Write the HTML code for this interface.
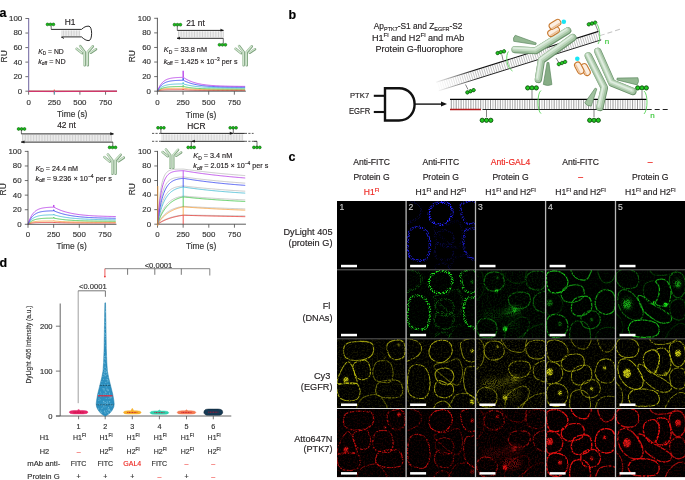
<!DOCTYPE html>
<html><head><meta charset="utf-8"><style>
html,body{margin:0;padding:0;background:#fff;overflow:hidden}
svg text{font-family:"Liberation Sans",sans-serif}
</style></head><body>
<svg width="685" height="480" viewBox="0 0 685 480" style="display:block;will-change:transform;font-family:'Liberation Sans',sans-serif">
<rect width="685" height="480" fill="#fff"/>
<text x="-0.50" y="17.00" font-size="12.5" text-anchor="start" fill="#000" font-weight="bold"  stroke="#000" stroke-width="0.16">a</text>
<text x="288.50" y="19.00" font-size="12.5" text-anchor="start" fill="#000" font-weight="bold"  stroke="#000" stroke-width="0.16">b</text>
<text x="288.50" y="161.00" font-size="12.5" text-anchor="start" fill="#000" font-weight="bold"  stroke="#000" stroke-width="0.16">c</text>
<text x="-0.50" y="266.50" font-size="12.5" text-anchor="start" fill="#000" font-weight="bold"  stroke="#000" stroke-width="0.16">d</text>
<line x1="28.60" y1="18.00" x2="28.60" y2="91.20" stroke="#4a4a4a" stroke-width="0.9" />
<line x1="28.60" y1="91.20" x2="117.04" y2="91.20" stroke="#4a4a4a" stroke-width="0.9" />
<line x1="25.40" y1="91.20" x2="28.60" y2="91.20" stroke="#4a4a4a" stroke-width="0.8" />
<text x="22.20" y="93.60" font-size="7.9" text-anchor="end" fill="#333" font-weight="normal"  stroke="#333" stroke-width="0.16">0</text>
<line x1="25.40" y1="76.66" x2="28.60" y2="76.66" stroke="#4a4a4a" stroke-width="0.8" />
<text x="22.20" y="79.06" font-size="7.9" text-anchor="end" fill="#333" font-weight="normal"  stroke="#333" stroke-width="0.16">20</text>
<line x1="25.40" y1="62.12" x2="28.60" y2="62.12" stroke="#4a4a4a" stroke-width="0.8" />
<text x="22.20" y="64.52" font-size="7.9" text-anchor="end" fill="#333" font-weight="normal"  stroke="#333" stroke-width="0.16">40</text>
<line x1="25.40" y1="47.58" x2="28.60" y2="47.58" stroke="#4a4a4a" stroke-width="0.8" />
<text x="22.20" y="49.98" font-size="7.9" text-anchor="end" fill="#333" font-weight="normal"  stroke="#333" stroke-width="0.16">60</text>
<line x1="25.40" y1="33.04" x2="28.60" y2="33.04" stroke="#4a4a4a" stroke-width="0.8" />
<text x="22.20" y="35.44" font-size="7.9" text-anchor="end" fill="#333" font-weight="normal"  stroke="#333" stroke-width="0.16">80</text>
<line x1="25.40" y1="18.50" x2="28.60" y2="18.50" stroke="#4a4a4a" stroke-width="0.8" />
<text x="22.20" y="20.90" font-size="7.9" text-anchor="end" fill="#333" font-weight="normal"  stroke="#333" stroke-width="0.16">100</text>
<line x1="28.60" y1="91.20" x2="28.60" y2="94.70" stroke="#4a4a4a" stroke-width="0.8" />
<text x="28.60" y="104.60" font-size="7.9" text-anchor="middle" fill="#333" font-weight="normal"  stroke="#333" stroke-width="0.16">0</text>
<line x1="54.25" y1="91.20" x2="54.25" y2="94.70" stroke="#4a4a4a" stroke-width="0.8" />
<text x="54.25" y="104.60" font-size="7.9" text-anchor="middle" fill="#333" font-weight="normal"  stroke="#333" stroke-width="0.16">250</text>
<line x1="79.90" y1="91.20" x2="79.90" y2="94.70" stroke="#4a4a4a" stroke-width="0.8" />
<text x="79.90" y="104.60" font-size="7.9" text-anchor="middle" fill="#333" font-weight="normal"  stroke="#333" stroke-width="0.16">500</text>
<line x1="105.55" y1="91.20" x2="105.55" y2="94.70" stroke="#4a4a4a" stroke-width="0.8" />
<text x="105.55" y="104.60" font-size="7.9" text-anchor="middle" fill="#333" font-weight="normal"  stroke="#333" stroke-width="0.16">750</text>
<text x="72.20" y="116.70" font-size="8.4" text-anchor="middle" fill="#333" font-weight="normal"  stroke="#333" stroke-width="0.16">Time (s)</text>
<text x="0" y="0" font-size="8.4" text-anchor="middle" fill="#333" transform="translate(6.5,56.35) rotate(-90)" stroke="#333" stroke-width="0.16">RU</text>
<path d="M28.6,91.4 L54,91.6 L117,91.2" stroke="#b232e6" stroke-width="0.9" fill="none"/>
<path d="M28.6,91.2 L117,91.2" stroke="#e8302a" stroke-width="0.9" fill="none"/>
<line x1="54.30" y1="89.50" x2="54.30" y2="93.50" stroke="#e8302a" stroke-width="0.8" />
<line x1="54.50" y1="91.00" x2="54.50" y2="94.30" stroke="#3ab8d0" stroke-width="0.7" />
<line x1="28.70" y1="18.50" x2="28.70" y2="91.00" stroke="#9b8cd8" stroke-width="0.8" />
<path d="M157.40,91.20 L157.91,91.00 L158.43,90.82 L158.94,90.67 L159.45,90.54 L159.97,90.43 L160.48,90.33 L160.99,90.25 L161.50,90.18 L162.02,90.12 L162.53,90.07 L163.04,90.02 L163.56,89.98 L164.07,89.95 L164.58,89.92 L165.09,89.89 L165.61,89.87 L166.12,89.86 L166.63,89.84 L167.15,89.83 L167.66,89.81 L168.17,89.80 L168.69,89.79 L169.20,89.79 L169.71,89.78 L170.22,89.78 L170.74,89.77 L171.25,89.77 L171.76,89.76 L172.28,89.76 L172.79,89.76 L173.30,89.76 L173.82,89.75 L174.33,89.75 L174.84,89.75 L175.36,89.75 L175.87,89.75 L176.38,89.75 L176.89,89.75 L177.41,89.75 L177.92,89.74 L178.43,89.74 L178.95,89.74 L179.46,89.74 L179.97,89.74 L180.49,89.74 L181.00,89.74 L181.51,89.74 L182.02,89.74 L182.54,89.74 L183.05,89.74 L183.15,89.01 L183.36,89.74 L183.56,89.76 L184.38,89.81 L185.20,89.86 L186.03,89.91 L186.85,89.95 L187.67,89.99 L188.49,90.03 L189.31,90.06 L190.13,90.09 L190.95,90.12 L191.77,90.15 L192.59,90.17 L193.41,90.20 L194.23,90.22 L195.05,90.24 L195.88,90.26 L196.70,90.27 L197.52,90.29 L198.34,90.30 L199.16,90.31 L199.98,90.33 L200.80,90.34 L201.62,90.35 L202.44,90.36 L203.26,90.37 L204.08,90.37 L204.90,90.38 L205.72,90.39 L206.55,90.39 L207.37,90.40 L208.19,90.41 L209.01,90.41 L209.83,90.42 L210.65,90.42 L211.47,90.42 L212.29,90.43 L213.11,90.43 L213.93,90.43 L214.75,90.44 L215.57,90.44 L216.40,90.44 L217.22,90.44 L218.04,90.45 L218.86,90.45 L219.68,90.45 L220.50,90.45 L221.32,90.45 L222.14,90.45 L222.96,90.46 L223.78,90.46 L224.60,90.46 L225.42,90.46 L226.24,90.46 L227.07,90.46 L227.89,90.46 L228.71,90.46 L229.53,90.46 L230.35,90.46 L231.17,90.46 L231.99,90.46 L232.81,90.47 L233.63,90.47 L234.45,90.47 L235.27,90.47 L236.09,90.47 L236.92,90.47 L237.74,90.47 L238.56,90.47 L239.38,90.47 L240.20,90.47 L241.02,90.47 L241.84,90.47 L242.66,90.47 L243.48,90.47 L244.30,90.47 L245.12,90.47" fill="none" stroke="#e8302a" stroke-width="0.8"/>
<path d="M157.40,91.20 L157.91,90.86 L158.43,90.55 L158.94,90.29 L159.45,90.05 L159.97,89.84 L160.48,89.66 L160.99,89.50 L161.50,89.35 L162.02,89.23 L162.53,89.12 L163.04,89.02 L163.56,88.93 L164.07,88.85 L164.58,88.79 L165.09,88.73 L165.61,88.67 L166.12,88.63 L166.63,88.59 L167.15,88.55 L167.66,88.52 L168.17,88.49 L168.69,88.47 L169.20,88.44 L169.71,88.42 L170.22,88.41 L170.74,88.39 L171.25,88.38 L171.76,88.37 L172.28,88.36 L172.79,88.35 L173.30,88.34 L173.82,88.33 L174.33,88.33 L174.84,88.32 L175.36,88.32 L175.87,88.31 L176.38,88.31 L176.89,88.30 L177.41,88.30 L177.92,88.30 L178.43,88.30 L178.95,88.29 L179.46,88.29 L179.97,88.29 L180.49,88.29 L181.00,88.29 L181.51,88.29 L182.02,88.29 L182.54,88.28 L183.05,88.28 L183.15,87.56 L183.36,88.28 L183.56,88.31 L184.38,88.42 L185.20,88.52 L186.03,88.62 L186.85,88.70 L187.67,88.78 L188.49,88.86 L189.31,88.93 L190.13,88.99 L190.95,89.05 L191.77,89.10 L192.59,89.15 L193.41,89.19 L194.23,89.24 L195.05,89.28 L195.88,89.31 L196.70,89.34 L197.52,89.38 L198.34,89.40 L199.16,89.43 L199.98,89.45 L200.80,89.48 L201.62,89.50 L202.44,89.52 L203.26,89.53 L204.08,89.55 L204.90,89.56 L205.72,89.58 L206.55,89.59 L207.37,89.60 L208.19,89.61 L209.01,89.62 L209.83,89.63 L210.65,89.64 L211.47,89.65 L212.29,89.66 L213.11,89.66 L213.93,89.67 L214.75,89.67 L215.57,89.68 L216.40,89.68 L217.22,89.69 L218.04,89.69 L218.86,89.70 L219.68,89.70 L220.50,89.70 L221.32,89.71 L222.14,89.71 L222.96,89.71 L223.78,89.71 L224.60,89.72 L225.42,89.72 L226.24,89.72 L227.07,89.72 L227.89,89.72 L228.71,89.72 L229.53,89.73 L230.35,89.73 L231.17,89.73 L231.99,89.73 L232.81,89.73 L233.63,89.73 L234.45,89.73 L235.27,89.73 L236.09,89.73 L236.92,89.73 L237.74,89.73 L238.56,89.74 L239.38,89.74 L240.20,89.74 L241.02,89.74 L241.84,89.74 L242.66,89.74 L243.48,89.74 L244.30,89.74 L245.12,89.74" fill="none" stroke="#f59a32" stroke-width="0.8"/>
<path d="M157.40,91.20 L157.91,90.75 L158.43,90.34 L158.94,89.96 L159.45,89.63 L159.97,89.32 L160.48,89.05 L160.99,88.80 L161.50,88.57 L162.02,88.37 L162.53,88.18 L163.04,88.02 L163.56,87.87 L164.07,87.73 L164.58,87.61 L165.09,87.49 L165.61,87.39 L166.12,87.30 L166.63,87.22 L167.15,87.14 L167.66,87.07 L168.17,87.01 L168.69,86.96 L169.20,86.91 L169.71,86.86 L170.22,86.82 L170.74,86.78 L171.25,86.75 L171.76,86.72 L172.28,86.69 L172.79,86.67 L173.30,86.64 L173.82,86.62 L174.33,86.61 L174.84,86.59 L175.36,86.57 L175.87,86.56 L176.38,86.55 L176.89,86.54 L177.41,86.53 L177.92,86.52 L178.43,86.51 L178.95,86.50 L179.46,86.49 L179.97,86.49 L180.49,86.48 L181.00,86.48 L181.51,86.47 L182.02,86.47 L182.54,86.46 L183.05,86.46 L183.15,85.37 L183.36,86.46 L183.56,86.51 L184.38,86.70 L185.20,86.88 L186.03,87.05 L186.85,87.20 L187.67,87.34 L188.49,87.47 L189.31,87.58 L190.13,87.69 L190.95,87.80 L191.77,87.89 L192.59,87.98 L193.41,88.06 L194.23,88.13 L195.05,88.20 L195.88,88.26 L196.70,88.32 L197.52,88.37 L198.34,88.42 L199.16,88.47 L199.98,88.51 L200.80,88.55 L201.62,88.58 L202.44,88.62 L203.26,88.65 L204.08,88.67 L204.90,88.70 L205.72,88.72 L206.55,88.75 L207.37,88.77 L208.19,88.79 L209.01,88.80 L209.83,88.82 L210.65,88.83 L211.47,88.85 L212.29,88.86 L213.11,88.87 L213.93,88.88 L214.75,88.89 L215.57,88.90 L216.40,88.91 L217.22,88.92 L218.04,88.93 L218.86,88.93 L219.68,88.94 L220.50,88.94 L221.32,88.95 L222.14,88.95 L222.96,88.96 L223.78,88.96 L224.60,88.97 L225.42,88.97 L226.24,88.97 L227.07,88.98 L227.89,88.98 L228.71,88.98 L229.53,88.98 L230.35,88.99 L231.17,88.99 L231.99,88.99 L232.81,88.99 L233.63,88.99 L234.45,89.00 L235.27,89.00 L236.09,89.00 L236.92,89.00 L237.74,89.00 L238.56,89.00 L239.38,89.00 L240.20,89.00 L241.02,89.00 L241.84,89.00 L242.66,89.01 L243.48,89.01 L244.30,89.01 L245.12,89.01" fill="none" stroke="#36c23e" stroke-width="0.8"/>
<path d="M157.40,91.20 L157.91,90.50 L158.43,89.87 L158.94,89.30 L159.45,88.78 L159.97,88.31 L160.48,87.89 L160.99,87.51 L161.50,87.16 L162.02,86.84 L162.53,86.56 L163.04,86.30 L163.56,86.07 L164.07,85.86 L164.58,85.67 L165.09,85.50 L165.61,85.34 L166.12,85.20 L166.63,85.07 L167.15,84.96 L167.66,84.85 L168.17,84.76 L168.69,84.67 L169.20,84.60 L169.71,84.53 L170.22,84.46 L170.74,84.41 L171.25,84.35 L171.76,84.31 L172.28,84.26 L172.79,84.23 L173.30,84.19 L173.82,84.16 L174.33,84.13 L174.84,84.11 L175.36,84.08 L175.87,84.06 L176.38,84.04 L176.89,84.02 L177.41,84.01 L177.92,83.99 L178.43,83.98 L178.95,83.97 L179.46,83.96 L179.97,83.95 L180.49,83.94 L181.00,83.93 L181.51,83.93 L182.02,83.92 L182.54,83.92 L183.05,83.91 L183.15,82.45 L183.36,83.91 L183.56,83.97 L184.38,84.22 L185.20,84.45 L186.03,84.66 L186.85,84.86 L187.67,85.05 L188.49,85.23 L189.31,85.40 L190.13,85.55 L190.95,85.70 L191.77,85.84 L192.59,85.97 L193.41,86.09 L194.23,86.20 L195.05,86.31 L195.88,86.41 L196.70,86.50 L197.52,86.59 L198.34,86.67 L199.16,86.75 L199.98,86.82 L200.80,86.89 L201.62,86.95 L202.44,87.01 L203.26,87.07 L204.08,87.12 L204.90,87.17 L205.72,87.22 L206.55,87.26 L207.37,87.30 L208.19,87.34 L209.01,87.38 L209.83,87.41 L210.65,87.44 L211.47,87.47 L212.29,87.50 L213.11,87.53 L213.93,87.55 L214.75,87.57 L215.57,87.59 L216.40,87.61 L217.22,87.63 L218.04,87.65 L218.86,87.67 L219.68,87.68 L220.50,87.70 L221.32,87.71 L222.14,87.72 L222.96,87.74 L223.78,87.75 L224.60,87.76 L225.42,87.77 L226.24,87.78 L227.07,87.79 L227.89,87.79 L228.71,87.80 L229.53,87.81 L230.35,87.82 L231.17,87.82 L231.99,87.83 L232.81,87.83 L233.63,87.84 L234.45,87.84 L235.27,87.85 L236.09,87.85 L236.92,87.86 L237.74,87.86 L238.56,87.87 L239.38,87.87 L240.20,87.87 L241.02,87.87 L241.84,87.88 L242.66,87.88 L243.48,87.88 L244.30,87.88 L245.12,87.89" fill="none" stroke="#3ab8d0" stroke-width="0.8"/>
<path d="M157.40,91.20 L157.91,90.15 L158.43,89.20 L158.94,88.35 L159.45,87.57 L159.97,86.87 L160.48,86.23 L160.99,85.66 L161.50,85.14 L162.02,84.67 L162.53,84.24 L163.04,83.86 L163.56,83.51 L164.07,83.19 L164.58,82.91 L165.09,82.65 L165.61,82.41 L166.12,82.20 L166.63,82.01 L167.15,81.84 L167.66,81.68 L168.17,81.54 L168.69,81.41 L169.20,81.29 L169.71,81.19 L170.22,81.09 L170.74,81.01 L171.25,80.93 L171.76,80.86 L172.28,80.80 L172.79,80.74 L173.30,80.69 L173.82,80.64 L174.33,80.60 L174.84,80.56 L175.36,80.52 L175.87,80.49 L176.38,80.46 L176.89,80.44 L177.41,80.41 L177.92,80.39 L178.43,80.37 L178.95,80.36 L179.46,80.34 L179.97,80.33 L180.49,80.31 L181.00,80.30 L181.51,80.29 L182.02,80.28 L182.54,80.27 L183.05,80.27 L183.15,78.08 L183.36,80.27 L183.56,80.37 L184.38,80.80 L185.20,81.19 L186.03,81.57 L186.85,81.91 L187.67,82.24 L188.49,82.55 L189.31,82.84 L190.13,83.11 L190.95,83.36 L191.77,83.60 L192.59,83.82 L193.41,84.03 L194.23,84.22 L195.05,84.41 L195.88,84.58 L196.70,84.74 L197.52,84.89 L198.34,85.04 L199.16,85.17 L199.98,85.30 L200.80,85.41 L201.62,85.52 L202.44,85.63 L203.26,85.72 L204.08,85.81 L204.90,85.90 L205.72,85.98 L206.55,86.05 L207.37,86.13 L208.19,86.19 L209.01,86.25 L209.83,86.31 L210.65,86.37 L211.47,86.42 L212.29,86.46 L213.11,86.51 L213.93,86.55 L214.75,86.59 L215.57,86.63 L216.40,86.66 L217.22,86.70 L218.04,86.73 L218.86,86.76 L219.68,86.78 L220.50,86.81 L221.32,86.83 L222.14,86.85 L222.96,86.87 L223.78,86.89 L224.60,86.91 L225.42,86.93 L226.24,86.95 L227.07,86.96 L227.89,86.98 L228.71,86.99 L229.53,87.00 L230.35,87.01 L231.17,87.02 L231.99,87.03 L232.81,87.04 L233.63,87.05 L234.45,87.06 L235.27,87.07 L236.09,87.08 L236.92,87.08 L237.74,87.09 L238.56,87.10 L239.38,87.10 L240.20,87.11 L241.02,87.11 L241.84,87.12 L242.66,87.12 L243.48,87.13 L244.30,87.13 L245.12,87.13" fill="none" stroke="#2c3cf0" stroke-width="0.8"/>
<path d="M157.40,91.20 L157.91,89.87 L158.43,88.67 L158.94,87.59 L159.45,86.60 L159.97,85.71 L160.48,84.91 L160.99,84.18 L161.50,83.52 L162.02,82.92 L162.53,82.39 L163.04,81.90 L163.56,81.46 L164.07,81.06 L164.58,80.69 L165.09,80.37 L165.61,80.07 L166.12,79.80 L166.63,79.56 L167.15,79.34 L167.66,79.14 L168.17,78.96 L168.69,78.80 L169.20,78.65 L169.71,78.52 L170.22,78.40 L170.74,78.29 L171.25,78.19 L171.76,78.10 L172.28,78.02 L172.79,77.95 L173.30,77.88 L173.82,77.82 L174.33,77.77 L174.84,77.72 L175.36,77.68 L175.87,77.64 L176.38,77.60 L176.89,77.57 L177.41,77.54 L177.92,77.51 L178.43,77.49 L178.95,77.46 L179.46,77.44 L179.97,77.43 L180.49,77.41 L181.00,77.40 L181.51,77.38 L182.02,77.37 L182.54,77.36 L183.05,77.35 L183.15,70.79 L183.36,77.35 L183.56,77.49 L184.38,78.05 L185.20,78.57 L186.03,79.06 L186.85,79.52 L187.67,79.95 L188.49,80.35 L189.31,80.73 L190.13,81.09 L190.95,81.42 L191.77,81.73 L192.59,82.03 L193.41,82.30 L194.23,82.56 L195.05,82.80 L195.88,83.03 L196.70,83.24 L197.52,83.44 L198.34,83.63 L199.16,83.80 L199.98,83.97 L200.80,84.12 L201.62,84.27 L202.44,84.40 L203.26,84.53 L204.08,84.65 L204.90,84.76 L205.72,84.87 L206.55,84.97 L207.37,85.06 L208.19,85.15 L209.01,85.23 L209.83,85.30 L210.65,85.38 L211.47,85.44 L212.29,85.51 L213.11,85.57 L213.93,85.62 L214.75,85.67 L215.57,85.72 L216.40,85.77 L217.22,85.81 L218.04,85.85 L218.86,85.89 L219.68,85.92 L220.50,85.96 L221.32,85.99 L222.14,86.02 L222.96,86.05 L223.78,86.07 L224.60,86.10 L225.42,86.12 L226.24,86.14 L227.07,86.16 L227.89,86.18 L228.71,86.20 L229.53,86.21 L230.35,86.23 L231.17,86.24 L231.99,86.26 L232.81,86.27 L233.63,86.28 L234.45,86.29 L235.27,86.30 L236.09,86.31 L236.92,86.32 L237.74,86.33 L238.56,86.34 L239.38,86.35 L240.20,86.35 L241.02,86.36 L241.84,86.37 L242.66,86.37 L243.48,86.38 L244.30,86.38 L245.12,86.39" fill="none" stroke="#b232e6" stroke-width="0.8"/>
<line x1="157.40" y1="17.80" x2="157.40" y2="91.20" stroke="#4a4a4a" stroke-width="0.9" />
<line x1="157.40" y1="91.20" x2="245.84" y2="91.20" stroke="#4a4a4a" stroke-width="0.9" />
<line x1="154.20" y1="91.20" x2="157.40" y2="91.20" stroke="#4a4a4a" stroke-width="0.8" />
<text x="151.00" y="93.60" font-size="7.9" text-anchor="end" fill="#333" font-weight="normal"  stroke="#333" stroke-width="0.16">0</text>
<line x1="154.20" y1="76.62" x2="157.40" y2="76.62" stroke="#4a4a4a" stroke-width="0.8" />
<text x="151.00" y="79.02" font-size="7.9" text-anchor="end" fill="#333" font-weight="normal"  stroke="#333" stroke-width="0.16">20</text>
<line x1="154.20" y1="62.04" x2="157.40" y2="62.04" stroke="#4a4a4a" stroke-width="0.8" />
<text x="151.00" y="64.44" font-size="7.9" text-anchor="end" fill="#333" font-weight="normal"  stroke="#333" stroke-width="0.16">40</text>
<line x1="154.20" y1="47.46" x2="157.40" y2="47.46" stroke="#4a4a4a" stroke-width="0.8" />
<text x="151.00" y="49.86" font-size="7.9" text-anchor="end" fill="#333" font-weight="normal"  stroke="#333" stroke-width="0.16">60</text>
<line x1="154.20" y1="32.88" x2="157.40" y2="32.88" stroke="#4a4a4a" stroke-width="0.8" />
<text x="151.00" y="35.28" font-size="7.9" text-anchor="end" fill="#333" font-weight="normal"  stroke="#333" stroke-width="0.16">80</text>
<line x1="154.20" y1="18.30" x2="157.40" y2="18.30" stroke="#4a4a4a" stroke-width="0.8" />
<text x="151.00" y="20.70" font-size="7.9" text-anchor="end" fill="#333" font-weight="normal"  stroke="#333" stroke-width="0.16">100</text>
<line x1="157.40" y1="91.20" x2="157.40" y2="94.70" stroke="#4a4a4a" stroke-width="0.8" />
<text x="157.40" y="104.60" font-size="7.9" text-anchor="middle" fill="#333" font-weight="normal"  stroke="#333" stroke-width="0.16">0</text>
<line x1="183.05" y1="91.20" x2="183.05" y2="94.70" stroke="#4a4a4a" stroke-width="0.8" />
<text x="183.05" y="104.60" font-size="7.9" text-anchor="middle" fill="#333" font-weight="normal"  stroke="#333" stroke-width="0.16">250</text>
<line x1="208.70" y1="91.20" x2="208.70" y2="94.70" stroke="#4a4a4a" stroke-width="0.8" />
<text x="208.70" y="104.60" font-size="7.9" text-anchor="middle" fill="#333" font-weight="normal"  stroke="#333" stroke-width="0.16">500</text>
<line x1="234.35" y1="91.20" x2="234.35" y2="94.70" stroke="#4a4a4a" stroke-width="0.8" />
<text x="234.35" y="104.60" font-size="7.9" text-anchor="middle" fill="#333" font-weight="normal"  stroke="#333" stroke-width="0.16">750</text>
<text x="201.00" y="117.60" font-size="8.4" text-anchor="middle" fill="#333" font-weight="normal"  stroke="#333" stroke-width="0.16">Time (s)</text>
<text x="0" y="0" font-size="8.4" text-anchor="middle" fill="#333" transform="translate(135.3,56.25) rotate(-90)" stroke="#333" stroke-width="0.16">RU</text>
<path d="M28.00,224.30 L28.51,224.05 L29.03,223.83 L29.54,223.64 L30.05,223.48 L30.57,223.34 L31.08,223.22 L31.59,223.11 L32.10,223.03 L32.62,222.95 L33.13,222.88 L33.64,222.83 L34.16,222.78 L34.67,222.74 L35.18,222.70 L35.70,222.67 L36.21,222.64 L36.72,222.62 L37.23,222.60 L37.75,222.58 L38.26,222.57 L38.77,222.55 L39.29,222.54 L39.80,222.53 L40.31,222.53 L40.83,222.52 L41.34,222.51 L41.85,222.51 L42.36,222.50 L42.88,222.50 L43.39,222.50 L43.90,222.49 L44.42,222.49 L44.93,222.49 L45.44,222.49 L45.95,222.49 L46.47,222.48 L46.98,222.48 L47.49,222.48 L48.01,222.48 L48.52,222.48 L49.03,222.48 L49.55,222.48 L50.06,222.48 L50.57,222.48 L51.09,222.48 L51.60,222.48 L52.11,222.48 L52.62,222.48 L53.14,222.48 L53.65,222.48 L53.75,222.11 L53.96,222.48 L54.16,222.49 L54.98,222.52 L55.80,222.55 L56.63,222.57 L57.45,222.60 L58.27,222.62 L59.09,222.65 L59.91,222.67 L60.73,222.69 L61.55,222.71 L62.37,222.72 L63.19,222.74 L64.01,222.75 L64.83,222.77 L65.65,222.78 L66.47,222.80 L67.30,222.81 L68.12,222.82 L68.94,222.83 L69.76,222.84 L70.58,222.85 L71.40,222.86 L72.22,222.86 L73.04,222.87 L73.86,222.88 L74.68,222.89 L75.50,222.89 L76.32,222.90 L77.15,222.90 L77.97,222.91 L78.79,222.91 L79.61,222.92 L80.43,222.92 L81.25,222.93 L82.07,222.93 L82.89,222.93 L83.71,222.94 L84.53,222.94 L85.35,222.94 L86.17,222.95 L87.00,222.95 L87.82,222.95 L88.64,222.95 L89.46,222.96 L90.28,222.96 L91.10,222.96 L91.92,222.96 L92.74,222.96 L93.56,222.96 L94.38,222.97 L95.20,222.97 L96.02,222.97 L96.84,222.97 L97.67,222.97 L98.49,222.97 L99.31,222.97 L100.13,222.97 L100.95,222.97 L101.77,222.98 L102.59,222.98 L103.41,222.98 L104.23,222.98 L105.05,222.98 L105.87,222.98 L106.69,222.98 L107.52,222.98 L108.34,222.98 L109.16,222.98 L109.98,222.98 L110.80,222.98 L111.62,222.98 L112.44,222.98 L113.26,222.98 L114.08,222.98 L114.90,222.98 L115.72,222.98" fill="none" stroke="#e8302a" stroke-width="0.8"/>
<path d="M28.00,224.30 L28.51,223.91 L29.03,223.57 L29.54,223.27 L30.05,223.01 L30.57,222.77 L31.08,222.57 L31.59,222.38 L32.10,222.22 L32.62,222.08 L33.13,221.95 L33.64,221.84 L34.16,221.75 L34.67,221.66 L35.18,221.58 L35.70,221.52 L36.21,221.46 L36.72,221.41 L37.23,221.36 L37.75,221.32 L38.26,221.28 L38.77,221.25 L39.29,221.22 L39.80,221.20 L40.31,221.18 L40.83,221.16 L41.34,221.14 L41.85,221.13 L42.36,221.11 L42.88,221.10 L43.39,221.09 L43.90,221.08 L44.42,221.07 L44.93,221.07 L45.44,221.06 L45.95,221.05 L46.47,221.05 L46.98,221.05 L47.49,221.04 L48.01,221.04 L48.52,221.04 L49.03,221.03 L49.55,221.03 L50.06,221.03 L50.57,221.03 L51.09,221.03 L51.60,221.02 L52.11,221.02 L52.62,221.02 L53.14,221.02 L53.65,221.02 L53.75,220.66 L53.96,221.02 L54.16,221.04 L54.98,221.11 L55.80,221.19 L56.63,221.25 L57.45,221.31 L58.27,221.37 L59.09,221.43 L59.91,221.48 L60.73,221.53 L61.55,221.57 L62.37,221.62 L63.19,221.66 L64.01,221.69 L64.83,221.73 L65.65,221.76 L66.47,221.79 L67.30,221.82 L68.12,221.85 L68.94,221.87 L69.76,221.90 L70.58,221.92 L71.40,221.94 L72.22,221.96 L73.04,221.98 L73.86,222.00 L74.68,222.01 L75.50,222.03 L76.32,222.04 L77.15,222.06 L77.97,222.07 L78.79,222.08 L79.61,222.09 L80.43,222.10 L81.25,222.11 L82.07,222.12 L82.89,222.13 L83.71,222.14 L84.53,222.14 L85.35,222.15 L86.17,222.16 L87.00,222.16 L87.82,222.17 L88.64,222.18 L89.46,222.18 L90.28,222.19 L91.10,222.19 L91.92,222.19 L92.74,222.20 L93.56,222.20 L94.38,222.21 L95.20,222.21 L96.02,222.21 L96.84,222.22 L97.67,222.22 L98.49,222.22 L99.31,222.22 L100.13,222.22 L100.95,222.23 L101.77,222.23 L102.59,222.23 L103.41,222.23 L104.23,222.23 L105.05,222.24 L105.87,222.24 L106.69,222.24 L107.52,222.24 L108.34,222.24 L109.16,222.24 L109.98,222.24 L110.80,222.24 L111.62,222.24 L112.44,222.25 L113.26,222.25 L114.08,222.25 L114.90,222.25 L115.72,222.25" fill="none" stroke="#f59a32" stroke-width="0.8"/>
<path d="M28.00,224.30 L28.51,223.71 L29.03,223.17 L29.54,222.68 L30.05,222.24 L30.57,221.85 L31.08,221.49 L31.59,221.16 L32.10,220.86 L32.62,220.60 L33.13,220.36 L33.64,220.14 L34.16,219.94 L34.67,219.76 L35.18,219.60 L35.70,219.45 L36.21,219.32 L36.72,219.20 L37.23,219.09 L37.75,218.99 L38.26,218.91 L38.77,218.83 L39.29,218.75 L39.80,218.69 L40.31,218.63 L40.83,218.57 L41.34,218.52 L41.85,218.48 L42.36,218.44 L42.88,218.40 L43.39,218.37 L43.90,218.34 L44.42,218.32 L44.93,218.29 L45.44,218.27 L45.95,218.25 L46.47,218.23 L46.98,218.22 L47.49,218.20 L48.01,218.19 L48.52,218.18 L49.03,218.16 L49.55,218.16 L50.06,218.15 L50.57,218.14 L51.09,218.13 L51.60,218.12 L52.11,218.12 L52.62,218.11 L53.14,218.11 L53.65,218.10 L53.75,217.37 L53.96,218.10 L54.16,218.15 L54.98,218.32 L55.80,218.47 L56.63,218.63 L57.45,218.77 L58.27,218.90 L59.09,219.03 L59.91,219.15 L60.73,219.26 L61.55,219.37 L62.37,219.47 L63.19,219.57 L64.01,219.66 L64.83,219.75 L65.65,219.83 L66.47,219.90 L67.30,219.98 L68.12,220.05 L68.94,220.11 L69.76,220.17 L70.58,220.23 L71.40,220.28 L72.22,220.34 L73.04,220.39 L73.86,220.43 L74.68,220.48 L75.50,220.52 L76.32,220.56 L77.15,220.59 L77.97,220.63 L78.79,220.66 L79.61,220.69 L80.43,220.72 L81.25,220.75 L82.07,220.78 L82.89,220.80 L83.71,220.83 L84.53,220.85 L85.35,220.87 L86.17,220.89 L87.00,220.91 L87.82,220.93 L88.64,220.94 L89.46,220.96 L90.28,220.98 L91.10,220.99 L91.92,221.00 L92.74,221.02 L93.56,221.03 L94.38,221.04 L95.20,221.05 L96.02,221.06 L96.84,221.07 L97.67,221.08 L98.49,221.09 L99.31,221.10 L100.13,221.10 L100.95,221.11 L101.77,221.12 L102.59,221.12 L103.41,221.13 L104.23,221.14 L105.05,221.14 L105.87,221.15 L106.69,221.15 L107.52,221.16 L108.34,221.16 L109.16,221.17 L109.98,221.17 L110.80,221.17 L111.62,221.18 L112.44,221.18 L113.26,221.18 L114.08,221.19 L114.90,221.19 L115.72,221.19" fill="none" stroke="#36c23e" stroke-width="0.8"/>
<path d="M28.00,224.30 L28.51,223.39 L29.03,222.57 L29.54,221.83 L30.05,221.15 L30.57,220.55 L31.08,220.00 L31.59,219.50 L32.10,219.05 L32.62,218.64 L33.13,218.27 L33.64,217.93 L34.16,217.63 L34.67,217.36 L35.18,217.11 L35.70,216.89 L36.21,216.69 L36.72,216.50 L37.23,216.34 L37.75,216.19 L38.26,216.05 L38.77,215.93 L39.29,215.82 L39.80,215.72 L40.31,215.62 L40.83,215.54 L41.34,215.47 L41.85,215.40 L42.36,215.34 L42.88,215.28 L43.39,215.23 L43.90,215.19 L44.42,215.15 L44.93,215.11 L45.44,215.08 L45.95,215.05 L46.47,215.02 L46.98,214.99 L47.49,214.97 L48.01,214.95 L48.52,214.93 L49.03,214.92 L49.55,214.90 L50.06,214.89 L50.57,214.88 L51.09,214.86 L51.60,214.85 L52.11,214.85 L52.62,214.84 L53.14,214.83 L53.65,214.82 L53.75,214.09 L53.96,214.82 L54.16,214.88 L54.98,215.12 L55.80,215.35 L56.63,215.56 L57.45,215.76 L58.27,215.96 L59.09,216.15 L59.91,216.32 L60.73,216.49 L61.55,216.65 L62.37,216.81 L63.19,216.95 L64.01,217.09 L64.83,217.22 L65.65,217.35 L66.47,217.47 L67.30,217.59 L68.12,217.70 L68.94,217.80 L69.76,217.90 L70.58,218.00 L71.40,218.09 L72.22,218.17 L73.04,218.25 L73.86,218.33 L74.68,218.41 L75.50,218.48 L76.32,218.55 L77.15,218.61 L77.97,218.67 L78.79,218.73 L79.61,218.79 L80.43,218.84 L81.25,218.89 L82.07,218.94 L82.89,218.99 L83.71,219.03 L84.53,219.07 L85.35,219.11 L86.17,219.15 L87.00,219.19 L87.82,219.22 L88.64,219.25 L89.46,219.29 L90.28,219.32 L91.10,219.34 L91.92,219.37 L92.74,219.40 L93.56,219.42 L94.38,219.45 L95.20,219.47 L96.02,219.49 L96.84,219.51 L97.67,219.53 L98.49,219.55 L99.31,219.57 L100.13,219.58 L100.95,219.60 L101.77,219.61 L102.59,219.63 L103.41,219.64 L104.23,219.66 L105.05,219.67 L105.87,219.68 L106.69,219.69 L107.52,219.70 L108.34,219.71 L109.16,219.72 L109.98,219.73 L110.80,219.74 L111.62,219.75 L112.44,219.76 L113.26,219.77 L114.08,219.77 L114.90,219.78 L115.72,219.79" fill="none" stroke="#3ab8d0" stroke-width="0.8"/>
<path d="M28.00,224.30 L28.51,223.01 L29.03,221.84 L29.54,220.78 L30.05,219.82 L30.57,218.96 L31.08,218.17 L31.59,217.46 L32.10,216.82 L32.62,216.24 L33.13,215.72 L33.64,215.24 L34.16,214.81 L34.67,214.42 L35.18,214.07 L35.70,213.75 L36.21,213.46 L36.72,213.20 L37.23,212.97 L37.75,212.75 L38.26,212.56 L38.77,212.38 L39.29,212.23 L39.80,212.08 L40.31,211.95 L40.83,211.84 L41.34,211.73 L41.85,211.63 L42.36,211.55 L42.88,211.47 L43.39,211.40 L43.90,211.33 L44.42,211.28 L44.93,211.22 L45.44,211.18 L45.95,211.13 L46.47,211.09 L46.98,211.06 L47.49,211.03 L48.01,211.00 L48.52,210.97 L49.03,210.95 L49.55,210.93 L50.06,210.91 L50.57,210.89 L51.09,210.87 L51.60,210.86 L52.11,210.85 L52.62,210.83 L53.14,210.82 L53.65,210.81 L53.75,209.72 L53.96,210.81 L54.16,210.90 L54.98,211.26 L55.80,211.60 L56.63,211.92 L57.45,212.23 L58.27,212.52 L59.09,212.80 L59.91,213.06 L60.73,213.32 L61.55,213.56 L62.37,213.79 L63.19,214.01 L64.01,214.22 L64.83,214.42 L65.65,214.61 L66.47,214.79 L67.30,214.96 L68.12,215.12 L68.94,215.28 L69.76,215.43 L70.58,215.57 L71.40,215.71 L72.22,215.84 L73.04,215.96 L73.86,216.08 L74.68,216.19 L75.50,216.30 L76.32,216.40 L77.15,216.50 L77.97,216.59 L78.79,216.68 L79.61,216.76 L80.43,216.84 L81.25,216.92 L82.07,216.99 L82.89,217.06 L83.71,217.12 L84.53,217.19 L85.35,217.25 L86.17,217.30 L87.00,217.36 L87.82,217.41 L88.64,217.46 L89.46,217.51 L90.28,217.55 L91.10,217.60 L91.92,217.64 L92.74,217.68 L93.56,217.71 L94.38,217.75 L95.20,217.78 L96.02,217.81 L96.84,217.84 L97.67,217.87 L98.49,217.90 L99.31,217.93 L100.13,217.95 L100.95,217.98 L101.77,218.00 L102.59,218.02 L103.41,218.04 L104.23,218.06 L105.05,218.08 L105.87,218.10 L106.69,218.12 L107.52,218.13 L108.34,218.15 L109.16,218.16 L109.98,218.18 L110.80,218.19 L111.62,218.21 L112.44,218.22 L113.26,218.23 L114.08,218.24 L114.90,218.25 L115.72,218.26" fill="none" stroke="#2c3cf0" stroke-width="0.8"/>
<path d="M28.00,224.30 L28.51,222.66 L29.03,221.17 L29.54,219.83 L30.05,218.61 L30.57,217.51 L31.08,216.52 L31.59,215.62 L32.10,214.80 L32.62,214.06 L33.13,213.40 L33.64,212.79 L34.16,212.25 L34.67,211.75 L35.18,211.31 L35.70,210.90 L36.21,210.53 L36.72,210.20 L37.23,209.90 L37.75,209.63 L38.26,209.39 L38.77,209.16 L39.29,208.96 L39.80,208.78 L40.31,208.62 L40.83,208.47 L41.34,208.33 L41.85,208.21 L42.36,208.10 L42.88,208.00 L43.39,207.91 L43.90,207.83 L44.42,207.76 L44.93,207.69 L45.44,207.63 L45.95,207.57 L46.47,207.52 L46.98,207.48 L47.49,207.44 L48.01,207.40 L48.52,207.37 L49.03,207.34 L49.55,207.31 L50.06,207.29 L50.57,207.26 L51.09,207.24 L51.60,207.23 L52.11,207.21 L52.62,207.19 L53.14,207.18 L53.65,207.17 L53.75,204.98 L53.96,207.17 L54.16,207.28 L54.98,207.73 L55.80,208.15 L56.63,208.56 L57.45,208.94 L58.27,209.31 L59.09,209.66 L59.91,210.00 L60.73,210.32 L61.55,210.62 L62.37,210.91 L63.19,211.18 L64.01,211.45 L64.83,211.70 L65.65,211.94 L66.47,212.16 L67.30,212.38 L68.12,212.59 L68.94,212.78 L69.76,212.97 L70.58,213.15 L71.40,213.32 L72.22,213.48 L73.04,213.64 L73.86,213.79 L74.68,213.93 L75.50,214.06 L76.32,214.19 L77.15,214.31 L77.97,214.43 L78.79,214.54 L79.61,214.64 L80.43,214.74 L81.25,214.84 L82.07,214.93 L82.89,215.02 L83.71,215.10 L84.53,215.18 L85.35,215.26 L86.17,215.33 L87.00,215.40 L87.82,215.46 L88.64,215.52 L89.46,215.58 L90.28,215.64 L91.10,215.69 L91.92,215.75 L92.74,215.80 L93.56,215.84 L94.38,215.89 L95.20,215.93 L96.02,215.97 L96.84,216.01 L97.67,216.04 L98.49,216.08 L99.31,216.11 L100.13,216.14 L100.95,216.17 L101.77,216.20 L102.59,216.23 L103.41,216.26 L104.23,216.28 L105.05,216.31 L105.87,216.33 L106.69,216.35 L107.52,216.37 L108.34,216.39 L109.16,216.41 L109.98,216.43 L110.80,216.44 L111.62,216.46 L112.44,216.48 L113.26,216.49 L114.08,216.51 L114.90,216.52 L115.72,216.53" fill="none" stroke="#b232e6" stroke-width="0.8"/>
<line x1="28.00" y1="150.90" x2="28.00" y2="224.30" stroke="#4a4a4a" stroke-width="0.9" />
<line x1="28.00" y1="224.30" x2="116.44" y2="224.30" stroke="#4a4a4a" stroke-width="0.9" />
<line x1="24.80" y1="224.30" x2="28.00" y2="224.30" stroke="#4a4a4a" stroke-width="0.8" />
<text x="21.60" y="226.70" font-size="7.9" text-anchor="end" fill="#333" font-weight="normal"  stroke="#333" stroke-width="0.16">0</text>
<line x1="24.80" y1="209.72" x2="28.00" y2="209.72" stroke="#4a4a4a" stroke-width="0.8" />
<text x="21.60" y="212.12" font-size="7.9" text-anchor="end" fill="#333" font-weight="normal"  stroke="#333" stroke-width="0.16">20</text>
<line x1="24.80" y1="195.14" x2="28.00" y2="195.14" stroke="#4a4a4a" stroke-width="0.8" />
<text x="21.60" y="197.54" font-size="7.9" text-anchor="end" fill="#333" font-weight="normal"  stroke="#333" stroke-width="0.16">40</text>
<line x1="24.80" y1="180.56" x2="28.00" y2="180.56" stroke="#4a4a4a" stroke-width="0.8" />
<text x="21.60" y="182.96" font-size="7.9" text-anchor="end" fill="#333" font-weight="normal"  stroke="#333" stroke-width="0.16">60</text>
<line x1="24.80" y1="165.98" x2="28.00" y2="165.98" stroke="#4a4a4a" stroke-width="0.8" />
<text x="21.60" y="168.38" font-size="7.9" text-anchor="end" fill="#333" font-weight="normal"  stroke="#333" stroke-width="0.16">80</text>
<line x1="24.80" y1="151.40" x2="28.00" y2="151.40" stroke="#4a4a4a" stroke-width="0.8" />
<text x="21.60" y="153.80" font-size="7.9" text-anchor="end" fill="#333" font-weight="normal"  stroke="#333" stroke-width="0.16">100</text>
<line x1="28.00" y1="224.30" x2="28.00" y2="227.80" stroke="#4a4a4a" stroke-width="0.8" />
<text x="28.00" y="236.70" font-size="7.9" text-anchor="middle" fill="#333" font-weight="normal"  stroke="#333" stroke-width="0.16">0</text>
<line x1="53.65" y1="224.30" x2="53.65" y2="227.80" stroke="#4a4a4a" stroke-width="0.8" />
<text x="53.65" y="236.70" font-size="7.9" text-anchor="middle" fill="#333" font-weight="normal"  stroke="#333" stroke-width="0.16">250</text>
<line x1="79.30" y1="224.30" x2="79.30" y2="227.80" stroke="#4a4a4a" stroke-width="0.8" />
<text x="79.30" y="236.70" font-size="7.9" text-anchor="middle" fill="#333" font-weight="normal"  stroke="#333" stroke-width="0.16">500</text>
<line x1="104.95" y1="224.30" x2="104.95" y2="227.80" stroke="#4a4a4a" stroke-width="0.8" />
<text x="104.95" y="236.70" font-size="7.9" text-anchor="middle" fill="#333" font-weight="normal"  stroke="#333" stroke-width="0.16">750</text>
<text x="71.60" y="248.70" font-size="8.4" text-anchor="middle" fill="#333" font-weight="normal"  stroke="#333" stroke-width="0.16">Time (s)</text>
<text x="0" y="0" font-size="8.4" text-anchor="middle" fill="#333" transform="translate(6.3,189.35000000000002) rotate(-90)" stroke="#333" stroke-width="0.16">RU</text>
<path d="M157.50,224.20 L158.01,223.80 L158.53,223.41 L159.04,223.04 L159.55,222.68 L160.06,222.34 L160.58,222.01 L161.09,221.68 L161.60,221.38 L162.12,221.08 L162.63,220.79 L163.14,220.52 L163.66,220.25 L164.17,220.00 L164.68,219.75 L165.19,219.51 L165.71,219.28 L166.22,219.06 L166.73,218.85 L167.25,218.65 L167.76,218.45 L168.27,218.26 L168.79,218.08 L169.30,217.90 L169.81,217.74 L170.32,217.57 L170.84,217.42 L171.35,217.26 L171.86,217.12 L172.38,216.98 L172.89,216.84 L173.40,216.71 L173.92,216.59 L174.43,216.47 L174.94,216.35 L175.45,216.24 L175.97,216.13 L176.48,216.03 L176.99,215.93 L177.51,215.83 L178.02,215.74 L178.53,215.65 L179.05,215.56 L179.56,215.48 L180.07,215.40 L180.59,215.32 L181.10,215.25 L181.61,215.18 L182.12,215.11 L182.64,215.04 L183.15,214.98 L183.66,214.98 L184.48,215.00 L185.30,215.01 L186.13,215.02 L186.95,215.04 L187.77,215.05 L188.59,215.07 L189.41,215.08 L190.23,215.10 L191.05,215.11 L191.87,215.12 L192.69,215.14 L193.51,215.15 L194.33,215.16 L195.15,215.18 L195.97,215.19 L196.80,215.20 L197.62,215.22 L198.44,215.23 L199.26,215.24 L200.08,215.26 L200.90,215.27 L201.72,215.28 L202.54,215.29 L203.36,215.31 L204.18,215.32 L205.00,215.33 L205.82,215.34 L206.65,215.36 L207.47,215.37 L208.29,215.38 L209.11,215.39 L209.93,215.40 L210.75,215.41 L211.57,215.43 L212.39,215.44 L213.21,215.45 L214.03,215.46 L214.85,215.47 L215.67,215.48 L216.50,215.49 L217.32,215.50 L218.14,215.52 L218.96,215.53 L219.78,215.54 L220.60,215.55 L221.42,215.56 L222.24,215.57 L223.06,215.58 L223.88,215.59 L224.70,215.60 L225.52,215.61 L226.34,215.62 L227.17,215.63 L227.99,215.64 L228.81,215.65 L229.63,215.66 L230.45,215.67 L231.27,215.68 L232.09,215.69 L232.91,215.70 L233.73,215.71 L234.55,215.72 L235.37,215.72 L236.19,215.73 L237.01,215.74 L237.84,215.75 L238.66,215.76 L239.48,215.77 L240.30,215.78 L241.12,215.79 L241.94,215.80 L242.76,215.80 L243.58,215.81 L244.40,215.82 L245.22,215.83" fill="none" stroke="#a8a8a8" stroke-width="0.6"/>
<path d="M157.50,224.20 L158.01,223.86 L158.53,223.53 L159.04,223.21 L159.55,222.90 L160.06,222.59 L160.58,222.30 L161.09,222.02 L161.60,221.74 L162.12,221.47 L162.63,221.21 L163.14,220.96 L163.66,220.72 L164.17,220.48 L164.68,220.25 L165.19,220.02 L165.71,219.81 L166.22,219.60 L166.73,219.39 L167.25,219.19 L167.76,219.00 L168.27,218.81 L168.79,218.63 L169.30,218.46 L169.81,218.28 L170.32,218.12 L170.84,217.96 L171.35,217.80 L171.86,217.65 L172.38,217.50 L172.89,217.36 L173.40,217.22 L173.92,217.09 L174.43,216.96 L174.94,216.83 L175.45,216.71 L175.97,216.59 L176.48,216.47 L176.99,216.36 L177.51,216.25 L178.02,216.15 L178.53,216.04 L179.05,215.94 L179.56,215.85 L180.07,215.75 L180.59,215.66 L181.10,215.57 L181.61,215.49 L182.12,215.40 L182.64,215.32 L183.15,215.25 L183.66,215.25 L184.48,215.28 L185.30,215.30 L186.13,215.33 L186.95,215.36 L187.77,215.38 L188.59,215.41 L189.41,215.43 L190.23,215.46 L191.05,215.48 L191.87,215.50 L192.69,215.53 L193.51,215.55 L194.33,215.58 L195.15,215.60 L195.97,215.62 L196.80,215.65 L197.62,215.67 L198.44,215.69 L199.26,215.71 L200.08,215.73 L200.90,215.76 L201.72,215.78 L202.54,215.80 L203.36,215.82 L204.18,215.84 L205.00,215.86 L205.82,215.88 L206.65,215.90 L207.47,215.92 L208.29,215.94 L209.11,215.96 L209.93,215.98 L210.75,216.00 L211.57,216.02 L212.39,216.04 L213.21,216.06 L214.03,216.08 L214.85,216.10 L215.67,216.11 L216.50,216.13 L217.32,216.15 L218.14,216.17 L218.96,216.19 L219.78,216.20 L220.60,216.22 L221.42,216.24 L222.24,216.25 L223.06,216.27 L223.88,216.29 L224.70,216.30 L225.52,216.32 L226.34,216.34 L227.17,216.35 L227.99,216.37 L228.81,216.38 L229.63,216.40 L230.45,216.42 L231.27,216.43 L232.09,216.45 L232.91,216.46 L233.73,216.48 L234.55,216.49 L235.37,216.50 L236.19,216.52 L237.01,216.53 L237.84,216.55 L238.66,216.56 L239.48,216.58 L240.30,216.59 L241.12,216.60 L241.94,216.62 L242.76,216.63 L243.58,216.64 L244.40,216.66 L245.22,216.67" fill="none" stroke="#e8302a" stroke-width="0.8"/>
<path d="M157.50,224.20 L158.01,223.25 L158.53,222.35 L159.04,221.49 L159.55,220.68 L160.06,219.90 L160.58,219.16 L161.09,218.46 L161.60,217.79 L162.12,217.15 L162.63,216.55 L163.14,215.98 L163.66,215.43 L164.17,214.91 L164.68,214.41 L165.19,213.94 L165.71,213.49 L166.22,213.07 L166.73,212.66 L167.25,212.28 L167.76,211.91 L168.27,211.56 L168.79,211.23 L169.30,210.91 L169.81,210.61 L170.32,210.33 L170.84,210.06 L171.35,209.80 L171.86,209.55 L172.38,209.32 L172.89,209.10 L173.40,208.88 L173.92,208.68 L174.43,208.49 L174.94,208.31 L175.45,208.14 L175.97,207.97 L176.48,207.81 L176.99,207.67 L177.51,207.52 L178.02,207.39 L178.53,207.26 L179.05,207.14 L179.56,207.02 L180.07,206.91 L180.59,206.81 L181.10,206.71 L181.61,206.61 L182.12,206.52 L182.64,206.44 L183.15,206.35 L183.66,206.36 L184.48,206.41 L185.30,206.45 L186.13,206.50 L186.95,206.54 L187.77,206.58 L188.59,206.63 L189.41,206.67 L190.23,206.71 L191.05,206.75 L191.87,206.80 L192.69,206.84 L193.51,206.88 L194.33,206.92 L195.15,206.96 L195.97,207.00 L196.80,207.04 L197.62,207.08 L198.44,207.12 L199.26,207.16 L200.08,207.19 L200.90,207.23 L201.72,207.27 L202.54,207.31 L203.36,207.35 L204.18,207.38 L205.00,207.42 L205.82,207.46 L206.65,207.49 L207.47,207.53 L208.29,207.56 L209.11,207.60 L209.93,207.63 L210.75,207.67 L211.57,207.70 L212.39,207.74 L213.21,207.77 L214.03,207.81 L214.85,207.84 L215.67,207.87 L216.50,207.91 L217.32,207.94 L218.14,207.97 L218.96,208.00 L219.78,208.03 L220.60,208.07 L221.42,208.10 L222.24,208.13 L223.06,208.16 L223.88,208.19 L224.70,208.22 L225.52,208.25 L226.34,208.28 L227.17,208.31 L227.99,208.34 L228.81,208.37 L229.63,208.40 L230.45,208.43 L231.27,208.46 L232.09,208.49 L232.91,208.51 L233.73,208.54 L234.55,208.57 L235.37,208.60 L236.19,208.63 L237.01,208.65 L237.84,208.68 L238.66,208.71 L239.48,208.73 L240.30,208.76 L241.12,208.79 L241.94,208.81 L242.76,208.84 L243.58,208.86 L244.40,208.89 L245.22,208.91" fill="none" stroke="#a8a8a8" stroke-width="0.6"/>
<path d="M157.50,224.20 L158.01,223.41 L158.53,222.66 L159.04,221.93 L159.55,221.24 L160.06,220.57 L160.58,219.92 L161.09,219.31 L161.60,218.71 L162.12,218.14 L162.63,217.59 L163.14,217.07 L163.66,216.56 L164.17,216.07 L164.68,215.61 L165.19,215.16 L165.71,214.73 L166.22,214.31 L166.73,213.92 L167.25,213.53 L167.76,213.17 L168.27,212.81 L168.79,212.47 L169.30,212.15 L169.81,211.83 L170.32,211.53 L170.84,211.24 L171.35,210.97 L171.86,210.70 L172.38,210.44 L172.89,210.20 L173.40,209.96 L173.92,209.73 L174.43,209.51 L174.94,209.30 L175.45,209.10 L175.97,208.91 L176.48,208.72 L176.99,208.54 L177.51,208.37 L178.02,208.21 L178.53,208.05 L179.05,207.90 L179.56,207.75 L180.07,207.61 L180.59,207.47 L181.10,207.34 L181.61,207.22 L182.12,207.10 L182.64,206.98 L183.15,206.87 L183.66,206.89 L184.48,206.95 L185.30,207.01 L186.13,207.07 L186.95,207.13 L187.77,207.19 L188.59,207.25 L189.41,207.30 L190.23,207.36 L191.05,207.42 L191.87,207.47 L192.69,207.53 L193.51,207.58 L194.33,207.64 L195.15,207.69 L195.97,207.75 L196.80,207.80 L197.62,207.85 L198.44,207.90 L199.26,207.95 L200.08,208.01 L200.90,208.06 L201.72,208.11 L202.54,208.16 L203.36,208.20 L204.18,208.25 L205.00,208.30 L205.82,208.35 L206.65,208.40 L207.47,208.44 L208.29,208.49 L209.11,208.53 L209.93,208.58 L210.75,208.62 L211.57,208.67 L212.39,208.71 L213.21,208.76 L214.03,208.80 L214.85,208.84 L215.67,208.88 L216.50,208.93 L217.32,208.97 L218.14,209.01 L218.96,209.05 L219.78,209.09 L220.60,209.13 L221.42,209.17 L222.24,209.21 L223.06,209.25 L223.88,209.29 L224.70,209.33 L225.52,209.36 L226.34,209.40 L227.17,209.44 L227.99,209.47 L228.81,209.51 L229.63,209.55 L230.45,209.58 L231.27,209.62 L232.09,209.65 L232.91,209.69 L233.73,209.72 L234.55,209.76 L235.37,209.79 L236.19,209.82 L237.01,209.86 L237.84,209.89 L238.66,209.92 L239.48,209.95 L240.30,209.98 L241.12,210.02 L241.94,210.05 L242.76,210.08 L243.58,210.11 L244.40,210.14 L245.22,210.17" fill="none" stroke="#f59a32" stroke-width="0.8"/>
<path d="M157.50,224.20 L158.01,222.42 L158.53,220.74 L159.04,219.17 L159.55,217.69 L160.06,216.31 L160.58,215.00 L161.09,213.78 L161.60,212.63 L162.12,211.55 L162.63,210.53 L163.14,209.58 L163.66,208.68 L164.17,207.84 L164.68,207.05 L165.19,206.31 L165.71,205.61 L166.22,204.95 L166.73,204.34 L167.25,203.76 L167.76,203.22 L168.27,202.70 L168.79,202.23 L169.30,201.77 L169.81,201.35 L170.32,200.95 L170.84,200.58 L171.35,200.23 L171.86,199.90 L172.38,199.59 L172.89,199.30 L173.40,199.03 L173.92,198.77 L174.43,198.53 L174.94,198.30 L175.45,198.09 L175.97,197.89 L176.48,197.70 L176.99,197.52 L177.51,197.36 L178.02,197.20 L178.53,197.06 L179.05,196.92 L179.56,196.79 L180.07,196.67 L180.59,196.56 L181.10,196.45 L181.61,196.35 L182.12,196.25 L182.64,196.16 L183.15,196.08 L183.66,196.10 L184.48,196.17 L185.30,196.24 L186.13,196.31 L186.95,196.38 L187.77,196.44 L188.59,196.51 L189.41,196.58 L190.23,196.64 L191.05,196.71 L191.87,196.77 L192.69,196.84 L193.51,196.90 L194.33,196.96 L195.15,197.02 L195.97,197.08 L196.80,197.15 L197.62,197.21 L198.44,197.27 L199.26,197.32 L200.08,197.38 L200.90,197.44 L201.72,197.50 L202.54,197.56 L203.36,197.61 L204.18,197.67 L205.00,197.72 L205.82,197.78 L206.65,197.83 L207.47,197.89 L208.29,197.94 L209.11,197.99 L209.93,198.04 L210.75,198.10 L211.57,198.15 L212.39,198.20 L213.21,198.25 L214.03,198.30 L214.85,198.35 L215.67,198.40 L216.50,198.44 L217.32,198.49 L218.14,198.54 L218.96,198.59 L219.78,198.63 L220.60,198.68 L221.42,198.72 L222.24,198.77 L223.06,198.81 L223.88,198.86 L224.70,198.90 L225.52,198.95 L226.34,198.99 L227.17,199.03 L227.99,199.07 L228.81,199.12 L229.63,199.16 L230.45,199.20 L231.27,199.24 L232.09,199.28 L232.91,199.32 L233.73,199.36 L234.55,199.40 L235.37,199.44 L236.19,199.47 L237.01,199.51 L237.84,199.55 L238.66,199.59 L239.48,199.62 L240.30,199.66 L241.12,199.70 L241.94,199.73 L242.76,199.77 L243.58,199.80 L244.40,199.84 L245.22,199.87" fill="none" stroke="#a8a8a8" stroke-width="0.6"/>
<path d="M157.50,224.20 L158.01,222.75 L158.53,221.37 L159.04,220.06 L159.55,218.81 L160.06,217.62 L160.58,216.49 L161.09,215.42 L161.60,214.39 L162.12,213.42 L162.63,212.50 L163.14,211.62 L163.66,210.78 L164.17,209.99 L164.68,209.23 L165.19,208.51 L165.71,207.82 L166.22,207.17 L166.73,206.55 L167.25,205.96 L167.76,205.40 L168.27,204.87 L168.79,204.36 L169.30,203.88 L169.81,203.42 L170.32,202.98 L170.84,202.56 L171.35,202.17 L171.86,201.79 L172.38,201.44 L172.89,201.09 L173.40,200.77 L173.92,200.46 L174.43,200.17 L174.94,199.89 L175.45,199.63 L175.97,199.37 L176.48,199.14 L176.99,198.91 L177.51,198.69 L178.02,198.48 L178.53,198.29 L179.05,198.10 L179.56,197.92 L180.07,197.75 L180.59,197.59 L181.10,197.44 L181.61,197.30 L182.12,197.16 L182.64,197.03 L183.15,196.90 L183.66,196.92 L184.48,197.01 L185.30,197.10 L186.13,197.19 L186.95,197.28 L187.77,197.37 L188.59,197.45 L189.41,197.54 L190.23,197.62 L191.05,197.70 L191.87,197.78 L192.69,197.87 L193.51,197.94 L194.33,198.02 L195.15,198.10 L195.97,198.18 L196.80,198.25 L197.62,198.33 L198.44,198.40 L199.26,198.48 L200.08,198.55 L200.90,198.62 L201.72,198.69 L202.54,198.76 L203.36,198.83 L204.18,198.90 L205.00,198.97 L205.82,199.03 L206.65,199.10 L207.47,199.16 L208.29,199.23 L209.11,199.29 L209.93,199.35 L210.75,199.41 L211.57,199.48 L212.39,199.54 L213.21,199.60 L214.03,199.66 L214.85,199.71 L215.67,199.77 L216.50,199.83 L217.32,199.88 L218.14,199.94 L218.96,199.99 L219.78,200.05 L220.60,200.10 L221.42,200.16 L222.24,200.21 L223.06,200.26 L223.88,200.31 L224.70,200.36 L225.52,200.41 L226.34,200.46 L227.17,200.51 L227.99,200.56 L228.81,200.61 L229.63,200.65 L230.45,200.70 L231.27,200.74 L232.09,200.79 L232.91,200.83 L233.73,200.88 L234.55,200.92 L235.37,200.97 L236.19,201.01 L237.01,201.05 L237.84,201.09 L238.66,201.13 L239.48,201.17 L240.30,201.21 L241.12,201.25 L241.94,201.29 L242.76,201.33 L243.58,201.37 L244.40,201.41 L245.22,201.45" fill="none" stroke="#36c23e" stroke-width="0.8"/>
<path d="M157.50,224.20 L158.01,220.96 L158.53,217.98 L159.04,215.26 L159.55,212.76 L160.06,210.48 L160.58,208.38 L161.09,206.46 L161.60,204.70 L162.12,203.09 L162.63,201.62 L163.14,200.26 L163.66,199.02 L164.17,197.89 L164.68,196.85 L165.19,195.89 L165.71,195.02 L166.22,194.22 L166.73,193.49 L167.25,192.82 L167.76,192.20 L168.27,191.64 L168.79,191.12 L169.30,190.65 L169.81,190.21 L170.32,189.82 L170.84,189.45 L171.35,189.12 L171.86,188.81 L172.38,188.53 L172.89,188.28 L173.40,188.04 L173.92,187.83 L174.43,187.63 L174.94,187.45 L175.45,187.28 L175.97,187.13 L176.48,186.99 L176.99,186.86 L177.51,186.75 L178.02,186.64 L178.53,186.54 L179.05,186.45 L179.56,186.37 L180.07,186.29 L180.59,186.23 L181.10,186.16 L181.61,186.10 L182.12,186.05 L182.64,186.00 L183.15,185.96 L183.66,185.98 L184.48,186.08 L185.30,186.18 L186.13,186.27 L186.95,186.37 L187.77,186.46 L188.59,186.55 L189.41,186.64 L190.23,186.74 L191.05,186.83 L191.87,186.92 L192.69,187.00 L193.51,187.09 L194.33,187.18 L195.15,187.26 L195.97,187.35 L196.80,187.43 L197.62,187.52 L198.44,187.60 L199.26,187.68 L200.08,187.76 L200.90,187.84 L201.72,187.92 L202.54,188.00 L203.36,188.08 L204.18,188.16 L205.00,188.23 L205.82,188.31 L206.65,188.38 L207.47,188.46 L208.29,188.53 L209.11,188.61 L209.93,188.68 L210.75,188.75 L211.57,188.82 L212.39,188.89 L213.21,188.96 L214.03,189.03 L214.85,189.10 L215.67,189.16 L216.50,189.23 L217.32,189.30 L218.14,189.36 L218.96,189.43 L219.78,189.49 L220.60,189.56 L221.42,189.62 L222.24,189.68 L223.06,189.74 L223.88,189.81 L224.70,189.87 L225.52,189.93 L226.34,189.99 L227.17,190.05 L227.99,190.10 L228.81,190.16 L229.63,190.22 L230.45,190.28 L231.27,190.33 L232.09,190.39 L232.91,190.44 L233.73,190.50 L234.55,190.55 L235.37,190.61 L236.19,190.66 L237.01,190.71 L237.84,190.76 L238.66,190.82 L239.48,190.87 L240.30,190.92 L241.12,190.97 L241.94,191.02 L242.76,191.07 L243.58,191.12 L244.40,191.16 L245.22,191.21" fill="none" stroke="#a8a8a8" stroke-width="0.6"/>
<path d="M157.50,224.20 L158.01,221.61 L158.53,219.20 L159.04,216.95 L159.55,214.85 L160.06,212.89 L160.58,211.07 L161.09,209.37 L161.60,207.78 L162.12,206.31 L162.63,204.93 L163.14,203.64 L163.66,202.44 L164.17,201.33 L164.68,200.28 L165.19,199.31 L165.71,198.41 L166.22,197.56 L166.73,196.78 L167.25,196.04 L167.76,195.36 L168.27,194.72 L168.79,194.12 L169.30,193.57 L169.81,193.05 L170.32,192.57 L170.84,192.12 L171.35,191.70 L171.86,191.31 L172.38,190.94 L172.89,190.60 L173.40,190.29 L173.92,189.99 L174.43,189.72 L174.94,189.46 L175.45,189.22 L175.97,189.00 L176.48,188.79 L176.99,188.59 L177.51,188.41 L178.02,188.24 L178.53,188.09 L179.05,187.94 L179.56,187.80 L180.07,187.68 L180.59,187.56 L181.10,187.45 L181.61,187.34 L182.12,187.25 L182.64,187.16 L183.15,187.07 L183.66,187.10 L184.48,187.22 L185.30,187.34 L186.13,187.46 L186.95,187.58 L187.77,187.69 L188.59,187.81 L189.41,187.92 L190.23,188.03 L191.05,188.14 L191.87,188.25 L192.69,188.36 L193.51,188.47 L194.33,188.57 L195.15,188.67 L195.97,188.78 L196.80,188.88 L197.62,188.98 L198.44,189.08 L199.26,189.17 L200.08,189.27 L200.90,189.37 L201.72,189.46 L202.54,189.55 L203.36,189.65 L204.18,189.74 L205.00,189.83 L205.82,189.91 L206.65,190.00 L207.47,190.09 L208.29,190.17 L209.11,190.26 L209.93,190.34 L210.75,190.43 L211.57,190.51 L212.39,190.59 L213.21,190.67 L214.03,190.75 L214.85,190.82 L215.67,190.90 L216.50,190.98 L217.32,191.05 L218.14,191.13 L218.96,191.20 L219.78,191.27 L220.60,191.34 L221.42,191.41 L222.24,191.48 L223.06,191.55 L223.88,191.62 L224.70,191.69 L225.52,191.75 L226.34,191.82 L227.17,191.88 L227.99,191.95 L228.81,192.01 L229.63,192.07 L230.45,192.14 L231.27,192.20 L232.09,192.26 L232.91,192.32 L233.73,192.38 L234.55,192.44 L235.37,192.49 L236.19,192.55 L237.01,192.61 L237.84,192.66 L238.66,192.72 L239.48,192.77 L240.30,192.82 L241.12,192.88 L241.94,192.93 L242.76,192.98 L243.58,193.03 L244.40,193.08 L245.22,193.13" fill="none" stroke="#3ab8d0" stroke-width="0.8"/>
<path d="M157.50,224.20 L158.01,219.16 L158.53,214.65 L159.04,210.62 L159.55,207.02 L160.06,203.80 L160.58,200.93 L161.09,198.36 L161.60,196.06 L162.12,194.01 L162.63,192.18 L163.14,190.54 L163.66,189.08 L164.17,187.77 L164.68,186.60 L165.19,185.56 L165.71,184.63 L166.22,183.79 L166.73,183.05 L167.25,182.38 L167.76,181.79 L168.27,181.25 L168.79,180.78 L169.30,180.35 L169.81,179.98 L170.32,179.64 L170.84,179.33 L171.35,179.06 L171.86,178.82 L172.38,178.60 L172.89,178.41 L173.40,178.24 L173.92,178.08 L174.43,177.95 L174.94,177.82 L175.45,177.71 L175.97,177.62 L176.48,177.53 L176.99,177.45 L177.51,177.38 L178.02,177.32 L178.53,177.26 L179.05,177.21 L179.56,177.16 L180.07,177.12 L180.59,177.09 L181.10,177.06 L181.61,177.03 L182.12,177.00 L182.64,176.98 L183.15,176.96 L183.66,176.99 L184.48,177.10 L185.30,177.21 L186.13,177.32 L186.95,177.43 L187.77,177.54 L188.59,177.65 L189.41,177.76 L190.23,177.86 L191.05,177.97 L191.87,178.07 L192.69,178.17 L193.51,178.28 L194.33,178.38 L195.15,178.48 L195.97,178.58 L196.80,178.68 L197.62,178.77 L198.44,178.87 L199.26,178.97 L200.08,179.06 L200.90,179.15 L201.72,179.25 L202.54,179.34 L203.36,179.43 L204.18,179.52 L205.00,179.61 L205.82,179.70 L206.65,179.79 L207.47,179.88 L208.29,179.97 L209.11,180.05 L209.93,180.14 L210.75,180.22 L211.57,180.31 L212.39,180.39 L213.21,180.47 L214.03,180.55 L214.85,180.63 L215.67,180.71 L216.50,180.79 L217.32,180.87 L218.14,180.95 L218.96,181.03 L219.78,181.10 L220.60,181.18 L221.42,181.26 L222.24,181.33 L223.06,181.40 L223.88,181.48 L224.70,181.55 L225.52,181.62 L226.34,181.69 L227.17,181.76 L227.99,181.83 L228.81,181.90 L229.63,181.97 L230.45,182.04 L231.27,182.11 L232.09,182.17 L232.91,182.24 L233.73,182.31 L234.55,182.37 L235.37,182.44 L236.19,182.50 L237.01,182.56 L237.84,182.63 L238.66,182.69 L239.48,182.75 L240.30,182.81 L241.12,182.87 L241.94,182.93 L242.76,182.99 L243.58,183.05 L244.40,183.11 L245.22,183.17" fill="none" stroke="#a8a8a8" stroke-width="0.6"/>
<path d="M157.50,224.20 L158.01,220.21 L158.53,216.56 L159.04,213.23 L159.55,210.18 L160.06,207.39 L160.58,204.85 L161.09,202.52 L161.60,200.40 L162.12,198.45 L162.63,196.68 L163.14,195.05 L163.66,193.57 L164.17,192.22 L164.68,190.98 L165.19,189.84 L165.71,188.81 L166.22,187.86 L166.73,187.00 L167.25,186.21 L167.76,185.49 L168.27,184.83 L168.79,184.22 L169.30,183.67 L169.81,183.17 L170.32,182.71 L170.84,182.29 L171.35,181.90 L171.86,181.55 L172.38,181.23 L172.89,180.94 L173.40,180.67 L173.92,180.42 L174.43,180.20 L174.94,180.00 L175.45,179.81 L175.97,179.64 L176.48,179.48 L176.99,179.34 L177.51,179.21 L178.02,179.09 L178.53,178.98 L179.05,178.88 L179.56,178.79 L180.07,178.70 L180.59,178.63 L181.10,178.56 L181.61,178.50 L182.12,178.44 L182.64,178.38 L183.15,178.34 L183.66,178.37 L184.48,178.51 L185.30,178.64 L186.13,178.78 L186.95,178.91 L187.77,179.04 L188.59,179.17 L189.41,179.30 L190.23,179.43 L191.05,179.55 L191.87,179.68 L192.69,179.80 L193.51,179.92 L194.33,180.04 L195.15,180.16 L195.97,180.28 L196.80,180.40 L197.62,180.51 L198.44,180.62 L199.26,180.74 L200.08,180.85 L200.90,180.96 L201.72,181.07 L202.54,181.17 L203.36,181.28 L204.18,181.38 L205.00,181.49 L205.82,181.59 L206.65,181.69 L207.47,181.79 L208.29,181.89 L209.11,181.99 L209.93,182.09 L210.75,182.18 L211.57,182.28 L212.39,182.37 L213.21,182.47 L214.03,182.56 L214.85,182.65 L215.67,182.74 L216.50,182.83 L217.32,182.91 L218.14,183.00 L218.96,183.09 L219.78,183.17 L220.60,183.26 L221.42,183.34 L222.24,183.42 L223.06,183.50 L223.88,183.58 L224.70,183.66 L225.52,183.74 L226.34,183.82 L227.17,183.90 L227.99,183.97 L228.81,184.05 L229.63,184.12 L230.45,184.19 L231.27,184.27 L232.09,184.34 L232.91,184.41 L233.73,184.48 L234.55,184.55 L235.37,184.62 L236.19,184.69 L237.01,184.75 L237.84,184.82 L238.66,184.88 L239.48,184.95 L240.30,185.01 L241.12,185.08 L241.94,185.14 L242.76,185.20 L243.58,185.26 L244.40,185.32 L245.22,185.38" fill="none" stroke="#2c3cf0" stroke-width="0.8"/>
<path d="M157.50,224.20 L158.01,216.22 L158.53,209.40 L159.04,203.57 L159.55,198.58 L160.06,194.31 L160.58,190.66 L161.09,187.53 L161.60,184.86 L162.12,182.58 L162.63,180.62 L163.14,178.95 L163.66,177.52 L164.17,176.30 L164.68,175.25 L165.19,174.36 L165.71,173.59 L166.22,172.94 L166.73,172.38 L167.25,171.90 L167.76,171.49 L168.27,171.14 L168.79,170.84 L169.30,170.58 L169.81,170.36 L170.32,170.17 L170.84,170.01 L171.35,169.88 L171.86,169.76 L172.38,169.66 L172.89,169.57 L173.40,169.50 L173.92,169.44 L174.43,169.38 L174.94,169.34 L175.45,169.30 L175.97,169.26 L176.48,169.23 L176.99,169.21 L177.51,169.19 L178.02,169.17 L178.53,169.16 L179.05,169.14 L179.56,169.13 L180.07,169.12 L180.59,169.11 L181.10,169.11 L181.61,169.10 L182.12,169.09 L182.64,169.09 L183.15,169.09 L183.66,169.12 L184.48,169.23 L185.30,169.35 L186.13,169.46 L186.95,169.57 L187.77,169.68 L188.59,169.80 L189.41,169.91 L190.23,170.01 L191.05,170.12 L191.87,170.23 L192.69,170.34 L193.51,170.44 L194.33,170.55 L195.15,170.65 L195.97,170.75 L196.80,170.85 L197.62,170.96 L198.44,171.06 L199.26,171.16 L200.08,171.25 L200.90,171.35 L201.72,171.45 L202.54,171.55 L203.36,171.64 L204.18,171.74 L205.00,171.83 L205.82,171.92 L206.65,172.02 L207.47,172.11 L208.29,172.20 L209.11,172.29 L209.93,172.38 L210.75,172.47 L211.57,172.55 L212.39,172.64 L213.21,172.73 L214.03,172.81 L214.85,172.90 L215.67,172.98 L216.50,173.07 L217.32,173.15 L218.14,173.23 L218.96,173.31 L219.78,173.39 L220.60,173.47 L221.42,173.55 L222.24,173.63 L223.06,173.71 L223.88,173.79 L224.70,173.86 L225.52,173.94 L226.34,174.02 L227.17,174.09 L227.99,174.17 L228.81,174.24 L229.63,174.31 L230.45,174.38 L231.27,174.46 L232.09,174.53 L232.91,174.60 L233.73,174.67 L234.55,174.74 L235.37,174.81 L236.19,174.88 L237.01,174.94 L237.84,175.01 L238.66,175.08 L239.48,175.14 L240.30,175.21 L241.12,175.27 L241.94,175.34 L242.76,175.40 L243.58,175.47 L244.40,175.53 L245.22,175.59" fill="none" stroke="#a8a8a8" stroke-width="0.6"/>
<path d="M157.50,224.20 L158.01,217.90 L158.53,212.34 L159.04,207.44 L159.55,203.11 L160.06,199.28 L160.58,195.91 L161.09,192.94 L161.60,190.31 L162.12,187.99 L162.63,185.95 L163.14,184.14 L163.66,182.55 L164.17,181.15 L164.68,179.90 L165.19,178.81 L165.71,177.84 L166.22,176.99 L166.73,176.24 L167.25,175.58 L167.76,174.99 L168.27,174.47 L168.79,174.02 L169.30,173.61 L169.81,173.26 L170.32,172.94 L170.84,172.67 L171.35,172.42 L171.86,172.21 L172.38,172.02 L172.89,171.85 L173.40,171.70 L173.92,171.57 L174.43,171.46 L174.94,171.35 L175.45,171.26 L175.97,171.18 L176.48,171.11 L176.99,171.05 L177.51,171.00 L178.02,170.95 L178.53,170.91 L179.05,170.87 L179.56,170.84 L180.07,170.81 L180.59,170.78 L181.10,170.76 L181.61,170.74 L182.12,170.72 L182.64,170.71 L183.15,170.69 L183.66,170.73 L184.48,170.87 L185.30,171.00 L186.13,171.14 L186.95,171.27 L187.77,171.41 L188.59,171.54 L189.41,171.67 L190.23,171.80 L191.05,171.93 L191.87,172.05 L192.69,172.18 L193.51,172.30 L194.33,172.43 L195.15,172.55 L195.97,172.67 L196.80,172.79 L197.62,172.90 L198.44,173.02 L199.26,173.14 L200.08,173.25 L200.90,173.36 L201.72,173.47 L202.54,173.58 L203.36,173.69 L204.18,173.80 L205.00,173.91 L205.82,174.02 L206.65,174.12 L207.47,174.22 L208.29,174.33 L209.11,174.43 L209.93,174.53 L210.75,174.63 L211.57,174.73 L212.39,174.83 L213.21,174.92 L214.03,175.02 L214.85,175.11 L215.67,175.21 L216.50,175.30 L217.32,175.39 L218.14,175.48 L218.96,175.57 L219.78,175.66 L220.60,175.75 L221.42,175.83 L222.24,175.92 L223.06,176.01 L223.88,176.09 L224.70,176.17 L225.52,176.26 L226.34,176.34 L227.17,176.42 L227.99,176.50 L228.81,176.58 L229.63,176.66 L230.45,176.73 L231.27,176.81 L232.09,176.89 L232.91,176.96 L233.73,177.04 L234.55,177.11 L235.37,177.18 L236.19,177.26 L237.01,177.33 L237.84,177.40 L238.66,177.47 L239.48,177.54 L240.30,177.61 L241.12,177.67 L241.94,177.74 L242.76,177.81 L243.58,177.87 L244.40,177.94 L245.22,178.00" fill="none" stroke="#b232e6" stroke-width="0.8"/>
<line x1="157.50" y1="150.90" x2="157.50" y2="224.20" stroke="#4a4a4a" stroke-width="0.9" />
<line x1="157.50" y1="224.20" x2="245.94" y2="224.20" stroke="#4a4a4a" stroke-width="0.9" />
<line x1="154.30" y1="224.20" x2="157.50" y2="224.20" stroke="#4a4a4a" stroke-width="0.8" />
<text x="151.10" y="226.60" font-size="7.9" text-anchor="end" fill="#333" font-weight="normal"  stroke="#333" stroke-width="0.16">0</text>
<line x1="154.30" y1="209.64" x2="157.50" y2="209.64" stroke="#4a4a4a" stroke-width="0.8" />
<text x="151.10" y="212.04" font-size="7.9" text-anchor="end" fill="#333" font-weight="normal"  stroke="#333" stroke-width="0.16">20</text>
<line x1="154.30" y1="195.08" x2="157.50" y2="195.08" stroke="#4a4a4a" stroke-width="0.8" />
<text x="151.10" y="197.48" font-size="7.9" text-anchor="end" fill="#333" font-weight="normal"  stroke="#333" stroke-width="0.16">40</text>
<line x1="154.30" y1="180.52" x2="157.50" y2="180.52" stroke="#4a4a4a" stroke-width="0.8" />
<text x="151.10" y="182.92" font-size="7.9" text-anchor="end" fill="#333" font-weight="normal"  stroke="#333" stroke-width="0.16">60</text>
<line x1="154.30" y1="165.96" x2="157.50" y2="165.96" stroke="#4a4a4a" stroke-width="0.8" />
<text x="151.10" y="168.36" font-size="7.9" text-anchor="end" fill="#333" font-weight="normal"  stroke="#333" stroke-width="0.16">80</text>
<line x1="154.30" y1="151.40" x2="157.50" y2="151.40" stroke="#4a4a4a" stroke-width="0.8" />
<text x="151.10" y="153.80" font-size="7.9" text-anchor="end" fill="#333" font-weight="normal"  stroke="#333" stroke-width="0.16">100</text>
<line x1="157.50" y1="224.20" x2="157.50" y2="227.70" stroke="#4a4a4a" stroke-width="0.8" />
<text x="157.50" y="236.70" font-size="7.9" text-anchor="middle" fill="#333" font-weight="normal"  stroke="#333" stroke-width="0.16">0</text>
<line x1="183.15" y1="224.20" x2="183.15" y2="227.70" stroke="#4a4a4a" stroke-width="0.8" />
<text x="183.15" y="236.70" font-size="7.9" text-anchor="middle" fill="#333" font-weight="normal"  stroke="#333" stroke-width="0.16">250</text>
<line x1="208.80" y1="224.20" x2="208.80" y2="227.70" stroke="#4a4a4a" stroke-width="0.8" />
<text x="208.80" y="236.70" font-size="7.9" text-anchor="middle" fill="#333" font-weight="normal"  stroke="#333" stroke-width="0.16">500</text>
<line x1="234.45" y1="224.20" x2="234.45" y2="227.70" stroke="#4a4a4a" stroke-width="0.8" />
<text x="234.45" y="236.70" font-size="7.9" text-anchor="middle" fill="#333" font-weight="normal"  stroke="#333" stroke-width="0.16">750</text>
<text x="201.10" y="248.70" font-size="8.4" text-anchor="middle" fill="#333" font-weight="normal"  stroke="#333" stroke-width="0.16">Time (s)</text>
<text x="0" y="0" font-size="8.4" text-anchor="middle" fill="#333" transform="translate(135.3,189.3) rotate(-90)" stroke="#333" stroke-width="0.16">RU</text>
<line x1="157.80" y1="186.00" x2="157.80" y2="226.00" stroke="#f59a32" stroke-width="0.8" />
<line x1="183.20" y1="224.20" x2="183.20" y2="215.25" stroke="#e8302a" stroke-width="0.8" />
<line x1="183.20" y1="215.25" x2="183.20" y2="206.87" stroke="#f59a32" stroke-width="0.8" />
<line x1="183.20" y1="206.87" x2="183.20" y2="196.90" stroke="#36c23e" stroke-width="0.8" />
<line x1="183.20" y1="196.90" x2="183.20" y2="187.07" stroke="#3ab8d0" stroke-width="0.8" />
<line x1="183.20" y1="187.07" x2="183.20" y2="178.34" stroke="#2c3cf0" stroke-width="0.8" />
<line x1="183.20" y1="178.34" x2="183.20" y2="170.69" stroke="#b232e6" stroke-width="0.8" />
<text x="38.3" y="53.6" font-size="7.6" fill="#231f20" textLength="25.50" lengthAdjust="spacingAndGlyphs" stroke="#231f20" stroke-width="0.16"><tspan font-style="italic">K</tspan><tspan font-size="5.17" dy="1.6">D</tspan><tspan dy="-1.6"> = ND</tspan></text>
<text x="38.3" y="63.6" font-size="7.6" fill="#231f20" textLength="27.30" lengthAdjust="spacingAndGlyphs" stroke="#231f20" stroke-width="0.16"><tspan font-style="italic">k</tspan><tspan font-size="5.17" dy="1.6">off</tspan><tspan dy="-1.6"> = ND</tspan></text>
<text x="163.8" y="52.0" font-size="7.6" fill="#231f20" textLength="43.20" lengthAdjust="spacingAndGlyphs" stroke="#231f20" stroke-width="0.16"><tspan font-style="italic">K</tspan><tspan font-size="5.17" dy="1.6">D</tspan><tspan dy="-1.6"> = 33.8 nM</tspan></text>
<text x="163.8" y="63.5" font-size="7.6" fill="#231f20" textLength="73.70" lengthAdjust="spacingAndGlyphs" stroke="#231f20" stroke-width="0.16"><tspan font-style="italic">k</tspan><tspan font-size="5.17" dy="1.6">off</tspan><tspan dy="-1.6"> = 1.425 × 10</tspan><tspan font-size="5.17" dy="-3">−3</tspan><tspan dy="3"> per s</tspan></text>
<text x="35.5" y="170.5" font-size="7.6" fill="#231f20" textLength="42.50" lengthAdjust="spacingAndGlyphs" stroke="#231f20" stroke-width="0.16"><tspan font-style="italic">K</tspan><tspan font-size="5.17" dy="1.6">D</tspan><tspan dy="-1.6"> = 24.4 nM</tspan></text>
<text x="35.5" y="180.5" font-size="7.6" fill="#231f20" textLength="76.50" lengthAdjust="spacingAndGlyphs" stroke="#231f20" stroke-width="0.16"><tspan font-style="italic">k</tspan><tspan font-size="5.17" dy="1.6">off</tspan><tspan dy="-1.6"> = 9.236 × 10</tspan><tspan font-size="5.17" dy="-3">−4</tspan><tspan dy="3"> per s</tspan></text>
<text x="193.3" y="158.3" font-size="7.6" fill="#231f20" textLength="38.90" lengthAdjust="spacingAndGlyphs" stroke="#231f20" stroke-width="0.16"><tspan font-style="italic">K</tspan><tspan font-size="5.17" dy="1.6">D</tspan><tspan dy="-1.6"> = 3.4 nM</tspan></text>
<text x="193.3" y="168.0" font-size="7.6" fill="#231f20" textLength="75.00" lengthAdjust="spacingAndGlyphs" stroke="#231f20" stroke-width="0.16"><tspan font-style="italic">k</tspan><tspan font-size="5.17" dy="1.6">off</tspan><tspan dy="-1.6"> = 2.015 × 10</tspan><tspan font-size="5.17" dy="-3">−4</tspan><tspan dy="3"> per s</tspan></text>
<g transform="translate(86.25,45.9) scale(1.0)" fill="none" stroke-linecap="round" stroke-linejoin="round"><path d="M-1.55,19.4 L-1.55,6.2 L-6.1,0.2" stroke="#7a9f7a" stroke-width="2.5"/><path d="M1.55,19.4 L1.55,6.2 L6.6,0.5" stroke="#7a9f7a" stroke-width="2.5"/><path d="M-9.6,2.8 L-4.2,7.2" stroke="#7a9f7a" stroke-width="2.5"/><path d="M9.8,3.3 L4.6,6.8" stroke="#7a9f7a" stroke-width="2.5"/><path d="M-1.55,19.4 L-1.55,6.2 L-6.1,0.2" stroke="#cfe5cd" stroke-width="1.5" transform="translate(-0.35,-0.2)"/><path d="M1.55,19.4 L1.55,6.2 L6.6,0.5" stroke="#cfe5cd" stroke-width="1.5" transform="translate(-0.35,-0.2)"/><path d="M-9.6,2.8 L-4.2,7.2" stroke="#cfe5cd" stroke-width="1.5" transform="translate(-0.35,-0.2)"/><path d="M9.8,3.3 L4.6,6.8" stroke="#cfe5cd" stroke-width="1.5" transform="translate(-0.35,-0.2)"/></g>
<g transform="translate(245.2,45.9) scale(1.0)" fill="none" stroke-linecap="round" stroke-linejoin="round"><path d="M-1.55,19.4 L-1.55,6.2 L-6.1,0.2" stroke="#7a9f7a" stroke-width="2.5"/><path d="M1.55,19.4 L1.55,6.2 L6.6,0.5" stroke="#7a9f7a" stroke-width="2.5"/><path d="M-9.6,2.8 L-4.2,7.2" stroke="#7a9f7a" stroke-width="2.5"/><path d="M9.8,3.3 L4.6,6.8" stroke="#7a9f7a" stroke-width="2.5"/><path d="M-1.55,19.4 L-1.55,6.2 L-6.1,0.2" stroke="#cfe5cd" stroke-width="1.5" transform="translate(-0.35,-0.2)"/><path d="M1.55,19.4 L1.55,6.2 L6.6,0.5" stroke="#cfe5cd" stroke-width="1.5" transform="translate(-0.35,-0.2)"/><path d="M-9.6,2.8 L-4.2,7.2" stroke="#cfe5cd" stroke-width="1.5" transform="translate(-0.35,-0.2)"/><path d="M9.8,3.3 L4.6,6.8" stroke="#cfe5cd" stroke-width="1.5" transform="translate(-0.35,-0.2)"/></g>
<g transform="translate(114.0,154.3) scale(1.0)" fill="none" stroke-linecap="round" stroke-linejoin="round"><path d="M-1.55,19.4 L-1.55,6.2 L-6.1,0.2" stroke="#7a9f7a" stroke-width="2.5"/><path d="M1.55,19.4 L1.55,6.2 L6.6,0.5" stroke="#7a9f7a" stroke-width="2.5"/><path d="M-9.6,2.8 L-4.2,7.2" stroke="#7a9f7a" stroke-width="2.5"/><path d="M9.8,3.3 L4.6,6.8" stroke="#7a9f7a" stroke-width="2.5"/><path d="M-1.55,19.4 L-1.55,6.2 L-6.1,0.2" stroke="#cfe5cd" stroke-width="1.5" transform="translate(-0.35,-0.2)"/><path d="M1.55,19.4 L1.55,6.2 L6.6,0.5" stroke="#cfe5cd" stroke-width="1.5" transform="translate(-0.35,-0.2)"/><path d="M-9.6,2.8 L-4.2,7.2" stroke="#cfe5cd" stroke-width="1.5" transform="translate(-0.35,-0.2)"/><path d="M9.8,3.3 L4.6,6.8" stroke="#cfe5cd" stroke-width="1.5" transform="translate(-0.35,-0.2)"/></g>
<g transform="translate(171.8,149.3) scale(0.96)" fill="none" stroke-linecap="round" stroke-linejoin="round"><path d="M-1.55,19.4 L-1.55,6.2 L-6.1,0.2" stroke="#7a9f7a" stroke-width="2.5"/><path d="M1.55,19.4 L1.55,6.2 L6.6,0.5" stroke="#7a9f7a" stroke-width="2.5"/><path d="M-9.6,2.8 L-4.2,7.2" stroke="#7a9f7a" stroke-width="2.5"/><path d="M9.8,3.3 L4.6,6.8" stroke="#7a9f7a" stroke-width="2.5"/><path d="M-1.55,19.4 L-1.55,6.2 L-6.1,0.2" stroke="#cfe5cd" stroke-width="1.5" transform="translate(-0.35,-0.2)"/><path d="M1.55,19.4 L1.55,6.2 L6.6,0.5" stroke="#cfe5cd" stroke-width="1.5" transform="translate(-0.35,-0.2)"/><path d="M-9.6,2.8 L-4.2,7.2" stroke="#cfe5cd" stroke-width="1.5" transform="translate(-0.35,-0.2)"/><path d="M9.8,3.3 L4.6,6.8" stroke="#cfe5cd" stroke-width="1.5" transform="translate(-0.35,-0.2)"/></g>
<circle cx="47.50" cy="24.40" r="1.4" fill="#16c416" stroke="#075a07" stroke-width="0.6"/>
<circle cx="50.45" cy="24.40" r="1.4" fill="#16c416" stroke="#075a07" stroke-width="0.6"/>
<circle cx="53.40" cy="24.40" r="1.4" fill="#16c416" stroke="#075a07" stroke-width="0.6"/>
<path d="M51.2,29.4 L81.5,29.4 C84,27 86,26 89,26.2 C92.5,26.8 92.5,40 89,40.6 C86,40.8 84,39 81.5,36.9 L62,36.9" fill="none" stroke="#111" stroke-width="0.9"/>
<path d="M61,36.9 L64,38.4" stroke="#111" stroke-width="0.9"/>
<line x1="51.20" y1="26.00" x2="51.20" y2="29.40" stroke="#111" stroke-width="0.6" />
<line x1="62.00" y1="30.40" x2="62.00" y2="35.90" stroke="#a0a0a0" stroke-width="0.5" />
<line x1="63.60" y1="30.40" x2="63.60" y2="35.90" stroke="#a0a0a0" stroke-width="0.5" />
<line x1="65.20" y1="30.40" x2="65.20" y2="35.90" stroke="#a0a0a0" stroke-width="0.5" />
<line x1="66.80" y1="30.40" x2="66.80" y2="35.90" stroke="#a0a0a0" stroke-width="0.5" />
<line x1="68.40" y1="30.40" x2="68.40" y2="35.90" stroke="#a0a0a0" stroke-width="0.5" />
<line x1="70.00" y1="30.40" x2="70.00" y2="35.90" stroke="#a0a0a0" stroke-width="0.5" />
<line x1="71.60" y1="30.40" x2="71.60" y2="35.90" stroke="#a0a0a0" stroke-width="0.5" />
<line x1="73.20" y1="30.40" x2="73.20" y2="35.90" stroke="#a0a0a0" stroke-width="0.5" />
<line x1="74.80" y1="30.40" x2="74.80" y2="35.90" stroke="#a0a0a0" stroke-width="0.5" />
<line x1="76.40" y1="30.40" x2="76.40" y2="35.90" stroke="#a0a0a0" stroke-width="0.5" />
<line x1="78.00" y1="30.40" x2="78.00" y2="35.90" stroke="#a0a0a0" stroke-width="0.5" />
<line x1="79.60" y1="30.40" x2="79.60" y2="35.90" stroke="#a0a0a0" stroke-width="0.5" />
<text x="70.00" y="25.00" font-size="8.4" text-anchor="middle" fill="#231f20" font-weight="normal"  stroke="#231f20" stroke-width="0.16">H1</text>
<circle cx="174.50" cy="24.70" r="1.4" fill="#16c416" stroke="#075a07" stroke-width="0.6"/>
<circle cx="177.45" cy="24.70" r="1.4" fill="#16c416" stroke="#075a07" stroke-width="0.6"/>
<circle cx="180.40" cy="24.70" r="1.4" fill="#16c416" stroke="#075a07" stroke-width="0.6"/>
<line x1="177.30" y1="25.80" x2="177.30" y2="30.40" stroke="#111" stroke-width="0.6" />
<line x1="177.30" y1="30.40" x2="223.30" y2="30.40" stroke="#111" stroke-width="0.9" />
<path d="M220.5,29 L223.5,30.4 L220.5,31.2" fill="#111" stroke="#111" stroke-width="0.5"/>
<line x1="177.30" y1="38.30" x2="223.30" y2="38.30" stroke="#111" stroke-width="0.9" />
<path d="M180,37 L177,38.3 L180,39.2" fill="#111" stroke="#111" stroke-width="0.5"/>
<line x1="223.30" y1="38.30" x2="223.30" y2="43.50" stroke="#111" stroke-width="0.6" />
<circle cx="219.50" cy="44.80" r="1.4" fill="#16c416" stroke="#075a07" stroke-width="0.6"/>
<circle cx="222.45" cy="44.80" r="1.4" fill="#16c416" stroke="#075a07" stroke-width="0.6"/>
<circle cx="225.40" cy="44.80" r="1.4" fill="#16c416" stroke="#075a07" stroke-width="0.6"/>
<line x1="178.50" y1="31.30" x2="178.50" y2="37.40" stroke="#a0a0a0" stroke-width="0.5" />
<line x1="180.10" y1="31.30" x2="180.10" y2="37.40" stroke="#a0a0a0" stroke-width="0.5" />
<line x1="181.70" y1="31.30" x2="181.70" y2="37.40" stroke="#a0a0a0" stroke-width="0.5" />
<line x1="183.30" y1="31.30" x2="183.30" y2="37.40" stroke="#a0a0a0" stroke-width="0.5" />
<line x1="184.90" y1="31.30" x2="184.90" y2="37.40" stroke="#a0a0a0" stroke-width="0.5" />
<line x1="186.50" y1="31.30" x2="186.50" y2="37.40" stroke="#a0a0a0" stroke-width="0.5" />
<line x1="188.10" y1="31.30" x2="188.10" y2="37.40" stroke="#a0a0a0" stroke-width="0.5" />
<line x1="189.70" y1="31.30" x2="189.70" y2="37.40" stroke="#a0a0a0" stroke-width="0.5" />
<line x1="191.30" y1="31.30" x2="191.30" y2="37.40" stroke="#a0a0a0" stroke-width="0.5" />
<line x1="192.90" y1="31.30" x2="192.90" y2="37.40" stroke="#a0a0a0" stroke-width="0.5" />
<line x1="194.50" y1="31.30" x2="194.50" y2="37.40" stroke="#a0a0a0" stroke-width="0.5" />
<line x1="196.10" y1="31.30" x2="196.10" y2="37.40" stroke="#a0a0a0" stroke-width="0.5" />
<line x1="197.70" y1="31.30" x2="197.70" y2="37.40" stroke="#a0a0a0" stroke-width="0.5" />
<line x1="199.30" y1="31.30" x2="199.30" y2="37.40" stroke="#a0a0a0" stroke-width="0.5" />
<line x1="200.90" y1="31.30" x2="200.90" y2="37.40" stroke="#a0a0a0" stroke-width="0.5" />
<line x1="202.50" y1="31.30" x2="202.50" y2="37.40" stroke="#a0a0a0" stroke-width="0.5" />
<line x1="204.10" y1="31.30" x2="204.10" y2="37.40" stroke="#a0a0a0" stroke-width="0.5" />
<line x1="205.70" y1="31.30" x2="205.70" y2="37.40" stroke="#a0a0a0" stroke-width="0.5" />
<line x1="207.30" y1="31.30" x2="207.30" y2="37.40" stroke="#a0a0a0" stroke-width="0.5" />
<line x1="208.90" y1="31.30" x2="208.90" y2="37.40" stroke="#a0a0a0" stroke-width="0.5" />
<line x1="210.50" y1="31.30" x2="210.50" y2="37.40" stroke="#a0a0a0" stroke-width="0.5" />
<line x1="212.10" y1="31.30" x2="212.10" y2="37.40" stroke="#a0a0a0" stroke-width="0.5" />
<line x1="213.70" y1="31.30" x2="213.70" y2="37.40" stroke="#a0a0a0" stroke-width="0.5" />
<line x1="215.30" y1="31.30" x2="215.30" y2="37.40" stroke="#a0a0a0" stroke-width="0.5" />
<line x1="216.90" y1="31.30" x2="216.90" y2="37.40" stroke="#a0a0a0" stroke-width="0.5" />
<line x1="218.50" y1="31.30" x2="218.50" y2="37.40" stroke="#a0a0a0" stroke-width="0.5" />
<line x1="220.10" y1="31.30" x2="220.10" y2="37.40" stroke="#a0a0a0" stroke-width="0.5" />
<line x1="221.70" y1="31.30" x2="221.70" y2="37.40" stroke="#a0a0a0" stroke-width="0.5" />
<line x1="223.30" y1="31.30" x2="223.30" y2="37.40" stroke="#a0a0a0" stroke-width="0.5" />
<text x="195.50" y="25.80" font-size="8.4" text-anchor="middle" fill="#231f20" font-weight="normal"  stroke="#231f20" stroke-width="0.16">21 nt</text>
<circle cx="18.60" cy="129.00" r="1.4" fill="#16c416" stroke="#075a07" stroke-width="0.6"/>
<circle cx="21.55" cy="129.00" r="1.4" fill="#16c416" stroke="#075a07" stroke-width="0.6"/>
<circle cx="24.50" cy="129.00" r="1.4" fill="#16c416" stroke="#075a07" stroke-width="0.6"/>
<line x1="21.40" y1="130.00" x2="21.40" y2="133.90" stroke="#111" stroke-width="0.6" />
<line x1="21.40" y1="133.90" x2="113.30" y2="133.90" stroke="#111" stroke-width="0.9" />
<path d="M110.3,132.5 L113.5,133.9 L110.3,134.9" fill="#111" stroke="#111" stroke-width="0.5"/>
<line x1="21.40" y1="142.10" x2="112.80" y2="142.10" stroke="#111" stroke-width="0.9" />
<path d="M24.5,140.8 L21.2,142.1 L24.5,143" fill="#111" stroke="#111" stroke-width="0.5"/>
<line x1="112.80" y1="142.10" x2="112.80" y2="146.40" stroke="#111" stroke-width="0.6" />
<circle cx="109.60" cy="147.40" r="1.4" fill="#16c416" stroke="#075a07" stroke-width="0.6"/>
<circle cx="112.55" cy="147.40" r="1.4" fill="#16c416" stroke="#075a07" stroke-width="0.6"/>
<circle cx="115.50" cy="147.40" r="1.4" fill="#16c416" stroke="#075a07" stroke-width="0.6"/>
<line x1="22.50" y1="134.80" x2="22.50" y2="141.20" stroke="#a0a0a0" stroke-width="0.5" />
<line x1="24.06" y1="134.80" x2="24.06" y2="141.20" stroke="#a0a0a0" stroke-width="0.5" />
<line x1="25.62" y1="134.80" x2="25.62" y2="141.20" stroke="#a0a0a0" stroke-width="0.5" />
<line x1="27.18" y1="134.80" x2="27.18" y2="141.20" stroke="#a0a0a0" stroke-width="0.5" />
<line x1="28.74" y1="134.80" x2="28.74" y2="141.20" stroke="#a0a0a0" stroke-width="0.5" />
<line x1="30.30" y1="134.80" x2="30.30" y2="141.20" stroke="#a0a0a0" stroke-width="0.5" />
<line x1="31.86" y1="134.80" x2="31.86" y2="141.20" stroke="#a0a0a0" stroke-width="0.5" />
<line x1="33.42" y1="134.80" x2="33.42" y2="141.20" stroke="#a0a0a0" stroke-width="0.5" />
<line x1="34.98" y1="134.80" x2="34.98" y2="141.20" stroke="#a0a0a0" stroke-width="0.5" />
<line x1="36.54" y1="134.80" x2="36.54" y2="141.20" stroke="#a0a0a0" stroke-width="0.5" />
<line x1="38.10" y1="134.80" x2="38.10" y2="141.20" stroke="#a0a0a0" stroke-width="0.5" />
<line x1="39.66" y1="134.80" x2="39.66" y2="141.20" stroke="#a0a0a0" stroke-width="0.5" />
<line x1="41.22" y1="134.80" x2="41.22" y2="141.20" stroke="#a0a0a0" stroke-width="0.5" />
<line x1="42.78" y1="134.80" x2="42.78" y2="141.20" stroke="#a0a0a0" stroke-width="0.5" />
<line x1="44.34" y1="134.80" x2="44.34" y2="141.20" stroke="#a0a0a0" stroke-width="0.5" />
<line x1="45.90" y1="134.80" x2="45.90" y2="141.20" stroke="#a0a0a0" stroke-width="0.5" />
<line x1="47.46" y1="134.80" x2="47.46" y2="141.20" stroke="#a0a0a0" stroke-width="0.5" />
<line x1="49.02" y1="134.80" x2="49.02" y2="141.20" stroke="#a0a0a0" stroke-width="0.5" />
<line x1="50.58" y1="134.80" x2="50.58" y2="141.20" stroke="#a0a0a0" stroke-width="0.5" />
<line x1="52.14" y1="134.80" x2="52.14" y2="141.20" stroke="#a0a0a0" stroke-width="0.5" />
<line x1="53.70" y1="134.80" x2="53.70" y2="141.20" stroke="#a0a0a0" stroke-width="0.5" />
<line x1="55.26" y1="134.80" x2="55.26" y2="141.20" stroke="#a0a0a0" stroke-width="0.5" />
<line x1="56.82" y1="134.80" x2="56.82" y2="141.20" stroke="#a0a0a0" stroke-width="0.5" />
<line x1="58.38" y1="134.80" x2="58.38" y2="141.20" stroke="#a0a0a0" stroke-width="0.5" />
<line x1="59.94" y1="134.80" x2="59.94" y2="141.20" stroke="#a0a0a0" stroke-width="0.5" />
<line x1="61.50" y1="134.80" x2="61.50" y2="141.20" stroke="#a0a0a0" stroke-width="0.5" />
<line x1="63.06" y1="134.80" x2="63.06" y2="141.20" stroke="#a0a0a0" stroke-width="0.5" />
<line x1="64.62" y1="134.80" x2="64.62" y2="141.20" stroke="#a0a0a0" stroke-width="0.5" />
<line x1="66.18" y1="134.80" x2="66.18" y2="141.20" stroke="#a0a0a0" stroke-width="0.5" />
<line x1="67.74" y1="134.80" x2="67.74" y2="141.20" stroke="#a0a0a0" stroke-width="0.5" />
<line x1="69.30" y1="134.80" x2="69.30" y2="141.20" stroke="#a0a0a0" stroke-width="0.5" />
<line x1="70.86" y1="134.80" x2="70.86" y2="141.20" stroke="#a0a0a0" stroke-width="0.5" />
<line x1="72.42" y1="134.80" x2="72.42" y2="141.20" stroke="#a0a0a0" stroke-width="0.5" />
<line x1="73.98" y1="134.80" x2="73.98" y2="141.20" stroke="#a0a0a0" stroke-width="0.5" />
<line x1="75.54" y1="134.80" x2="75.54" y2="141.20" stroke="#a0a0a0" stroke-width="0.5" />
<line x1="77.10" y1="134.80" x2="77.10" y2="141.20" stroke="#a0a0a0" stroke-width="0.5" />
<line x1="78.66" y1="134.80" x2="78.66" y2="141.20" stroke="#a0a0a0" stroke-width="0.5" />
<line x1="80.22" y1="134.80" x2="80.22" y2="141.20" stroke="#a0a0a0" stroke-width="0.5" />
<line x1="81.78" y1="134.80" x2="81.78" y2="141.20" stroke="#a0a0a0" stroke-width="0.5" />
<line x1="83.34" y1="134.80" x2="83.34" y2="141.20" stroke="#a0a0a0" stroke-width="0.5" />
<line x1="84.90" y1="134.80" x2="84.90" y2="141.20" stroke="#a0a0a0" stroke-width="0.5" />
<line x1="86.46" y1="134.80" x2="86.46" y2="141.20" stroke="#a0a0a0" stroke-width="0.5" />
<line x1="88.02" y1="134.80" x2="88.02" y2="141.20" stroke="#a0a0a0" stroke-width="0.5" />
<line x1="89.58" y1="134.80" x2="89.58" y2="141.20" stroke="#a0a0a0" stroke-width="0.5" />
<line x1="91.14" y1="134.80" x2="91.14" y2="141.20" stroke="#a0a0a0" stroke-width="0.5" />
<line x1="92.70" y1="134.80" x2="92.70" y2="141.20" stroke="#a0a0a0" stroke-width="0.5" />
<line x1="94.26" y1="134.80" x2="94.26" y2="141.20" stroke="#a0a0a0" stroke-width="0.5" />
<line x1="95.82" y1="134.80" x2="95.82" y2="141.20" stroke="#a0a0a0" stroke-width="0.5" />
<line x1="97.38" y1="134.80" x2="97.38" y2="141.20" stroke="#a0a0a0" stroke-width="0.5" />
<line x1="98.94" y1="134.80" x2="98.94" y2="141.20" stroke="#a0a0a0" stroke-width="0.5" />
<line x1="100.50" y1="134.80" x2="100.50" y2="141.20" stroke="#a0a0a0" stroke-width="0.5" />
<line x1="102.06" y1="134.80" x2="102.06" y2="141.20" stroke="#a0a0a0" stroke-width="0.5" />
<line x1="103.62" y1="134.80" x2="103.62" y2="141.20" stroke="#a0a0a0" stroke-width="0.5" />
<line x1="105.18" y1="134.80" x2="105.18" y2="141.20" stroke="#a0a0a0" stroke-width="0.5" />
<line x1="106.74" y1="134.80" x2="106.74" y2="141.20" stroke="#a0a0a0" stroke-width="0.5" />
<line x1="108.30" y1="134.80" x2="108.30" y2="141.20" stroke="#a0a0a0" stroke-width="0.5" />
<line x1="109.86" y1="134.80" x2="109.86" y2="141.20" stroke="#a0a0a0" stroke-width="0.5" />
<line x1="111.42" y1="134.80" x2="111.42" y2="141.20" stroke="#a0a0a0" stroke-width="0.5" />
<text x="66.50" y="127.60" font-size="8.4" text-anchor="middle" fill="#231f20" font-weight="normal"  stroke="#231f20" stroke-width="0.16">42 nt</text>
<text x="196.40" y="128.70" font-size="8.4" text-anchor="middle" fill="#231f20" font-weight="normal"  stroke="#231f20" stroke-width="0.16">HCR</text>
<line x1="152.00" y1="133.40" x2="160.80" y2="133.40" stroke="#333" stroke-width="0.8" stroke-dasharray="2.2,1.3"/>
<line x1="160.80" y1="133.40" x2="232.60" y2="133.40" stroke="#111" stroke-width="0.9" />
<path d="M229.8,132 L233,133.4 L229.8,134.4" fill="#111" stroke="#111" stroke-width="0.5"/>
<line x1="233.40" y1="133.40" x2="244.80" y2="133.40" stroke="#111" stroke-width="0.9" />
<line x1="244.80" y1="133.40" x2="253.60" y2="133.40" stroke="#333" stroke-width="0.8" stroke-dasharray="2.2,1.3"/>
<line x1="152.00" y1="141.30" x2="160.80" y2="141.30" stroke="#333" stroke-width="0.8" stroke-dasharray="2.2,1.3"/>
<line x1="160.80" y1="141.30" x2="244.80" y2="141.30" stroke="#111" stroke-width="0.9" />
<path d="M195,140 L192,141.3 L195,142.3" fill="#111" stroke="#111" stroke-width="0.5"/>
<line x1="244.80" y1="141.30" x2="253.60" y2="141.30" stroke="#333" stroke-width="0.8" stroke-dasharray="2.2,1.3"/>
<line x1="253.60" y1="141.30" x2="257.00" y2="141.30" stroke="#111" stroke-width="0.9" />
<line x1="162.00" y1="134.30" x2="162.00" y2="140.40" stroke="#9a9a9a" stroke-width="0.42" />
<line x1="163.55" y1="134.30" x2="163.55" y2="140.40" stroke="#9a9a9a" stroke-width="0.42" />
<line x1="165.10" y1="134.30" x2="165.10" y2="140.40" stroke="#9a9a9a" stroke-width="0.42" />
<line x1="166.65" y1="134.30" x2="166.65" y2="140.40" stroke="#9a9a9a" stroke-width="0.42" />
<line x1="168.20" y1="134.30" x2="168.20" y2="140.40" stroke="#9a9a9a" stroke-width="0.42" />
<line x1="169.75" y1="134.30" x2="169.75" y2="140.40" stroke="#9a9a9a" stroke-width="0.42" />
<line x1="171.30" y1="134.30" x2="171.30" y2="140.40" stroke="#9a9a9a" stroke-width="0.42" />
<line x1="172.85" y1="134.30" x2="172.85" y2="140.40" stroke="#9a9a9a" stroke-width="0.42" />
<line x1="174.40" y1="134.30" x2="174.40" y2="140.40" stroke="#9a9a9a" stroke-width="0.42" />
<line x1="175.95" y1="134.30" x2="175.95" y2="140.40" stroke="#9a9a9a" stroke-width="0.42" />
<line x1="177.50" y1="134.30" x2="177.50" y2="140.40" stroke="#9a9a9a" stroke-width="0.42" />
<line x1="179.05" y1="134.30" x2="179.05" y2="140.40" stroke="#9a9a9a" stroke-width="0.42" />
<line x1="180.60" y1="134.30" x2="180.60" y2="140.40" stroke="#9a9a9a" stroke-width="0.42" />
<line x1="182.15" y1="134.30" x2="182.15" y2="140.40" stroke="#9a9a9a" stroke-width="0.42" />
<line x1="183.70" y1="134.30" x2="183.70" y2="140.40" stroke="#9a9a9a" stroke-width="0.42" />
<line x1="185.25" y1="134.30" x2="185.25" y2="140.40" stroke="#9a9a9a" stroke-width="0.42" />
<line x1="186.80" y1="134.30" x2="186.80" y2="140.40" stroke="#9a9a9a" stroke-width="0.42" />
<line x1="188.35" y1="134.30" x2="188.35" y2="140.40" stroke="#9a9a9a" stroke-width="0.42" />
<line x1="189.90" y1="134.30" x2="189.90" y2="140.40" stroke="#9a9a9a" stroke-width="0.42" />
<line x1="191.45" y1="134.30" x2="191.45" y2="140.40" stroke="#9a9a9a" stroke-width="0.42" />
<line x1="193.00" y1="134.30" x2="193.00" y2="140.40" stroke="#9a9a9a" stroke-width="0.42" />
<line x1="194.55" y1="134.30" x2="194.55" y2="140.40" stroke="#9a9a9a" stroke-width="0.42" />
<line x1="196.10" y1="134.30" x2="196.10" y2="140.40" stroke="#9a9a9a" stroke-width="0.42" />
<line x1="197.65" y1="134.30" x2="197.65" y2="140.40" stroke="#9a9a9a" stroke-width="0.42" />
<line x1="199.20" y1="134.30" x2="199.20" y2="140.40" stroke="#9a9a9a" stroke-width="0.42" />
<line x1="200.75" y1="134.30" x2="200.75" y2="140.40" stroke="#9a9a9a" stroke-width="0.42" />
<line x1="202.30" y1="134.30" x2="202.30" y2="140.40" stroke="#9a9a9a" stroke-width="0.42" />
<line x1="203.85" y1="134.30" x2="203.85" y2="140.40" stroke="#9a9a9a" stroke-width="0.42" />
<line x1="205.40" y1="134.30" x2="205.40" y2="140.40" stroke="#9a9a9a" stroke-width="0.42" />
<line x1="206.95" y1="134.30" x2="206.95" y2="140.40" stroke="#9a9a9a" stroke-width="0.42" />
<line x1="208.50" y1="134.30" x2="208.50" y2="140.40" stroke="#9a9a9a" stroke-width="0.42" />
<line x1="210.05" y1="134.30" x2="210.05" y2="140.40" stroke="#9a9a9a" stroke-width="0.42" />
<line x1="211.60" y1="134.30" x2="211.60" y2="140.40" stroke="#9a9a9a" stroke-width="0.42" />
<line x1="213.15" y1="134.30" x2="213.15" y2="140.40" stroke="#9a9a9a" stroke-width="0.42" />
<line x1="214.70" y1="134.30" x2="214.70" y2="140.40" stroke="#9a9a9a" stroke-width="0.42" />
<line x1="216.25" y1="134.30" x2="216.25" y2="140.40" stroke="#9a9a9a" stroke-width="0.42" />
<line x1="217.80" y1="134.30" x2="217.80" y2="140.40" stroke="#9a9a9a" stroke-width="0.42" />
<line x1="219.35" y1="134.30" x2="219.35" y2="140.40" stroke="#9a9a9a" stroke-width="0.42" />
<line x1="220.90" y1="134.30" x2="220.90" y2="140.40" stroke="#9a9a9a" stroke-width="0.42" />
<line x1="222.45" y1="134.30" x2="222.45" y2="140.40" stroke="#9a9a9a" stroke-width="0.42" />
<line x1="224.00" y1="134.30" x2="224.00" y2="140.40" stroke="#9a9a9a" stroke-width="0.42" />
<line x1="225.55" y1="134.30" x2="225.55" y2="140.40" stroke="#9a9a9a" stroke-width="0.42" />
<line x1="227.10" y1="134.30" x2="227.10" y2="140.40" stroke="#9a9a9a" stroke-width="0.42" />
<line x1="228.65" y1="134.30" x2="228.65" y2="140.40" stroke="#9a9a9a" stroke-width="0.42" />
<line x1="230.20" y1="134.30" x2="230.20" y2="140.40" stroke="#9a9a9a" stroke-width="0.42" />
<line x1="231.75" y1="134.30" x2="231.75" y2="140.40" stroke="#9a9a9a" stroke-width="0.42" />
<line x1="233.30" y1="134.30" x2="233.30" y2="140.40" stroke="#9a9a9a" stroke-width="0.42" />
<line x1="234.85" y1="134.30" x2="234.85" y2="140.40" stroke="#9a9a9a" stroke-width="0.42" />
<line x1="236.40" y1="134.30" x2="236.40" y2="140.40" stroke="#9a9a9a" stroke-width="0.42" />
<line x1="237.95" y1="134.30" x2="237.95" y2="140.40" stroke="#9a9a9a" stroke-width="0.42" />
<line x1="239.50" y1="134.30" x2="239.50" y2="140.40" stroke="#9a9a9a" stroke-width="0.42" />
<line x1="241.05" y1="134.30" x2="241.05" y2="140.40" stroke="#9a9a9a" stroke-width="0.42" />
<line x1="242.60" y1="134.30" x2="242.60" y2="140.40" stroke="#9a9a9a" stroke-width="0.42" />
<circle cx="158.00" cy="127.80" r="1.4" fill="#16c416" stroke="#075a07" stroke-width="0.6"/>
<circle cx="160.95" cy="127.80" r="1.4" fill="#16c416" stroke="#075a07" stroke-width="0.6"/>
<circle cx="163.90" cy="127.80" r="1.4" fill="#16c416" stroke="#075a07" stroke-width="0.6"/>
<line x1="160.90" y1="128.90" x2="160.90" y2="133.40" stroke="#111" stroke-width="0.6" />
<circle cx="230.20" cy="127.80" r="1.4" fill="#16c416" stroke="#075a07" stroke-width="0.6"/>
<circle cx="233.15" cy="127.80" r="1.4" fill="#16c416" stroke="#075a07" stroke-width="0.6"/>
<circle cx="236.10" cy="127.80" r="1.4" fill="#16c416" stroke="#075a07" stroke-width="0.6"/>
<line x1="233.30" y1="128.90" x2="233.30" y2="133.40" stroke="#111" stroke-width="0.6" />
<circle cx="188.20" cy="147.40" r="1.4" fill="#16c416" stroke="#075a07" stroke-width="0.6"/>
<circle cx="191.15" cy="147.40" r="1.4" fill="#16c416" stroke="#075a07" stroke-width="0.6"/>
<circle cx="194.10" cy="147.40" r="1.4" fill="#16c416" stroke="#075a07" stroke-width="0.6"/>
<line x1="191.30" y1="141.30" x2="191.30" y2="146.40" stroke="#111" stroke-width="0.6" />
<circle cx="253.90" cy="147.40" r="1.4" fill="#16c416" stroke="#075a07" stroke-width="0.6"/>
<circle cx="256.85" cy="147.40" r="1.4" fill="#16c416" stroke="#075a07" stroke-width="0.6"/>
<circle cx="259.80" cy="147.40" r="1.4" fill="#16c416" stroke="#075a07" stroke-width="0.6"/>
<line x1="257.00" y1="141.30" x2="257.00" y2="146.40" stroke="#111" stroke-width="0.6" />
<text x="373.8" y="29.1" font-size="9.1" fill="#231f20" textLength="88.7" lengthAdjust="spacingAndGlyphs" stroke="#231f20" stroke-width="0.16">Ap<tspan font-size="6" dy="1.8">PTK7</tspan><tspan dy="-1.8">-S1 and Z</tspan><tspan font-size="6" dy="1.8">EGFR</tspan><tspan dy="-1.8">-S2</tspan></text>
<text x="418.2" y="40.7" font-size="9.1" text-anchor="middle" fill="#231f20" stroke="#231f20" stroke-width="0.16">H1<tspan font-size="6" dy="-3.4">Fl</tspan><tspan dy="3.4"> and H2</tspan><tspan font-size="6" dy="-3.4">Fl</tspan><tspan dy="3.4"> and mAb</tspan></text>
<text x="419.20" y="52.30" font-size="9.1" text-anchor="middle" fill="#231f20" font-weight="normal"  stroke="#231f20" stroke-width="0.16">Protein G-fluorophore</text>
<path d="M385,88.2 L399,88.2 C409,88.2 414.6,96 414.6,104.3 C414.6,112.7 409,120.5 399,120.5 L385,120.5 Z" fill="none" stroke="#111" stroke-width="2.4"/>
<line x1="373.80" y1="95.80" x2="385.00" y2="95.80" stroke="#111" stroke-width="2.1" />
<line x1="373.80" y1="112.00" x2="385.00" y2="112.00" stroke="#111" stroke-width="2.1" />
<line x1="414.60" y1="104.10" x2="443.50" y2="104.10" stroke="#111" stroke-width="1.4" />
<path d="M441,101.6 L447,104.1 L441,106.6 Z" fill="#111"/>
<text x="350.00" y="98.20" font-size="8.1" text-anchor="start" fill="#231f20" font-weight="normal" textLength="19.2" lengthAdjust="spacingAndGlyphs" stroke="#231f20" stroke-width="0.16">PTK7</text>
<text x="349.00" y="113.90" font-size="8.5" text-anchor="start" fill="#231f20" font-weight="normal" textLength="21.2" lengthAdjust="spacingAndGlyphs" stroke="#231f20" stroke-width="0.16">EGFR</text>
<line x1="451.30" y1="99.30" x2="451.30" y2="109.50" stroke="#555" stroke-width="0.6" />
<line x1="453.75" y1="99.30" x2="453.75" y2="109.50" stroke="#8a8a8a" stroke-width="0.6" />
<line x1="456.20" y1="99.30" x2="456.20" y2="109.50" stroke="#555" stroke-width="0.6" />
<line x1="458.65" y1="99.30" x2="458.65" y2="109.50" stroke="#8a8a8a" stroke-width="0.6" />
<line x1="461.10" y1="99.30" x2="461.10" y2="109.50" stroke="#555" stroke-width="0.6" />
<line x1="463.55" y1="99.30" x2="463.55" y2="109.50" stroke="#8a8a8a" stroke-width="0.6" />
<line x1="466.00" y1="99.30" x2="466.00" y2="109.50" stroke="#555" stroke-width="0.6" />
<line x1="468.45" y1="99.30" x2="468.45" y2="109.50" stroke="#8a8a8a" stroke-width="0.6" />
<line x1="470.90" y1="99.30" x2="470.90" y2="109.50" stroke="#555" stroke-width="0.6" />
<line x1="473.35" y1="99.30" x2="473.35" y2="109.50" stroke="#8a8a8a" stroke-width="0.6" />
<line x1="475.80" y1="99.30" x2="475.80" y2="109.50" stroke="#555" stroke-width="0.6" />
<line x1="478.25" y1="99.30" x2="478.25" y2="109.50" stroke="#8a8a8a" stroke-width="0.6" />
<line x1="480.70" y1="99.30" x2="480.70" y2="109.50" stroke="#555" stroke-width="0.6" />
<line x1="483.15" y1="99.30" x2="483.15" y2="109.50" stroke="#8a8a8a" stroke-width="0.6" />
<line x1="485.60" y1="99.30" x2="485.60" y2="109.50" stroke="#555" stroke-width="0.6" />
<line x1="488.05" y1="99.30" x2="488.05" y2="109.50" stroke="#8a8a8a" stroke-width="0.6" />
<line x1="490.50" y1="99.30" x2="490.50" y2="109.50" stroke="#555" stroke-width="0.6" />
<line x1="492.95" y1="99.30" x2="492.95" y2="109.50" stroke="#8a8a8a" stroke-width="0.6" />
<line x1="495.40" y1="99.30" x2="495.40" y2="109.50" stroke="#555" stroke-width="0.6" />
<line x1="497.85" y1="99.30" x2="497.85" y2="109.50" stroke="#8a8a8a" stroke-width="0.6" />
<line x1="500.30" y1="99.30" x2="500.30" y2="109.50" stroke="#555" stroke-width="0.6" />
<line x1="502.75" y1="99.30" x2="502.75" y2="109.50" stroke="#8a8a8a" stroke-width="0.6" />
<line x1="505.20" y1="99.30" x2="505.20" y2="109.50" stroke="#555" stroke-width="0.6" />
<line x1="507.65" y1="99.30" x2="507.65" y2="109.50" stroke="#8a8a8a" stroke-width="0.6" />
<line x1="510.10" y1="99.30" x2="510.10" y2="109.50" stroke="#555" stroke-width="0.6" />
<line x1="512.55" y1="99.30" x2="512.55" y2="109.50" stroke="#8a8a8a" stroke-width="0.6" />
<line x1="515.00" y1="99.30" x2="515.00" y2="109.50" stroke="#555" stroke-width="0.6" />
<line x1="517.45" y1="99.30" x2="517.45" y2="109.50" stroke="#8a8a8a" stroke-width="0.6" />
<line x1="519.90" y1="99.30" x2="519.90" y2="109.50" stroke="#555" stroke-width="0.6" />
<line x1="522.35" y1="99.30" x2="522.35" y2="109.50" stroke="#8a8a8a" stroke-width="0.6" />
<line x1="524.80" y1="99.30" x2="524.80" y2="109.50" stroke="#555" stroke-width="0.6" />
<line x1="527.25" y1="99.30" x2="527.25" y2="109.50" stroke="#8a8a8a" stroke-width="0.6" />
<line x1="529.70" y1="99.30" x2="529.70" y2="109.50" stroke="#555" stroke-width="0.6" />
<line x1="532.15" y1="99.30" x2="532.15" y2="109.50" stroke="#8a8a8a" stroke-width="0.6" />
<line x1="534.60" y1="99.30" x2="534.60" y2="109.50" stroke="#555" stroke-width="0.6" />
<line x1="537.05" y1="99.30" x2="537.05" y2="109.50" stroke="#8a8a8a" stroke-width="0.6" />
<line x1="539.50" y1="99.30" x2="539.50" y2="109.50" stroke="#555" stroke-width="0.6" />
<line x1="541.95" y1="99.30" x2="541.95" y2="109.50" stroke="#8a8a8a" stroke-width="0.6" />
<line x1="544.40" y1="99.30" x2="544.40" y2="109.50" stroke="#555" stroke-width="0.6" />
<line x1="546.85" y1="99.30" x2="546.85" y2="109.50" stroke="#8a8a8a" stroke-width="0.6" />
<line x1="549.30" y1="99.30" x2="549.30" y2="109.50" stroke="#555" stroke-width="0.6" />
<line x1="551.75" y1="99.30" x2="551.75" y2="109.50" stroke="#8a8a8a" stroke-width="0.6" />
<line x1="554.20" y1="99.30" x2="554.20" y2="109.50" stroke="#555" stroke-width="0.6" />
<line x1="556.65" y1="99.30" x2="556.65" y2="109.50" stroke="#8a8a8a" stroke-width="0.6" />
<line x1="559.10" y1="99.30" x2="559.10" y2="109.50" stroke="#555" stroke-width="0.6" />
<line x1="561.55" y1="99.30" x2="561.55" y2="109.50" stroke="#8a8a8a" stroke-width="0.6" />
<line x1="564.00" y1="99.30" x2="564.00" y2="109.50" stroke="#555" stroke-width="0.6" />
<line x1="566.45" y1="99.30" x2="566.45" y2="109.50" stroke="#8a8a8a" stroke-width="0.6" />
<line x1="568.90" y1="99.30" x2="568.90" y2="109.50" stroke="#555" stroke-width="0.6" />
<line x1="571.35" y1="99.30" x2="571.35" y2="109.50" stroke="#8a8a8a" stroke-width="0.6" />
<line x1="573.80" y1="99.30" x2="573.80" y2="109.50" stroke="#555" stroke-width="0.6" />
<line x1="576.25" y1="99.30" x2="576.25" y2="109.50" stroke="#8a8a8a" stroke-width="0.6" />
<line x1="578.70" y1="99.30" x2="578.70" y2="109.50" stroke="#555" stroke-width="0.6" />
<line x1="581.15" y1="99.30" x2="581.15" y2="109.50" stroke="#8a8a8a" stroke-width="0.6" />
<line x1="583.60" y1="99.30" x2="583.60" y2="109.50" stroke="#555" stroke-width="0.6" />
<line x1="586.05" y1="99.30" x2="586.05" y2="109.50" stroke="#8a8a8a" stroke-width="0.6" />
<line x1="588.50" y1="99.30" x2="588.50" y2="109.50" stroke="#555" stroke-width="0.6" />
<line x1="590.95" y1="99.30" x2="590.95" y2="109.50" stroke="#8a8a8a" stroke-width="0.6" />
<line x1="593.40" y1="99.30" x2="593.40" y2="109.50" stroke="#555" stroke-width="0.6" />
<line x1="595.85" y1="99.30" x2="595.85" y2="109.50" stroke="#8a8a8a" stroke-width="0.6" />
<line x1="598.30" y1="99.30" x2="598.30" y2="109.50" stroke="#555" stroke-width="0.6" />
<line x1="600.75" y1="99.30" x2="600.75" y2="109.50" stroke="#8a8a8a" stroke-width="0.6" />
<line x1="603.20" y1="99.30" x2="603.20" y2="109.50" stroke="#555" stroke-width="0.6" />
<line x1="605.65" y1="99.30" x2="605.65" y2="109.50" stroke="#8a8a8a" stroke-width="0.6" />
<line x1="608.10" y1="99.30" x2="608.10" y2="109.50" stroke="#555" stroke-width="0.6" />
<line x1="610.55" y1="99.30" x2="610.55" y2="109.50" stroke="#8a8a8a" stroke-width="0.6" />
<line x1="613.00" y1="99.30" x2="613.00" y2="109.50" stroke="#555" stroke-width="0.6" />
<line x1="615.45" y1="99.30" x2="615.45" y2="109.50" stroke="#8a8a8a" stroke-width="0.6" />
<line x1="617.90" y1="99.30" x2="617.90" y2="109.50" stroke="#555" stroke-width="0.6" />
<line x1="620.35" y1="99.30" x2="620.35" y2="109.50" stroke="#8a8a8a" stroke-width="0.6" />
<line x1="622.80" y1="99.30" x2="622.80" y2="109.50" stroke="#555" stroke-width="0.6" />
<line x1="625.25" y1="99.30" x2="625.25" y2="109.50" stroke="#8a8a8a" stroke-width="0.6" />
<line x1="627.70" y1="99.30" x2="627.70" y2="109.50" stroke="#555" stroke-width="0.6" />
<line x1="630.15" y1="99.30" x2="630.15" y2="109.50" stroke="#8a8a8a" stroke-width="0.6" />
<line x1="632.60" y1="99.30" x2="632.60" y2="109.50" stroke="#555" stroke-width="0.6" />
<line x1="635.05" y1="99.30" x2="635.05" y2="109.50" stroke="#8a8a8a" stroke-width="0.6" />
<line x1="637.50" y1="99.30" x2="637.50" y2="109.50" stroke="#555" stroke-width="0.6" />
<line x1="639.95" y1="99.30" x2="639.95" y2="109.50" stroke="#8a8a8a" stroke-width="0.6" />
<line x1="642.40" y1="99.30" x2="642.40" y2="109.50" stroke="#555" stroke-width="0.6" />
<line x1="644.85" y1="99.30" x2="644.85" y2="109.50" stroke="#8a8a8a" stroke-width="0.6" />
<line x1="450.00" y1="99.30" x2="646.70" y2="99.30" stroke="#000" stroke-width="1.3" />
<line x1="450.00" y1="109.50" x2="481.00" y2="109.50" stroke="#b01818" stroke-width="1.5" />
<line x1="482.50" y1="109.50" x2="646.70" y2="109.50" stroke="#222" stroke-width="1.1" />
<path d="M646.7,109.5 L669,109.5" stroke="#222" stroke-width="1" stroke-dasharray="5,3"/>
<line x1="486.50" y1="109.50" x2="486.50" y2="117.00" stroke="#333" stroke-width="0.6" />
<g transform="translate(486.50,120.30) rotate(0)"><circle cx="-4.30" cy="0" r="2.1" fill="#22c822" stroke="#064f06" stroke-width="0.9"/><circle cx="0.00" cy="0" r="2.1" fill="#22c822" stroke="#064f06" stroke-width="0.9"/><circle cx="4.30" cy="0" r="2.1" fill="#22c822" stroke="#064f06" stroke-width="0.9"/></g>
<line x1="594.00" y1="109.50" x2="594.00" y2="117.00" stroke="#333" stroke-width="0.6" />
<g transform="translate(594.00,120.30) rotate(0)"><circle cx="-4.30" cy="0" r="2.1" fill="#22c822" stroke="#064f06" stroke-width="0.9"/><circle cx="0.00" cy="0" r="2.1" fill="#22c822" stroke="#064f06" stroke-width="0.9"/><circle cx="4.30" cy="0" r="2.1" fill="#22c822" stroke="#064f06" stroke-width="0.9"/></g>
<line x1="532.00" y1="99.30" x2="532.00" y2="91.00" stroke="#333" stroke-width="0.6" />
<g transform="translate(532.00,87.90) rotate(0)"><circle cx="-4.30" cy="0" r="2.1" fill="#22c822" stroke="#064f06" stroke-width="0.9"/><circle cx="0.00" cy="0" r="2.1" fill="#22c822" stroke="#064f06" stroke-width="0.9"/><circle cx="4.30" cy="0" r="2.1" fill="#22c822" stroke="#064f06" stroke-width="0.9"/></g>
<line x1="642.00" y1="99.30" x2="642.00" y2="91.00" stroke="#333" stroke-width="0.6" />
<g transform="translate(642.00,87.90) rotate(0)"><circle cx="-4.30" cy="0" r="2.1" fill="#22c822" stroke="#064f06" stroke-width="0.9"/><circle cx="0.00" cy="0" r="2.1" fill="#22c822" stroke="#064f06" stroke-width="0.9"/><circle cx="4.30" cy="0" r="2.1" fill="#22c822" stroke="#064f06" stroke-width="0.9"/></g>
<path d="M541,90.5 C537,93 537,111 541,113.6" fill="none" stroke="#5ad45a" stroke-width="0.9"/>
<path d="M644,91 C648,94 648,110 644,114" fill="none" stroke="#5ad45a" stroke-width="0.9"/>
<text x="652.50" y="117.50" font-size="8" text-anchor="middle" fill="#3cc83c" font-weight="normal"  stroke="#3cc83c" stroke-width="0.16">n</text>
<defs><linearGradient id="fadeU" x1="0" x2="1" y1="0" y2="0"><stop offset="0" stop-color="#fff" stop-opacity="1"/><stop offset="0.12" stop-color="#fff" stop-opacity="0.55"/><stop offset="0.25" stop-color="#fff" stop-opacity="0"/></linearGradient></defs><g transform="translate(436,82.3) rotate(-17.4)"><line x1="1.50" y1="0.5" x2="1.50" y2="8.4" stroke="#8c8c8c" stroke-width="0.5"/><line x1="3.80" y1="0.5" x2="3.80" y2="8.4" stroke="#8c8c8c" stroke-width="0.5"/><line x1="6.10" y1="0.5" x2="6.10" y2="8.4" stroke="#8c8c8c" stroke-width="0.5"/><line x1="8.40" y1="0.5" x2="8.40" y2="8.4" stroke="#8c8c8c" stroke-width="0.5"/><line x1="10.70" y1="0.5" x2="10.70" y2="8.4" stroke="#8c8c8c" stroke-width="0.5"/><line x1="13.00" y1="0.5" x2="13.00" y2="8.4" stroke="#8c8c8c" stroke-width="0.5"/><line x1="15.30" y1="0.5" x2="15.30" y2="8.4" stroke="#8c8c8c" stroke-width="0.5"/><line x1="17.60" y1="0.5" x2="17.60" y2="8.4" stroke="#8c8c8c" stroke-width="0.5"/><line x1="19.90" y1="0.5" x2="19.90" y2="8.4" stroke="#8c8c8c" stroke-width="0.5"/><line x1="22.20" y1="0.5" x2="22.20" y2="8.4" stroke="#8c8c8c" stroke-width="0.5"/><line x1="24.50" y1="0.5" x2="24.50" y2="8.4" stroke="#8c8c8c" stroke-width="0.5"/><line x1="26.80" y1="0.5" x2="26.80" y2="8.4" stroke="#8c8c8c" stroke-width="0.5"/><line x1="29.10" y1="0.5" x2="29.10" y2="8.4" stroke="#8c8c8c" stroke-width="0.5"/><line x1="31.40" y1="0.5" x2="31.40" y2="8.4" stroke="#8c8c8c" stroke-width="0.5"/><line x1="33.70" y1="0.5" x2="33.70" y2="8.4" stroke="#8c8c8c" stroke-width="0.5"/><line x1="36.00" y1="0.5" x2="36.00" y2="8.4" stroke="#8c8c8c" stroke-width="0.5"/><line x1="38.30" y1="0.5" x2="38.30" y2="8.4" stroke="#8c8c8c" stroke-width="0.5"/><line x1="40.60" y1="0.5" x2="40.60" y2="8.4" stroke="#8c8c8c" stroke-width="0.5"/><line x1="42.90" y1="0.5" x2="42.90" y2="8.4" stroke="#8c8c8c" stroke-width="0.5"/><line x1="45.20" y1="0.5" x2="45.20" y2="8.4" stroke="#8c8c8c" stroke-width="0.5"/><line x1="47.50" y1="0.5" x2="47.50" y2="8.4" stroke="#8c8c8c" stroke-width="0.5"/><line x1="49.80" y1="0.5" x2="49.80" y2="8.4" stroke="#8c8c8c" stroke-width="0.5"/><line x1="52.10" y1="0.5" x2="52.10" y2="8.4" stroke="#8c8c8c" stroke-width="0.5"/><line x1="54.40" y1="0.5" x2="54.40" y2="8.4" stroke="#8c8c8c" stroke-width="0.5"/><line x1="56.70" y1="0.5" x2="56.70" y2="8.4" stroke="#8c8c8c" stroke-width="0.5"/><line x1="59.00" y1="0.5" x2="59.00" y2="8.4" stroke="#8c8c8c" stroke-width="0.5"/><line x1="61.30" y1="0.5" x2="61.30" y2="8.4" stroke="#8c8c8c" stroke-width="0.5"/><line x1="63.60" y1="0.5" x2="63.60" y2="8.4" stroke="#8c8c8c" stroke-width="0.5"/><line x1="65.90" y1="0.5" x2="65.90" y2="8.4" stroke="#8c8c8c" stroke-width="0.5"/><line x1="68.20" y1="0.5" x2="68.20" y2="8.4" stroke="#8c8c8c" stroke-width="0.5"/><line x1="70.50" y1="0.5" x2="70.50" y2="8.4" stroke="#8c8c8c" stroke-width="0.5"/><line x1="72.80" y1="0.5" x2="72.80" y2="8.4" stroke="#8c8c8c" stroke-width="0.5"/><line x1="75.10" y1="0.5" x2="75.10" y2="8.4" stroke="#8c8c8c" stroke-width="0.5"/><line x1="77.40" y1="0.5" x2="77.40" y2="8.4" stroke="#8c8c8c" stroke-width="0.5"/><line x1="79.70" y1="0.5" x2="79.70" y2="8.4" stroke="#8c8c8c" stroke-width="0.5"/><line x1="82.00" y1="0.5" x2="82.00" y2="8.4" stroke="#8c8c8c" stroke-width="0.5"/><line x1="84.30" y1="0.5" x2="84.30" y2="8.4" stroke="#8c8c8c" stroke-width="0.5"/><line x1="86.60" y1="0.5" x2="86.60" y2="8.4" stroke="#8c8c8c" stroke-width="0.5"/><line x1="88.90" y1="0.5" x2="88.90" y2="8.4" stroke="#8c8c8c" stroke-width="0.5"/><line x1="91.20" y1="0.5" x2="91.20" y2="8.4" stroke="#8c8c8c" stroke-width="0.5"/><line x1="93.50" y1="0.5" x2="93.50" y2="8.4" stroke="#8c8c8c" stroke-width="0.5"/><line x1="95.80" y1="0.5" x2="95.80" y2="8.4" stroke="#8c8c8c" stroke-width="0.5"/><line x1="98.10" y1="0.5" x2="98.10" y2="8.4" stroke="#8c8c8c" stroke-width="0.5"/><line x1="100.40" y1="0.5" x2="100.40" y2="8.4" stroke="#8c8c8c" stroke-width="0.5"/><line x1="102.70" y1="0.5" x2="102.70" y2="8.4" stroke="#8c8c8c" stroke-width="0.5"/><line x1="105.00" y1="0.5" x2="105.00" y2="8.4" stroke="#8c8c8c" stroke-width="0.5"/><line x1="107.30" y1="0.5" x2="107.30" y2="8.4" stroke="#8c8c8c" stroke-width="0.5"/><line x1="109.60" y1="0.5" x2="109.60" y2="8.4" stroke="#8c8c8c" stroke-width="0.5"/><line x1="111.90" y1="0.5" x2="111.90" y2="8.4" stroke="#8c8c8c" stroke-width="0.5"/><line x1="114.20" y1="0.5" x2="114.20" y2="8.4" stroke="#8c8c8c" stroke-width="0.5"/><line x1="116.50" y1="0.5" x2="116.50" y2="8.4" stroke="#8c8c8c" stroke-width="0.5"/><line x1="118.80" y1="0.5" x2="118.80" y2="8.4" stroke="#8c8c8c" stroke-width="0.5"/><line x1="121.10" y1="0.5" x2="121.10" y2="8.4" stroke="#8c8c8c" stroke-width="0.5"/><line x1="123.40" y1="0.5" x2="123.40" y2="8.4" stroke="#8c8c8c" stroke-width="0.5"/><line x1="125.70" y1="0.5" x2="125.70" y2="8.4" stroke="#8c8c8c" stroke-width="0.5"/><line x1="128.00" y1="0.5" x2="128.00" y2="8.4" stroke="#8c8c8c" stroke-width="0.5"/><line x1="130.30" y1="0.5" x2="130.30" y2="8.4" stroke="#8c8c8c" stroke-width="0.5"/><line x1="132.60" y1="0.5" x2="132.60" y2="8.4" stroke="#8c8c8c" stroke-width="0.5"/><line x1="134.90" y1="0.5" x2="134.90" y2="8.4" stroke="#8c8c8c" stroke-width="0.5"/><line x1="137.20" y1="0.5" x2="137.20" y2="8.4" stroke="#8c8c8c" stroke-width="0.5"/><line x1="139.50" y1="0.5" x2="139.50" y2="8.4" stroke="#8c8c8c" stroke-width="0.5"/><line x1="141.80" y1="0.5" x2="141.80" y2="8.4" stroke="#8c8c8c" stroke-width="0.5"/><line x1="144.10" y1="0.5" x2="144.10" y2="8.4" stroke="#8c8c8c" stroke-width="0.5"/><line x1="146.40" y1="0.5" x2="146.40" y2="8.4" stroke="#8c8c8c" stroke-width="0.5"/><line x1="148.70" y1="0.5" x2="148.70" y2="8.4" stroke="#8c8c8c" stroke-width="0.5"/><line x1="151.00" y1="0.5" x2="151.00" y2="8.4" stroke="#8c8c8c" stroke-width="0.5"/><line x1="153.30" y1="0.5" x2="153.30" y2="8.4" stroke="#8c8c8c" stroke-width="0.5"/><line x1="155.60" y1="0.5" x2="155.60" y2="8.4" stroke="#8c8c8c" stroke-width="0.5"/><line x1="157.90" y1="0.5" x2="157.90" y2="8.4" stroke="#8c8c8c" stroke-width="0.5"/><line x1="160.20" y1="0.5" x2="160.20" y2="8.4" stroke="#8c8c8c" stroke-width="0.5"/><line x1="162.50" y1="0.5" x2="162.50" y2="8.4" stroke="#8c8c8c" stroke-width="0.5"/><line x1="164.80" y1="0.5" x2="164.80" y2="8.4" stroke="#8c8c8c" stroke-width="0.5"/><line x1="167.10" y1="0.5" x2="167.10" y2="8.4" stroke="#8c8c8c" stroke-width="0.5"/><line x1="169.40" y1="0.5" x2="169.40" y2="8.4" stroke="#8c8c8c" stroke-width="0.5"/><line x1="0" y1="0" x2="170.3" y2="0" stroke="#111" stroke-width="1.1"/><line x1="0" y1="8.9" x2="170.3" y2="8.9" stroke="#222" stroke-width="0.9"/><line x1="170.3" y1="4.45" x2="194.3" y2="4.45" stroke="#c4c4c4" stroke-width="1" stroke-dasharray="5,3"/><rect x="-2" y="-2" width="174.3" height="12.9" fill="url(#fadeU)"/></g>
<g transform="translate(470.50,91.30) rotate(-20)"><circle cx="-3.30" cy="0" r="1.7" fill="#22c822" stroke="#064f06" stroke-width="0.7"/><circle cx="0.00" cy="0" r="1.7" fill="#22c822" stroke="#064f06" stroke-width="0.7"/><circle cx="3.30" cy="0" r="1.7" fill="#22c822" stroke="#064f06" stroke-width="0.7"/></g>
<line x1="465.50" y1="84.50" x2="468.00" y2="89.50" stroke="#333" stroke-width="0.6" />
<g transform="translate(500.80,52.20) rotate(-15)"><circle cx="-3.30" cy="0" r="1.7" fill="#22c822" stroke="#064f06" stroke-width="0.7"/><circle cx="0.00" cy="0" r="1.7" fill="#22c822" stroke="#064f06" stroke-width="0.7"/><circle cx="3.30" cy="0" r="1.7" fill="#22c822" stroke="#064f06" stroke-width="0.7"/></g>
<line x1="501.80" y1="54.50" x2="503.00" y2="60.00" stroke="#333" stroke-width="0.6" />
<g transform="translate(562.00,63.00) rotate(-20)"><circle cx="-3.30" cy="0" r="1.7" fill="#22c822" stroke="#064f06" stroke-width="0.7"/><circle cx="0.00" cy="0" r="1.7" fill="#22c822" stroke="#064f06" stroke-width="0.7"/><circle cx="3.30" cy="0" r="1.7" fill="#22c822" stroke="#064f06" stroke-width="0.7"/></g>
<line x1="556.00" y1="58.00" x2="558.50" y2="62.00" stroke="#333" stroke-width="0.6" />
<g transform="translate(592.00,23.50) rotate(-15)"><circle cx="-3.30" cy="0" r="1.7" fill="#22c822" stroke="#064f06" stroke-width="0.7"/><circle cx="0.00" cy="0" r="1.7" fill="#22c822" stroke="#064f06" stroke-width="0.7"/><circle cx="3.30" cy="0" r="1.7" fill="#22c822" stroke="#064f06" stroke-width="0.7"/></g>
<line x1="595.60" y1="25.00" x2="598.00" y2="31.00" stroke="#333" stroke-width="0.6" />
<path d="M508.5,51.5 C505.5,55 506,67 512.5,71" fill="none" stroke="#5ad45a" stroke-width="0.9"/>
<path d="M596,23 C600,26 601,40 598,44" fill="none" stroke="#5ad45a" stroke-width="0.9"/>
<text x="607.00" y="44.00" font-size="8" text-anchor="middle" fill="#3cc83c" font-weight="normal"  stroke="#3cc83c" stroke-width="0.16">n</text>
<path d="M536.22,42.93 L515.27,35.30 Q512.56,37.80 513.73,41.30 L535.78,44.67 Z" fill="#94b893" stroke="#5f8a61" stroke-width="0.7"/>
<path d="M514.50,49.20 L535.50,50.20 L567.50,30.20" fill="none" stroke="#6b926c" stroke-width="6.9" stroke-linecap="round" stroke-linejoin="round" transform="translate(0.4,0.5)"/>
<path d="M514.50,49.20 L535.50,50.20 L567.50,30.20" fill="none" stroke="#a3c3a2" stroke-width="6.0" stroke-linecap="round" stroke-linejoin="round"/>
<path d="M514.50,49.20 L535.50,50.20 L567.50,30.20" fill="none" stroke="#c4dbc3" stroke-width="3.60" stroke-linecap="round" stroke-linejoin="round" transform="translate(-0.5,-0.6)"/>
<path d="M514.50,49.20 L535.50,50.20 L567.50,30.20" fill="none" stroke="#dfede0" stroke-width="1.50" stroke-linecap="round" stroke-linejoin="round" transform="translate(-0.9,-1.1)"/>
<path d="M538.00,79.00 L541.00,60.00 L572.50,37.20" fill="none" stroke="#6b926c" stroke-width="7.300000000000001" stroke-linecap="round" stroke-linejoin="round" transform="translate(0.4,0.5)"/>
<path d="M538.00,79.00 L541.00,60.00 L572.50,37.20" fill="none" stroke="#a3c3a2" stroke-width="6.4" stroke-linecap="round" stroke-linejoin="round"/>
<path d="M538.00,79.00 L541.00,60.00 L572.50,37.20" fill="none" stroke="#c4dbc3" stroke-width="3.84" stroke-linecap="round" stroke-linejoin="round" transform="translate(-0.5,-0.6)"/>
<path d="M538.00,79.00 L541.00,60.00 L572.50,37.20" fill="none" stroke="#dfede0" stroke-width="1.60" stroke-linecap="round" stroke-linejoin="round" transform="translate(-0.9,-1.1)"/>
<path d="M547.10,62.48 L543.30,84.42 Q547.56,86.50 551.90,84.58 L548.90,62.52 Z" fill="#86ad85" stroke="#5f8a61" stroke-width="0.7"/>
<path d="M588.00,55.50 L604.00,87.50 L599.50,107.00" fill="none" stroke="#6b926c" stroke-width="7.4" stroke-linecap="round" stroke-linejoin="round" transform="translate(0.4,0.5)"/>
<path d="M588.00,55.50 L604.00,87.50 L599.50,107.00" fill="none" stroke="#a3c3a2" stroke-width="6.5" stroke-linecap="round" stroke-linejoin="round"/>
<path d="M588.00,55.50 L604.00,87.50 L599.50,107.00" fill="none" stroke="#c4dbc3" stroke-width="3.90" stroke-linecap="round" stroke-linejoin="round" transform="translate(-0.5,-0.6)"/>
<path d="M588.00,55.50 L604.00,87.50 L599.50,107.00" fill="none" stroke="#dfede0" stroke-width="1.62" stroke-linecap="round" stroke-linejoin="round" transform="translate(-0.9,-1.1)"/>
<path d="M597.50,51.00 L611.50,82.50 L632.50,91.00" fill="none" stroke="#6b926c" stroke-width="7.4" stroke-linecap="round" stroke-linejoin="round" transform="translate(0.4,0.5)"/>
<path d="M597.50,51.00 L611.50,82.50 L632.50,91.00" fill="none" stroke="#a3c3a2" stroke-width="6.5" stroke-linecap="round" stroke-linejoin="round"/>
<path d="M597.50,51.00 L611.50,82.50 L632.50,91.00" fill="none" stroke="#c4dbc3" stroke-width="3.90" stroke-linecap="round" stroke-linejoin="round" transform="translate(-0.5,-0.6)"/>
<path d="M597.50,51.00 L611.50,82.50 L632.50,91.00" fill="none" stroke="#dfede0" stroke-width="1.62" stroke-linecap="round" stroke-linejoin="round" transform="translate(-0.9,-1.1)"/>
<path d="M616.90,79.89 L637.10,84.88 Q639.49,81.52 637.90,77.72 L617.10,78.11 Z" fill="#94b893" stroke="#5f8a61" stroke-width="0.7"/>
<path d="M595.20,88.10 L584.78,102.89 Q587.11,106.29 591.22,106.11 L596.80,88.90 Z" fill="#a0c29f" stroke="#5f8a61" stroke-width="0.7"/>
<g transform="translate(553.6,31.6) rotate(-32)"><defs></defs><rect x="-6.3" y="-3.2" width="12.6" height="6.4" rx="3.2" fill="#fbeee2" stroke="#c8782e" stroke-width="1.1"/><rect x="-5.1" y="1.0" width="10.2" height="1.4" rx="0.7" fill="#e9b584" opacity="0.8"/></g>
<g transform="translate(555.0,24.3) rotate(-32)"><defs></defs><rect x="-6.3" y="-3.2" width="12.6" height="6.4" rx="3.2" fill="#fbeee2" stroke="#c8782e" stroke-width="1.1"/><rect x="-5.1" y="1.0" width="10.2" height="1.4" rx="0.7" fill="#e9b584" opacity="0.8"/></g>
<circle cx="563.8" cy="21.8" r="2.3" fill="#19e6f5"/>
<g transform="translate(585.6,69.6) rotate(62)"><defs></defs><rect x="-6.3" y="-3.2" width="12.6" height="6.4" rx="3.2" fill="#fbeee2" stroke="#c8782e" stroke-width="1.1"/><rect x="-5.1" y="1.0" width="10.2" height="1.4" rx="0.7" fill="#e9b584" opacity="0.8"/></g>
<g transform="translate(579.2,68.0) rotate(62)"><defs></defs><rect x="-6.3" y="-3.2" width="12.6" height="6.4" rx="3.2" fill="#fbeee2" stroke="#c8782e" stroke-width="1.1"/><rect x="-5.1" y="1.0" width="10.2" height="1.4" rx="0.7" fill="#e9b584" opacity="0.8"/></g>
<circle cx="577.3" cy="58.7" r="2.3" fill="#19e6f5"/>
<rect x="337.0" y="201.0" width="348.0" height="276.1" fill="#000"/>
<text x="371.55" y="164.90" font-size="8.6" text-anchor="middle" fill="#231f20" font-weight="normal"  stroke="#231f20" stroke-width="0.16">Anti-FITC</text>
<text x="371.55" y="180.20" font-size="8.6" text-anchor="middle" fill="#231f20" font-weight="normal"  stroke="#231f20" stroke-width="0.16">Protein G</text>
<text x="371.55" y="195.3" font-size="8.6" text-anchor="middle" fill="#ee2a24" stroke="#ee2a24" stroke-width="0.16">H1<tspan font-size="5.6" dy="-3.3">Fl</tspan></text>
<text x="440.80" y="164.90" font-size="8.6" text-anchor="middle" fill="#231f20" font-weight="normal"  stroke="#231f20" stroke-width="0.16">Anti-FITC</text>
<text x="440.80" y="180.20" font-size="8.6" text-anchor="middle" fill="#231f20" font-weight="normal"  stroke="#231f20" stroke-width="0.16">Protein G</text>
<text x="440.80" y="195.3" font-size="8.6" text-anchor="middle" fill="#231f20" stroke="#231f20" stroke-width="0.16">H1<tspan font-size="5.6" dy="-3.3">Fl</tspan><tspan dy="3.3"> and H2</tspan><tspan font-size="5.6" dy="-3.3">Fl</tspan></text>
<text x="510.55" y="164.90" font-size="8.6" text-anchor="middle" fill="#ee2a24" font-weight="normal"  stroke="#ee2a24" stroke-width="0.16">Anti-GAL4</text>
<text x="510.55" y="180.20" font-size="8.6" text-anchor="middle" fill="#231f20" font-weight="normal"  stroke="#231f20" stroke-width="0.16">Protein G</text>
<text x="510.55" y="195.3" font-size="8.6" text-anchor="middle" fill="#231f20" stroke="#231f20" stroke-width="0.16">H1<tspan font-size="5.6" dy="-3.3">Fl</tspan><tspan dy="3.3"> and H2</tspan><tspan font-size="5.6" dy="-3.3">Fl</tspan></text>
<text x="580.55" y="164.90" font-size="8.6" text-anchor="middle" fill="#231f20" font-weight="normal"  stroke="#231f20" stroke-width="0.16">Anti-FITC</text>
<text x="580.55" y="180.20" font-size="8.6" text-anchor="middle" fill="#ee2a24" font-weight="normal"  stroke="#ee2a24" stroke-width="0.16">–</text>
<text x="580.55" y="195.3" font-size="8.6" text-anchor="middle" fill="#231f20" stroke="#231f20" stroke-width="0.16">H1<tspan font-size="5.6" dy="-3.3">Fl</tspan><tspan dy="3.3"> and H2</tspan><tspan font-size="5.6" dy="-3.3">Fl</tspan></text>
<text x="650.25" y="164.90" font-size="8.6" text-anchor="middle" fill="#ee2a24" font-weight="normal"  stroke="#ee2a24" stroke-width="0.16">–</text>
<text x="650.25" y="180.20" font-size="8.6" text-anchor="middle" fill="#231f20" font-weight="normal"  stroke="#231f20" stroke-width="0.16">Protein G</text>
<text x="650.25" y="195.3" font-size="8.6" text-anchor="middle" fill="#231f20" stroke="#231f20" stroke-width="0.16">H1<tspan font-size="5.6" dy="-3.3">Fl</tspan><tspan dy="3.3"> and H2</tspan><tspan font-size="5.6" dy="-3.3">Fl</tspan></text>
<text x="332.50" y="234.60" font-size="9.2" text-anchor="end" fill="#231f20" font-weight="normal"  stroke="#231f20" stroke-width="0.16">DyLight 405</text>
<text x="332.50" y="246.20" font-size="9.2" text-anchor="end" fill="#231f20" font-weight="normal"  stroke="#231f20" stroke-width="0.16">(protein G)</text>
<text x="330.30" y="309.40" font-size="9.2" text-anchor="end" fill="#231f20" font-weight="normal"  stroke="#231f20" stroke-width="0.16">Fl</text>
<text x="332.50" y="321.00" font-size="9.2" text-anchor="end" fill="#231f20" font-weight="normal"  stroke="#231f20" stroke-width="0.16">(DNAs)</text>
<text x="330.30" y="379.40" font-size="9.2" text-anchor="end" fill="#231f20" font-weight="normal"  stroke="#231f20" stroke-width="0.16">Cy3</text>
<text x="332.50" y="389.80" font-size="9.2" text-anchor="end" fill="#231f20" font-weight="normal"  stroke="#231f20" stroke-width="0.16">(EGFR)</text>
<text x="332.50" y="442.00" font-size="9.2" text-anchor="end" fill="#231f20" font-weight="normal"  stroke="#231f20" stroke-width="0.16">Atto647N</text>
<text x="332.50" y="452.40" font-size="9.2" text-anchor="end" fill="#231f20" font-weight="normal"  stroke="#231f20" stroke-width="0.16">(PTK7)</text>
<defs><filter id="bl" x="-20%" y="-20%" width="140%" height="140%"><feGaussianBlur stdDeviation="0.4"/></filter><filter id="bl2" x="-50%" y="-50%" width="200%" height="200%"><feGaussianBlur stdDeviation="0.9"/></filter><filter id="dt0" x="0" y="0" width="1" height="1" filterUnits="objectBoundingBox"><feTurbulence type="fractalNoise" baseFrequency="0.5" numOctaves="2" seed="3" result="n"/><feColorMatrix in="n" type="matrix" values="0 0 0 0 0  0 0 0 0 0  0 0 0 0 0  6.5 0 0 0 -2.75" result="m"/><feComposite in="SourceGraphic" in2="m" operator="in"/><feGaussianBlur stdDeviation="0.3"/></filter><filter id="dc0" x="0" y="0" width="1" height="1" filterUnits="objectBoundingBox"><feTurbulence type="fractalNoise" baseFrequency="0.5" numOctaves="2" seed="3" result="n"/><feColorMatrix in="n" type="matrix" values="0 0 0 0 0  0 0 0 0 0  0 0 0 0 0  5 0 0 0 -1.6" result="m"/><feComposite in="SourceGraphic" in2="m" operator="in"/><feGaussianBlur stdDeviation="0.3"/></filter><filter id="tx0" x="0" y="0" width="1" height="1" filterUnits="objectBoundingBox"><feTurbulence type="fractalNoise" baseFrequency="0.6" numOctaves="2" seed="1" result="n"/><feColorMatrix in="n" type="matrix" values="0 0 0 0 0  0 0 0 0 0  0 0 0 0 0  4 0 0 0 -1.9" result="m"/><feComposite in="SourceGraphic" in2="m" operator="in"/><feGaussianBlur stdDeviation="0.3"/></filter><filter id="dt1" x="0" y="0" width="1" height="1" filterUnits="objectBoundingBox"><feTurbulence type="fractalNoise" baseFrequency="0.5" numOctaves="2" seed="10" result="n"/><feColorMatrix in="n" type="matrix" values="0 0 0 0 0  0 0 0 0 0  0 0 0 0 0  6.5 0 0 0 -2.75" result="m"/><feComposite in="SourceGraphic" in2="m" operator="in"/><feGaussianBlur stdDeviation="0.3"/></filter><filter id="dc1" x="0" y="0" width="1" height="1" filterUnits="objectBoundingBox"><feTurbulence type="fractalNoise" baseFrequency="0.5" numOctaves="2" seed="10" result="n"/><feColorMatrix in="n" type="matrix" values="0 0 0 0 0  0 0 0 0 0  0 0 0 0 0  5 0 0 0 -1.6" result="m"/><feComposite in="SourceGraphic" in2="m" operator="in"/><feGaussianBlur stdDeviation="0.3"/></filter><filter id="tx1" x="0" y="0" width="1" height="1" filterUnits="objectBoundingBox"><feTurbulence type="fractalNoise" baseFrequency="0.6" numOctaves="2" seed="6" result="n"/><feColorMatrix in="n" type="matrix" values="0 0 0 0 0  0 0 0 0 0  0 0 0 0 0  4 0 0 0 -1.9" result="m"/><feComposite in="SourceGraphic" in2="m" operator="in"/><feGaussianBlur stdDeviation="0.3"/></filter><filter id="dt2" x="0" y="0" width="1" height="1" filterUnits="objectBoundingBox"><feTurbulence type="fractalNoise" baseFrequency="0.5" numOctaves="2" seed="17" result="n"/><feColorMatrix in="n" type="matrix" values="0 0 0 0 0  0 0 0 0 0  0 0 0 0 0  6.5 0 0 0 -2.75" result="m"/><feComposite in="SourceGraphic" in2="m" operator="in"/><feGaussianBlur stdDeviation="0.3"/></filter><filter id="dc2" x="0" y="0" width="1" height="1" filterUnits="objectBoundingBox"><feTurbulence type="fractalNoise" baseFrequency="0.5" numOctaves="2" seed="17" result="n"/><feColorMatrix in="n" type="matrix" values="0 0 0 0 0  0 0 0 0 0  0 0 0 0 0  5 0 0 0 -1.6" result="m"/><feComposite in="SourceGraphic" in2="m" operator="in"/><feGaussianBlur stdDeviation="0.3"/></filter><filter id="tx2" x="0" y="0" width="1" height="1" filterUnits="objectBoundingBox"><feTurbulence type="fractalNoise" baseFrequency="0.6" numOctaves="2" seed="11" result="n"/><feColorMatrix in="n" type="matrix" values="0 0 0 0 0  0 0 0 0 0  0 0 0 0 0  4 0 0 0 -1.9" result="m"/><feComposite in="SourceGraphic" in2="m" operator="in"/><feGaussianBlur stdDeviation="0.3"/></filter><filter id="dt3" x="0" y="0" width="1" height="1" filterUnits="objectBoundingBox"><feTurbulence type="fractalNoise" baseFrequency="0.5" numOctaves="2" seed="24" result="n"/><feColorMatrix in="n" type="matrix" values="0 0 0 0 0  0 0 0 0 0  0 0 0 0 0  6.5 0 0 0 -2.75" result="m"/><feComposite in="SourceGraphic" in2="m" operator="in"/><feGaussianBlur stdDeviation="0.3"/></filter><filter id="dc3" x="0" y="0" width="1" height="1" filterUnits="objectBoundingBox"><feTurbulence type="fractalNoise" baseFrequency="0.5" numOctaves="2" seed="24" result="n"/><feColorMatrix in="n" type="matrix" values="0 0 0 0 0  0 0 0 0 0  0 0 0 0 0  5 0 0 0 -1.6" result="m"/><feComposite in="SourceGraphic" in2="m" operator="in"/><feGaussianBlur stdDeviation="0.3"/></filter><filter id="tx3" x="0" y="0" width="1" height="1" filterUnits="objectBoundingBox"><feTurbulence type="fractalNoise" baseFrequency="0.6" numOctaves="2" seed="16" result="n"/><feColorMatrix in="n" type="matrix" values="0 0 0 0 0  0 0 0 0 0  0 0 0 0 0  4 0 0 0 -1.9" result="m"/><feComposite in="SourceGraphic" in2="m" operator="in"/><feGaussianBlur stdDeviation="0.3"/></filter><filter id="dt4" x="0" y="0" width="1" height="1" filterUnits="objectBoundingBox"><feTurbulence type="fractalNoise" baseFrequency="0.5" numOctaves="2" seed="31" result="n"/><feColorMatrix in="n" type="matrix" values="0 0 0 0 0  0 0 0 0 0  0 0 0 0 0  6.5 0 0 0 -2.75" result="m"/><feComposite in="SourceGraphic" in2="m" operator="in"/><feGaussianBlur stdDeviation="0.3"/></filter><filter id="dc4" x="0" y="0" width="1" height="1" filterUnits="objectBoundingBox"><feTurbulence type="fractalNoise" baseFrequency="0.5" numOctaves="2" seed="31" result="n"/><feColorMatrix in="n" type="matrix" values="0 0 0 0 0  0 0 0 0 0  0 0 0 0 0  5 0 0 0 -1.6" result="m"/><feComposite in="SourceGraphic" in2="m" operator="in"/><feGaussianBlur stdDeviation="0.3"/></filter><filter id="tx4" x="0" y="0" width="1" height="1" filterUnits="objectBoundingBox"><feTurbulence type="fractalNoise" baseFrequency="0.6" numOctaves="2" seed="21" result="n"/><feColorMatrix in="n" type="matrix" values="0 0 0 0 0  0 0 0 0 0  0 0 0 0 0  4 0 0 0 -1.9" result="m"/><feComposite in="SourceGraphic" in2="m" operator="in"/><feGaussianBlur stdDeviation="0.3"/></filter><filter id="bk0" x="0" y="0" width="1" height="1" filterUnits="objectBoundingBox"><feTurbulence type="fractalNoise" baseFrequency="1.1" numOctaves="1" seed="2" result="n"/><feColorMatrix in="n" type="matrix" values="0 0 0 0 0  0 0 0 0 0  0 0 0 0 0  5 0 0 0 -1.9" result="m"/><feComposite in="SourceGraphic" in2="m" operator="in"/><feGaussianBlur stdDeviation="0.35"/></filter><filter id="bk1" x="0" y="0" width="1" height="1" filterUnits="objectBoundingBox"><feTurbulence type="fractalNoise" baseFrequency="1.1" numOctaves="1" seed="5" result="n"/><feColorMatrix in="n" type="matrix" values="0 0 0 0 0  0 0 0 0 0  0 0 0 0 0  5 0 0 0 -1.9" result="m"/><feComposite in="SourceGraphic" in2="m" operator="in"/><feGaussianBlur stdDeviation="0.35"/></filter><filter id="bk2" x="0" y="0" width="1" height="1" filterUnits="objectBoundingBox"><feTurbulence type="fractalNoise" baseFrequency="1.1" numOctaves="1" seed="8" result="n"/><feColorMatrix in="n" type="matrix" values="0 0 0 0 0  0 0 0 0 0  0 0 0 0 0  5 0 0 0 -1.9" result="m"/><feComposite in="SourceGraphic" in2="m" operator="in"/><feGaussianBlur stdDeviation="0.35"/></filter><filter id="bk3" x="0" y="0" width="1" height="1" filterUnits="objectBoundingBox"><feTurbulence type="fractalNoise" baseFrequency="1.1" numOctaves="1" seed="11" result="n"/><feColorMatrix in="n" type="matrix" values="0 0 0 0 0  0 0 0 0 0  0 0 0 0 0  5 0 0 0 -1.9" result="m"/><feComposite in="SourceGraphic" in2="m" operator="in"/><feGaussianBlur stdDeviation="0.35"/></filter><filter id="bk4" x="0" y="0" width="1" height="1" filterUnits="objectBoundingBox"><feTurbulence type="fractalNoise" baseFrequency="1.1" numOctaves="1" seed="14" result="n"/><feColorMatrix in="n" type="matrix" values="0 0 0 0 0  0 0 0 0 0  0 0 0 0 0  5 0 0 0 -1.9" result="m"/><feComposite in="SourceGraphic" in2="m" operator="in"/><feGaussianBlur stdDeviation="0.35"/></filter><filter id="dd0" x="0" y="0" width="1" height="1" filterUnits="objectBoundingBox"><feTurbulence type="fractalNoise" baseFrequency="0.85" numOctaves="1" seed="5" result="n"/><feColorMatrix in="n" type="matrix" values="0 0 0 0 0  0 0 0 0 0  0 0 0 0 0  9 0 0 0 -4.3" result="m"/><feComposite in="SourceGraphic" in2="m" operator="in"/><feGaussianBlur stdDeviation="0.3"/></filter><filter id="dd1" x="0" y="0" width="1" height="1" filterUnits="objectBoundingBox"><feTurbulence type="fractalNoise" baseFrequency="0.85" numOctaves="1" seed="16" result="n"/><feColorMatrix in="n" type="matrix" values="0 0 0 0 0  0 0 0 0 0  0 0 0 0 0  9 0 0 0 -4.3" result="m"/><feComposite in="SourceGraphic" in2="m" operator="in"/><feGaussianBlur stdDeviation="0.3"/></filter><filter id="dd2" x="0" y="0" width="1" height="1" filterUnits="objectBoundingBox"><feTurbulence type="fractalNoise" baseFrequency="0.85" numOctaves="1" seed="27" result="n"/><feColorMatrix in="n" type="matrix" values="0 0 0 0 0  0 0 0 0 0  0 0 0 0 0  9 0 0 0 -4.3" result="m"/><feComposite in="SourceGraphic" in2="m" operator="in"/><feGaussianBlur stdDeviation="0.3"/></filter><filter id="dd3" x="0" y="0" width="1" height="1" filterUnits="objectBoundingBox"><feTurbulence type="fractalNoise" baseFrequency="0.85" numOctaves="1" seed="38" result="n"/><feColorMatrix in="n" type="matrix" values="0 0 0 0 0  0 0 0 0 0  0 0 0 0 0  9 0 0 0 -4.3" result="m"/><feComposite in="SourceGraphic" in2="m" operator="in"/><feGaussianBlur stdDeviation="0.3"/></filter><filter id="dd4" x="0" y="0" width="1" height="1" filterUnits="objectBoundingBox"><feTurbulence type="fractalNoise" baseFrequency="0.85" numOctaves="1" seed="49" result="n"/><feColorMatrix in="n" type="matrix" values="0 0 0 0 0  0 0 0 0 0  0 0 0 0 0  9 0 0 0 -4.3" result="m"/><feComposite in="SourceGraphic" in2="m" operator="in"/><feGaussianBlur stdDeviation="0.3"/></filter><filter id="cl0" x="-30%" y="-30%" width="160%" height="160%"><feGaussianBlur in="SourceGraphic" stdDeviation="2.2" result="b"/><feTurbulence type="fractalNoise" baseFrequency="0.9" numOctaves="1" seed="7" result="n"/><feColorMatrix in="n" type="matrix" values="0 0 0 0 0  0 0 0 0 0  0 0 0 0 0  5 0 0 0 -2.0" result="m"/><feComposite in="b" in2="m" operator="in"/><feGaussianBlur stdDeviation="0.35"/></filter><filter id="cl1" x="-30%" y="-30%" width="160%" height="160%"><feGaussianBlur in="SourceGraphic" stdDeviation="2.2" result="b"/><feTurbulence type="fractalNoise" baseFrequency="0.9" numOctaves="1" seed="20" result="n"/><feColorMatrix in="n" type="matrix" values="0 0 0 0 0  0 0 0 0 0  0 0 0 0 0  5 0 0 0 -2.0" result="m"/><feComposite in="b" in2="m" operator="in"/><feGaussianBlur stdDeviation="0.35"/></filter><filter id="cl2" x="-30%" y="-30%" width="160%" height="160%"><feGaussianBlur in="SourceGraphic" stdDeviation="2.2" result="b"/><feTurbulence type="fractalNoise" baseFrequency="0.9" numOctaves="1" seed="33" result="n"/><feColorMatrix in="n" type="matrix" values="0 0 0 0 0  0 0 0 0 0  0 0 0 0 0  5 0 0 0 -2.0" result="m"/><feComposite in="b" in2="m" operator="in"/><feGaussianBlur stdDeviation="0.35"/></filter><filter id="cl3" x="-30%" y="-30%" width="160%" height="160%"><feGaussianBlur in="SourceGraphic" stdDeviation="2.2" result="b"/><feTurbulence type="fractalNoise" baseFrequency="0.9" numOctaves="1" seed="46" result="n"/><feColorMatrix in="n" type="matrix" values="0 0 0 0 0  0 0 0 0 0  0 0 0 0 0  5 0 0 0 -2.0" result="m"/><feComposite in="b" in2="m" operator="in"/><feGaussianBlur stdDeviation="0.35"/></filter><filter id="cl4" x="-30%" y="-30%" width="160%" height="160%"><feGaussianBlur in="SourceGraphic" stdDeviation="2.2" result="b"/><feTurbulence type="fractalNoise" baseFrequency="0.9" numOctaves="1" seed="59" result="n"/><feColorMatrix in="n" type="matrix" values="0 0 0 0 0  0 0 0 0 0  0 0 0 0 0  5 0 0 0 -2.0" result="m"/><feComposite in="b" in2="m" operator="in"/><feGaussianBlur stdDeviation="0.35"/></filter></defs>
<svg x="337.00" y="201.00" width="69.10" height="68.80" viewBox="0 0 69.10 68.80" overflow="hidden">
<g filter="url(#bl)">
</g>
<g filter="url(#dd0)">
<rect width="69.60" height="69.00" fill="none"/>
</g>
<g filter="url(#bk0)">
<rect width="69.60" height="69.00" fill="none"/>
</g>
</svg>
<svg x="337.00" y="269.80" width="69.10" height="69.00" viewBox="0 0 69.10 69.00" overflow="hidden">
<g filter="url(#bl)">
</g>
<g filter="url(#dc1)">
<rect width="69.60" height="69.00" fill="none"/>
</g>
<g filter="url(#bk1)">
<rect width="69.60" height="69.00" fill="none"/>
</g>
</svg>
<svg x="337.00" y="338.80" width="69.10" height="69.70" viewBox="0 0 69.10 69.70" overflow="hidden">
<rect width="69.60" height="69.00" fill="#c8c814" opacity="0.11" filter="url(#tx2)"/>
<g filter="url(#bl)">
<path d="M6.50,12.90 C6.50,10.73 6.82,7.37 8.60,5.70 C10.38,4.03 13.13,3.25 17.20,2.90 C21.27,2.55 29.77,2.65 33.00,3.60 C36.23,4.55 36.23,6.57 36.60,8.60 C36.97,10.63 36.52,13.88 35.20,15.80 C33.88,17.72 31.70,19.13 28.70,20.10 C25.70,21.07 20.55,21.83 17.20,21.60 C13.85,21.37 10.38,20.15 8.60,18.70 C6.82,17.25 6.50,15.07 6.50,12.90 Z" fill="none" stroke="#c8c814" stroke-width="0.7" opacity="0.23"/>
<path d="M50.30,5.70 C51.27,3.30 54.88,1.87 57.50,1.40 C60.12,0.93 64.22,1.22 66.00,2.90 C67.78,4.58 68.20,8.87 68.20,11.50 C68.20,14.13 67.78,17.15 66.00,18.70 C64.22,20.25 59.88,21.28 57.50,20.80 C55.12,20.32 52.90,18.32 51.70,15.80 C50.50,13.28 49.33,8.10 50.30,5.70 Z" fill="none" stroke="#c8c814" stroke-width="0.7" opacity="0.23"/>
<path d="M17.20,24.40 C19.23,22.73 26.07,20.88 28.70,21.60 C31.33,22.32 32.40,26.07 33.00,28.70 C33.60,31.33 33.48,35.37 32.30,37.40 C31.12,39.43 27.93,40.67 25.90,40.90 C23.87,41.13 21.67,40.35 20.10,38.80 C18.53,37.25 16.98,34.00 16.50,31.60 C16.02,29.20 15.17,26.07 17.20,24.40 Z" fill="none" stroke="#c8c814" stroke-width="0.7" opacity="0.23"/>
<path d="M10.80,23.00 C12.48,22.95 14.52,26.20 15.80,28.70 C17.08,31.20 17.80,35.37 18.50,38.00 C19.20,40.63 21.42,43.37 20.00,44.50 C18.58,45.63 13.25,44.80 10.00,44.80 C6.75,44.80 1.93,45.63 0.50,44.50 C-0.93,43.37 0.53,40.58 1.40,38.00 C2.27,35.42 4.13,31.50 5.70,29.00 C7.27,26.50 9.12,23.05 10.80,23.00 Z" fill="none" stroke="#c8c814" stroke-width="0.7" opacity="0.23"/>
<path d="M35.90,31.60 C36.37,28.73 37.57,24.43 40.20,23.00 C42.83,21.57 49.07,21.33 51.70,23.00 C54.33,24.67 55.75,29.65 56.00,33.00 C56.25,36.35 55.35,41.42 53.20,43.10 C51.05,44.78 45.73,43.58 43.10,43.10 C40.47,42.62 38.60,42.12 37.40,40.20 C36.20,38.28 35.43,34.47 35.90,31.60 Z" fill="none" stroke="#c8c814" stroke-width="0.7" opacity="0.13"/>
<path d="M38.80,50.30 C39.28,48.15 39.52,44.53 43.10,43.10 C46.68,41.67 56.58,40.73 60.30,41.70 C64.02,42.67 64.92,46.27 65.40,48.90 C65.88,51.53 65.95,55.83 63.20,57.50 C60.45,59.17 52.73,59.15 48.90,58.90 C45.07,58.65 41.88,57.43 40.20,56.00 C38.52,54.57 38.32,52.45 38.80,50.30 Z" fill="none" stroke="#c8c814" stroke-width="0.7" opacity="0.15"/>
<path d="M0.70,54.60 C0.45,52.45 -1.60,47.68 1.40,46.00 C4.40,44.32 15.10,43.55 18.70,44.50 C22.30,45.45 22.77,49.07 23.00,51.70 C23.23,54.33 22.50,58.62 20.10,60.30 C17.70,61.98 11.47,62.03 8.60,61.80 C5.73,61.57 4.22,60.10 2.90,58.90 C1.58,57.70 0.95,56.75 0.70,54.60 Z" fill="none" stroke="#c8c814" stroke-width="0.7" opacity="0.23"/>
<path d="M21.50,71.00 C17.33,69.50 21.80,64.25 23.00,62.00 C24.20,59.75 25.83,58.50 28.70,57.50 C31.57,56.50 37.08,55.05 40.20,56.00 C43.32,56.95 46.10,60.70 47.40,63.20 C48.70,65.70 52.32,69.70 48.00,71.00 C43.68,72.30 25.67,72.50 21.50,71.00 Z" fill="none" stroke="#c8c814" stroke-width="0.7" opacity="0.13"/>
</g>
<g filter="url(#dc2)">
<rect width="69.60" height="69.00" fill="none"/>
<path d="M6.50,12.90 C6.50,10.73 6.82,7.37 8.60,5.70 C10.38,4.03 13.13,3.25 17.20,2.90 C21.27,2.55 29.77,2.65 33.00,3.60 C36.23,4.55 36.23,6.57 36.60,8.60 C36.97,10.63 36.52,13.88 35.20,15.80 C33.88,17.72 31.70,19.13 28.70,20.10 C25.70,21.07 20.55,21.83 17.20,21.60 C13.85,21.37 10.38,20.15 8.60,18.70 C6.82,17.25 6.50,15.07 6.50,12.90 Z" fill="none" stroke="#c8c814" stroke-width="1.05" opacity="0.77"/>
<path d="M50.30,5.70 C51.27,3.30 54.88,1.87 57.50,1.40 C60.12,0.93 64.22,1.22 66.00,2.90 C67.78,4.58 68.20,8.87 68.20,11.50 C68.20,14.13 67.78,17.15 66.00,18.70 C64.22,20.25 59.88,21.28 57.50,20.80 C55.12,20.32 52.90,18.32 51.70,15.80 C50.50,13.28 49.33,8.10 50.30,5.70 Z" fill="none" stroke="#c8c814" stroke-width="1.05" opacity="0.77"/>
<path d="M17.20,24.40 C19.23,22.73 26.07,20.88 28.70,21.60 C31.33,22.32 32.40,26.07 33.00,28.70 C33.60,31.33 33.48,35.37 32.30,37.40 C31.12,39.43 27.93,40.67 25.90,40.90 C23.87,41.13 21.67,40.35 20.10,38.80 C18.53,37.25 16.98,34.00 16.50,31.60 C16.02,29.20 15.17,26.07 17.20,24.40 Z" fill="none" stroke="#c8c814" stroke-width="1.05" opacity="0.77"/>
<path d="M10.80,23.00 C12.48,22.95 14.52,26.20 15.80,28.70 C17.08,31.20 17.80,35.37 18.50,38.00 C19.20,40.63 21.42,43.37 20.00,44.50 C18.58,45.63 13.25,44.80 10.00,44.80 C6.75,44.80 1.93,45.63 0.50,44.50 C-0.93,43.37 0.53,40.58 1.40,38.00 C2.27,35.42 4.13,31.50 5.70,29.00 C7.27,26.50 9.12,23.05 10.80,23.00 Z" fill="none" stroke="#c8c814" stroke-width="1.05" opacity="0.77"/>
<path d="M35.90,31.60 C36.37,28.73 37.57,24.43 40.20,23.00 C42.83,21.57 49.07,21.33 51.70,23.00 C54.33,24.67 55.75,29.65 56.00,33.00 C56.25,36.35 55.35,41.42 53.20,43.10 C51.05,44.78 45.73,43.58 43.10,43.10 C40.47,42.62 38.60,42.12 37.40,40.20 C36.20,38.28 35.43,34.47 35.90,31.60 Z" fill="none" stroke="#c8c814" stroke-width="1.05" opacity="0.42"/>
<path d="M38.80,50.30 C39.28,48.15 39.52,44.53 43.10,43.10 C46.68,41.67 56.58,40.73 60.30,41.70 C64.02,42.67 64.92,46.27 65.40,48.90 C65.88,51.53 65.95,55.83 63.20,57.50 C60.45,59.17 52.73,59.15 48.90,58.90 C45.07,58.65 41.88,57.43 40.20,56.00 C38.52,54.57 38.32,52.45 38.80,50.30 Z" fill="none" stroke="#c8c814" stroke-width="1.05" opacity="0.51"/>
<path d="M0.70,54.60 C0.45,52.45 -1.60,47.68 1.40,46.00 C4.40,44.32 15.10,43.55 18.70,44.50 C22.30,45.45 22.77,49.07 23.00,51.70 C23.23,54.33 22.50,58.62 20.10,60.30 C17.70,61.98 11.47,62.03 8.60,61.80 C5.73,61.57 4.22,60.10 2.90,58.90 C1.58,57.70 0.95,56.75 0.70,54.60 Z" fill="none" stroke="#c8c814" stroke-width="1.05" opacity="0.77"/>
<path d="M21.50,71.00 C17.33,69.50 21.80,64.25 23.00,62.00 C24.20,59.75 25.83,58.50 28.70,57.50 C31.57,56.50 37.08,55.05 40.20,56.00 C43.32,56.95 46.10,60.70 47.40,63.20 C48.70,65.70 52.32,69.70 48.00,71.00 C43.68,72.30 25.67,72.50 21.50,71.00 Z" fill="none" stroke="#c8c814" stroke-width="1.05" opacity="0.42"/>
</g>
<g filter="url(#bk2)">
<rect width="69.60" height="69.00" fill="none"/>
<ellipse cx="9" cy="41" rx="2.42" ry="2.86" fill="#c8c814" opacity="1.00"/>
<ellipse cx="62" cy="6" rx="1.65" ry="1.95" fill="#c8c814" opacity="0.36"/>
<ellipse cx="48" cy="19" rx="1.21" ry="1.43" fill="#c8c814" opacity="0.24"/>
</g>
<ellipse cx="9" cy="41" rx="1.87" ry="2.31" fill="#c8c814" opacity="0.75" filter="url(#bl2)"/>
<ellipse cx="62" cy="6" rx="1.27" ry="1.58" fill="#c8c814" opacity="0.22" filter="url(#bl2)"/>
<ellipse cx="48" cy="19" rx="0.94" ry="1.16" fill="#c8c814" opacity="0.15" filter="url(#bl2)"/>
</svg>
<svg x="337.00" y="408.50" width="69.10" height="68.60" viewBox="0 0 69.10 68.60" overflow="hidden">
<rect width="69.60" height="69.00" fill="#e41212" opacity="0.12" filter="url(#tx3)"/>
<g filter="url(#bl)">
<path d="M6.50,12.90 C6.50,10.73 6.82,7.37 8.60,5.70 C10.38,4.03 13.13,3.25 17.20,2.90 C21.27,2.55 29.77,2.65 33.00,3.60 C36.23,4.55 36.23,6.57 36.60,8.60 C36.97,10.63 36.52,13.88 35.20,15.80 C33.88,17.72 31.70,19.13 28.70,20.10 C25.70,21.07 20.55,21.83 17.20,21.60 C13.85,21.37 10.38,20.15 8.60,18.70 C6.82,17.25 6.50,15.07 6.50,12.90 Z" fill="none" stroke="#e41212" stroke-width="0.7" opacity="0.22"/>
<path d="M50.30,5.70 C51.27,3.30 54.88,1.87 57.50,1.40 C60.12,0.93 64.22,1.22 66.00,2.90 C67.78,4.58 68.20,8.87 68.20,11.50 C68.20,14.13 67.78,17.15 66.00,18.70 C64.22,20.25 59.88,21.28 57.50,20.80 C55.12,20.32 52.90,18.32 51.70,15.80 C50.50,13.28 49.33,8.10 50.30,5.70 Z" fill="none" stroke="#e41212" stroke-width="0.7" opacity="0.19"/>
<path d="M17.20,24.40 C19.23,22.73 26.07,20.88 28.70,21.60 C31.33,22.32 32.40,26.07 33.00,28.70 C33.60,31.33 33.48,35.37 32.30,37.40 C31.12,39.43 27.93,40.67 25.90,40.90 C23.87,41.13 21.67,40.35 20.10,38.80 C18.53,37.25 16.98,34.00 16.50,31.60 C16.02,29.20 15.17,26.07 17.20,24.40 Z" fill="none" stroke="#e41212" stroke-width="0.7" opacity="0.19"/>
<path d="M10.80,23.00 C12.48,22.95 14.52,26.20 15.80,28.70 C17.08,31.20 17.80,35.37 18.50,38.00 C19.20,40.63 21.42,43.37 20.00,44.50 C18.58,45.63 13.25,44.80 10.00,44.80 C6.75,44.80 1.93,45.63 0.50,44.50 C-0.93,43.37 0.53,40.58 1.40,38.00 C2.27,35.42 4.13,31.50 5.70,29.00 C7.27,26.50 9.12,23.05 10.80,23.00 Z" fill="none" stroke="#e41212" stroke-width="0.7" opacity="0.17"/>
<path d="M35.90,31.60 C36.37,28.73 37.57,24.43 40.20,23.00 C42.83,21.57 49.07,21.33 51.70,23.00 C54.33,24.67 55.75,29.65 56.00,33.00 C56.25,36.35 55.35,41.42 53.20,43.10 C51.05,44.78 45.73,43.58 43.10,43.10 C40.47,42.62 38.60,42.12 37.40,40.20 C36.20,38.28 35.43,34.47 35.90,31.60 Z" fill="none" stroke="#e41212" stroke-width="0.7" opacity="0.19"/>
<path d="M38.80,50.30 C39.28,48.15 39.52,44.53 43.10,43.10 C46.68,41.67 56.58,40.73 60.30,41.70 C64.02,42.67 64.92,46.27 65.40,48.90 C65.88,51.53 65.95,55.83 63.20,57.50 C60.45,59.17 52.73,59.15 48.90,58.90 C45.07,58.65 41.88,57.43 40.20,56.00 C38.52,54.57 38.32,52.45 38.80,50.30 Z" fill="none" stroke="#e41212" stroke-width="0.7" opacity="0.22"/>
<path d="M0.70,54.60 C0.45,52.45 -1.60,47.68 1.40,46.00 C4.40,44.32 15.10,43.55 18.70,44.50 C22.30,45.45 22.77,49.07 23.00,51.70 C23.23,54.33 22.50,58.62 20.10,60.30 C17.70,61.98 11.47,62.03 8.60,61.80 C5.73,61.57 4.22,60.10 2.90,58.90 C1.58,57.70 0.95,56.75 0.70,54.60 Z" fill="none" stroke="#e41212" stroke-width="0.7" opacity="0.19"/>
<path d="M21.50,71.00 C17.33,69.50 21.80,64.25 23.00,62.00 C24.20,59.75 25.83,58.50 28.70,57.50 C31.57,56.50 37.08,55.05 40.20,56.00 C43.32,56.95 46.10,60.70 47.40,63.20 C48.70,65.70 52.32,69.70 48.00,71.00 C43.68,72.30 25.67,72.50 21.50,71.00 Z" fill="none" stroke="#e41212" stroke-width="0.7" opacity="0.12"/>
</g>
<g filter="url(#dt3)">
<rect width="69.60" height="69.00" fill="none"/>
<path d="M6.50,12.90 C6.50,10.73 6.82,7.37 8.60,5.70 C10.38,4.03 13.13,3.25 17.20,2.90 C21.27,2.55 29.77,2.65 33.00,3.60 C36.23,4.55 36.23,6.57 36.60,8.60 C36.97,10.63 36.52,13.88 35.20,15.80 C33.88,17.72 31.70,19.13 28.70,20.10 C25.70,21.07 20.55,21.83 17.20,21.60 C13.85,21.37 10.38,20.15 8.60,18.70 C6.82,17.25 6.50,15.07 6.50,12.90 Z" fill="none" stroke="#e41212" stroke-width="1.4" opacity="0.72"/>
<path d="M50.30,5.70 C51.27,3.30 54.88,1.87 57.50,1.40 C60.12,0.93 64.22,1.22 66.00,2.90 C67.78,4.58 68.20,8.87 68.20,11.50 C68.20,14.13 67.78,17.15 66.00,18.70 C64.22,20.25 59.88,21.28 57.50,20.80 C55.12,20.32 52.90,18.32 51.70,15.80 C50.50,13.28 49.33,8.10 50.30,5.70 Z" fill="none" stroke="#e41212" stroke-width="1.4" opacity="0.64"/>
<path d="M17.20,24.40 C19.23,22.73 26.07,20.88 28.70,21.60 C31.33,22.32 32.40,26.07 33.00,28.70 C33.60,31.33 33.48,35.37 32.30,37.40 C31.12,39.43 27.93,40.67 25.90,40.90 C23.87,41.13 21.67,40.35 20.10,38.80 C18.53,37.25 16.98,34.00 16.50,31.60 C16.02,29.20 15.17,26.07 17.20,24.40 Z" fill="none" stroke="#e41212" stroke-width="1.4" opacity="0.64"/>
<path d="M10.80,23.00 C12.48,22.95 14.52,26.20 15.80,28.70 C17.08,31.20 17.80,35.37 18.50,38.00 C19.20,40.63 21.42,43.37 20.00,44.50 C18.58,45.63 13.25,44.80 10.00,44.80 C6.75,44.80 1.93,45.63 0.50,44.50 C-0.93,43.37 0.53,40.58 1.40,38.00 C2.27,35.42 4.13,31.50 5.70,29.00 C7.27,26.50 9.12,23.05 10.80,23.00 Z" fill="none" stroke="#e41212" stroke-width="1.4" opacity="0.56"/>
<path d="M35.90,31.60 C36.37,28.73 37.57,24.43 40.20,23.00 C42.83,21.57 49.07,21.33 51.70,23.00 C54.33,24.67 55.75,29.65 56.00,33.00 C56.25,36.35 55.35,41.42 53.20,43.10 C51.05,44.78 45.73,43.58 43.10,43.10 C40.47,42.62 38.60,42.12 37.40,40.20 C36.20,38.28 35.43,34.47 35.90,31.60 Z" fill="none" stroke="#e41212" stroke-width="1.4" opacity="0.64"/>
<path d="M38.80,50.30 C39.28,48.15 39.52,44.53 43.10,43.10 C46.68,41.67 56.58,40.73 60.30,41.70 C64.02,42.67 64.92,46.27 65.40,48.90 C65.88,51.53 65.95,55.83 63.20,57.50 C60.45,59.17 52.73,59.15 48.90,58.90 C45.07,58.65 41.88,57.43 40.20,56.00 C38.52,54.57 38.32,52.45 38.80,50.30 Z" fill="none" stroke="#e41212" stroke-width="1.4" opacity="0.72"/>
<path d="M0.70,54.60 C0.45,52.45 -1.60,47.68 1.40,46.00 C4.40,44.32 15.10,43.55 18.70,44.50 C22.30,45.45 22.77,49.07 23.00,51.70 C23.23,54.33 22.50,58.62 20.10,60.30 C17.70,61.98 11.47,62.03 8.60,61.80 C5.73,61.57 4.22,60.10 2.90,58.90 C1.58,57.70 0.95,56.75 0.70,54.60 Z" fill="none" stroke="#e41212" stroke-width="1.4" opacity="0.64"/>
<path d="M21.50,71.00 C17.33,69.50 21.80,64.25 23.00,62.00 C24.20,59.75 25.83,58.50 28.70,57.50 C31.57,56.50 37.08,55.05 40.20,56.00 C43.32,56.95 46.10,60.70 47.40,63.20 C48.70,65.70 52.32,69.70 48.00,71.00 C43.68,72.30 25.67,72.50 21.50,71.00 Z" fill="none" stroke="#e41212" stroke-width="1.4" opacity="0.40"/>
</g>
<g filter="url(#bk3)">
<rect width="69.60" height="69.00" fill="none"/>
<ellipse cx="9" cy="41" rx="2.42" ry="2.86" fill="#e41212" opacity="1.00"/>
<ellipse cx="62" cy="6" rx="1.65" ry="1.95" fill="#e41212" opacity="1.00"/>
<ellipse cx="48" cy="19" rx="1.21" ry="1.43" fill="#e41212" opacity="1.00"/>
</g>
<ellipse cx="9" cy="41" rx="1.87" ry="2.31" fill="#e41212" opacity="0.75" filter="url(#bl2)"/>
<ellipse cx="62" cy="6" rx="1.27" ry="1.58" fill="#e41212" opacity="0.75" filter="url(#bl2)"/>
<ellipse cx="48" cy="19" rx="0.94" ry="1.16" fill="#e41212" opacity="0.75" filter="url(#bl2)"/>
</svg>
<svg x="406.10" y="201.00" width="69.40" height="68.80" viewBox="0 0 69.40 68.80" overflow="hidden">
<g filter="url(#bl)">
<path d="M-2.00,1.00 C-0.23,-2.37 5.87,0.62 8.60,1.40 C11.33,2.18 13.32,4.02 14.40,5.70 C15.48,7.38 15.58,9.58 15.10,11.50 C14.62,13.42 13.07,15.77 11.50,17.20 C9.93,18.63 7.95,19.37 5.70,20.10 C3.45,20.83 -0.72,24.78 -2.00,21.60 C-3.28,18.42 -3.77,4.37 -2.00,1.00 Z" fill="none" stroke="#2424ff" stroke-width="0.7" opacity="0.04"/>
<path d="M23.00,11.50 C23.48,9.35 24.68,5.98 26.60,4.30 C28.52,2.62 31.87,1.63 34.50,1.40 C37.13,1.17 40.48,1.70 42.40,2.90 C44.32,4.10 45.52,6.45 46.00,8.60 C46.48,10.75 46.27,13.63 45.30,15.80 C44.33,17.97 42.00,20.28 40.20,21.60 C38.40,22.92 36.65,23.70 34.50,23.70 C32.35,23.70 29.10,22.68 27.30,21.60 C25.50,20.52 24.42,18.88 23.70,17.20 C22.98,15.52 22.52,13.65 23.00,11.50 Z" fill="none" stroke="#2424ff" stroke-width="0.7" opacity="0.30"/>
<path d="M54.60,4.30 C55.43,2.50 58.15,1.42 60.30,0.70 C62.45,-0.02 65.72,-0.72 67.50,0.00 C69.28,0.72 70.42,1.65 71.00,5.00 C71.58,8.35 72.30,17.10 71.00,20.10 C69.70,23.10 65.45,23.23 63.20,23.00 C60.95,22.77 58.82,20.62 57.50,18.70 C56.18,16.78 55.78,13.90 55.30,11.50 C54.82,9.10 53.77,6.10 54.60,4.30 Z" fill="none" stroke="#2424ff" stroke-width="0.7" opacity="0.18"/>
<path d="M5.70,27.30 C7.37,26.35 10.50,25.42 12.90,25.90 C15.30,26.38 18.30,27.82 20.10,30.20 C21.90,32.58 23.22,36.62 23.70,40.20 C24.18,43.78 23.83,48.58 23.00,51.70 C22.17,54.82 20.87,57.70 18.70,58.90 C16.53,60.10 12.63,59.62 10.00,58.90 C7.37,58.18 4.33,57.23 2.90,54.60 C1.47,51.97 1.40,46.93 1.40,43.10 C1.40,39.27 2.18,34.23 2.90,31.60 C3.62,28.97 4.03,28.25 5.70,27.30 Z" fill="none" stroke="#2424ff" stroke-width="0.7" opacity="0.20"/>
<path d="M29.50,33.00 C30.45,31.22 33.63,29.97 35.90,29.50 C38.17,29.03 41.18,29.25 43.10,30.20 C45.02,31.15 46.80,33.28 47.40,35.20 C48.00,37.12 47.65,39.90 46.70,41.70 C45.75,43.50 43.73,45.53 41.70,46.00 C39.67,46.47 36.42,45.47 34.50,44.50 C32.58,43.53 31.03,42.12 30.20,40.20 C29.37,38.28 28.55,34.78 29.50,33.00 Z" fill="none" stroke="#2424ff" stroke-width="0.7" opacity="0.04"/>
<path d="M28.70,47.40 C29.17,45.02 31.08,42.18 33.00,41.70 C34.92,41.22 38.03,43.78 40.20,44.50 C42.37,45.22 44.80,44.80 46.00,46.00 C47.20,47.20 47.65,49.78 47.40,51.70 C47.15,53.62 46.17,56.30 44.50,57.50 C42.83,58.70 39.78,59.15 37.40,58.90 C35.02,58.65 31.65,57.92 30.20,56.00 C28.75,54.08 28.23,49.78 28.70,47.40 Z" fill="none" stroke="#2424ff" stroke-width="0.7" opacity="0.04"/>
<path d="M29.00,30.00 C26.02,26.50 29.13,26.05 31.00,25.00 C32.87,23.95 36.75,24.52 40.20,23.70 C43.65,22.88 49.07,19.27 51.70,20.10 C54.33,20.93 55.40,25.35 56.00,28.70 C56.60,32.05 56.48,37.32 55.30,40.20 C54.12,43.08 53.28,47.70 48.90,46.00 C44.52,44.30 31.98,33.50 29.00,30.00 Z" fill="none" stroke="#2424ff" stroke-width="0.7" opacity="0.03"/>
<path d="M60.30,28.70 C61.27,28.10 62.92,27.78 64.70,28.00 C66.48,28.22 69.95,25.17 71.00,30.00 C72.05,34.83 71.83,52.42 71.00,57.00 C70.17,61.58 67.78,58.13 66.00,57.50 C64.22,56.87 61.72,55.60 60.30,53.20 C58.88,50.80 57.73,46.70 57.50,43.10 C57.27,39.50 58.43,34.00 58.90,31.60 C59.37,29.20 59.33,29.30 60.30,28.70 Z" fill="none" stroke="#2424ff" stroke-width="0.7" opacity="0.18"/>
<path d="M28.70,71.00 C26.20,70.17 28.78,67.30 29.50,66.00 C30.22,64.70 31.45,63.78 33.00,63.20 C34.55,62.62 37.12,62.03 38.80,62.50 C40.48,62.97 42.15,64.58 43.10,66.00 C44.05,67.42 46.90,70.17 44.50,71.00 C42.10,71.83 31.20,71.83 28.70,71.00 Z" fill="none" stroke="#2424ff" stroke-width="0.7" opacity="0.03"/>
<path d="M44.50,71.00 C40.33,69.50 45.03,64.50 46.00,62.00 C46.97,59.50 47.92,57.23 50.30,56.00 C52.68,54.77 57.68,54.35 60.30,54.60 C62.92,54.85 64.22,56.07 66.00,57.50 C67.78,58.93 70.17,60.95 71.00,63.20 C71.83,65.45 75.42,69.70 71.00,71.00 C66.58,72.30 48.67,72.50 44.50,71.00 Z" fill="none" stroke="#2424ff" stroke-width="0.7" opacity="0.03"/>
</g>
<g filter="url(#dd4)">
<rect width="69.60" height="69.00" fill="none"/>
<path d="M-2.00,1.00 C-0.23,-2.37 5.87,0.62 8.60,1.40 C11.33,2.18 13.32,4.02 14.40,5.70 C15.48,7.38 15.58,9.58 15.10,11.50 C14.62,13.42 13.07,15.77 11.50,17.20 C9.93,18.63 7.95,19.37 5.70,20.10 C3.45,20.83 -0.72,24.78 -2.00,21.60 C-3.28,18.42 -3.77,4.37 -2.00,1.00 Z" fill="none" stroke="#2424ff" stroke-width="2.7" opacity="0.17"/>
<path d="M23.00,11.50 C23.48,9.35 24.68,5.98 26.60,4.30 C28.52,2.62 31.87,1.63 34.50,1.40 C37.13,1.17 40.48,1.70 42.40,2.90 C44.32,4.10 45.52,6.45 46.00,8.60 C46.48,10.75 46.27,13.63 45.30,15.80 C44.33,17.97 42.00,20.28 40.20,21.60 C38.40,22.92 36.65,23.70 34.50,23.70 C32.35,23.70 29.10,22.68 27.30,21.60 C25.50,20.52 24.42,18.88 23.70,17.20 C22.98,15.52 22.52,13.65 23.00,11.50 Z" fill="none" stroke="#2424ff" stroke-width="2.7" opacity="1.00"/>
<path d="M54.60,4.30 C55.43,2.50 58.15,1.42 60.30,0.70 C62.45,-0.02 65.72,-0.72 67.50,0.00 C69.28,0.72 70.42,1.65 71.00,5.00 C71.58,8.35 72.30,17.10 71.00,20.10 C69.70,23.10 65.45,23.23 63.20,23.00 C60.95,22.77 58.82,20.62 57.50,18.70 C56.18,16.78 55.78,13.90 55.30,11.50 C54.82,9.10 53.77,6.10 54.60,4.30 Z" fill="none" stroke="#2424ff" stroke-width="2.7" opacity="0.69"/>
<path d="M5.70,27.30 C7.37,26.35 10.50,25.42 12.90,25.90 C15.30,26.38 18.30,27.82 20.10,30.20 C21.90,32.58 23.22,36.62 23.70,40.20 C24.18,43.78 23.83,48.58 23.00,51.70 C22.17,54.82 20.87,57.70 18.70,58.90 C16.53,60.10 12.63,59.62 10.00,58.90 C7.37,58.18 4.33,57.23 2.90,54.60 C1.47,51.97 1.40,46.93 1.40,43.10 C1.40,39.27 2.18,34.23 2.90,31.60 C3.62,28.97 4.03,28.25 5.70,27.30 Z" fill="none" stroke="#2424ff" stroke-width="2.7" opacity="0.75"/>
<path d="M29.50,33.00 C30.45,31.22 33.63,29.97 35.90,29.50 C38.17,29.03 41.18,29.25 43.10,30.20 C45.02,31.15 46.80,33.28 47.40,35.20 C48.00,37.12 47.65,39.90 46.70,41.70 C45.75,43.50 43.73,45.53 41.70,46.00 C39.67,46.47 36.42,45.47 34.50,44.50 C32.58,43.53 31.03,42.12 30.20,40.20 C29.37,38.28 28.55,34.78 29.50,33.00 Z" fill="none" stroke="#2424ff" stroke-width="2.7" opacity="0.17"/>
<path d="M28.70,47.40 C29.17,45.02 31.08,42.18 33.00,41.70 C34.92,41.22 38.03,43.78 40.20,44.50 C42.37,45.22 44.80,44.80 46.00,46.00 C47.20,47.20 47.65,49.78 47.40,51.70 C47.15,53.62 46.17,56.30 44.50,57.50 C42.83,58.70 39.78,59.15 37.40,58.90 C35.02,58.65 31.65,57.92 30.20,56.00 C28.75,54.08 28.23,49.78 28.70,47.40 Z" fill="none" stroke="#2424ff" stroke-width="2.7" opacity="0.17"/>
<path d="M29.00,30.00 C26.02,26.50 29.13,26.05 31.00,25.00 C32.87,23.95 36.75,24.52 40.20,23.70 C43.65,22.88 49.07,19.27 51.70,20.10 C54.33,20.93 55.40,25.35 56.00,28.70 C56.60,32.05 56.48,37.32 55.30,40.20 C54.12,43.08 53.28,47.70 48.90,46.00 C44.52,44.30 31.98,33.50 29.00,30.00 Z" fill="none" stroke="#2424ff" stroke-width="2.7" opacity="0.11"/>
<path d="M60.30,28.70 C61.27,28.10 62.92,27.78 64.70,28.00 C66.48,28.22 69.95,25.17 71.00,30.00 C72.05,34.83 71.83,52.42 71.00,57.00 C70.17,61.58 67.78,58.13 66.00,57.50 C64.22,56.87 61.72,55.60 60.30,53.20 C58.88,50.80 57.73,46.70 57.50,43.10 C57.27,39.50 58.43,34.00 58.90,31.60 C59.37,29.20 59.33,29.30 60.30,28.70 Z" fill="none" stroke="#2424ff" stroke-width="2.7" opacity="0.69"/>
<path d="M28.70,71.00 C26.20,70.17 28.78,67.30 29.50,66.00 C30.22,64.70 31.45,63.78 33.00,63.20 C34.55,62.62 37.12,62.03 38.80,62.50 C40.48,62.97 42.15,64.58 43.10,66.00 C44.05,67.42 46.90,70.17 44.50,71.00 C42.10,71.83 31.20,71.83 28.70,71.00 Z" fill="none" stroke="#2424ff" stroke-width="2.7" opacity="0.11"/>
<path d="M44.50,71.00 C40.33,69.50 45.03,64.50 46.00,62.00 C46.97,59.50 47.92,57.23 50.30,56.00 C52.68,54.77 57.68,54.35 60.30,54.60 C62.92,54.85 64.22,56.07 66.00,57.50 C67.78,58.93 70.17,60.95 71.00,63.20 C71.83,65.45 75.42,69.70 71.00,71.00 C66.58,72.30 48.67,72.50 44.50,71.00 Z" fill="none" stroke="#2424ff" stroke-width="2.7" opacity="0.11"/>
</g>
<g filter="url(#bk1)">
<rect width="69.60" height="69.00" fill="none"/>
</g>
</svg>
<svg x="406.10" y="269.80" width="69.40" height="69.00" viewBox="0 0 69.40 69.00" overflow="hidden">
<rect width="69.60" height="69.00" fill="#1ee01e" opacity="0.06" filter="url(#tx2)"/>
<g filter="url(#bl)">
<path d="M-2.00,1.00 C-0.23,-2.37 5.87,0.62 8.60,1.40 C11.33,2.18 13.32,4.02 14.40,5.70 C15.48,7.38 15.58,9.58 15.10,11.50 C14.62,13.42 13.07,15.77 11.50,17.20 C9.93,18.63 7.95,19.37 5.70,20.10 C3.45,20.83 -0.72,24.78 -2.00,21.60 C-3.28,18.42 -3.77,4.37 -2.00,1.00 Z" fill="none" stroke="#1ee01e" stroke-width="0.7" opacity="0.07"/>
<path d="M23.00,11.50 C23.48,9.35 24.68,5.98 26.60,4.30 C28.52,2.62 31.87,1.63 34.50,1.40 C37.13,1.17 40.48,1.70 42.40,2.90 C44.32,4.10 45.52,6.45 46.00,8.60 C46.48,10.75 46.27,13.63 45.30,15.80 C44.33,17.97 42.00,20.28 40.20,21.60 C38.40,22.92 36.65,23.70 34.50,23.70 C32.35,23.70 29.10,22.68 27.30,21.60 C25.50,20.52 24.42,18.88 23.70,17.20 C22.98,15.52 22.52,13.65 23.00,11.50 Z" fill="none" stroke="#1ee01e" stroke-width="0.7" opacity="0.28"/>
<path d="M54.60,4.30 C55.43,2.50 58.15,1.42 60.30,0.70 C62.45,-0.02 65.72,-0.72 67.50,0.00 C69.28,0.72 70.42,1.65 71.00,5.00 C71.58,8.35 72.30,17.10 71.00,20.10 C69.70,23.10 65.45,23.23 63.20,23.00 C60.95,22.77 58.82,20.62 57.50,18.70 C56.18,16.78 55.78,13.90 55.30,11.50 C54.82,9.10 53.77,6.10 54.60,4.30 Z" fill="none" stroke="#1ee01e" stroke-width="0.7" opacity="0.20"/>
<path d="M5.70,27.30 C7.37,26.35 10.50,25.42 12.90,25.90 C15.30,26.38 18.30,27.82 20.10,30.20 C21.90,32.58 23.22,36.62 23.70,40.20 C24.18,43.78 23.83,48.58 23.00,51.70 C22.17,54.82 20.87,57.70 18.70,58.90 C16.53,60.10 12.63,59.62 10.00,58.90 C7.37,58.18 4.33,57.23 2.90,54.60 C1.47,51.97 1.40,46.93 1.40,43.10 C1.40,39.27 2.18,34.23 2.90,31.60 C3.62,28.97 4.03,28.25 5.70,27.30 Z" fill="none" stroke="#1ee01e" stroke-width="0.7" opacity="0.21"/>
<path d="M29.50,33.00 C30.45,31.22 33.63,29.97 35.90,29.50 C38.17,29.03 41.18,29.25 43.10,30.20 C45.02,31.15 46.80,33.28 47.40,35.20 C48.00,37.12 47.65,39.90 46.70,41.70 C45.75,43.50 43.73,45.53 41.70,46.00 C39.67,46.47 36.42,45.47 34.50,44.50 C32.58,43.53 31.03,42.12 30.20,40.20 C29.37,38.28 28.55,34.78 29.50,33.00 Z" fill="none" stroke="#1ee01e" stroke-width="0.7" opacity="0.07"/>
<path d="M28.70,47.40 C29.17,45.02 31.08,42.18 33.00,41.70 C34.92,41.22 38.03,43.78 40.20,44.50 C42.37,45.22 44.80,44.80 46.00,46.00 C47.20,47.20 47.65,49.78 47.40,51.70 C47.15,53.62 46.17,56.30 44.50,57.50 C42.83,58.70 39.78,59.15 37.40,58.90 C35.02,58.65 31.65,57.92 30.20,56.00 C28.75,54.08 28.23,49.78 28.70,47.40 Z" fill="none" stroke="#1ee01e" stroke-width="0.7" opacity="0.07"/>
<path d="M29.00,30.00 C26.02,26.50 29.13,26.05 31.00,25.00 C32.87,23.95 36.75,24.52 40.20,23.70 C43.65,22.88 49.07,19.27 51.70,20.10 C54.33,20.93 55.40,25.35 56.00,28.70 C56.60,32.05 56.48,37.32 55.30,40.20 C54.12,43.08 53.28,47.70 48.90,46.00 C44.52,44.30 31.98,33.50 29.00,30.00 Z" fill="none" stroke="#1ee01e" stroke-width="0.7" opacity="0.06"/>
<path d="M60.30,28.70 C61.27,28.10 62.92,27.78 64.70,28.00 C66.48,28.22 69.95,25.17 71.00,30.00 C72.05,34.83 71.83,52.42 71.00,57.00 C70.17,61.58 67.78,58.13 66.00,57.50 C64.22,56.87 61.72,55.60 60.30,53.20 C58.88,50.80 57.73,46.70 57.50,43.10 C57.27,39.50 58.43,34.00 58.90,31.60 C59.37,29.20 59.33,29.30 60.30,28.70 Z" fill="none" stroke="#1ee01e" stroke-width="0.7" opacity="0.21"/>
<path d="M28.70,71.00 C26.20,70.17 28.78,67.30 29.50,66.00 C30.22,64.70 31.45,63.78 33.00,63.20 C34.55,62.62 37.12,62.03 38.80,62.50 C40.48,62.97 42.15,64.58 43.10,66.00 C44.05,67.42 46.90,70.17 44.50,71.00 C42.10,71.83 31.20,71.83 28.70,71.00 Z" fill="none" stroke="#1ee01e" stroke-width="0.7" opacity="0.06"/>
<path d="M44.50,71.00 C40.33,69.50 45.03,64.50 46.00,62.00 C46.97,59.50 47.92,57.23 50.30,56.00 C52.68,54.77 57.68,54.35 60.30,54.60 C62.92,54.85 64.22,56.07 66.00,57.50 C67.78,58.93 70.17,60.95 71.00,63.20 C71.83,65.45 75.42,69.70 71.00,71.00 C66.58,72.30 48.67,72.50 44.50,71.00 Z" fill="none" stroke="#1ee01e" stroke-width="0.7" opacity="0.04"/>
</g>
<g filter="url(#dd0)">
<rect width="69.60" height="69.00" fill="none"/>
<path d="M-2.00,1.00 C-0.23,-2.37 5.87,0.62 8.60,1.40 C11.33,2.18 13.32,4.02 14.40,5.70 C15.48,7.38 15.58,9.58 15.10,11.50 C14.62,13.42 13.07,15.77 11.50,17.20 C9.93,18.63 7.95,19.37 5.70,20.10 C3.45,20.83 -0.72,24.78 -2.00,21.60 C-3.28,18.42 -3.77,4.37 -2.00,1.00 Z" fill="none" stroke="#1ee01e" stroke-width="2.7" opacity="0.27"/>
<path d="M23.00,11.50 C23.48,9.35 24.68,5.98 26.60,4.30 C28.52,2.62 31.87,1.63 34.50,1.40 C37.13,1.17 40.48,1.70 42.40,2.90 C44.32,4.10 45.52,6.45 46.00,8.60 C46.48,10.75 46.27,13.63 45.30,15.80 C44.33,17.97 42.00,20.28 40.20,21.60 C38.40,22.92 36.65,23.70 34.50,23.70 C32.35,23.70 29.10,22.68 27.30,21.60 C25.50,20.52 24.42,18.88 23.70,17.20 C22.98,15.52 22.52,13.65 23.00,11.50 Z" fill="none" stroke="#1ee01e" stroke-width="2.7" opacity="1.00"/>
<path d="M54.60,4.30 C55.43,2.50 58.15,1.42 60.30,0.70 C62.45,-0.02 65.72,-0.72 67.50,0.00 C69.28,0.72 70.42,1.65 71.00,5.00 C71.58,8.35 72.30,17.10 71.00,20.10 C69.70,23.10 65.45,23.23 63.20,23.00 C60.95,22.77 58.82,20.62 57.50,18.70 C56.18,16.78 55.78,13.90 55.30,11.50 C54.82,9.10 53.77,6.10 54.60,4.30 Z" fill="none" stroke="#1ee01e" stroke-width="2.7" opacity="0.76"/>
<path d="M5.70,27.30 C7.37,26.35 10.50,25.42 12.90,25.90 C15.30,26.38 18.30,27.82 20.10,30.20 C21.90,32.58 23.22,36.62 23.70,40.20 C24.18,43.78 23.83,48.58 23.00,51.70 C22.17,54.82 20.87,57.70 18.70,58.90 C16.53,60.10 12.63,59.62 10.00,58.90 C7.37,58.18 4.33,57.23 2.90,54.60 C1.47,51.97 1.40,46.93 1.40,43.10 C1.40,39.27 2.18,34.23 2.90,31.60 C3.62,28.97 4.03,28.25 5.70,27.30 Z" fill="none" stroke="#1ee01e" stroke-width="2.7" opacity="0.82"/>
<path d="M29.50,33.00 C30.45,31.22 33.63,29.97 35.90,29.50 C38.17,29.03 41.18,29.25 43.10,30.20 C45.02,31.15 46.80,33.28 47.40,35.20 C48.00,37.12 47.65,39.90 46.70,41.70 C45.75,43.50 43.73,45.53 41.70,46.00 C39.67,46.47 36.42,45.47 34.50,44.50 C32.58,43.53 31.03,42.12 30.20,40.20 C29.37,38.28 28.55,34.78 29.50,33.00 Z" fill="none" stroke="#1ee01e" stroke-width="2.7" opacity="0.27"/>
<path d="M28.70,47.40 C29.17,45.02 31.08,42.18 33.00,41.70 C34.92,41.22 38.03,43.78 40.20,44.50 C42.37,45.22 44.80,44.80 46.00,46.00 C47.20,47.20 47.65,49.78 47.40,51.70 C47.15,53.62 46.17,56.30 44.50,57.50 C42.83,58.70 39.78,59.15 37.40,58.90 C35.02,58.65 31.65,57.92 30.20,56.00 C28.75,54.08 28.23,49.78 28.70,47.40 Z" fill="none" stroke="#1ee01e" stroke-width="2.7" opacity="0.27"/>
<path d="M29.00,30.00 C26.02,26.50 29.13,26.05 31.00,25.00 C32.87,23.95 36.75,24.52 40.20,23.70 C43.65,22.88 49.07,19.27 51.70,20.10 C54.33,20.93 55.40,25.35 56.00,28.70 C56.60,32.05 56.48,37.32 55.30,40.20 C54.12,43.08 53.28,47.70 48.90,46.00 C44.52,44.30 31.98,33.50 29.00,30.00 Z" fill="none" stroke="#1ee01e" stroke-width="2.7" opacity="0.22"/>
<path d="M60.30,28.70 C61.27,28.10 62.92,27.78 64.70,28.00 C66.48,28.22 69.95,25.17 71.00,30.00 C72.05,34.83 71.83,52.42 71.00,57.00 C70.17,61.58 67.78,58.13 66.00,57.50 C64.22,56.87 61.72,55.60 60.30,53.20 C58.88,50.80 57.73,46.70 57.50,43.10 C57.27,39.50 58.43,34.00 58.90,31.60 C59.37,29.20 59.33,29.30 60.30,28.70 Z" fill="none" stroke="#1ee01e" stroke-width="2.7" opacity="0.82"/>
<path d="M28.70,71.00 C26.20,70.17 28.78,67.30 29.50,66.00 C30.22,64.70 31.45,63.78 33.00,63.20 C34.55,62.62 37.12,62.03 38.80,62.50 C40.48,62.97 42.15,64.58 43.10,66.00 C44.05,67.42 46.90,70.17 44.50,71.00 C42.10,71.83 31.20,71.83 28.70,71.00 Z" fill="none" stroke="#1ee01e" stroke-width="2.7" opacity="0.22"/>
<path d="M44.50,71.00 C40.33,69.50 45.03,64.50 46.00,62.00 C46.97,59.50 47.92,57.23 50.30,56.00 C52.68,54.77 57.68,54.35 60.30,54.60 C62.92,54.85 64.22,56.07 66.00,57.50 C67.78,58.93 70.17,60.95 71.00,63.20 C71.83,65.45 75.42,69.70 71.00,71.00 C66.58,72.30 48.67,72.50 44.50,71.00 Z" fill="none" stroke="#1ee01e" stroke-width="2.7" opacity="0.16"/>
</g>
<g filter="url(#bk2)">
<rect width="69.60" height="69.00" fill="none"/>
<ellipse cx="66" cy="12" rx="1.65" ry="1.95" fill="#1ee01e" opacity="0.36"/>
</g>
<ellipse cx="66" cy="12" rx="1.27" ry="1.58" fill="#1ee01e" opacity="0.22" filter="url(#bl2)"/>
</svg>
<svg x="406.10" y="338.80" width="69.40" height="69.70" viewBox="0 0 69.40 69.70" overflow="hidden">
<rect width="69.60" height="69.00" fill="#c8c814" opacity="0.11" filter="url(#tx3)"/>
<g filter="url(#bl)">
<path d="M-2.00,1.00 C-0.23,-2.37 5.87,0.62 8.60,1.40 C11.33,2.18 13.32,4.02 14.40,5.70 C15.48,7.38 15.58,9.58 15.10,11.50 C14.62,13.42 13.07,15.77 11.50,17.20 C9.93,18.63 7.95,19.37 5.70,20.10 C3.45,20.83 -0.72,24.78 -2.00,21.60 C-3.28,18.42 -3.77,4.37 -2.00,1.00 Z" fill="none" stroke="#c8c814" stroke-width="0.7" opacity="0.20"/>
<path d="M23.00,11.50 C23.48,9.35 24.68,5.98 26.60,4.30 C28.52,2.62 31.87,1.63 34.50,1.40 C37.13,1.17 40.48,1.70 42.40,2.90 C44.32,4.10 45.52,6.45 46.00,8.60 C46.48,10.75 46.27,13.63 45.30,15.80 C44.33,17.97 42.00,20.28 40.20,21.60 C38.40,22.92 36.65,23.70 34.50,23.70 C32.35,23.70 29.10,22.68 27.30,21.60 C25.50,20.52 24.42,18.88 23.70,17.20 C22.98,15.52 22.52,13.65 23.00,11.50 Z" fill="none" stroke="#c8c814" stroke-width="0.7" opacity="0.23"/>
<path d="M54.60,4.30 C55.43,2.50 58.15,1.42 60.30,0.70 C62.45,-0.02 65.72,-0.72 67.50,0.00 C69.28,0.72 70.42,1.65 71.00,5.00 C71.58,8.35 72.30,17.10 71.00,20.10 C69.70,23.10 65.45,23.23 63.20,23.00 C60.95,22.77 58.82,20.62 57.50,18.70 C56.18,16.78 55.78,13.90 55.30,11.50 C54.82,9.10 53.77,6.10 54.60,4.30 Z" fill="none" stroke="#c8c814" stroke-width="0.7" opacity="0.18"/>
<path d="M5.70,27.30 C7.37,26.35 10.50,25.42 12.90,25.90 C15.30,26.38 18.30,27.82 20.10,30.20 C21.90,32.58 23.22,36.62 23.70,40.20 C24.18,43.78 23.83,48.58 23.00,51.70 C22.17,54.82 20.87,57.70 18.70,58.90 C16.53,60.10 12.63,59.62 10.00,58.90 C7.37,58.18 4.33,57.23 2.90,54.60 C1.47,51.97 1.40,46.93 1.40,43.10 C1.40,39.27 2.18,34.23 2.90,31.60 C3.62,28.97 4.03,28.25 5.70,27.30 Z" fill="none" stroke="#c8c814" stroke-width="0.7" opacity="0.23"/>
<path d="M29.50,33.00 C30.45,31.22 33.63,29.97 35.90,29.50 C38.17,29.03 41.18,29.25 43.10,30.20 C45.02,31.15 46.80,33.28 47.40,35.20 C48.00,37.12 47.65,39.90 46.70,41.70 C45.75,43.50 43.73,45.53 41.70,46.00 C39.67,46.47 36.42,45.47 34.50,44.50 C32.58,43.53 31.03,42.12 30.20,40.20 C29.37,38.28 28.55,34.78 29.50,33.00 Z" fill="none" stroke="#c8c814" stroke-width="0.7" opacity="0.23"/>
<path d="M28.70,47.40 C29.17,45.02 31.08,42.18 33.00,41.70 C34.92,41.22 38.03,43.78 40.20,44.50 C42.37,45.22 44.80,44.80 46.00,46.00 C47.20,47.20 47.65,49.78 47.40,51.70 C47.15,53.62 46.17,56.30 44.50,57.50 C42.83,58.70 39.78,59.15 37.40,58.90 C35.02,58.65 31.65,57.92 30.20,56.00 C28.75,54.08 28.23,49.78 28.70,47.40 Z" fill="none" stroke="#c8c814" stroke-width="0.7" opacity="0.23"/>
<path d="M29.00,30.00 C26.02,26.50 29.13,26.05 31.00,25.00 C32.87,23.95 36.75,24.52 40.20,23.70 C43.65,22.88 49.07,19.27 51.70,20.10 C54.33,20.93 55.40,25.35 56.00,28.70 C56.60,32.05 56.48,37.32 55.30,40.20 C54.12,43.08 53.28,47.70 48.90,46.00 C44.52,44.30 31.98,33.50 29.00,30.00 Z" fill="none" stroke="#c8c814" stroke-width="0.7" opacity="0.13"/>
<path d="M60.30,28.70 C61.27,28.10 62.92,27.78 64.70,28.00 C66.48,28.22 69.95,25.17 71.00,30.00 C72.05,34.83 71.83,52.42 71.00,57.00 C70.17,61.58 67.78,58.13 66.00,57.50 C64.22,56.87 61.72,55.60 60.30,53.20 C58.88,50.80 57.73,46.70 57.50,43.10 C57.27,39.50 58.43,34.00 58.90,31.60 C59.37,29.20 59.33,29.30 60.30,28.70 Z" fill="none" stroke="#c8c814" stroke-width="0.7" opacity="0.18"/>
<path d="M28.70,71.00 C26.20,70.17 28.78,67.30 29.50,66.00 C30.22,64.70 31.45,63.78 33.00,63.20 C34.55,62.62 37.12,62.03 38.80,62.50 C40.48,62.97 42.15,64.58 43.10,66.00 C44.05,67.42 46.90,70.17 44.50,71.00 C42.10,71.83 31.20,71.83 28.70,71.00 Z" fill="none" stroke="#c8c814" stroke-width="0.7" opacity="0.18"/>
<path d="M44.50,71.00 C40.33,69.50 45.03,64.50 46.00,62.00 C46.97,59.50 47.92,57.23 50.30,56.00 C52.68,54.77 57.68,54.35 60.30,54.60 C62.92,54.85 64.22,56.07 66.00,57.50 C67.78,58.93 70.17,60.95 71.00,63.20 C71.83,65.45 75.42,69.70 71.00,71.00 C66.58,72.30 48.67,72.50 44.50,71.00 Z" fill="none" stroke="#c8c814" stroke-width="0.7" opacity="0.15"/>
</g>
<g filter="url(#dc1)">
<rect width="69.60" height="69.00" fill="none"/>
<path d="M-2.00,1.00 C-0.23,-2.37 5.87,0.62 8.60,1.40 C11.33,2.18 13.32,4.02 14.40,5.70 C15.48,7.38 15.58,9.58 15.10,11.50 C14.62,13.42 13.07,15.77 11.50,17.20 C9.93,18.63 7.95,19.37 5.70,20.10 C3.45,20.83 -0.72,24.78 -2.00,21.60 C-3.28,18.42 -3.77,4.37 -2.00,1.00 Z" fill="none" stroke="#c8c814" stroke-width="1.05" opacity="0.68"/>
<path d="M23.00,11.50 C23.48,9.35 24.68,5.98 26.60,4.30 C28.52,2.62 31.87,1.63 34.50,1.40 C37.13,1.17 40.48,1.70 42.40,2.90 C44.32,4.10 45.52,6.45 46.00,8.60 C46.48,10.75 46.27,13.63 45.30,15.80 C44.33,17.97 42.00,20.28 40.20,21.60 C38.40,22.92 36.65,23.70 34.50,23.70 C32.35,23.70 29.10,22.68 27.30,21.60 C25.50,20.52 24.42,18.88 23.70,17.20 C22.98,15.52 22.52,13.65 23.00,11.50 Z" fill="none" stroke="#c8c814" stroke-width="1.05" opacity="0.77"/>
<path d="M54.60,4.30 C55.43,2.50 58.15,1.42 60.30,0.70 C62.45,-0.02 65.72,-0.72 67.50,0.00 C69.28,0.72 70.42,1.65 71.00,5.00 C71.58,8.35 72.30,17.10 71.00,20.10 C69.70,23.10 65.45,23.23 63.20,23.00 C60.95,22.77 58.82,20.62 57.50,18.70 C56.18,16.78 55.78,13.90 55.30,11.50 C54.82,9.10 53.77,6.10 54.60,4.30 Z" fill="none" stroke="#c8c814" stroke-width="1.05" opacity="0.59"/>
<path d="M5.70,27.30 C7.37,26.35 10.50,25.42 12.90,25.90 C15.30,26.38 18.30,27.82 20.10,30.20 C21.90,32.58 23.22,36.62 23.70,40.20 C24.18,43.78 23.83,48.58 23.00,51.70 C22.17,54.82 20.87,57.70 18.70,58.90 C16.53,60.10 12.63,59.62 10.00,58.90 C7.37,58.18 4.33,57.23 2.90,54.60 C1.47,51.97 1.40,46.93 1.40,43.10 C1.40,39.27 2.18,34.23 2.90,31.60 C3.62,28.97 4.03,28.25 5.70,27.30 Z" fill="none" stroke="#c8c814" stroke-width="1.05" opacity="0.77"/>
<path d="M29.50,33.00 C30.45,31.22 33.63,29.97 35.90,29.50 C38.17,29.03 41.18,29.25 43.10,30.20 C45.02,31.15 46.80,33.28 47.40,35.20 C48.00,37.12 47.65,39.90 46.70,41.70 C45.75,43.50 43.73,45.53 41.70,46.00 C39.67,46.47 36.42,45.47 34.50,44.50 C32.58,43.53 31.03,42.12 30.20,40.20 C29.37,38.28 28.55,34.78 29.50,33.00 Z" fill="none" stroke="#c8c814" stroke-width="1.05" opacity="0.77"/>
<path d="M28.70,47.40 C29.17,45.02 31.08,42.18 33.00,41.70 C34.92,41.22 38.03,43.78 40.20,44.50 C42.37,45.22 44.80,44.80 46.00,46.00 C47.20,47.20 47.65,49.78 47.40,51.70 C47.15,53.62 46.17,56.30 44.50,57.50 C42.83,58.70 39.78,59.15 37.40,58.90 C35.02,58.65 31.65,57.92 30.20,56.00 C28.75,54.08 28.23,49.78 28.70,47.40 Z" fill="none" stroke="#c8c814" stroke-width="1.05" opacity="0.77"/>
<path d="M29.00,30.00 C26.02,26.50 29.13,26.05 31.00,25.00 C32.87,23.95 36.75,24.52 40.20,23.70 C43.65,22.88 49.07,19.27 51.70,20.10 C54.33,20.93 55.40,25.35 56.00,28.70 C56.60,32.05 56.48,37.32 55.30,40.20 C54.12,43.08 53.28,47.70 48.90,46.00 C44.52,44.30 31.98,33.50 29.00,30.00 Z" fill="none" stroke="#c8c814" stroke-width="1.05" opacity="0.42"/>
<path d="M60.30,28.70 C61.27,28.10 62.92,27.78 64.70,28.00 C66.48,28.22 69.95,25.17 71.00,30.00 C72.05,34.83 71.83,52.42 71.00,57.00 C70.17,61.58 67.78,58.13 66.00,57.50 C64.22,56.87 61.72,55.60 60.30,53.20 C58.88,50.80 57.73,46.70 57.50,43.10 C57.27,39.50 58.43,34.00 58.90,31.60 C59.37,29.20 59.33,29.30 60.30,28.70 Z" fill="none" stroke="#c8c814" stroke-width="1.05" opacity="0.59"/>
<path d="M28.70,71.00 C26.20,70.17 28.78,67.30 29.50,66.00 C30.22,64.70 31.45,63.78 33.00,63.20 C34.55,62.62 37.12,62.03 38.80,62.50 C40.48,62.97 42.15,64.58 43.10,66.00 C44.05,67.42 46.90,70.17 44.50,71.00 C42.10,71.83 31.20,71.83 28.70,71.00 Z" fill="none" stroke="#c8c814" stroke-width="1.05" opacity="0.59"/>
<path d="M44.50,71.00 C40.33,69.50 45.03,64.50 46.00,62.00 C46.97,59.50 47.92,57.23 50.30,56.00 C52.68,54.77 57.68,54.35 60.30,54.60 C62.92,54.85 64.22,56.07 66.00,57.50 C67.78,58.93 70.17,60.95 71.00,63.20 C71.83,65.45 75.42,69.70 71.00,71.00 C66.58,72.30 48.67,72.50 44.50,71.00 Z" fill="none" stroke="#c8c814" stroke-width="1.05" opacity="0.51"/>
</g>
<g filter="url(#bk3)">
<rect width="69.60" height="69.00" fill="none"/>
<ellipse cx="66" cy="12" rx="1.65" ry="1.95" fill="#c8c814" opacity="0.96"/>
<ellipse cx="66" cy="63" rx="2.20" ry="2.60" fill="#c8c814" opacity="1.00"/>
</g>
<ellipse cx="66" cy="12" rx="1.27" ry="1.58" fill="#c8c814" opacity="0.60" filter="url(#bl2)"/>
<ellipse cx="66" cy="63" rx="1.70" ry="2.10" fill="#c8c814" opacity="0.75" filter="url(#bl2)"/>
</svg>
<svg x="406.10" y="408.50" width="69.40" height="68.60" viewBox="0 0 69.40 68.60" overflow="hidden">
<rect width="69.60" height="69.00" fill="#e41212" opacity="0.1" filter="url(#tx4)"/>
<g filter="url(#bl)">
<path d="M-2.00,1.00 C-0.23,-2.37 5.87,0.62 8.60,1.40 C11.33,2.18 13.32,4.02 14.40,5.70 C15.48,7.38 15.58,9.58 15.10,11.50 C14.62,13.42 13.07,15.77 11.50,17.20 C9.93,18.63 7.95,19.37 5.70,20.10 C3.45,20.83 -0.72,24.78 -2.00,21.60 C-3.28,18.42 -3.77,4.37 -2.00,1.00 Z" fill="none" stroke="#e41212" stroke-width="0.7" opacity="0.13"/>
<path d="M23.00,11.50 C23.48,9.35 24.68,5.98 26.60,4.30 C28.52,2.62 31.87,1.63 34.50,1.40 C37.13,1.17 40.48,1.70 42.40,2.90 C44.32,4.10 45.52,6.45 46.00,8.60 C46.48,10.75 46.27,13.63 45.30,15.80 C44.33,17.97 42.00,20.28 40.20,21.60 C38.40,22.92 36.65,23.70 34.50,23.70 C32.35,23.70 29.10,22.68 27.30,21.60 C25.50,20.52 24.42,18.88 23.70,17.20 C22.98,15.52 22.52,13.65 23.00,11.50 Z" fill="none" stroke="#e41212" stroke-width="0.7" opacity="0.26"/>
<path d="M54.60,4.30 C55.43,2.50 58.15,1.42 60.30,0.70 C62.45,-0.02 65.72,-0.72 67.50,0.00 C69.28,0.72 70.42,1.65 71.00,5.00 C71.58,8.35 72.30,17.10 71.00,20.10 C69.70,23.10 65.45,23.23 63.20,23.00 C60.95,22.77 58.82,20.62 57.50,18.70 C56.18,16.78 55.78,13.90 55.30,11.50 C54.82,9.10 53.77,6.10 54.60,4.30 Z" fill="none" stroke="#e41212" stroke-width="0.7" opacity="0.20"/>
<path d="M5.70,27.30 C7.37,26.35 10.50,25.42 12.90,25.90 C15.30,26.38 18.30,27.82 20.10,30.20 C21.90,32.58 23.22,36.62 23.70,40.20 C24.18,43.78 23.83,48.58 23.00,51.70 C22.17,54.82 20.87,57.70 18.70,58.90 C16.53,60.10 12.63,59.62 10.00,58.90 C7.37,58.18 4.33,57.23 2.90,54.60 C1.47,51.97 1.40,46.93 1.40,43.10 C1.40,39.27 2.18,34.23 2.90,31.60 C3.62,28.97 4.03,28.25 5.70,27.30 Z" fill="none" stroke="#e41212" stroke-width="0.7" opacity="0.20"/>
<path d="M29.50,33.00 C30.45,31.22 33.63,29.97 35.90,29.50 C38.17,29.03 41.18,29.25 43.10,30.20 C45.02,31.15 46.80,33.28 47.40,35.20 C48.00,37.12 47.65,39.90 46.70,41.70 C45.75,43.50 43.73,45.53 41.70,46.00 C39.67,46.47 36.42,45.47 34.50,44.50 C32.58,43.53 31.03,42.12 30.20,40.20 C29.37,38.28 28.55,34.78 29.50,33.00 Z" fill="none" stroke="#e41212" stroke-width="0.7" opacity="0.13"/>
<path d="M28.70,47.40 C29.17,45.02 31.08,42.18 33.00,41.70 C34.92,41.22 38.03,43.78 40.20,44.50 C42.37,45.22 44.80,44.80 46.00,46.00 C47.20,47.20 47.65,49.78 47.40,51.70 C47.15,53.62 46.17,56.30 44.50,57.50 C42.83,58.70 39.78,59.15 37.40,58.90 C35.02,58.65 31.65,57.92 30.20,56.00 C28.75,54.08 28.23,49.78 28.70,47.40 Z" fill="none" stroke="#e41212" stroke-width="0.7" opacity="0.15"/>
<path d="M29.00,30.00 C26.02,26.50 29.13,26.05 31.00,25.00 C32.87,23.95 36.75,24.52 40.20,23.70 C43.65,22.88 49.07,19.27 51.70,20.10 C54.33,20.93 55.40,25.35 56.00,28.70 C56.60,32.05 56.48,37.32 55.30,40.20 C54.12,43.08 53.28,47.70 48.90,46.00 C44.52,44.30 31.98,33.50 29.00,30.00 Z" fill="none" stroke="#e41212" stroke-width="0.7" opacity="0.10"/>
<path d="M60.30,28.70 C61.27,28.10 62.92,27.78 64.70,28.00 C66.48,28.22 69.95,25.17 71.00,30.00 C72.05,34.83 71.83,52.42 71.00,57.00 C70.17,61.58 67.78,58.13 66.00,57.50 C64.22,56.87 61.72,55.60 60.30,53.20 C58.88,50.80 57.73,46.70 57.50,43.10 C57.27,39.50 58.43,34.00 58.90,31.60 C59.37,29.20 59.33,29.30 60.30,28.70 Z" fill="none" stroke="#e41212" stroke-width="0.7" opacity="0.18"/>
<path d="M28.70,71.00 C26.20,70.17 28.78,67.30 29.50,66.00 C30.22,64.70 31.45,63.78 33.00,63.20 C34.55,62.62 37.12,62.03 38.80,62.50 C40.48,62.97 42.15,64.58 43.10,66.00 C44.05,67.42 46.90,70.17 44.50,71.00 C42.10,71.83 31.20,71.83 28.70,71.00 Z" fill="none" stroke="#e41212" stroke-width="0.7" opacity="0.13"/>
<path d="M44.50,71.00 C40.33,69.50 45.03,64.50 46.00,62.00 C46.97,59.50 47.92,57.23 50.30,56.00 C52.68,54.77 57.68,54.35 60.30,54.60 C62.92,54.85 64.22,56.07 66.00,57.50 C67.78,58.93 70.17,60.95 71.00,63.20 C71.83,65.45 75.42,69.70 71.00,71.00 C66.58,72.30 48.67,72.50 44.50,71.00 Z" fill="none" stroke="#e41212" stroke-width="0.7" opacity="0.10"/>
</g>
<g filter="url(#dt2)">
<rect width="69.60" height="69.00" fill="none"/>
<path d="M-2.00,1.00 C-0.23,-2.37 5.87,0.62 8.60,1.40 C11.33,2.18 13.32,4.02 14.40,5.70 C15.48,7.38 15.58,9.58 15.10,11.50 C14.62,13.42 13.07,15.77 11.50,17.20 C9.93,18.63 7.95,19.37 5.70,20.10 C3.45,20.83 -0.72,24.78 -2.00,21.60 C-3.28,18.42 -3.77,4.37 -2.00,1.00 Z" fill="none" stroke="#e41212" stroke-width="1.4" opacity="0.42"/>
<path d="M23.00,11.50 C23.48,9.35 24.68,5.98 26.60,4.30 C28.52,2.62 31.87,1.63 34.50,1.40 C37.13,1.17 40.48,1.70 42.40,2.90 C44.32,4.10 45.52,6.45 46.00,8.60 C46.48,10.75 46.27,13.63 45.30,15.80 C44.33,17.97 42.00,20.28 40.20,21.60 C38.40,22.92 36.65,23.70 34.50,23.70 C32.35,23.70 29.10,22.68 27.30,21.60 C25.50,20.52 24.42,18.88 23.70,17.20 C22.98,15.52 22.52,13.65 23.00,11.50 Z" fill="none" stroke="#e41212" stroke-width="1.4" opacity="0.85"/>
<path d="M54.60,4.30 C55.43,2.50 58.15,1.42 60.30,0.70 C62.45,-0.02 65.72,-0.72 67.50,0.00 C69.28,0.72 70.42,1.65 71.00,5.00 C71.58,8.35 72.30,17.10 71.00,20.10 C69.70,23.10 65.45,23.23 63.20,23.00 C60.95,22.77 58.82,20.62 57.50,18.70 C56.18,16.78 55.78,13.90 55.30,11.50 C54.82,9.10 53.77,6.10 54.60,4.30 Z" fill="none" stroke="#e41212" stroke-width="1.4" opacity="0.68"/>
<path d="M5.70,27.30 C7.37,26.35 10.50,25.42 12.90,25.90 C15.30,26.38 18.30,27.82 20.10,30.20 C21.90,32.58 23.22,36.62 23.70,40.20 C24.18,43.78 23.83,48.58 23.00,51.70 C22.17,54.82 20.87,57.70 18.70,58.90 C16.53,60.10 12.63,59.62 10.00,58.90 C7.37,58.18 4.33,57.23 2.90,54.60 C1.47,51.97 1.40,46.93 1.40,43.10 C1.40,39.27 2.18,34.23 2.90,31.60 C3.62,28.97 4.03,28.25 5.70,27.30 Z" fill="none" stroke="#e41212" stroke-width="1.4" opacity="0.68"/>
<path d="M29.50,33.00 C30.45,31.22 33.63,29.97 35.90,29.50 C38.17,29.03 41.18,29.25 43.10,30.20 C45.02,31.15 46.80,33.28 47.40,35.20 C48.00,37.12 47.65,39.90 46.70,41.70 C45.75,43.50 43.73,45.53 41.70,46.00 C39.67,46.47 36.42,45.47 34.50,44.50 C32.58,43.53 31.03,42.12 30.20,40.20 C29.37,38.28 28.55,34.78 29.50,33.00 Z" fill="none" stroke="#e41212" stroke-width="1.4" opacity="0.42"/>
<path d="M28.70,47.40 C29.17,45.02 31.08,42.18 33.00,41.70 C34.92,41.22 38.03,43.78 40.20,44.50 C42.37,45.22 44.80,44.80 46.00,46.00 C47.20,47.20 47.65,49.78 47.40,51.70 C47.15,53.62 46.17,56.30 44.50,57.50 C42.83,58.70 39.78,59.15 37.40,58.90 C35.02,58.65 31.65,57.92 30.20,56.00 C28.75,54.08 28.23,49.78 28.70,47.40 Z" fill="none" stroke="#e41212" stroke-width="1.4" opacity="0.51"/>
<path d="M29.00,30.00 C26.02,26.50 29.13,26.05 31.00,25.00 C32.87,23.95 36.75,24.52 40.20,23.70 C43.65,22.88 49.07,19.27 51.70,20.10 C54.33,20.93 55.40,25.35 56.00,28.70 C56.60,32.05 56.48,37.32 55.30,40.20 C54.12,43.08 53.28,47.70 48.90,46.00 C44.52,44.30 31.98,33.50 29.00,30.00 Z" fill="none" stroke="#e41212" stroke-width="1.4" opacity="0.34"/>
<path d="M60.30,28.70 C61.27,28.10 62.92,27.78 64.70,28.00 C66.48,28.22 69.95,25.17 71.00,30.00 C72.05,34.83 71.83,52.42 71.00,57.00 C70.17,61.58 67.78,58.13 66.00,57.50 C64.22,56.87 61.72,55.60 60.30,53.20 C58.88,50.80 57.73,46.70 57.50,43.10 C57.27,39.50 58.43,34.00 58.90,31.60 C59.37,29.20 59.33,29.30 60.30,28.70 Z" fill="none" stroke="#e41212" stroke-width="1.4" opacity="0.59"/>
<path d="M28.70,71.00 C26.20,70.17 28.78,67.30 29.50,66.00 C30.22,64.70 31.45,63.78 33.00,63.20 C34.55,62.62 37.12,62.03 38.80,62.50 C40.48,62.97 42.15,64.58 43.10,66.00 C44.05,67.42 46.90,70.17 44.50,71.00 C42.10,71.83 31.20,71.83 28.70,71.00 Z" fill="none" stroke="#e41212" stroke-width="1.4" opacity="0.42"/>
<path d="M44.50,71.00 C40.33,69.50 45.03,64.50 46.00,62.00 C46.97,59.50 47.92,57.23 50.30,56.00 C52.68,54.77 57.68,54.35 60.30,54.60 C62.92,54.85 64.22,56.07 66.00,57.50 C67.78,58.93 70.17,60.95 71.00,63.20 C71.83,65.45 75.42,69.70 71.00,71.00 C66.58,72.30 48.67,72.50 44.50,71.00 Z" fill="none" stroke="#e41212" stroke-width="1.4" opacity="0.34"/>
</g>
<g filter="url(#bk4)">
<rect width="69.60" height="69.00" fill="none"/>
<ellipse cx="66" cy="12" rx="1.65" ry="1.95" fill="#e41212" opacity="0.72"/>
<ellipse cx="66" cy="63" rx="2.20" ry="2.60" fill="#e41212" opacity="0.36"/>
</g>
<ellipse cx="66" cy="12" rx="1.27" ry="1.58" fill="#e41212" opacity="0.45" filter="url(#bl2)"/>
<ellipse cx="66" cy="63" rx="1.70" ry="2.10" fill="#e41212" opacity="0.22" filter="url(#bl2)"/>
</svg>
<svg x="475.50" y="201.00" width="70.10" height="68.80" viewBox="0 0 70.10 68.80" overflow="hidden">
<g filter="url(#bl)">
</g>
<g filter="url(#dd3)">
<rect width="69.60" height="69.00" fill="none"/>
</g>
<g filter="url(#bk2)">
<rect width="69.60" height="69.00" fill="none"/>
</g>
</svg>
<svg x="475.50" y="269.80" width="70.10" height="69.00" viewBox="0 0 70.10 69.00" overflow="hidden">
<rect width="69.60" height="69.00" fill="#1ee01e" opacity="0.1" filter="url(#tx3)"/>
<ellipse cx="37" cy="41" rx="10" ry="5" transform="rotate(-10 37 41)" fill="#1ee01e" opacity="0.5" filter="url(#cl3)"/>
<ellipse cx="18" cy="45" rx="12" ry="6" transform="rotate(0 18 45)" fill="#1ee01e" opacity="0.15" filter="url(#cl3)"/>
<ellipse cx="36" cy="55" rx="10" ry="6" transform="rotate(0 36 55)" fill="#1ee01e" opacity="0.1" filter="url(#cl3)"/>
<g filter="url(#bl)">
<path d="M8.60,11.50 C8.85,9.35 9.82,5.85 11.50,4.30 C13.18,2.75 16.30,2.20 18.70,2.20 C21.10,2.20 24.23,2.75 25.90,4.30 C27.57,5.85 28.47,9.35 28.70,11.50 C28.93,13.65 28.48,15.65 27.30,17.20 C26.12,18.75 23.75,20.20 21.60,20.80 C19.45,21.40 16.33,21.40 14.40,20.80 C12.47,20.20 10.97,18.75 10.00,17.20 C9.03,15.65 8.35,13.65 8.60,11.50 Z" fill="none" stroke="#1ee01e" stroke-width="0.7" opacity="0.12"/>
<path d="M27.30,-1.00 C23.82,0.12 27.50,3.62 28.70,5.70 C29.90,7.78 32.10,10.18 34.50,11.50 C36.90,12.82 40.70,13.60 43.10,13.60 C45.50,13.60 47.70,13.05 48.90,11.50 C50.10,9.95 50.18,6.38 50.30,4.30 C50.42,2.22 53.43,-0.12 49.60,-1.00 C45.77,-1.88 30.78,-2.12 27.30,-1.00 Z" fill="none" stroke="#1ee01e" stroke-width="0.7" opacity="0.05"/>
<path d="M50.30,8.60 C50.53,6.22 52.68,4.10 54.60,2.90 C56.52,1.70 59.40,1.40 61.80,1.40 C64.20,1.40 67.47,1.22 69.00,2.90 C70.53,4.58 71.25,8.87 71.00,11.50 C70.75,14.13 69.28,17.27 67.50,18.70 C65.72,20.13 62.68,20.35 60.30,20.10 C57.92,19.85 54.87,19.12 53.20,17.20 C51.53,15.28 50.07,10.98 50.30,8.60 Z" fill="none" stroke="#1ee01e" stroke-width="0.7" opacity="0.10"/>
<path d="M33.00,28.70 C33.37,26.67 35.23,24.77 37.40,23.70 C39.57,22.63 43.37,22.18 46.00,22.30 C48.63,22.42 51.77,22.85 53.20,24.40 C54.63,25.95 55.08,29.43 54.60,31.60 C54.12,33.77 52.45,36.20 50.30,37.40 C48.15,38.60 44.22,39.05 41.70,38.80 C39.18,38.55 36.65,37.58 35.20,35.90 C33.75,34.22 32.63,30.73 33.00,28.70 Z" fill="none" stroke="#1ee01e" stroke-width="0.7" opacity="0.12"/>
<path d="M58.20,28.70 C58.92,26.42 61.07,24.65 63.20,23.70 C65.33,22.75 69.70,20.00 71.00,23.00 C72.30,26.00 72.30,38.70 71.00,41.70 C69.70,44.70 65.22,41.72 63.20,41.00 C61.18,40.28 59.73,39.45 58.90,37.40 C58.07,35.35 57.48,30.98 58.20,28.70 Z" fill="none" stroke="#1ee01e" stroke-width="0.7" opacity="0.10"/>
<path d="M-2.00,-1.00 C-0.47,-5.07 5.43,1.50 7.20,4.30 C8.97,7.10 8.85,12.20 8.60,15.80 C8.35,19.40 7.47,23.75 5.70,25.90 C3.93,28.05 -0.72,33.18 -2.00,28.70 C-3.28,24.22 -3.53,3.07 -2.00,-1.00 Z" fill="none" stroke="#1ee01e" stroke-width="0.7" opacity="0.03"/>
<path d="M1.40,54.60 C2.12,52.82 3.78,50.55 5.70,49.60 C7.62,48.65 10.50,48.30 12.90,48.90 C15.30,49.50 18.65,51.30 20.10,53.20 C21.55,55.10 21.83,58.15 21.60,60.30 C21.37,62.45 20.38,64.78 18.70,66.10 C17.02,67.42 13.90,68.20 11.50,68.20 C9.10,68.20 5.98,67.42 4.30,66.10 C2.62,64.78 1.88,62.22 1.40,60.30 C0.92,58.38 0.68,56.38 1.40,54.60 Z" fill="none" stroke="#1ee01e" stroke-width="0.7" opacity="0.12"/>
<path d="M30.20,71.00 C28.13,68.75 30.40,60.72 31.60,57.50 C32.80,54.28 35.00,53.38 37.40,51.70 C39.80,50.02 43.40,47.68 46.00,47.40 C48.60,47.12 51.83,48.23 53.00,50.00 C54.17,51.77 53.83,55.33 53.00,58.00 C52.17,60.67 49.50,63.83 48.00,66.00 C46.50,68.17 46.97,70.17 44.00,71.00 C41.03,71.83 32.27,73.25 30.20,71.00 Z" fill="none" stroke="#1ee01e" stroke-width="0.7" opacity="0.06"/>
<path d="M43.10,71.00 C39.60,69.67 47.52,65.33 50.00,63.00 C52.48,60.67 55.32,58.40 58.00,57.00 C60.68,55.60 63.93,54.77 66.10,54.60 C68.27,54.43 70.18,53.27 71.00,56.00 C71.82,58.73 75.65,68.50 71.00,71.00 C66.35,73.50 46.60,72.33 43.10,71.00 Z" fill="none" stroke="#1ee01e" stroke-width="0.7" opacity="0.05"/>
</g>
<g filter="url(#dc4)">
<rect width="69.60" height="69.00" fill="none"/>
<path d="M8.60,11.50 C8.85,9.35 9.82,5.85 11.50,4.30 C13.18,2.75 16.30,2.20 18.70,2.20 C21.10,2.20 24.23,2.75 25.90,4.30 C27.57,5.85 28.47,9.35 28.70,11.50 C28.93,13.65 28.48,15.65 27.30,17.20 C26.12,18.75 23.75,20.20 21.60,20.80 C19.45,21.40 16.33,21.40 14.40,20.80 C12.47,20.20 10.97,18.75 10.00,17.20 C9.03,15.65 8.35,13.65 8.60,11.50 Z" fill="none" stroke="#1ee01e" stroke-width="1.25" opacity="0.39"/>
<path d="M27.30,-1.00 C23.82,0.12 27.50,3.62 28.70,5.70 C29.90,7.78 32.10,10.18 34.50,11.50 C36.90,12.82 40.70,13.60 43.10,13.60 C45.50,13.60 47.70,13.05 48.90,11.50 C50.10,9.95 50.18,6.38 50.30,4.30 C50.42,2.22 53.43,-0.12 49.60,-1.00 C45.77,-1.88 30.78,-2.12 27.30,-1.00 Z" fill="none" stroke="#1ee01e" stroke-width="1.25" opacity="0.17"/>
<path d="M50.30,8.60 C50.53,6.22 52.68,4.10 54.60,2.90 C56.52,1.70 59.40,1.40 61.80,1.40 C64.20,1.40 67.47,1.22 69.00,2.90 C70.53,4.58 71.25,8.87 71.00,11.50 C70.75,14.13 69.28,17.27 67.50,18.70 C65.72,20.13 62.68,20.35 60.30,20.10 C57.92,19.85 54.87,19.12 53.20,17.20 C51.53,15.28 50.07,10.98 50.30,8.60 Z" fill="none" stroke="#1ee01e" stroke-width="1.25" opacity="0.33"/>
<path d="M33.00,28.70 C33.37,26.67 35.23,24.77 37.40,23.70 C39.57,22.63 43.37,22.18 46.00,22.30 C48.63,22.42 51.77,22.85 53.20,24.40 C54.63,25.95 55.08,29.43 54.60,31.60 C54.12,33.77 52.45,36.20 50.30,37.40 C48.15,38.60 44.22,39.05 41.70,38.80 C39.18,38.55 36.65,37.58 35.20,35.90 C33.75,34.22 32.63,30.73 33.00,28.70 Z" fill="none" stroke="#1ee01e" stroke-width="1.25" opacity="0.39"/>
<path d="M58.20,28.70 C58.92,26.42 61.07,24.65 63.20,23.70 C65.33,22.75 69.70,20.00 71.00,23.00 C72.30,26.00 72.30,38.70 71.00,41.70 C69.70,44.70 65.22,41.72 63.20,41.00 C61.18,40.28 59.73,39.45 58.90,37.40 C58.07,35.35 57.48,30.98 58.20,28.70 Z" fill="none" stroke="#1ee01e" stroke-width="1.25" opacity="0.33"/>
<path d="M-2.00,-1.00 C-0.47,-5.07 5.43,1.50 7.20,4.30 C8.97,7.10 8.85,12.20 8.60,15.80 C8.35,19.40 7.47,23.75 5.70,25.90 C3.93,28.05 -0.72,33.18 -2.00,28.70 C-3.28,24.22 -3.53,3.07 -2.00,-1.00 Z" fill="none" stroke="#1ee01e" stroke-width="1.25" opacity="0.11"/>
<path d="M1.40,54.60 C2.12,52.82 3.78,50.55 5.70,49.60 C7.62,48.65 10.50,48.30 12.90,48.90 C15.30,49.50 18.65,51.30 20.10,53.20 C21.55,55.10 21.83,58.15 21.60,60.30 C21.37,62.45 20.38,64.78 18.70,66.10 C17.02,67.42 13.90,68.20 11.50,68.20 C9.10,68.20 5.98,67.42 4.30,66.10 C2.62,64.78 1.88,62.22 1.40,60.30 C0.92,58.38 0.68,56.38 1.40,54.60 Z" fill="none" stroke="#1ee01e" stroke-width="1.25" opacity="0.39"/>
<path d="M30.20,71.00 C28.13,68.75 30.40,60.72 31.60,57.50 C32.80,54.28 35.00,53.38 37.40,51.70 C39.80,50.02 43.40,47.68 46.00,47.40 C48.60,47.12 51.83,48.23 53.00,50.00 C54.17,51.77 53.83,55.33 53.00,58.00 C52.17,60.67 49.50,63.83 48.00,66.00 C46.50,68.17 46.97,70.17 44.00,71.00 C41.03,71.83 32.27,73.25 30.20,71.00 Z" fill="none" stroke="#1ee01e" stroke-width="1.25" opacity="0.19"/>
<path d="M43.10,71.00 C39.60,69.67 47.52,65.33 50.00,63.00 C52.48,60.67 55.32,58.40 58.00,57.00 C60.68,55.60 63.93,54.77 66.10,54.60 C68.27,54.43 70.18,53.27 71.00,56.00 C71.82,58.73 75.65,68.50 71.00,71.00 C66.35,73.50 46.60,72.33 43.10,71.00 Z" fill="none" stroke="#1ee01e" stroke-width="1.25" opacity="0.17"/>
</g>
<g filter="url(#bk3)">
<rect width="69.60" height="69.00" fill="none"/>
<ellipse cx="29.5" cy="59" rx="2.20" ry="2.60" fill="#1ee01e" opacity="1.00"/>
<ellipse cx="38.8" cy="40.2" rx="2.20" ry="2.60" fill="#1ee01e" opacity="0.60"/>
<ellipse cx="21" cy="21" rx="1.43" ry="1.69" fill="#1ee01e" opacity="1.00"/>
<ellipse cx="22" cy="8" rx="1.32" ry="1.56" fill="#1ee01e" opacity="0.36"/>
</g>
<ellipse cx="29.5" cy="59" rx="1.70" ry="2.10" fill="#1ee01e" opacity="0.75" filter="url(#bl2)"/>
<ellipse cx="38.8" cy="40.2" rx="1.70" ry="2.10" fill="#1ee01e" opacity="0.38" filter="url(#bl2)"/>
<ellipse cx="21" cy="21" rx="1.10" ry="1.37" fill="#1ee01e" opacity="0.75" filter="url(#bl2)"/>
<ellipse cx="22" cy="8" rx="1.02" ry="1.26" fill="#1ee01e" opacity="0.22" filter="url(#bl2)"/>
</svg>
<svg x="475.50" y="338.80" width="70.10" height="69.70" viewBox="0 0 70.10 69.70" overflow="hidden">
<rect width="69.60" height="69.00" fill="#c8c814" opacity="0.16" filter="url(#tx4)"/>
<ellipse cx="37" cy="41" rx="10" ry="5" transform="rotate(-10 37 41)" fill="#c8c814" opacity="0.4" filter="url(#cl4)"/>
<ellipse cx="18" cy="45" rx="12" ry="6" transform="rotate(0 18 45)" fill="#c8c814" opacity="0.35" filter="url(#cl4)"/>
<ellipse cx="36" cy="55" rx="10" ry="6" transform="rotate(0 36 55)" fill="#c8c814" opacity="0.25" filter="url(#cl4)"/>
<g filter="url(#bl)">
<path d="M8.60,11.50 C8.85,9.35 9.82,5.85 11.50,4.30 C13.18,2.75 16.30,2.20 18.70,2.20 C21.10,2.20 24.23,2.75 25.90,4.30 C27.57,5.85 28.47,9.35 28.70,11.50 C28.93,13.65 28.48,15.65 27.30,17.20 C26.12,18.75 23.75,20.20 21.60,20.80 C19.45,21.40 16.33,21.40 14.40,20.80 C12.47,20.20 10.97,18.75 10.00,17.20 C9.03,15.65 8.35,13.65 8.60,11.50 Z" fill="none" stroke="#c8c814" stroke-width="0.7" opacity="0.18"/>
<path d="M27.30,-1.00 C23.82,0.12 27.50,3.62 28.70,5.70 C29.90,7.78 32.10,10.18 34.50,11.50 C36.90,12.82 40.70,13.60 43.10,13.60 C45.50,13.60 47.70,13.05 48.90,11.50 C50.10,9.95 50.18,6.38 50.30,4.30 C50.42,2.22 53.43,-0.12 49.60,-1.00 C45.77,-1.88 30.78,-2.12 27.30,-1.00 Z" fill="none" stroke="#c8c814" stroke-width="0.7" opacity="0.16"/>
<path d="M50.30,8.60 C50.53,6.22 52.68,4.10 54.60,2.90 C56.52,1.70 59.40,1.40 61.80,1.40 C64.20,1.40 67.47,1.22 69.00,2.90 C70.53,4.58 71.25,8.87 71.00,11.50 C70.75,14.13 69.28,17.27 67.50,18.70 C65.72,20.13 62.68,20.35 60.30,20.10 C57.92,19.85 54.87,19.12 53.20,17.20 C51.53,15.28 50.07,10.98 50.30,8.60 Z" fill="none" stroke="#c8c814" stroke-width="0.7" opacity="0.18"/>
<path d="M33.00,28.70 C33.37,26.67 35.23,24.77 37.40,23.70 C39.57,22.63 43.37,22.18 46.00,22.30 C48.63,22.42 51.77,22.85 53.20,24.40 C54.63,25.95 55.08,29.43 54.60,31.60 C54.12,33.77 52.45,36.20 50.30,37.40 C48.15,38.60 44.22,39.05 41.70,38.80 C39.18,38.55 36.65,37.58 35.20,35.90 C33.75,34.22 32.63,30.73 33.00,28.70 Z" fill="none" stroke="#c8c814" stroke-width="0.7" opacity="0.18"/>
<path d="M58.20,28.70 C58.92,26.42 61.07,24.65 63.20,23.70 C65.33,22.75 69.70,20.00 71.00,23.00 C72.30,26.00 72.30,38.70 71.00,41.70 C69.70,44.70 65.22,41.72 63.20,41.00 C61.18,40.28 59.73,39.45 58.90,37.40 C58.07,35.35 57.48,30.98 58.20,28.70 Z" fill="none" stroke="#c8c814" stroke-width="0.7" opacity="0.16"/>
<path d="M-2.00,-1.00 C-0.47,-5.07 5.43,1.50 7.20,4.30 C8.97,7.10 8.85,12.20 8.60,15.80 C8.35,19.40 7.47,23.75 5.70,25.90 C3.93,28.05 -0.72,33.18 -2.00,28.70 C-3.28,24.22 -3.53,3.07 -2.00,-1.00 Z" fill="none" stroke="#c8c814" stroke-width="0.7" opacity="0.14"/>
<path d="M1.40,54.60 C2.12,52.82 3.78,50.55 5.70,49.60 C7.62,48.65 10.50,48.30 12.90,48.90 C15.30,49.50 18.65,51.30 20.10,53.20 C21.55,55.10 21.83,58.15 21.60,60.30 C21.37,62.45 20.38,64.78 18.70,66.10 C17.02,67.42 13.90,68.20 11.50,68.20 C9.10,68.20 5.98,67.42 4.30,66.10 C2.62,64.78 1.88,62.22 1.40,60.30 C0.92,58.38 0.68,56.38 1.40,54.60 Z" fill="none" stroke="#c8c814" stroke-width="0.7" opacity="0.18"/>
<path d="M30.20,71.00 C28.13,68.75 30.40,60.72 31.60,57.50 C32.80,54.28 35.00,53.38 37.40,51.70 C39.80,50.02 43.40,47.68 46.00,47.40 C48.60,47.12 51.83,48.23 53.00,50.00 C54.17,51.77 53.83,55.33 53.00,58.00 C52.17,60.67 49.50,63.83 48.00,66.00 C46.50,68.17 46.97,70.17 44.00,71.00 C41.03,71.83 32.27,73.25 30.20,71.00 Z" fill="none" stroke="#c8c814" stroke-width="0.7" opacity="0.14"/>
<path d="M43.10,71.00 C39.60,69.67 47.52,65.33 50.00,63.00 C52.48,60.67 55.32,58.40 58.00,57.00 C60.68,55.60 63.93,54.77 66.10,54.60 C68.27,54.43 70.18,53.27 71.00,56.00 C71.82,58.73 75.65,68.50 71.00,71.00 C66.35,73.50 46.60,72.33 43.10,71.00 Z" fill="none" stroke="#c8c814" stroke-width="0.7" opacity="0.14"/>
</g>
<g filter="url(#dc0)">
<rect width="69.60" height="69.00" fill="none"/>
<path d="M8.60,11.50 C8.85,9.35 9.82,5.85 11.50,4.30 C13.18,2.75 16.30,2.20 18.70,2.20 C21.10,2.20 24.23,2.75 25.90,4.30 C27.57,5.85 28.47,9.35 28.70,11.50 C28.93,13.65 28.48,15.65 27.30,17.20 C26.12,18.75 23.75,20.20 21.60,20.80 C19.45,21.40 16.33,21.40 14.40,20.80 C12.47,20.20 10.97,18.75 10.00,17.20 C9.03,15.65 8.35,13.65 8.60,11.50 Z" fill="none" stroke="#c8c814" stroke-width="1.05" opacity="0.60"/>
<path d="M27.30,-1.00 C23.82,0.12 27.50,3.62 28.70,5.70 C29.90,7.78 32.10,10.18 34.50,11.50 C36.90,12.82 40.70,13.60 43.10,13.60 C45.50,13.60 47.70,13.05 48.90,11.50 C50.10,9.95 50.18,6.38 50.30,4.30 C50.42,2.22 53.43,-0.12 49.60,-1.00 C45.77,-1.88 30.78,-2.12 27.30,-1.00 Z" fill="none" stroke="#c8c814" stroke-width="1.05" opacity="0.52"/>
<path d="M50.30,8.60 C50.53,6.22 52.68,4.10 54.60,2.90 C56.52,1.70 59.40,1.40 61.80,1.40 C64.20,1.40 67.47,1.22 69.00,2.90 C70.53,4.58 71.25,8.87 71.00,11.50 C70.75,14.13 69.28,17.27 67.50,18.70 C65.72,20.13 62.68,20.35 60.30,20.10 C57.92,19.85 54.87,19.12 53.20,17.20 C51.53,15.28 50.07,10.98 50.30,8.60 Z" fill="none" stroke="#c8c814" stroke-width="1.05" opacity="0.60"/>
<path d="M33.00,28.70 C33.37,26.67 35.23,24.77 37.40,23.70 C39.57,22.63 43.37,22.18 46.00,22.30 C48.63,22.42 51.77,22.85 53.20,24.40 C54.63,25.95 55.08,29.43 54.60,31.60 C54.12,33.77 52.45,36.20 50.30,37.40 C48.15,38.60 44.22,39.05 41.70,38.80 C39.18,38.55 36.65,37.58 35.20,35.90 C33.75,34.22 32.63,30.73 33.00,28.70 Z" fill="none" stroke="#c8c814" stroke-width="1.05" opacity="0.60"/>
<path d="M58.20,28.70 C58.92,26.42 61.07,24.65 63.20,23.70 C65.33,22.75 69.70,20.00 71.00,23.00 C72.30,26.00 72.30,38.70 71.00,41.70 C69.70,44.70 65.22,41.72 63.20,41.00 C61.18,40.28 59.73,39.45 58.90,37.40 C58.07,35.35 57.48,30.98 58.20,28.70 Z" fill="none" stroke="#c8c814" stroke-width="1.05" opacity="0.52"/>
<path d="M-2.00,-1.00 C-0.47,-5.07 5.43,1.50 7.20,4.30 C8.97,7.10 8.85,12.20 8.60,15.80 C8.35,19.40 7.47,23.75 5.70,25.90 C3.93,28.05 -0.72,33.18 -2.00,28.70 C-3.28,24.22 -3.53,3.07 -2.00,-1.00 Z" fill="none" stroke="#c8c814" stroke-width="1.05" opacity="0.45"/>
<path d="M1.40,54.60 C2.12,52.82 3.78,50.55 5.70,49.60 C7.62,48.65 10.50,48.30 12.90,48.90 C15.30,49.50 18.65,51.30 20.10,53.20 C21.55,55.10 21.83,58.15 21.60,60.30 C21.37,62.45 20.38,64.78 18.70,66.10 C17.02,67.42 13.90,68.20 11.50,68.20 C9.10,68.20 5.98,67.42 4.30,66.10 C2.62,64.78 1.88,62.22 1.40,60.30 C0.92,58.38 0.68,56.38 1.40,54.60 Z" fill="none" stroke="#c8c814" stroke-width="1.05" opacity="0.60"/>
<path d="M30.20,71.00 C28.13,68.75 30.40,60.72 31.60,57.50 C32.80,54.28 35.00,53.38 37.40,51.70 C39.80,50.02 43.40,47.68 46.00,47.40 C48.60,47.12 51.83,48.23 53.00,50.00 C54.17,51.77 53.83,55.33 53.00,58.00 C52.17,60.67 49.50,63.83 48.00,66.00 C46.50,68.17 46.97,70.17 44.00,71.00 C41.03,71.83 32.27,73.25 30.20,71.00 Z" fill="none" stroke="#c8c814" stroke-width="1.05" opacity="0.45"/>
<path d="M43.10,71.00 C39.60,69.67 47.52,65.33 50.00,63.00 C52.48,60.67 55.32,58.40 58.00,57.00 C60.68,55.60 63.93,54.77 66.10,54.60 C68.27,54.43 70.18,53.27 71.00,56.00 C71.82,58.73 75.65,68.50 71.00,71.00 C66.35,73.50 46.60,72.33 43.10,71.00 Z" fill="none" stroke="#c8c814" stroke-width="1.05" opacity="0.45"/>
</g>
<g filter="url(#bk4)">
<rect width="69.60" height="69.00" fill="none"/>
<ellipse cx="29.5" cy="59" rx="2.20" ry="2.60" fill="#c8c814" opacity="0.96"/>
<ellipse cx="38.8" cy="40.2" rx="2.20" ry="2.60" fill="#c8c814" opacity="0.36"/>
<ellipse cx="21" cy="21" rx="1.43" ry="1.69" fill="#c8c814" opacity="0.36"/>
<ellipse cx="22" cy="8" rx="1.32" ry="1.56" fill="#c8c814" opacity="0.60"/>
</g>
<ellipse cx="29.5" cy="59" rx="1.70" ry="2.10" fill="#c8c814" opacity="0.60" filter="url(#bl2)"/>
<ellipse cx="38.8" cy="40.2" rx="1.70" ry="2.10" fill="#c8c814" opacity="0.22" filter="url(#bl2)"/>
<ellipse cx="21" cy="21" rx="1.10" ry="1.37" fill="#c8c814" opacity="0.22" filter="url(#bl2)"/>
<ellipse cx="22" cy="8" rx="1.02" ry="1.26" fill="#c8c814" opacity="0.38" filter="url(#bl2)"/>
</svg>
<svg x="475.50" y="408.50" width="70.10" height="68.60" viewBox="0 0 70.10 68.60" overflow="hidden">
<rect width="69.60" height="69.00" fill="#e41212" opacity="0.16" filter="url(#tx0)"/>
<ellipse cx="37" cy="41" rx="10" ry="5" transform="rotate(-10 37 41)" fill="#e41212" opacity="0.35" filter="url(#cl0)"/>
<ellipse cx="18" cy="45" rx="12" ry="6" transform="rotate(0 18 45)" fill="#e41212" opacity="0.2" filter="url(#cl0)"/>
<ellipse cx="36" cy="55" rx="10" ry="6" transform="rotate(0 36 55)" fill="#e41212" opacity="0.45" filter="url(#cl0)"/>
<g filter="url(#bl)">
<path d="M8.60,11.50 C8.85,9.35 9.82,5.85 11.50,4.30 C13.18,2.75 16.30,2.20 18.70,2.20 C21.10,2.20 24.23,2.75 25.90,4.30 C27.57,5.85 28.47,9.35 28.70,11.50 C28.93,13.65 28.48,15.65 27.30,17.20 C26.12,18.75 23.75,20.20 21.60,20.80 C19.45,21.40 16.33,21.40 14.40,20.80 C12.47,20.20 10.97,18.75 10.00,17.20 C9.03,15.65 8.35,13.65 8.60,11.50 Z" fill="none" stroke="#e41212" stroke-width="0.7" opacity="0.16"/>
<path d="M27.30,-1.00 C23.82,0.12 27.50,3.62 28.70,5.70 C29.90,7.78 32.10,10.18 34.50,11.50 C36.90,12.82 40.70,13.60 43.10,13.60 C45.50,13.60 47.70,13.05 48.90,11.50 C50.10,9.95 50.18,6.38 50.30,4.30 C50.42,2.22 53.43,-0.12 49.60,-1.00 C45.77,-1.88 30.78,-2.12 27.30,-1.00 Z" fill="none" stroke="#e41212" stroke-width="0.7" opacity="0.11"/>
<path d="M50.30,8.60 C50.53,6.22 52.68,4.10 54.60,2.90 C56.52,1.70 59.40,1.40 61.80,1.40 C64.20,1.40 67.47,1.22 69.00,2.90 C70.53,4.58 71.25,8.87 71.00,11.50 C70.75,14.13 69.28,17.27 67.50,18.70 C65.72,20.13 62.68,20.35 60.30,20.10 C57.92,19.85 54.87,19.12 53.20,17.20 C51.53,15.28 50.07,10.98 50.30,8.60 Z" fill="none" stroke="#e41212" stroke-width="0.7" opacity="0.14"/>
<path d="M33.00,28.70 C33.37,26.67 35.23,24.77 37.40,23.70 C39.57,22.63 43.37,22.18 46.00,22.30 C48.63,22.42 51.77,22.85 53.20,24.40 C54.63,25.95 55.08,29.43 54.60,31.60 C54.12,33.77 52.45,36.20 50.30,37.40 C48.15,38.60 44.22,39.05 41.70,38.80 C39.18,38.55 36.65,37.58 35.20,35.90 C33.75,34.22 32.63,30.73 33.00,28.70 Z" fill="none" stroke="#e41212" stroke-width="0.7" opacity="0.16"/>
<path d="M58.20,28.70 C58.92,26.42 61.07,24.65 63.20,23.70 C65.33,22.75 69.70,20.00 71.00,23.00 C72.30,26.00 72.30,38.70 71.00,41.70 C69.70,44.70 65.22,41.72 63.20,41.00 C61.18,40.28 59.73,39.45 58.90,37.40 C58.07,35.35 57.48,30.98 58.20,28.70 Z" fill="none" stroke="#e41212" stroke-width="0.7" opacity="0.14"/>
<path d="M-2.00,-1.00 C-0.47,-5.07 5.43,1.50 7.20,4.30 C8.97,7.10 8.85,12.20 8.60,15.80 C8.35,19.40 7.47,23.75 5.70,25.90 C3.93,28.05 -0.72,33.18 -2.00,28.70 C-3.28,24.22 -3.53,3.07 -2.00,-1.00 Z" fill="none" stroke="#e41212" stroke-width="0.7" opacity="0.07"/>
<path d="M1.40,54.60 C2.12,52.82 3.78,50.55 5.70,49.60 C7.62,48.65 10.50,48.30 12.90,48.90 C15.30,49.50 18.65,51.30 20.10,53.20 C21.55,55.10 21.83,58.15 21.60,60.30 C21.37,62.45 20.38,64.78 18.70,66.10 C17.02,67.42 13.90,68.20 11.50,68.20 C9.10,68.20 5.98,67.42 4.30,66.10 C2.62,64.78 1.88,62.22 1.40,60.30 C0.92,58.38 0.68,56.38 1.40,54.60 Z" fill="none" stroke="#e41212" stroke-width="0.7" opacity="0.16"/>
<path d="M30.20,71.00 C28.13,68.75 30.40,60.72 31.60,57.50 C32.80,54.28 35.00,53.38 37.40,51.70 C39.80,50.02 43.40,47.68 46.00,47.40 C48.60,47.12 51.83,48.23 53.00,50.00 C54.17,51.77 53.83,55.33 53.00,58.00 C52.17,60.67 49.50,63.83 48.00,66.00 C46.50,68.17 46.97,70.17 44.00,71.00 C41.03,71.83 32.27,73.25 30.20,71.00 Z" fill="none" stroke="#e41212" stroke-width="0.7" opacity="0.09"/>
<path d="M43.10,71.00 C39.60,69.67 47.52,65.33 50.00,63.00 C52.48,60.67 55.32,58.40 58.00,57.00 C60.68,55.60 63.93,54.77 66.10,54.60 C68.27,54.43 70.18,53.27 71.00,56.00 C71.82,58.73 75.65,68.50 71.00,71.00 C66.35,73.50 46.60,72.33 43.10,71.00 Z" fill="none" stroke="#e41212" stroke-width="0.7" opacity="0.09"/>
</g>
<g filter="url(#dt1)">
<rect width="69.60" height="69.00" fill="none"/>
<path d="M8.60,11.50 C8.85,9.35 9.82,5.85 11.50,4.30 C13.18,2.75 16.30,2.20 18.70,2.20 C21.10,2.20 24.23,2.75 25.90,4.30 C27.57,5.85 28.47,9.35 28.70,11.50 C28.93,13.65 28.48,15.65 27.30,17.20 C26.12,18.75 23.75,20.20 21.60,20.80 C19.45,21.40 16.33,21.40 14.40,20.80 C12.47,20.20 10.97,18.75 10.00,17.20 C9.03,15.65 8.35,13.65 8.60,11.50 Z" fill="none" stroke="#e41212" stroke-width="1.4" opacity="0.54"/>
<path d="M27.30,-1.00 C23.82,0.12 27.50,3.62 28.70,5.70 C29.90,7.78 32.10,10.18 34.50,11.50 C36.90,12.82 40.70,13.60 43.10,13.60 C45.50,13.60 47.70,13.05 48.90,11.50 C50.10,9.95 50.18,6.38 50.30,4.30 C50.42,2.22 53.43,-0.12 49.60,-1.00 C45.77,-1.88 30.78,-2.12 27.30,-1.00 Z" fill="none" stroke="#e41212" stroke-width="1.4" opacity="0.36"/>
<path d="M50.30,8.60 C50.53,6.22 52.68,4.10 54.60,2.90 C56.52,1.70 59.40,1.40 61.80,1.40 C64.20,1.40 67.47,1.22 69.00,2.90 C70.53,4.58 71.25,8.87 71.00,11.50 C70.75,14.13 69.28,17.27 67.50,18.70 C65.72,20.13 62.68,20.35 60.30,20.10 C57.92,19.85 54.87,19.12 53.20,17.20 C51.53,15.28 50.07,10.98 50.30,8.60 Z" fill="none" stroke="#e41212" stroke-width="1.4" opacity="0.48"/>
<path d="M33.00,28.70 C33.37,26.67 35.23,24.77 37.40,23.70 C39.57,22.63 43.37,22.18 46.00,22.30 C48.63,22.42 51.77,22.85 53.20,24.40 C54.63,25.95 55.08,29.43 54.60,31.60 C54.12,33.77 52.45,36.20 50.30,37.40 C48.15,38.60 44.22,39.05 41.70,38.80 C39.18,38.55 36.65,37.58 35.20,35.90 C33.75,34.22 32.63,30.73 33.00,28.70 Z" fill="none" stroke="#e41212" stroke-width="1.4" opacity="0.54"/>
<path d="M58.20,28.70 C58.92,26.42 61.07,24.65 63.20,23.70 C65.33,22.75 69.70,20.00 71.00,23.00 C72.30,26.00 72.30,38.70 71.00,41.70 C69.70,44.70 65.22,41.72 63.20,41.00 C61.18,40.28 59.73,39.45 58.90,37.40 C58.07,35.35 57.48,30.98 58.20,28.70 Z" fill="none" stroke="#e41212" stroke-width="1.4" opacity="0.48"/>
<path d="M-2.00,-1.00 C-0.47,-5.07 5.43,1.50 7.20,4.30 C8.97,7.10 8.85,12.20 8.60,15.80 C8.35,19.40 7.47,23.75 5.70,25.90 C3.93,28.05 -0.72,33.18 -2.00,28.70 C-3.28,24.22 -3.53,3.07 -2.00,-1.00 Z" fill="none" stroke="#e41212" stroke-width="1.4" opacity="0.24"/>
<path d="M1.40,54.60 C2.12,52.82 3.78,50.55 5.70,49.60 C7.62,48.65 10.50,48.30 12.90,48.90 C15.30,49.50 18.65,51.30 20.10,53.20 C21.55,55.10 21.83,58.15 21.60,60.30 C21.37,62.45 20.38,64.78 18.70,66.10 C17.02,67.42 13.90,68.20 11.50,68.20 C9.10,68.20 5.98,67.42 4.30,66.10 C2.62,64.78 1.88,62.22 1.40,60.30 C0.92,58.38 0.68,56.38 1.40,54.60 Z" fill="none" stroke="#e41212" stroke-width="1.4" opacity="0.54"/>
<path d="M30.20,71.00 C28.13,68.75 30.40,60.72 31.60,57.50 C32.80,54.28 35.00,53.38 37.40,51.70 C39.80,50.02 43.40,47.68 46.00,47.40 C48.60,47.12 51.83,48.23 53.00,50.00 C54.17,51.77 53.83,55.33 53.00,58.00 C52.17,60.67 49.50,63.83 48.00,66.00 C46.50,68.17 46.97,70.17 44.00,71.00 C41.03,71.83 32.27,73.25 30.20,71.00 Z" fill="none" stroke="#e41212" stroke-width="1.4" opacity="0.30"/>
<path d="M43.10,71.00 C39.60,69.67 47.52,65.33 50.00,63.00 C52.48,60.67 55.32,58.40 58.00,57.00 C60.68,55.60 63.93,54.77 66.10,54.60 C68.27,54.43 70.18,53.27 71.00,56.00 C71.82,58.73 75.65,68.50 71.00,71.00 C66.35,73.50 46.60,72.33 43.10,71.00 Z" fill="none" stroke="#e41212" stroke-width="1.4" opacity="0.30"/>
</g>
<g filter="url(#bk0)">
<rect width="69.60" height="69.00" fill="none"/>
<ellipse cx="29.5" cy="59" rx="2.20" ry="2.60" fill="#e41212" opacity="1.00"/>
<ellipse cx="38.8" cy="40.2" rx="2.20" ry="2.60" fill="#e41212" opacity="0.36"/>
<ellipse cx="21" cy="21" rx="1.43" ry="1.69" fill="#e41212" opacity="0.36"/>
<ellipse cx="22" cy="8" rx="1.32" ry="1.56" fill="#e41212" opacity="1.00"/>
</g>
<ellipse cx="29.5" cy="59" rx="1.70" ry="2.10" fill="#e41212" opacity="0.75" filter="url(#bl2)"/>
<ellipse cx="38.8" cy="40.2" rx="1.70" ry="2.10" fill="#e41212" opacity="0.22" filter="url(#bl2)"/>
<ellipse cx="21" cy="21" rx="1.10" ry="1.37" fill="#e41212" opacity="0.22" filter="url(#bl2)"/>
<ellipse cx="22" cy="8" rx="1.02" ry="1.26" fill="#e41212" opacity="0.75" filter="url(#bl2)"/>
</svg>
<svg x="545.60" y="201.00" width="69.90" height="68.80" viewBox="0 0 69.90 68.80" overflow="hidden">
<g filter="url(#bl)">
</g>
<g filter="url(#dd2)">
<rect width="69.60" height="69.00" fill="none"/>
</g>
<g filter="url(#bk3)">
<rect width="69.60" height="69.00" fill="none"/>
</g>
</svg>
<svg x="545.60" y="269.80" width="69.90" height="69.00" viewBox="0 0 69.90 69.00" overflow="hidden">
<rect width="69.60" height="69.00" fill="#1ee01e" opacity="0.06" filter="url(#tx4)"/>
<g filter="url(#bl)">
<path d="M1.40,4.30 C2.12,2.13 3.53,1.75 5.70,1.40 C7.87,1.05 11.88,1.23 14.40,2.20 C16.92,3.17 19.48,5.17 20.80,7.20 C22.12,9.23 22.65,12.25 22.30,14.40 C21.95,16.55 20.50,18.67 18.70,20.10 C16.90,21.53 13.90,22.75 11.50,23.00 C9.10,23.25 5.98,23.03 4.30,21.60 C2.62,20.17 1.88,17.28 1.40,14.40 C0.92,11.52 0.68,6.47 1.40,4.30 Z" fill="none" stroke="#1ee01e" stroke-width="0.7" opacity="0.24"/>
<path d="M26.60,-1.00 C23.85,0.12 26.93,3.98 28.00,5.70 C29.07,7.42 30.97,8.58 33.00,9.30 C35.03,10.02 38.40,10.60 40.20,10.00 C42.00,9.40 43.08,7.53 43.80,5.70 C44.52,3.87 47.37,0.12 44.50,-1.00 C41.63,-2.12 29.35,-2.12 26.60,-1.00 Z" fill="none" stroke="#1ee01e" stroke-width="0.7" opacity="0.19"/>
<path d="M53.20,-1.00 C50.57,0.37 53.18,5.00 53.90,7.20 C54.62,9.40 55.95,11.25 57.50,12.20 C59.05,13.15 61.42,13.50 63.20,12.90 C64.98,12.30 67.12,10.92 68.20,8.60 C69.28,6.28 72.20,0.60 69.70,-1.00 C67.20,-2.60 55.83,-2.37 53.20,-1.00 Z" fill="none" stroke="#1ee01e" stroke-width="0.7" opacity="0.08"/>
<path d="M15.80,23.00 C16.40,21.20 17.95,18.52 20.10,17.20 C22.25,15.88 26.07,15.22 28.70,15.10 C31.33,14.98 34.22,15.18 35.90,16.50 C37.58,17.82 38.68,20.97 38.80,23.00 C38.92,25.03 38.28,27.15 36.60,28.70 C34.92,30.25 31.45,31.82 28.70,32.30 C25.95,32.78 22.13,32.32 20.10,31.60 C18.07,30.88 17.22,29.43 16.50,28.00 C15.78,26.57 15.20,24.80 15.80,23.00 Z" fill="none" stroke="#1ee01e" stroke-width="0.7" opacity="0.17"/>
<path d="M25.90,35.90 C26.25,33.75 27.03,31.05 28.70,29.50 C30.37,27.95 33.50,26.97 35.90,26.60 C38.30,26.23 41.42,26.23 43.10,27.30 C44.78,28.37 45.63,30.85 46.00,33.00 C46.37,35.15 46.27,38.28 45.30,40.20 C44.33,42.12 42.48,43.53 40.20,44.50 C37.92,45.47 33.87,46.35 31.60,46.00 C29.33,45.65 27.55,44.08 26.60,42.40 C25.65,40.72 25.55,38.05 25.90,35.90 Z" fill="none" stroke="#1ee01e" stroke-width="0.7" opacity="0.19"/>
<path d="M49.60,31.60 C50.08,29.20 51.42,24.92 53.20,23.00 C54.98,21.08 57.92,20.10 60.30,20.10 C62.68,20.10 65.93,20.85 67.50,23.00 C69.07,25.15 69.70,29.88 69.70,33.00 C69.70,36.12 69.07,39.78 67.50,41.70 C65.93,43.62 62.68,44.50 60.30,44.50 C57.92,44.50 54.87,42.88 53.20,41.70 C51.53,40.52 50.90,39.08 50.30,37.40 C49.70,35.72 49.12,34.00 49.60,31.60 Z" fill="none" stroke="#1ee01e" stroke-width="0.7" opacity="0.19"/>
<path d="M1.40,24.40 C2.60,21.17 6.43,23.22 8.60,23.70 C10.77,24.18 12.97,25.50 14.40,27.30 C15.83,29.10 17.20,32.10 17.20,34.50 C17.20,36.90 16.07,40.03 14.40,41.70 C12.73,43.37 9.37,44.27 7.20,44.50 C5.03,44.73 2.37,46.45 1.40,43.10 C0.43,39.75 0.20,27.63 1.40,24.40 Z" fill="none" stroke="#1ee01e" stroke-width="0.7" opacity="0.05"/>
<path d="M35.20,48.90 C35.43,46.75 36.77,44.42 38.80,43.10 C40.83,41.78 45.00,40.77 47.40,41.00 C49.80,41.23 52.00,42.72 53.20,44.50 C54.40,46.28 55.08,49.53 54.60,51.70 C54.12,53.87 52.22,56.30 50.30,57.50 C48.38,58.70 45.25,59.15 43.10,58.90 C40.95,58.65 38.72,57.67 37.40,56.00 C36.08,54.33 34.97,51.05 35.20,48.90 Z" fill="none" stroke="#1ee01e" stroke-width="0.7" opacity="0.12"/>
<path d="M1.40,50.30 C2.12,47.80 3.53,46.13 5.70,45.30 C7.87,44.47 12.00,44.70 14.40,45.30 C16.80,45.90 18.78,47.12 20.10,48.90 C21.42,50.68 22.30,53.62 22.30,56.00 C22.30,58.38 21.67,61.28 20.10,63.20 C18.53,65.12 15.53,67.02 12.90,67.50 C10.27,67.98 6.22,67.30 4.30,66.10 C2.38,64.90 1.88,62.93 1.40,60.30 C0.92,57.67 0.68,52.80 1.40,50.30 Z" fill="none" stroke="#1ee01e" stroke-width="0.7" opacity="0.17"/>
<path d="M24.40,60.30 C24.63,57.33 25.62,54.75 27.30,53.20 C28.98,51.65 32.10,50.77 34.50,51.00 C36.90,51.23 40.03,52.80 41.70,54.60 C43.37,56.40 44.27,59.07 44.50,61.80 C44.73,64.53 46.20,69.47 43.10,71.00 C40.00,72.53 29.02,72.78 25.90,71.00 C22.78,69.22 24.17,63.27 24.40,60.30 Z" fill="none" stroke="#1ee01e" stroke-width="0.7" opacity="0.10"/>
<path d="M51.70,63.20 C52.42,61.18 53.83,59.85 56.00,58.90 C58.17,57.95 62.20,57.27 64.70,57.50 C67.20,57.73 69.95,58.05 71.00,60.30 C72.05,62.55 74.22,69.22 71.00,71.00 C67.78,72.78 54.92,72.30 51.70,71.00 C48.48,69.70 50.98,65.22 51.70,63.20 Z" fill="none" stroke="#1ee01e" stroke-width="0.7" opacity="0.06"/>
</g>
<g filter="url(#dc3)">
<rect width="69.60" height="69.00" fill="none"/>
<path d="M1.40,4.30 C2.12,2.13 3.53,1.75 5.70,1.40 C7.87,1.05 11.88,1.23 14.40,2.20 C16.92,3.17 19.48,5.17 20.80,7.20 C22.12,9.23 22.65,12.25 22.30,14.40 C21.95,16.55 20.50,18.67 18.70,20.10 C16.90,21.53 13.90,22.75 11.50,23.00 C9.10,23.25 5.98,23.03 4.30,21.60 C2.62,20.17 1.88,17.28 1.40,14.40 C0.92,11.52 0.68,6.47 1.40,4.30 Z" fill="none" stroke="#1ee01e" stroke-width="1.25" opacity="0.80"/>
<path d="M26.60,-1.00 C23.85,0.12 26.93,3.98 28.00,5.70 C29.07,7.42 30.97,8.58 33.00,9.30 C35.03,10.02 38.40,10.60 40.20,10.00 C42.00,9.40 43.08,7.53 43.80,5.70 C44.52,3.87 47.37,0.12 44.50,-1.00 C41.63,-2.12 29.35,-2.12 26.60,-1.00 Z" fill="none" stroke="#1ee01e" stroke-width="1.25" opacity="0.64"/>
<path d="M53.20,-1.00 C50.57,0.37 53.18,5.00 53.90,7.20 C54.62,9.40 55.95,11.25 57.50,12.20 C59.05,13.15 61.42,13.50 63.20,12.90 C64.98,12.30 67.12,10.92 68.20,8.60 C69.28,6.28 72.20,0.60 69.70,-1.00 C67.20,-2.60 55.83,-2.37 53.20,-1.00 Z" fill="none" stroke="#1ee01e" stroke-width="1.25" opacity="0.28"/>
<path d="M15.80,23.00 C16.40,21.20 17.95,18.52 20.10,17.20 C22.25,15.88 26.07,15.22 28.70,15.10 C31.33,14.98 34.22,15.18 35.90,16.50 C37.58,17.82 38.68,20.97 38.80,23.00 C38.92,25.03 38.28,27.15 36.60,28.70 C34.92,30.25 31.45,31.82 28.70,32.30 C25.95,32.78 22.13,32.32 20.10,31.60 C18.07,30.88 17.22,29.43 16.50,28.00 C15.78,26.57 15.20,24.80 15.80,23.00 Z" fill="none" stroke="#1ee01e" stroke-width="1.25" opacity="0.56"/>
<path d="M25.90,35.90 C26.25,33.75 27.03,31.05 28.70,29.50 C30.37,27.95 33.50,26.97 35.90,26.60 C38.30,26.23 41.42,26.23 43.10,27.30 C44.78,28.37 45.63,30.85 46.00,33.00 C46.37,35.15 46.27,38.28 45.30,40.20 C44.33,42.12 42.48,43.53 40.20,44.50 C37.92,45.47 33.87,46.35 31.60,46.00 C29.33,45.65 27.55,44.08 26.60,42.40 C25.65,40.72 25.55,38.05 25.90,35.90 Z" fill="none" stroke="#1ee01e" stroke-width="1.25" opacity="0.64"/>
<path d="M49.60,31.60 C50.08,29.20 51.42,24.92 53.20,23.00 C54.98,21.08 57.92,20.10 60.30,20.10 C62.68,20.10 65.93,20.85 67.50,23.00 C69.07,25.15 69.70,29.88 69.70,33.00 C69.70,36.12 69.07,39.78 67.50,41.70 C65.93,43.62 62.68,44.50 60.30,44.50 C57.92,44.50 54.87,42.88 53.20,41.70 C51.53,40.52 50.90,39.08 50.30,37.40 C49.70,35.72 49.12,34.00 49.60,31.60 Z" fill="none" stroke="#1ee01e" stroke-width="1.25" opacity="0.64"/>
<path d="M1.40,24.40 C2.60,21.17 6.43,23.22 8.60,23.70 C10.77,24.18 12.97,25.50 14.40,27.30 C15.83,29.10 17.20,32.10 17.20,34.50 C17.20,36.90 16.07,40.03 14.40,41.70 C12.73,43.37 9.37,44.27 7.20,44.50 C5.03,44.73 2.37,46.45 1.40,43.10 C0.43,39.75 0.20,27.63 1.40,24.40 Z" fill="none" stroke="#1ee01e" stroke-width="1.25" opacity="0.16"/>
<path d="M35.20,48.90 C35.43,46.75 36.77,44.42 38.80,43.10 C40.83,41.78 45.00,40.77 47.40,41.00 C49.80,41.23 52.00,42.72 53.20,44.50 C54.40,46.28 55.08,49.53 54.60,51.70 C54.12,53.87 52.22,56.30 50.30,57.50 C48.38,58.70 45.25,59.15 43.10,58.90 C40.95,58.65 38.72,57.67 37.40,56.00 C36.08,54.33 34.97,51.05 35.20,48.90 Z" fill="none" stroke="#1ee01e" stroke-width="1.25" opacity="0.40"/>
<path d="M1.40,50.30 C2.12,47.80 3.53,46.13 5.70,45.30 C7.87,44.47 12.00,44.70 14.40,45.30 C16.80,45.90 18.78,47.12 20.10,48.90 C21.42,50.68 22.30,53.62 22.30,56.00 C22.30,58.38 21.67,61.28 20.10,63.20 C18.53,65.12 15.53,67.02 12.90,67.50 C10.27,67.98 6.22,67.30 4.30,66.10 C2.38,64.90 1.88,62.93 1.40,60.30 C0.92,57.67 0.68,52.80 1.40,50.30 Z" fill="none" stroke="#1ee01e" stroke-width="1.25" opacity="0.56"/>
<path d="M24.40,60.30 C24.63,57.33 25.62,54.75 27.30,53.20 C28.98,51.65 32.10,50.77 34.50,51.00 C36.90,51.23 40.03,52.80 41.70,54.60 C43.37,56.40 44.27,59.07 44.50,61.80 C44.73,64.53 46.20,69.47 43.10,71.00 C40.00,72.53 29.02,72.78 25.90,71.00 C22.78,69.22 24.17,63.27 24.40,60.30 Z" fill="none" stroke="#1ee01e" stroke-width="1.25" opacity="0.32"/>
<path d="M51.70,63.20 C52.42,61.18 53.83,59.85 56.00,58.90 C58.17,57.95 62.20,57.27 64.70,57.50 C67.20,57.73 69.95,58.05 71.00,60.30 C72.05,62.55 74.22,69.22 71.00,71.00 C67.78,72.78 54.92,72.30 51.70,71.00 C48.48,69.70 50.98,65.22 51.70,63.20 Z" fill="none" stroke="#1ee01e" stroke-width="1.25" opacity="0.20"/>
</g>
<g filter="url(#bk4)">
<rect width="69.60" height="69.00" fill="none"/>
<ellipse cx="4.3" cy="33" rx="3.08" ry="3.64" fill="#1ee01e" opacity="0.36"/>
<ellipse cx="14.4" cy="54" rx="1.98" ry="2.34" fill="#1ee01e" opacity="0.36"/>
<ellipse cx="46" cy="50" rx="1.65" ry="1.95" fill="#1ee01e" opacity="0.36"/>
</g>
<ellipse cx="4.3" cy="33" rx="2.38" ry="2.94" fill="#1ee01e" opacity="0.22" filter="url(#bl2)"/>
<ellipse cx="14.4" cy="54" rx="1.53" ry="1.89" fill="#1ee01e" opacity="0.22" filter="url(#bl2)"/>
<ellipse cx="46" cy="50" rx="1.27" ry="1.58" fill="#1ee01e" opacity="0.22" filter="url(#bl2)"/>
</svg>
<svg x="545.60" y="338.80" width="69.90" height="69.70" viewBox="0 0 69.90 69.70" overflow="hidden">
<rect width="69.60" height="69.00" fill="#c8c814" opacity="0.11" filter="url(#tx0)"/>
<g filter="url(#bl)">
<path d="M1.40,4.30 C2.12,2.13 3.53,1.75 5.70,1.40 C7.87,1.05 11.88,1.23 14.40,2.20 C16.92,3.17 19.48,5.17 20.80,7.20 C22.12,9.23 22.65,12.25 22.30,14.40 C21.95,16.55 20.50,18.67 18.70,20.10 C16.90,21.53 13.90,22.75 11.50,23.00 C9.10,23.25 5.98,23.03 4.30,21.60 C2.62,20.17 1.88,17.28 1.40,14.40 C0.92,11.52 0.68,6.47 1.40,4.30 Z" fill="none" stroke="#c8c814" stroke-width="0.7" opacity="0.20"/>
<path d="M26.60,-1.00 C23.85,0.12 26.93,3.98 28.00,5.70 C29.07,7.42 30.97,8.58 33.00,9.30 C35.03,10.02 38.40,10.60 40.20,10.00 C42.00,9.40 43.08,7.53 43.80,5.70 C44.52,3.87 47.37,0.12 44.50,-1.00 C41.63,-2.12 29.35,-2.12 26.60,-1.00 Z" fill="none" stroke="#c8c814" stroke-width="0.7" opacity="0.15"/>
<path d="M53.20,-1.00 C50.57,0.37 53.18,5.00 53.90,7.20 C54.62,9.40 55.95,11.25 57.50,12.20 C59.05,13.15 61.42,13.50 63.20,12.90 C64.98,12.30 67.12,10.92 68.20,8.60 C69.28,6.28 72.20,0.60 69.70,-1.00 C67.20,-2.60 55.83,-2.37 53.20,-1.00 Z" fill="none" stroke="#c8c814" stroke-width="0.7" opacity="0.15"/>
<path d="M15.80,23.00 C16.40,21.20 17.95,18.52 20.10,17.20 C22.25,15.88 26.07,15.22 28.70,15.10 C31.33,14.98 34.22,15.18 35.90,16.50 C37.58,17.82 38.68,20.97 38.80,23.00 C38.92,25.03 38.28,27.15 36.60,28.70 C34.92,30.25 31.45,31.82 28.70,32.30 C25.95,32.78 22.13,32.32 20.10,31.60 C18.07,30.88 17.22,29.43 16.50,28.00 C15.78,26.57 15.20,24.80 15.80,23.00 Z" fill="none" stroke="#c8c814" stroke-width="0.7" opacity="0.20"/>
<path d="M25.90,35.90 C26.25,33.75 27.03,31.05 28.70,29.50 C30.37,27.95 33.50,26.97 35.90,26.60 C38.30,26.23 41.42,26.23 43.10,27.30 C44.78,28.37 45.63,30.85 46.00,33.00 C46.37,35.15 46.27,38.28 45.30,40.20 C44.33,42.12 42.48,43.53 40.20,44.50 C37.92,45.47 33.87,46.35 31.60,46.00 C29.33,45.65 27.55,44.08 26.60,42.40 C25.65,40.72 25.55,38.05 25.90,35.90 Z" fill="none" stroke="#c8c814" stroke-width="0.7" opacity="0.20"/>
<path d="M49.60,31.60 C50.08,29.20 51.42,24.92 53.20,23.00 C54.98,21.08 57.92,20.10 60.30,20.10 C62.68,20.10 65.93,20.85 67.50,23.00 C69.07,25.15 69.70,29.88 69.70,33.00 C69.70,36.12 69.07,39.78 67.50,41.70 C65.93,43.62 62.68,44.50 60.30,44.50 C57.92,44.50 54.87,42.88 53.20,41.70 C51.53,40.52 50.90,39.08 50.30,37.40 C49.70,35.72 49.12,34.00 49.60,31.60 Z" fill="none" stroke="#c8c814" stroke-width="0.7" opacity="0.20"/>
<path d="M1.40,24.40 C2.60,21.17 6.43,23.22 8.60,23.70 C10.77,24.18 12.97,25.50 14.40,27.30 C15.83,29.10 17.20,32.10 17.20,34.50 C17.20,36.90 16.07,40.03 14.40,41.70 C12.73,43.37 9.37,44.27 7.20,44.50 C5.03,44.73 2.37,46.45 1.40,43.10 C0.43,39.75 0.20,27.63 1.40,24.40 Z" fill="none" stroke="#c8c814" stroke-width="0.7" opacity="0.20"/>
<path d="M35.20,48.90 C35.43,46.75 36.77,44.42 38.80,43.10 C40.83,41.78 45.00,40.77 47.40,41.00 C49.80,41.23 52.00,42.72 53.20,44.50 C54.40,46.28 55.08,49.53 54.60,51.70 C54.12,53.87 52.22,56.30 50.30,57.50 C48.38,58.70 45.25,59.15 43.10,58.90 C40.95,58.65 38.72,57.67 37.40,56.00 C36.08,54.33 34.97,51.05 35.20,48.90 Z" fill="none" stroke="#c8c814" stroke-width="0.7" opacity="0.17"/>
<path d="M1.40,50.30 C2.12,47.80 3.53,46.13 5.70,45.30 C7.87,44.47 12.00,44.70 14.40,45.30 C16.80,45.90 18.78,47.12 20.10,48.90 C21.42,50.68 22.30,53.62 22.30,56.00 C22.30,58.38 21.67,61.28 20.10,63.20 C18.53,65.12 15.53,67.02 12.90,67.50 C10.27,67.98 6.22,67.30 4.30,66.10 C2.38,64.90 1.88,62.93 1.40,60.30 C0.92,57.67 0.68,52.80 1.40,50.30 Z" fill="none" stroke="#c8c814" stroke-width="0.7" opacity="0.20"/>
<path d="M24.40,60.30 C24.63,57.33 25.62,54.75 27.30,53.20 C28.98,51.65 32.10,50.77 34.50,51.00 C36.90,51.23 40.03,52.80 41.70,54.60 C43.37,56.40 44.27,59.07 44.50,61.80 C44.73,64.53 46.20,69.47 43.10,71.00 C40.00,72.53 29.02,72.78 25.90,71.00 C22.78,69.22 24.17,63.27 24.40,60.30 Z" fill="none" stroke="#c8c814" stroke-width="0.7" opacity="0.17"/>
<path d="M51.70,63.20 C52.42,61.18 53.83,59.85 56.00,58.90 C58.17,57.95 62.20,57.27 64.70,57.50 C67.20,57.73 69.95,58.05 71.00,60.30 C72.05,62.55 74.22,69.22 71.00,71.00 C67.78,72.78 54.92,72.30 51.70,71.00 C48.48,69.70 50.98,65.22 51.70,63.20 Z" fill="none" stroke="#c8c814" stroke-width="0.7" opacity="0.15"/>
</g>
<g filter="url(#dc4)">
<rect width="69.60" height="69.00" fill="none"/>
<path d="M1.40,4.30 C2.12,2.13 3.53,1.75 5.70,1.40 C7.87,1.05 11.88,1.23 14.40,2.20 C16.92,3.17 19.48,5.17 20.80,7.20 C22.12,9.23 22.65,12.25 22.30,14.40 C21.95,16.55 20.50,18.67 18.70,20.10 C16.90,21.53 13.90,22.75 11.50,23.00 C9.10,23.25 5.98,23.03 4.30,21.60 C2.62,20.17 1.88,17.28 1.40,14.40 C0.92,11.52 0.68,6.47 1.40,4.30 Z" fill="none" stroke="#c8c814" stroke-width="1.05" opacity="0.66"/>
<path d="M26.60,-1.00 C23.85,0.12 26.93,3.98 28.00,5.70 C29.07,7.42 30.97,8.58 33.00,9.30 C35.03,10.02 38.40,10.60 40.20,10.00 C42.00,9.40 43.08,7.53 43.80,5.70 C44.52,3.87 47.37,0.12 44.50,-1.00 C41.63,-2.12 29.35,-2.12 26.60,-1.00 Z" fill="none" stroke="#c8c814" stroke-width="1.05" opacity="0.49"/>
<path d="M53.20,-1.00 C50.57,0.37 53.18,5.00 53.90,7.20 C54.62,9.40 55.95,11.25 57.50,12.20 C59.05,13.15 61.42,13.50 63.20,12.90 C64.98,12.30 67.12,10.92 68.20,8.60 C69.28,6.28 72.20,0.60 69.70,-1.00 C67.20,-2.60 55.83,-2.37 53.20,-1.00 Z" fill="none" stroke="#c8c814" stroke-width="1.05" opacity="0.49"/>
<path d="M15.80,23.00 C16.40,21.20 17.95,18.52 20.10,17.20 C22.25,15.88 26.07,15.22 28.70,15.10 C31.33,14.98 34.22,15.18 35.90,16.50 C37.58,17.82 38.68,20.97 38.80,23.00 C38.92,25.03 38.28,27.15 36.60,28.70 C34.92,30.25 31.45,31.82 28.70,32.30 C25.95,32.78 22.13,32.32 20.10,31.60 C18.07,30.88 17.22,29.43 16.50,28.00 C15.78,26.57 15.20,24.80 15.80,23.00 Z" fill="none" stroke="#c8c814" stroke-width="1.05" opacity="0.66"/>
<path d="M25.90,35.90 C26.25,33.75 27.03,31.05 28.70,29.50 C30.37,27.95 33.50,26.97 35.90,26.60 C38.30,26.23 41.42,26.23 43.10,27.30 C44.78,28.37 45.63,30.85 46.00,33.00 C46.37,35.15 46.27,38.28 45.30,40.20 C44.33,42.12 42.48,43.53 40.20,44.50 C37.92,45.47 33.87,46.35 31.60,46.00 C29.33,45.65 27.55,44.08 26.60,42.40 C25.65,40.72 25.55,38.05 25.90,35.90 Z" fill="none" stroke="#c8c814" stroke-width="1.05" opacity="0.66"/>
<path d="M49.60,31.60 C50.08,29.20 51.42,24.92 53.20,23.00 C54.98,21.08 57.92,20.10 60.30,20.10 C62.68,20.10 65.93,20.85 67.50,23.00 C69.07,25.15 69.70,29.88 69.70,33.00 C69.70,36.12 69.07,39.78 67.50,41.70 C65.93,43.62 62.68,44.50 60.30,44.50 C57.92,44.50 54.87,42.88 53.20,41.70 C51.53,40.52 50.90,39.08 50.30,37.40 C49.70,35.72 49.12,34.00 49.60,31.60 Z" fill="none" stroke="#c8c814" stroke-width="1.05" opacity="0.66"/>
<path d="M1.40,24.40 C2.60,21.17 6.43,23.22 8.60,23.70 C10.77,24.18 12.97,25.50 14.40,27.30 C15.83,29.10 17.20,32.10 17.20,34.50 C17.20,36.90 16.07,40.03 14.40,41.70 C12.73,43.37 9.37,44.27 7.20,44.50 C5.03,44.73 2.37,46.45 1.40,43.10 C0.43,39.75 0.20,27.63 1.40,24.40 Z" fill="none" stroke="#c8c814" stroke-width="1.05" opacity="0.66"/>
<path d="M35.20,48.90 C35.43,46.75 36.77,44.42 38.80,43.10 C40.83,41.78 45.00,40.77 47.40,41.00 C49.80,41.23 52.00,42.72 53.20,44.50 C54.40,46.28 55.08,49.53 54.60,51.70 C54.12,53.87 52.22,56.30 50.30,57.50 C48.38,58.70 45.25,59.15 43.10,58.90 C40.95,58.65 38.72,57.67 37.40,56.00 C36.08,54.33 34.97,51.05 35.20,48.90 Z" fill="none" stroke="#c8c814" stroke-width="1.05" opacity="0.57"/>
<path d="M1.40,50.30 C2.12,47.80 3.53,46.13 5.70,45.30 C7.87,44.47 12.00,44.70 14.40,45.30 C16.80,45.90 18.78,47.12 20.10,48.90 C21.42,50.68 22.30,53.62 22.30,56.00 C22.30,58.38 21.67,61.28 20.10,63.20 C18.53,65.12 15.53,67.02 12.90,67.50 C10.27,67.98 6.22,67.30 4.30,66.10 C2.38,64.90 1.88,62.93 1.40,60.30 C0.92,57.67 0.68,52.80 1.40,50.30 Z" fill="none" stroke="#c8c814" stroke-width="1.05" opacity="0.66"/>
<path d="M24.40,60.30 C24.63,57.33 25.62,54.75 27.30,53.20 C28.98,51.65 32.10,50.77 34.50,51.00 C36.90,51.23 40.03,52.80 41.70,54.60 C43.37,56.40 44.27,59.07 44.50,61.80 C44.73,64.53 46.20,69.47 43.10,71.00 C40.00,72.53 29.02,72.78 25.90,71.00 C22.78,69.22 24.17,63.27 24.40,60.30 Z" fill="none" stroke="#c8c814" stroke-width="1.05" opacity="0.57"/>
<path d="M51.70,63.20 C52.42,61.18 53.83,59.85 56.00,58.90 C58.17,57.95 62.20,57.27 64.70,57.50 C67.20,57.73 69.95,58.05 71.00,60.30 C72.05,62.55 74.22,69.22 71.00,71.00 C67.78,72.78 54.92,72.30 51.70,71.00 C48.48,69.70 50.98,65.22 51.70,63.20 Z" fill="none" stroke="#c8c814" stroke-width="1.05" opacity="0.49"/>
</g>
<g filter="url(#bk0)">
<rect width="69.60" height="69.00" fill="none"/>
<ellipse cx="4.3" cy="33" rx="3.08" ry="3.64" fill="#c8c814" opacity="1.00"/>
<ellipse cx="14.4" cy="54" rx="1.98" ry="2.34" fill="#c8c814" opacity="1.00"/>
<ellipse cx="59" cy="29" rx="1.65" ry="1.95" fill="#c8c814" opacity="0.84"/>
<ellipse cx="46" cy="50" rx="1.65" ry="1.95" fill="#c8c814" opacity="0.84"/>
</g>
<ellipse cx="4.3" cy="33" rx="2.38" ry="2.94" fill="#c8c814" opacity="0.75" filter="url(#bl2)"/>
<ellipse cx="14.4" cy="54" rx="1.53" ry="1.89" fill="#c8c814" opacity="0.75" filter="url(#bl2)"/>
<ellipse cx="59" cy="29" rx="1.27" ry="1.58" fill="#c8c814" opacity="0.52" filter="url(#bl2)"/>
<ellipse cx="46" cy="50" rx="1.27" ry="1.58" fill="#c8c814" opacity="0.52" filter="url(#bl2)"/>
</svg>
<svg x="545.60" y="408.50" width="69.90" height="68.60" viewBox="0 0 69.90 68.60" overflow="hidden">
<rect width="69.60" height="69.00" fill="#e41212" opacity="0.12" filter="url(#tx1)"/>
<g filter="url(#bl)">
<path d="M1.40,4.30 C2.12,2.13 3.53,1.75 5.70,1.40 C7.87,1.05 11.88,1.23 14.40,2.20 C16.92,3.17 19.48,5.17 20.80,7.20 C22.12,9.23 22.65,12.25 22.30,14.40 C21.95,16.55 20.50,18.67 18.70,20.10 C16.90,21.53 13.90,22.75 11.50,23.00 C9.10,23.25 5.98,23.03 4.30,21.60 C2.62,20.17 1.88,17.28 1.40,14.40 C0.92,11.52 0.68,6.47 1.40,4.30 Z" fill="none" stroke="#e41212" stroke-width="0.7" opacity="0.32"/>
<path d="M26.60,-1.00 C23.85,0.12 26.93,3.98 28.00,5.70 C29.07,7.42 30.97,8.58 33.00,9.30 C35.03,10.02 38.40,10.60 40.20,10.00 C42.00,9.40 43.08,7.53 43.80,5.70 C44.52,3.87 47.37,0.12 44.50,-1.00 C41.63,-2.12 29.35,-2.12 26.60,-1.00 Z" fill="none" stroke="#e41212" stroke-width="0.7" opacity="0.28"/>
<path d="M53.20,-1.00 C50.57,0.37 53.18,5.00 53.90,7.20 C54.62,9.40 55.95,11.25 57.50,12.20 C59.05,13.15 61.42,13.50 63.20,12.90 C64.98,12.30 67.12,10.92 68.20,8.60 C69.28,6.28 72.20,0.60 69.70,-1.00 C67.20,-2.60 55.83,-2.37 53.20,-1.00 Z" fill="none" stroke="#e41212" stroke-width="0.7" opacity="0.22"/>
<path d="M15.80,23.00 C16.40,21.20 17.95,18.52 20.10,17.20 C22.25,15.88 26.07,15.22 28.70,15.10 C31.33,14.98 34.22,15.18 35.90,16.50 C37.58,17.82 38.68,20.97 38.80,23.00 C38.92,25.03 38.28,27.15 36.60,28.70 C34.92,30.25 31.45,31.82 28.70,32.30 C25.95,32.78 22.13,32.32 20.10,31.60 C18.07,30.88 17.22,29.43 16.50,28.00 C15.78,26.57 15.20,24.80 15.80,23.00 Z" fill="none" stroke="#e41212" stroke-width="0.7" opacity="0.28"/>
<path d="M25.90,35.90 C26.25,33.75 27.03,31.05 28.70,29.50 C30.37,27.95 33.50,26.97 35.90,26.60 C38.30,26.23 41.42,26.23 43.10,27.30 C44.78,28.37 45.63,30.85 46.00,33.00 C46.37,35.15 46.27,38.28 45.30,40.20 C44.33,42.12 42.48,43.53 40.20,44.50 C37.92,45.47 33.87,46.35 31.60,46.00 C29.33,45.65 27.55,44.08 26.60,42.40 C25.65,40.72 25.55,38.05 25.90,35.90 Z" fill="none" stroke="#e41212" stroke-width="0.7" opacity="0.32"/>
<path d="M49.60,31.60 C50.08,29.20 51.42,24.92 53.20,23.00 C54.98,21.08 57.92,20.10 60.30,20.10 C62.68,20.10 65.93,20.85 67.50,23.00 C69.07,25.15 69.70,29.88 69.70,33.00 C69.70,36.12 69.07,39.78 67.50,41.70 C65.93,43.62 62.68,44.50 60.30,44.50 C57.92,44.50 54.87,42.88 53.20,41.70 C51.53,40.52 50.90,39.08 50.30,37.40 C49.70,35.72 49.12,34.00 49.60,31.60 Z" fill="none" stroke="#e41212" stroke-width="0.7" opacity="0.32"/>
<path d="M1.40,24.40 C2.60,21.17 6.43,23.22 8.60,23.70 C10.77,24.18 12.97,25.50 14.40,27.30 C15.83,29.10 17.20,32.10 17.20,34.50 C17.20,36.90 16.07,40.03 14.40,41.70 C12.73,43.37 9.37,44.27 7.20,44.50 C5.03,44.73 2.37,46.45 1.40,43.10 C0.43,39.75 0.20,27.63 1.40,24.40 Z" fill="none" stroke="#e41212" stroke-width="0.7" opacity="0.25"/>
<path d="M35.20,48.90 C35.43,46.75 36.77,44.42 38.80,43.10 C40.83,41.78 45.00,40.77 47.40,41.00 C49.80,41.23 52.00,42.72 53.20,44.50 C54.40,46.28 55.08,49.53 54.60,51.70 C54.12,53.87 52.22,56.30 50.30,57.50 C48.38,58.70 45.25,59.15 43.10,58.90 C40.95,58.65 38.72,57.67 37.40,56.00 C36.08,54.33 34.97,51.05 35.20,48.90 Z" fill="none" stroke="#e41212" stroke-width="0.7" opacity="0.28"/>
<path d="M1.40,50.30 C2.12,47.80 3.53,46.13 5.70,45.30 C7.87,44.47 12.00,44.70 14.40,45.30 C16.80,45.90 18.78,47.12 20.10,48.90 C21.42,50.68 22.30,53.62 22.30,56.00 C22.30,58.38 21.67,61.28 20.10,63.20 C18.53,65.12 15.53,67.02 12.90,67.50 C10.27,67.98 6.22,67.30 4.30,66.10 C2.38,64.90 1.88,62.93 1.40,60.30 C0.92,57.67 0.68,52.80 1.40,50.30 Z" fill="none" stroke="#e41212" stroke-width="0.7" opacity="0.28"/>
<path d="M24.40,60.30 C24.63,57.33 25.62,54.75 27.30,53.20 C28.98,51.65 32.10,50.77 34.50,51.00 C36.90,51.23 40.03,52.80 41.70,54.60 C43.37,56.40 44.27,59.07 44.50,61.80 C44.73,64.53 46.20,69.47 43.10,71.00 C40.00,72.53 29.02,72.78 25.90,71.00 C22.78,69.22 24.17,63.27 24.40,60.30 Z" fill="none" stroke="#e41212" stroke-width="0.7" opacity="0.28"/>
<path d="M51.70,63.20 C52.42,61.18 53.83,59.85 56.00,58.90 C58.17,57.95 62.20,57.27 64.70,57.50 C67.20,57.73 69.95,58.05 71.00,60.30 C72.05,62.55 74.22,69.22 71.00,71.00 C67.78,72.78 54.92,72.30 51.70,71.00 C48.48,69.70 50.98,65.22 51.70,63.20 Z" fill="none" stroke="#e41212" stroke-width="0.7" opacity="0.22"/>
</g>
<g filter="url(#dc0)">
<rect width="69.60" height="69.00" fill="none"/>
<path d="M1.40,4.30 C2.12,2.13 3.53,1.75 5.70,1.40 C7.87,1.05 11.88,1.23 14.40,2.20 C16.92,3.17 19.48,5.17 20.80,7.20 C22.12,9.23 22.65,12.25 22.30,14.40 C21.95,16.55 20.50,18.67 18.70,20.10 C16.90,21.53 13.90,22.75 11.50,23.00 C9.10,23.25 5.98,23.03 4.30,21.60 C2.62,20.17 1.88,17.28 1.40,14.40 C0.92,11.52 0.68,6.47 1.40,4.30 Z" fill="none" stroke="#e41212" stroke-width="1.4" opacity="1.00"/>
<path d="M26.60,-1.00 C23.85,0.12 26.93,3.98 28.00,5.70 C29.07,7.42 30.97,8.58 33.00,9.30 C35.03,10.02 38.40,10.60 40.20,10.00 C42.00,9.40 43.08,7.53 43.80,5.70 C44.52,3.87 47.37,0.12 44.50,-1.00 C41.63,-2.12 29.35,-2.12 26.60,-1.00 Z" fill="none" stroke="#e41212" stroke-width="1.4" opacity="0.95"/>
<path d="M53.20,-1.00 C50.57,0.37 53.18,5.00 53.90,7.20 C54.62,9.40 55.95,11.25 57.50,12.20 C59.05,13.15 61.42,13.50 63.20,12.90 C64.98,12.30 67.12,10.92 68.20,8.60 C69.28,6.28 72.20,0.60 69.70,-1.00 C67.20,-2.60 55.83,-2.37 53.20,-1.00 Z" fill="none" stroke="#e41212" stroke-width="1.4" opacity="0.73"/>
<path d="M15.80,23.00 C16.40,21.20 17.95,18.52 20.10,17.20 C22.25,15.88 26.07,15.22 28.70,15.10 C31.33,14.98 34.22,15.18 35.90,16.50 C37.58,17.82 38.68,20.97 38.80,23.00 C38.92,25.03 38.28,27.15 36.60,28.70 C34.92,30.25 31.45,31.82 28.70,32.30 C25.95,32.78 22.13,32.32 20.10,31.60 C18.07,30.88 17.22,29.43 16.50,28.00 C15.78,26.57 15.20,24.80 15.80,23.00 Z" fill="none" stroke="#e41212" stroke-width="1.4" opacity="0.95"/>
<path d="M25.90,35.90 C26.25,33.75 27.03,31.05 28.70,29.50 C30.37,27.95 33.50,26.97 35.90,26.60 C38.30,26.23 41.42,26.23 43.10,27.30 C44.78,28.37 45.63,30.85 46.00,33.00 C46.37,35.15 46.27,38.28 45.30,40.20 C44.33,42.12 42.48,43.53 40.20,44.50 C37.92,45.47 33.87,46.35 31.60,46.00 C29.33,45.65 27.55,44.08 26.60,42.40 C25.65,40.72 25.55,38.05 25.90,35.90 Z" fill="none" stroke="#e41212" stroke-width="1.4" opacity="1.00"/>
<path d="M49.60,31.60 C50.08,29.20 51.42,24.92 53.20,23.00 C54.98,21.08 57.92,20.10 60.30,20.10 C62.68,20.10 65.93,20.85 67.50,23.00 C69.07,25.15 69.70,29.88 69.70,33.00 C69.70,36.12 69.07,39.78 67.50,41.70 C65.93,43.62 62.68,44.50 60.30,44.50 C57.92,44.50 54.87,42.88 53.20,41.70 C51.53,40.52 50.90,39.08 50.30,37.40 C49.70,35.72 49.12,34.00 49.60,31.60 Z" fill="none" stroke="#e41212" stroke-width="1.4" opacity="1.00"/>
<path d="M1.40,24.40 C2.60,21.17 6.43,23.22 8.60,23.70 C10.77,24.18 12.97,25.50 14.40,27.30 C15.83,29.10 17.20,32.10 17.20,34.50 C17.20,36.90 16.07,40.03 14.40,41.70 C12.73,43.37 9.37,44.27 7.20,44.50 C5.03,44.73 2.37,46.45 1.40,43.10 C0.43,39.75 0.20,27.63 1.40,24.40 Z" fill="none" stroke="#e41212" stroke-width="1.4" opacity="0.84"/>
<path d="M35.20,48.90 C35.43,46.75 36.77,44.42 38.80,43.10 C40.83,41.78 45.00,40.77 47.40,41.00 C49.80,41.23 52.00,42.72 53.20,44.50 C54.40,46.28 55.08,49.53 54.60,51.70 C54.12,53.87 52.22,56.30 50.30,57.50 C48.38,58.70 45.25,59.15 43.10,58.90 C40.95,58.65 38.72,57.67 37.40,56.00 C36.08,54.33 34.97,51.05 35.20,48.90 Z" fill="none" stroke="#e41212" stroke-width="1.4" opacity="0.95"/>
<path d="M1.40,50.30 C2.12,47.80 3.53,46.13 5.70,45.30 C7.87,44.47 12.00,44.70 14.40,45.30 C16.80,45.90 18.78,47.12 20.10,48.90 C21.42,50.68 22.30,53.62 22.30,56.00 C22.30,58.38 21.67,61.28 20.10,63.20 C18.53,65.12 15.53,67.02 12.90,67.50 C10.27,67.98 6.22,67.30 4.30,66.10 C2.38,64.90 1.88,62.93 1.40,60.30 C0.92,57.67 0.68,52.80 1.40,50.30 Z" fill="none" stroke="#e41212" stroke-width="1.4" opacity="0.95"/>
<path d="M24.40,60.30 C24.63,57.33 25.62,54.75 27.30,53.20 C28.98,51.65 32.10,50.77 34.50,51.00 C36.90,51.23 40.03,52.80 41.70,54.60 C43.37,56.40 44.27,59.07 44.50,61.80 C44.73,64.53 46.20,69.47 43.10,71.00 C40.00,72.53 29.02,72.78 25.90,71.00 C22.78,69.22 24.17,63.27 24.40,60.30 Z" fill="none" stroke="#e41212" stroke-width="1.4" opacity="0.95"/>
<path d="M51.70,63.20 C52.42,61.18 53.83,59.85 56.00,58.90 C58.17,57.95 62.20,57.27 64.70,57.50 C67.20,57.73 69.95,58.05 71.00,60.30 C72.05,62.55 74.22,69.22 71.00,71.00 C67.78,72.78 54.92,72.30 51.70,71.00 C48.48,69.70 50.98,65.22 51.70,63.20 Z" fill="none" stroke="#e41212" stroke-width="1.4" opacity="0.73"/>
</g>
<g filter="url(#bk1)">
<rect width="69.60" height="69.00" fill="none"/>
<ellipse cx="4.3" cy="33" rx="3.08" ry="3.64" fill="#e41212" opacity="1.00"/>
<ellipse cx="14.4" cy="54" rx="1.98" ry="2.34" fill="#e41212" opacity="1.00"/>
<ellipse cx="59" cy="29" rx="1.65" ry="1.95" fill="#e41212" opacity="0.96"/>
<ellipse cx="46" cy="50" rx="1.65" ry="1.95" fill="#e41212" opacity="1.00"/>
</g>
<ellipse cx="4.3" cy="33" rx="2.38" ry="2.94" fill="#e41212" opacity="0.75" filter="url(#bl2)"/>
<ellipse cx="14.4" cy="54" rx="1.53" ry="1.89" fill="#e41212" opacity="0.75" filter="url(#bl2)"/>
<ellipse cx="59" cy="29" rx="1.27" ry="1.58" fill="#e41212" opacity="0.60" filter="url(#bl2)"/>
<ellipse cx="46" cy="50" rx="1.27" ry="1.58" fill="#e41212" opacity="0.75" filter="url(#bl2)"/>
</svg>
<svg x="615.50" y="201.00" width="69.50" height="68.80" viewBox="0 0 69.50 68.80" overflow="hidden">
<g filter="url(#bl)">
</g>
<g filter="url(#dd1)">
<rect width="69.60" height="69.00" fill="none"/>
</g>
<g filter="url(#bk4)">
<rect width="69.60" height="69.00" fill="none"/>
</g>
</svg>
<svg x="615.50" y="269.80" width="69.50" height="69.00" viewBox="0 0 69.50 69.00" overflow="hidden">
<rect width="69.60" height="69.00" fill="#1ee01e" opacity="0.06" filter="url(#tx0)"/>
<ellipse cx="11.5" cy="34" rx="5" ry="6" transform="rotate(0 11.5 34)" fill="#1ee01e" opacity="0.6" filter="url(#cl0)"/>
<ellipse cx="62" cy="13.5" rx="3.5" ry="4.5" transform="rotate(0 62 13.5)" fill="#1ee01e" opacity="0.5" filter="url(#cl0)"/>
<g filter="url(#bl)">
<path d="M1.40,2.90 C2.60,0.90 5.72,-0.25 8.60,-0.50 C11.48,-0.75 16.30,0.12 18.70,1.40 C21.10,2.68 22.52,4.80 23.00,7.20 C23.48,9.60 23.03,13.88 21.60,15.80 C20.17,17.72 17.05,18.47 14.40,18.70 C11.75,18.93 7.87,18.40 5.70,17.20 C3.53,16.00 2.12,13.88 1.40,11.50 C0.68,9.12 0.20,4.90 1.40,2.90 Z" fill="none" stroke="#1ee01e" stroke-width="0.7" opacity="0.10"/>
<path d="M35.90,-1.00 C32.08,-0.12 36.20,3.18 37.40,4.30 C38.60,5.42 40.23,5.70 43.10,5.70 C45.97,5.70 51.73,5.42 54.60,4.30 C57.47,3.18 63.42,-0.12 60.30,-1.00 C57.18,-1.88 39.72,-1.88 35.90,-1.00 Z" fill="none" stroke="#1ee01e" stroke-width="0.7" opacity="0.07"/>
<path d="M28.70,15.80 C29.53,14.00 31.08,12.92 33.00,12.20 C34.92,11.48 38.40,10.67 40.20,11.50 C42.00,12.33 43.32,14.80 43.80,17.20 C44.28,19.60 43.70,23.27 43.10,25.90 C42.50,28.53 41.40,31.57 40.20,33.00 C39.00,34.43 37.45,34.97 35.90,34.50 C34.35,34.03 32.22,32.12 30.90,30.20 C29.58,28.28 28.37,25.40 28.00,23.00 C27.63,20.60 27.87,17.60 28.70,15.80 Z" fill="none" stroke="#1ee01e" stroke-width="0.7" opacity="0.07"/>
<path d="M40.20,11.50 C40.57,10.18 44.08,9.30 46.00,9.30 C47.92,9.30 50.15,9.70 51.70,11.50 C53.25,13.30 54.82,16.98 55.30,20.10 C55.78,23.22 55.43,27.57 54.60,30.20 C53.77,32.83 52.22,34.95 50.30,35.90 C48.38,36.85 44.78,36.38 43.10,35.90 C41.42,35.42 40.20,34.67 40.20,33.00 C40.20,31.33 42.50,28.53 43.10,25.90 C43.70,23.27 44.28,19.60 43.80,17.20 C43.32,14.80 39.83,12.82 40.20,11.50 Z" fill="none" stroke="#1ee01e" stroke-width="0.7" opacity="0.19"/>
<path d="M53.90,8.60 C54.15,5.60 55.70,4.55 57.50,3.60 C59.30,2.65 62.78,2.07 64.70,2.90 C66.62,3.73 68.17,5.73 69.00,8.60 C69.83,11.47 70.18,17.10 69.70,20.10 C69.22,23.10 67.67,25.40 66.10,26.60 C64.53,27.80 61.98,28.13 60.30,27.30 C58.62,26.47 57.07,24.72 56.00,21.60 C54.93,18.48 53.65,11.60 53.90,8.60 Z" fill="none" stroke="#1ee01e" stroke-width="0.7" opacity="0.10"/>
<path d="M2.90,24.40 C3.62,22.00 5.28,20.57 7.20,20.10 C9.12,19.63 12.00,20.17 14.40,21.60 C16.80,23.03 19.57,26.07 21.60,28.70 C23.63,31.33 25.65,34.52 26.60,37.40 C27.55,40.28 27.90,43.85 27.30,46.00 C26.70,48.15 25.15,49.82 23.00,50.30 C20.85,50.78 17.03,50.10 14.40,48.90 C11.77,47.70 9.12,45.50 7.20,43.10 C5.28,40.70 3.62,37.62 2.90,34.50 C2.18,31.38 2.18,26.80 2.90,24.40 Z" fill="none" stroke="#1ee01e" stroke-width="0.7" opacity="0.12"/>
<path d="M23.00,25.90 C23.83,24.95 26.30,25.87 28.70,27.30 C31.10,28.73 34.28,32.35 37.40,34.50 C40.52,36.65 44.42,38.28 47.40,40.20 C50.38,42.12 54.10,44.08 55.30,46.00 C56.50,47.92 56.15,50.50 54.60,51.70 C53.05,52.90 48.87,53.67 46.00,53.20 C43.13,52.73 40.28,50.82 37.40,48.90 C34.52,46.98 30.98,44.35 28.70,41.70 C26.42,39.05 24.65,35.63 23.70,33.00 C22.75,30.37 22.17,26.85 23.00,25.90 Z" fill="none" stroke="#1ee01e" stroke-width="0.7" opacity="0.19"/>
<path d="M54.60,34.50 C55.55,32.47 58.15,30.22 60.30,29.50 C62.45,28.78 65.88,28.88 67.50,30.20 C69.12,31.52 69.75,34.53 70.00,37.40 C70.25,40.27 70.13,45.25 69.00,47.40 C67.87,49.55 65.23,50.30 63.20,50.30 C61.17,50.30 58.23,48.83 56.80,47.40 C55.37,45.97 54.97,43.85 54.60,41.70 C54.23,39.55 53.65,36.53 54.60,34.50 Z" fill="none" stroke="#1ee01e" stroke-width="0.7" opacity="0.08"/>
<path d="M12.90,57.50 C13.50,55.82 14.57,52.90 17.20,51.70 C19.83,50.50 24.87,50.05 28.70,50.30 C32.53,50.55 37.68,51.53 40.20,53.20 C42.72,54.87 43.80,58.15 43.80,60.30 C43.80,62.45 42.72,64.90 40.20,66.10 C37.68,67.30 32.53,67.50 28.70,67.50 C24.87,67.50 19.72,67.05 17.20,66.10 C14.68,65.15 14.32,63.23 13.60,61.80 C12.88,60.37 12.30,59.18 12.90,57.50 Z" fill="none" stroke="#1ee01e" stroke-width="0.7" opacity="0.22"/>
<path d="M50.30,67.50 C51.02,65.72 52.68,62.45 54.60,60.30 C56.52,58.15 59.65,55.67 61.80,54.60 C63.95,53.53 65.97,53.42 67.50,53.90 C69.03,54.38 70.42,54.65 71.00,57.50 C71.58,60.35 74.45,68.75 71.00,71.00 C67.55,73.25 53.75,71.58 50.30,71.00 C46.85,70.42 49.58,69.28 50.30,67.50 Z" fill="none" stroke="#1ee01e" stroke-width="0.7" opacity="0.04"/>
<path d="M-2.00,42.00 C-1.43,39.42 0.12,43.12 1.40,44.50 C2.68,45.88 4.73,47.67 5.70,50.30 C6.67,52.93 7.43,57.43 7.20,60.30 C6.97,63.17 5.50,66.05 4.30,67.50 C3.10,68.95 1.05,70.25 0.00,69.00 C-1.05,67.75 -1.67,64.50 -2.00,60.00 C-2.33,55.50 -2.57,44.58 -2.00,42.00 Z" fill="none" stroke="#1ee01e" stroke-width="0.7" opacity="0.04"/>
</g>
<g filter="url(#dc2)">
<rect width="69.60" height="69.00" fill="none"/>
<path d="M1.40,2.90 C2.60,0.90 5.72,-0.25 8.60,-0.50 C11.48,-0.75 16.30,0.12 18.70,1.40 C21.10,2.68 22.52,4.80 23.00,7.20 C23.48,9.60 23.03,13.88 21.60,15.80 C20.17,17.72 17.05,18.47 14.40,18.70 C11.75,18.93 7.87,18.40 5.70,17.20 C3.53,16.00 2.12,13.88 1.40,11.50 C0.68,9.12 0.20,4.90 1.40,2.90 Z" fill="none" stroke="#1ee01e" stroke-width="1.25" opacity="0.34"/>
<path d="M35.90,-1.00 C32.08,-0.12 36.20,3.18 37.40,4.30 C38.60,5.42 40.23,5.70 43.10,5.70 C45.97,5.70 51.73,5.42 54.60,4.30 C57.47,3.18 63.42,-0.12 60.30,-1.00 C57.18,-1.88 39.72,-1.88 35.90,-1.00 Z" fill="none" stroke="#1ee01e" stroke-width="1.25" opacity="0.22"/>
<path d="M28.70,15.80 C29.53,14.00 31.08,12.92 33.00,12.20 C34.92,11.48 38.40,10.67 40.20,11.50 C42.00,12.33 43.32,14.80 43.80,17.20 C44.28,19.60 43.70,23.27 43.10,25.90 C42.50,28.53 41.40,31.57 40.20,33.00 C39.00,34.43 37.45,34.97 35.90,34.50 C34.35,34.03 32.22,32.12 30.90,30.20 C29.58,28.28 28.37,25.40 28.00,23.00 C27.63,20.60 27.87,17.60 28.70,15.80 Z" fill="none" stroke="#1ee01e" stroke-width="1.25" opacity="0.22"/>
<path d="M40.20,11.50 C40.57,10.18 44.08,9.30 46.00,9.30 C47.92,9.30 50.15,9.70 51.70,11.50 C53.25,13.30 54.82,16.98 55.30,20.10 C55.78,23.22 55.43,27.57 54.60,30.20 C53.77,32.83 52.22,34.95 50.30,35.90 C48.38,36.85 44.78,36.38 43.10,35.90 C41.42,35.42 40.20,34.67 40.20,33.00 C40.20,31.33 42.50,28.53 43.10,25.90 C43.70,23.27 44.28,19.60 43.80,17.20 C43.32,14.80 39.83,12.82 40.20,11.50 Z" fill="none" stroke="#1ee01e" stroke-width="1.25" opacity="0.64"/>
<path d="M53.90,8.60 C54.15,5.60 55.70,4.55 57.50,3.60 C59.30,2.65 62.78,2.07 64.70,2.90 C66.62,3.73 68.17,5.73 69.00,8.60 C69.83,11.47 70.18,17.10 69.70,20.10 C69.22,23.10 67.67,25.40 66.10,26.60 C64.53,27.80 61.98,28.13 60.30,27.30 C58.62,26.47 57.07,24.72 56.00,21.60 C54.93,18.48 53.65,11.60 53.90,8.60 Z" fill="none" stroke="#1ee01e" stroke-width="1.25" opacity="0.34"/>
<path d="M2.90,24.40 C3.62,22.00 5.28,20.57 7.20,20.10 C9.12,19.63 12.00,20.17 14.40,21.60 C16.80,23.03 19.57,26.07 21.60,28.70 C23.63,31.33 25.65,34.52 26.60,37.40 C27.55,40.28 27.90,43.85 27.30,46.00 C26.70,48.15 25.15,49.82 23.00,50.30 C20.85,50.78 17.03,50.10 14.40,48.90 C11.77,47.70 9.12,45.50 7.20,43.10 C5.28,40.70 3.62,37.62 2.90,34.50 C2.18,31.38 2.18,26.80 2.90,24.40 Z" fill="none" stroke="#1ee01e" stroke-width="1.25" opacity="0.41"/>
<path d="M23.00,25.90 C23.83,24.95 26.30,25.87 28.70,27.30 C31.10,28.73 34.28,32.35 37.40,34.50 C40.52,36.65 44.42,38.28 47.40,40.20 C50.38,42.12 54.10,44.08 55.30,46.00 C56.50,47.92 56.15,50.50 54.60,51.70 C53.05,52.90 48.87,53.67 46.00,53.20 C43.13,52.73 40.28,50.82 37.40,48.90 C34.52,46.98 30.98,44.35 28.70,41.70 C26.42,39.05 24.65,35.63 23.70,33.00 C22.75,30.37 22.17,26.85 23.00,25.90 Z" fill="none" stroke="#1ee01e" stroke-width="1.25" opacity="0.64"/>
<path d="M54.60,34.50 C55.55,32.47 58.15,30.22 60.30,29.50 C62.45,28.78 65.88,28.88 67.50,30.20 C69.12,31.52 69.75,34.53 70.00,37.40 C70.25,40.27 70.13,45.25 69.00,47.40 C67.87,49.55 65.23,50.30 63.20,50.30 C61.17,50.30 58.23,48.83 56.80,47.40 C55.37,45.97 54.97,43.85 54.60,41.70 C54.23,39.55 53.65,36.53 54.60,34.50 Z" fill="none" stroke="#1ee01e" stroke-width="1.25" opacity="0.26"/>
<path d="M12.90,57.50 C13.50,55.82 14.57,52.90 17.20,51.70 C19.83,50.50 24.87,50.05 28.70,50.30 C32.53,50.55 37.68,51.53 40.20,53.20 C42.72,54.87 43.80,58.15 43.80,60.30 C43.80,62.45 42.72,64.90 40.20,66.10 C37.68,67.30 32.53,67.50 28.70,67.50 C24.87,67.50 19.72,67.05 17.20,66.10 C14.68,65.15 14.32,63.23 13.60,61.80 C12.88,60.37 12.30,59.18 12.90,57.50 Z" fill="none" stroke="#1ee01e" stroke-width="1.25" opacity="0.75"/>
<path d="M50.30,67.50 C51.02,65.72 52.68,62.45 54.60,60.30 C56.52,58.15 59.65,55.67 61.80,54.60 C63.95,53.53 65.97,53.42 67.50,53.90 C69.03,54.38 70.42,54.65 71.00,57.50 C71.58,60.35 74.45,68.75 71.00,71.00 C67.55,73.25 53.75,71.58 50.30,71.00 C46.85,70.42 49.58,69.28 50.30,67.50 Z" fill="none" stroke="#1ee01e" stroke-width="1.25" opacity="0.15"/>
<path d="M-2.00,42.00 C-1.43,39.42 0.12,43.12 1.40,44.50 C2.68,45.88 4.73,47.67 5.70,50.30 C6.67,52.93 7.43,57.43 7.20,60.30 C6.97,63.17 5.50,66.05 4.30,67.50 C3.10,68.95 1.05,70.25 0.00,69.00 C-1.05,67.75 -1.67,64.50 -2.00,60.00 C-2.33,55.50 -2.57,44.58 -2.00,42.00 Z" fill="none" stroke="#1ee01e" stroke-width="1.25" opacity="0.15"/>
</g>
<g filter="url(#bk0)">
<rect width="69.60" height="69.00" fill="none"/>
<ellipse cx="11.5" cy="34.5" rx="3.96" ry="4.68" fill="#1ee01e" opacity="0.48"/>
<ellipse cx="62.5" cy="14.4" rx="2.86" ry="3.38" fill="#1ee01e" opacity="0.48"/>
<ellipse cx="50" cy="35" rx="1.98" ry="2.34" fill="#1ee01e" opacity="1.00"/>
<ellipse cx="38.8" cy="33" rx="1.43" ry="1.69" fill="#1ee01e" opacity="1.00"/>
</g>
<ellipse cx="11.5" cy="34.5" rx="3.06" ry="3.78" fill="#1ee01e" opacity="0.30" filter="url(#bl2)"/>
<ellipse cx="62.5" cy="14.4" rx="2.21" ry="2.73" fill="#1ee01e" opacity="0.30" filter="url(#bl2)"/>
<ellipse cx="50" cy="35" rx="1.53" ry="1.89" fill="#1ee01e" opacity="0.75" filter="url(#bl2)"/>
<ellipse cx="38.8" cy="33" rx="1.10" ry="1.37" fill="#1ee01e" opacity="0.75" filter="url(#bl2)"/>
</svg>
<svg x="615.50" y="338.80" width="69.50" height="69.70" viewBox="0 0 69.50 69.70" overflow="hidden">
<rect width="69.60" height="69.00" fill="#c8c814" opacity="0.11" filter="url(#tx1)"/>
<g filter="url(#bl)">
<path d="M1.40,2.90 C2.60,0.90 5.72,-0.25 8.60,-0.50 C11.48,-0.75 16.30,0.12 18.70,1.40 C21.10,2.68 22.52,4.80 23.00,7.20 C23.48,9.60 23.03,13.88 21.60,15.80 C20.17,17.72 17.05,18.47 14.40,18.70 C11.75,18.93 7.87,18.40 5.70,17.20 C3.53,16.00 2.12,13.88 1.40,11.50 C0.68,9.12 0.20,4.90 1.40,2.90 Z" fill="none" stroke="#c8c814" stroke-width="0.7" opacity="0.21"/>
<path d="M35.90,-1.00 C32.08,-0.12 36.20,3.18 37.40,4.30 C38.60,5.42 40.23,5.70 43.10,5.70 C45.97,5.70 51.73,5.42 54.60,4.30 C57.47,3.18 63.42,-0.12 60.30,-1.00 C57.18,-1.88 39.72,-1.88 35.90,-1.00 Z" fill="none" stroke="#c8c814" stroke-width="0.7" opacity="0.18"/>
<path d="M28.70,15.80 C29.53,14.00 31.08,12.92 33.00,12.20 C34.92,11.48 38.40,10.67 40.20,11.50 C42.00,12.33 43.32,14.80 43.80,17.20 C44.28,19.60 43.70,23.27 43.10,25.90 C42.50,28.53 41.40,31.57 40.20,33.00 C39.00,34.43 37.45,34.97 35.90,34.50 C34.35,34.03 32.22,32.12 30.90,30.20 C29.58,28.28 28.37,25.40 28.00,23.00 C27.63,20.60 27.87,17.60 28.70,15.80 Z" fill="none" stroke="#c8c814" stroke-width="0.7" opacity="0.24"/>
<path d="M40.20,11.50 C40.57,10.18 44.08,9.30 46.00,9.30 C47.92,9.30 50.15,9.70 51.70,11.50 C53.25,13.30 54.82,16.98 55.30,20.10 C55.78,23.22 55.43,27.57 54.60,30.20 C53.77,32.83 52.22,34.95 50.30,35.90 C48.38,36.85 44.78,36.38 43.10,35.90 C41.42,35.42 40.20,34.67 40.20,33.00 C40.20,31.33 42.50,28.53 43.10,25.90 C43.70,23.27 44.28,19.60 43.80,17.20 C43.32,14.80 39.83,12.82 40.20,11.50 Z" fill="none" stroke="#c8c814" stroke-width="0.7" opacity="0.24"/>
<path d="M53.90,8.60 C54.15,5.60 55.70,4.55 57.50,3.60 C59.30,2.65 62.78,2.07 64.70,2.90 C66.62,3.73 68.17,5.73 69.00,8.60 C69.83,11.47 70.18,17.10 69.70,20.10 C69.22,23.10 67.67,25.40 66.10,26.60 C64.53,27.80 61.98,28.13 60.30,27.30 C58.62,26.47 57.07,24.72 56.00,21.60 C54.93,18.48 53.65,11.60 53.90,8.60 Z" fill="none" stroke="#c8c814" stroke-width="0.7" opacity="0.21"/>
<path d="M2.90,24.40 C3.62,22.00 5.28,20.57 7.20,20.10 C9.12,19.63 12.00,20.17 14.40,21.60 C16.80,23.03 19.57,26.07 21.60,28.70 C23.63,31.33 25.65,34.52 26.60,37.40 C27.55,40.28 27.90,43.85 27.30,46.00 C26.70,48.15 25.15,49.82 23.00,50.30 C20.85,50.78 17.03,50.10 14.40,48.90 C11.77,47.70 9.12,45.50 7.20,43.10 C5.28,40.70 3.62,37.62 2.90,34.50 C2.18,31.38 2.18,26.80 2.90,24.40 Z" fill="none" stroke="#c8c814" stroke-width="0.7" opacity="0.24"/>
<path d="M23.00,25.90 C23.83,24.95 26.30,25.87 28.70,27.30 C31.10,28.73 34.28,32.35 37.40,34.50 C40.52,36.65 44.42,38.28 47.40,40.20 C50.38,42.12 54.10,44.08 55.30,46.00 C56.50,47.92 56.15,50.50 54.60,51.70 C53.05,52.90 48.87,53.67 46.00,53.20 C43.13,52.73 40.28,50.82 37.40,48.90 C34.52,46.98 30.98,44.35 28.70,41.70 C26.42,39.05 24.65,35.63 23.70,33.00 C22.75,30.37 22.17,26.85 23.00,25.90 Z" fill="none" stroke="#c8c814" stroke-width="0.7" opacity="0.21"/>
<path d="M54.60,34.50 C55.55,32.47 58.15,30.22 60.30,29.50 C62.45,28.78 65.88,28.88 67.50,30.20 C69.12,31.52 69.75,34.53 70.00,37.40 C70.25,40.27 70.13,45.25 69.00,47.40 C67.87,49.55 65.23,50.30 63.20,50.30 C61.17,50.30 58.23,48.83 56.80,47.40 C55.37,45.97 54.97,43.85 54.60,41.70 C54.23,39.55 53.65,36.53 54.60,34.50 Z" fill="none" stroke="#c8c814" stroke-width="0.7" opacity="0.18"/>
<path d="M12.90,57.50 C13.50,55.82 14.57,52.90 17.20,51.70 C19.83,50.50 24.87,50.05 28.70,50.30 C32.53,50.55 37.68,51.53 40.20,53.20 C42.72,54.87 43.80,58.15 43.80,60.30 C43.80,62.45 42.72,64.90 40.20,66.10 C37.68,67.30 32.53,67.50 28.70,67.50 C24.87,67.50 19.72,67.05 17.20,66.10 C14.68,65.15 14.32,63.23 13.60,61.80 C12.88,60.37 12.30,59.18 12.90,57.50 Z" fill="none" stroke="#c8c814" stroke-width="0.7" opacity="0.24"/>
<path d="M50.30,67.50 C51.02,65.72 52.68,62.45 54.60,60.30 C56.52,58.15 59.65,55.67 61.80,54.60 C63.95,53.53 65.97,53.42 67.50,53.90 C69.03,54.38 70.42,54.65 71.00,57.50 C71.58,60.35 74.45,68.75 71.00,71.00 C67.55,73.25 53.75,71.58 50.30,71.00 C46.85,70.42 49.58,69.28 50.30,67.50 Z" fill="none" stroke="#c8c814" stroke-width="0.7" opacity="0.16"/>
<path d="M-2.00,42.00 C-1.43,39.42 0.12,43.12 1.40,44.50 C2.68,45.88 4.73,47.67 5.70,50.30 C6.67,52.93 7.43,57.43 7.20,60.30 C6.97,63.17 5.50,66.05 4.30,67.50 C3.10,68.95 1.05,70.25 0.00,69.00 C-1.05,67.75 -1.67,64.50 -2.00,60.00 C-2.33,55.50 -2.57,44.58 -2.00,42.00 Z" fill="none" stroke="#c8c814" stroke-width="0.7" opacity="0.16"/>
</g>
<g filter="url(#dc3)">
<rect width="69.60" height="69.00" fill="none"/>
<path d="M1.40,2.90 C2.60,0.90 5.72,-0.25 8.60,-0.50 C11.48,-0.75 16.30,0.12 18.70,1.40 C21.10,2.68 22.52,4.80 23.00,7.20 C23.48,9.60 23.03,13.88 21.60,15.80 C20.17,17.72 17.05,18.47 14.40,18.70 C11.75,18.93 7.87,18.40 5.70,17.20 C3.53,16.00 2.12,13.88 1.40,11.50 C0.68,9.12 0.20,4.90 1.40,2.90 Z" fill="none" stroke="#c8c814" stroke-width="1.05" opacity="0.70"/>
<path d="M35.90,-1.00 C32.08,-0.12 36.20,3.18 37.40,4.30 C38.60,5.42 40.23,5.70 43.10,5.70 C45.97,5.70 51.73,5.42 54.60,4.30 C57.47,3.18 63.42,-0.12 60.30,-1.00 C57.18,-1.88 39.72,-1.88 35.90,-1.00 Z" fill="none" stroke="#c8c814" stroke-width="1.05" opacity="0.62"/>
<path d="M28.70,15.80 C29.53,14.00 31.08,12.92 33.00,12.20 C34.92,11.48 38.40,10.67 40.20,11.50 C42.00,12.33 43.32,14.80 43.80,17.20 C44.28,19.60 43.70,23.27 43.10,25.90 C42.50,28.53 41.40,31.57 40.20,33.00 C39.00,34.43 37.45,34.97 35.90,34.50 C34.35,34.03 32.22,32.12 30.90,30.20 C29.58,28.28 28.37,25.40 28.00,23.00 C27.63,20.60 27.87,17.60 28.70,15.80 Z" fill="none" stroke="#c8c814" stroke-width="1.05" opacity="0.79"/>
<path d="M40.20,11.50 C40.57,10.18 44.08,9.30 46.00,9.30 C47.92,9.30 50.15,9.70 51.70,11.50 C53.25,13.30 54.82,16.98 55.30,20.10 C55.78,23.22 55.43,27.57 54.60,30.20 C53.77,32.83 52.22,34.95 50.30,35.90 C48.38,36.85 44.78,36.38 43.10,35.90 C41.42,35.42 40.20,34.67 40.20,33.00 C40.20,31.33 42.50,28.53 43.10,25.90 C43.70,23.27 44.28,19.60 43.80,17.20 C43.32,14.80 39.83,12.82 40.20,11.50 Z" fill="none" stroke="#c8c814" stroke-width="1.05" opacity="0.79"/>
<path d="M53.90,8.60 C54.15,5.60 55.70,4.55 57.50,3.60 C59.30,2.65 62.78,2.07 64.70,2.90 C66.62,3.73 68.17,5.73 69.00,8.60 C69.83,11.47 70.18,17.10 69.70,20.10 C69.22,23.10 67.67,25.40 66.10,26.60 C64.53,27.80 61.98,28.13 60.30,27.30 C58.62,26.47 57.07,24.72 56.00,21.60 C54.93,18.48 53.65,11.60 53.90,8.60 Z" fill="none" stroke="#c8c814" stroke-width="1.05" opacity="0.70"/>
<path d="M2.90,24.40 C3.62,22.00 5.28,20.57 7.20,20.10 C9.12,19.63 12.00,20.17 14.40,21.60 C16.80,23.03 19.57,26.07 21.60,28.70 C23.63,31.33 25.65,34.52 26.60,37.40 C27.55,40.28 27.90,43.85 27.30,46.00 C26.70,48.15 25.15,49.82 23.00,50.30 C20.85,50.78 17.03,50.10 14.40,48.90 C11.77,47.70 9.12,45.50 7.20,43.10 C5.28,40.70 3.62,37.62 2.90,34.50 C2.18,31.38 2.18,26.80 2.90,24.40 Z" fill="none" stroke="#c8c814" stroke-width="1.05" opacity="0.79"/>
<path d="M23.00,25.90 C23.83,24.95 26.30,25.87 28.70,27.30 C31.10,28.73 34.28,32.35 37.40,34.50 C40.52,36.65 44.42,38.28 47.40,40.20 C50.38,42.12 54.10,44.08 55.30,46.00 C56.50,47.92 56.15,50.50 54.60,51.70 C53.05,52.90 48.87,53.67 46.00,53.20 C43.13,52.73 40.28,50.82 37.40,48.90 C34.52,46.98 30.98,44.35 28.70,41.70 C26.42,39.05 24.65,35.63 23.70,33.00 C22.75,30.37 22.17,26.85 23.00,25.90 Z" fill="none" stroke="#c8c814" stroke-width="1.05" opacity="0.70"/>
<path d="M54.60,34.50 C55.55,32.47 58.15,30.22 60.30,29.50 C62.45,28.78 65.88,28.88 67.50,30.20 C69.12,31.52 69.75,34.53 70.00,37.40 C70.25,40.27 70.13,45.25 69.00,47.40 C67.87,49.55 65.23,50.30 63.20,50.30 C61.17,50.30 58.23,48.83 56.80,47.40 C55.37,45.97 54.97,43.85 54.60,41.70 C54.23,39.55 53.65,36.53 54.60,34.50 Z" fill="none" stroke="#c8c814" stroke-width="1.05" opacity="0.62"/>
<path d="M12.90,57.50 C13.50,55.82 14.57,52.90 17.20,51.70 C19.83,50.50 24.87,50.05 28.70,50.30 C32.53,50.55 37.68,51.53 40.20,53.20 C42.72,54.87 43.80,58.15 43.80,60.30 C43.80,62.45 42.72,64.90 40.20,66.10 C37.68,67.30 32.53,67.50 28.70,67.50 C24.87,67.50 19.72,67.05 17.20,66.10 C14.68,65.15 14.32,63.23 13.60,61.80 C12.88,60.37 12.30,59.18 12.90,57.50 Z" fill="none" stroke="#c8c814" stroke-width="1.05" opacity="0.79"/>
<path d="M50.30,67.50 C51.02,65.72 52.68,62.45 54.60,60.30 C56.52,58.15 59.65,55.67 61.80,54.60 C63.95,53.53 65.97,53.42 67.50,53.90 C69.03,54.38 70.42,54.65 71.00,57.50 C71.58,60.35 74.45,68.75 71.00,71.00 C67.55,73.25 53.75,71.58 50.30,71.00 C46.85,70.42 49.58,69.28 50.30,67.50 Z" fill="none" stroke="#c8c814" stroke-width="1.05" opacity="0.53"/>
<path d="M-2.00,42.00 C-1.43,39.42 0.12,43.12 1.40,44.50 C2.68,45.88 4.73,47.67 5.70,50.30 C6.67,52.93 7.43,57.43 7.20,60.30 C6.97,63.17 5.50,66.05 4.30,67.50 C3.10,68.95 1.05,70.25 0.00,69.00 C-1.05,67.75 -1.67,64.50 -2.00,60.00 C-2.33,55.50 -2.57,44.58 -2.00,42.00 Z" fill="none" stroke="#c8c814" stroke-width="1.05" opacity="0.53"/>
</g>
<g filter="url(#bk1)">
<rect width="69.60" height="69.00" fill="none"/>
<ellipse cx="11.5" cy="34.5" rx="3.96" ry="4.68" fill="#c8c814" opacity="1.00"/>
<ellipse cx="62.5" cy="14.4" rx="2.86" ry="3.38" fill="#c8c814" opacity="1.00"/>
<ellipse cx="50" cy="35" rx="1.98" ry="2.34" fill="#c8c814" opacity="0.48"/>
<ellipse cx="38.8" cy="33" rx="1.43" ry="1.69" fill="#c8c814" opacity="0.36"/>
</g>
<ellipse cx="11.5" cy="34.5" rx="3.06" ry="3.78" fill="#c8c814" opacity="0.75" filter="url(#bl2)"/>
<ellipse cx="62.5" cy="14.4" rx="2.21" ry="2.73" fill="#c8c814" opacity="0.75" filter="url(#bl2)"/>
<ellipse cx="50" cy="35" rx="1.53" ry="1.89" fill="#c8c814" opacity="0.30" filter="url(#bl2)"/>
<ellipse cx="38.8" cy="33" rx="1.10" ry="1.37" fill="#c8c814" opacity="0.22" filter="url(#bl2)"/>
</svg>
<svg x="615.50" y="408.50" width="69.50" height="68.60" viewBox="0 0 69.50 68.60" overflow="hidden">
<rect width="69.60" height="69.00" fill="#e41212" opacity="0.12" filter="url(#tx2)"/>
<g filter="url(#bl)">
<path d="M1.40,2.90 C2.60,0.90 5.72,-0.25 8.60,-0.50 C11.48,-0.75 16.30,0.12 18.70,1.40 C21.10,2.68 22.52,4.80 23.00,7.20 C23.48,9.60 23.03,13.88 21.60,15.80 C20.17,17.72 17.05,18.47 14.40,18.70 C11.75,18.93 7.87,18.40 5.70,17.20 C3.53,16.00 2.12,13.88 1.40,11.50 C0.68,9.12 0.20,4.90 1.40,2.90 Z" fill="none" stroke="#e41212" stroke-width="0.7" opacity="0.24"/>
<path d="M35.90,-1.00 C32.08,-0.12 36.20,3.18 37.40,4.30 C38.60,5.42 40.23,5.70 43.10,5.70 C45.97,5.70 51.73,5.42 54.60,4.30 C57.47,3.18 63.42,-0.12 60.30,-1.00 C57.18,-1.88 39.72,-1.88 35.90,-1.00 Z" fill="none" stroke="#e41212" stroke-width="0.7" opacity="0.18"/>
<path d="M28.70,15.80 C29.53,14.00 31.08,12.92 33.00,12.20 C34.92,11.48 38.40,10.67 40.20,11.50 C42.00,12.33 43.32,14.80 43.80,17.20 C44.28,19.60 43.70,23.27 43.10,25.90 C42.50,28.53 41.40,31.57 40.20,33.00 C39.00,34.43 37.45,34.97 35.90,34.50 C34.35,34.03 32.22,32.12 30.90,30.20 C29.58,28.28 28.37,25.40 28.00,23.00 C27.63,20.60 27.87,17.60 28.70,15.80 Z" fill="none" stroke="#e41212" stroke-width="0.7" opacity="0.27"/>
<path d="M40.20,11.50 C40.57,10.18 44.08,9.30 46.00,9.30 C47.92,9.30 50.15,9.70 51.70,11.50 C53.25,13.30 54.82,16.98 55.30,20.10 C55.78,23.22 55.43,27.57 54.60,30.20 C53.77,32.83 52.22,34.95 50.30,35.90 C48.38,36.85 44.78,36.38 43.10,35.90 C41.42,35.42 40.20,34.67 40.20,33.00 C40.20,31.33 42.50,28.53 43.10,25.90 C43.70,23.27 44.28,19.60 43.80,17.20 C43.32,14.80 39.83,12.82 40.20,11.50 Z" fill="none" stroke="#e41212" stroke-width="0.7" opacity="0.27"/>
<path d="M53.90,8.60 C54.15,5.60 55.70,4.55 57.50,3.60 C59.30,2.65 62.78,2.07 64.70,2.90 C66.62,3.73 68.17,5.73 69.00,8.60 C69.83,11.47 70.18,17.10 69.70,20.10 C69.22,23.10 67.67,25.40 66.10,26.60 C64.53,27.80 61.98,28.13 60.30,27.30 C58.62,26.47 57.07,24.72 56.00,21.60 C54.93,18.48 53.65,11.60 53.90,8.60 Z" fill="none" stroke="#e41212" stroke-width="0.7" opacity="0.24"/>
<path d="M2.90,24.40 C3.62,22.00 5.28,20.57 7.20,20.10 C9.12,19.63 12.00,20.17 14.40,21.60 C16.80,23.03 19.57,26.07 21.60,28.70 C23.63,31.33 25.65,34.52 26.60,37.40 C27.55,40.28 27.90,43.85 27.30,46.00 C26.70,48.15 25.15,49.82 23.00,50.30 C20.85,50.78 17.03,50.10 14.40,48.90 C11.77,47.70 9.12,45.50 7.20,43.10 C5.28,40.70 3.62,37.62 2.90,34.50 C2.18,31.38 2.18,26.80 2.90,24.40 Z" fill="none" stroke="#e41212" stroke-width="0.7" opacity="0.24"/>
<path d="M23.00,25.90 C23.83,24.95 26.30,25.87 28.70,27.30 C31.10,28.73 34.28,32.35 37.40,34.50 C40.52,36.65 44.42,38.28 47.40,40.20 C50.38,42.12 54.10,44.08 55.30,46.00 C56.50,47.92 56.15,50.50 54.60,51.70 C53.05,52.90 48.87,53.67 46.00,53.20 C43.13,52.73 40.28,50.82 37.40,48.90 C34.52,46.98 30.98,44.35 28.70,41.70 C26.42,39.05 24.65,35.63 23.70,33.00 C22.75,30.37 22.17,26.85 23.00,25.90 Z" fill="none" stroke="#e41212" stroke-width="0.7" opacity="0.24"/>
<path d="M54.60,34.50 C55.55,32.47 58.15,30.22 60.30,29.50 C62.45,28.78 65.88,28.88 67.50,30.20 C69.12,31.52 69.75,34.53 70.00,37.40 C70.25,40.27 70.13,45.25 69.00,47.40 C67.87,49.55 65.23,50.30 63.20,50.30 C61.17,50.30 58.23,48.83 56.80,47.40 C55.37,45.97 54.97,43.85 54.60,41.70 C54.23,39.55 53.65,36.53 54.60,34.50 Z" fill="none" stroke="#e41212" stroke-width="0.7" opacity="0.21"/>
<path d="M12.90,57.50 C13.50,55.82 14.57,52.90 17.20,51.70 C19.83,50.50 24.87,50.05 28.70,50.30 C32.53,50.55 37.68,51.53 40.20,53.20 C42.72,54.87 43.80,58.15 43.80,60.30 C43.80,62.45 42.72,64.90 40.20,66.10 C37.68,67.30 32.53,67.50 28.70,67.50 C24.87,67.50 19.72,67.05 17.20,66.10 C14.68,65.15 14.32,63.23 13.60,61.80 C12.88,60.37 12.30,59.18 12.90,57.50 Z" fill="none" stroke="#e41212" stroke-width="0.7" opacity="0.27"/>
<path d="M50.30,67.50 C51.02,65.72 52.68,62.45 54.60,60.30 C56.52,58.15 59.65,55.67 61.80,54.60 C63.95,53.53 65.97,53.42 67.50,53.90 C69.03,54.38 70.42,54.65 71.00,57.50 C71.58,60.35 74.45,68.75 71.00,71.00 C67.55,73.25 53.75,71.58 50.30,71.00 C46.85,70.42 49.58,69.28 50.30,67.50 Z" fill="none" stroke="#e41212" stroke-width="0.7" opacity="0.18"/>
<path d="M-2.00,42.00 C-1.43,39.42 0.12,43.12 1.40,44.50 C2.68,45.88 4.73,47.67 5.70,50.30 C6.67,52.93 7.43,57.43 7.20,60.30 C6.97,63.17 5.50,66.05 4.30,67.50 C3.10,68.95 1.05,70.25 0.00,69.00 C-1.05,67.75 -1.67,64.50 -2.00,60.00 C-2.33,55.50 -2.57,44.58 -2.00,42.00 Z" fill="none" stroke="#e41212" stroke-width="0.7" opacity="0.15"/>
</g>
<g filter="url(#dc4)">
<rect width="69.60" height="69.00" fill="none"/>
<path d="M1.40,2.90 C2.60,0.90 5.72,-0.25 8.60,-0.50 C11.48,-0.75 16.30,0.12 18.70,1.40 C21.10,2.68 22.52,4.80 23.00,7.20 C23.48,9.60 23.03,13.88 21.60,15.80 C20.17,17.72 17.05,18.47 14.40,18.70 C11.75,18.93 7.87,18.40 5.70,17.20 C3.53,16.00 2.12,13.88 1.40,11.50 C0.68,9.12 0.20,4.90 1.40,2.90 Z" fill="none" stroke="#e41212" stroke-width="1.4" opacity="0.80"/>
<path d="M35.90,-1.00 C32.08,-0.12 36.20,3.18 37.40,4.30 C38.60,5.42 40.23,5.70 43.10,5.70 C45.97,5.70 51.73,5.42 54.60,4.30 C57.47,3.18 63.42,-0.12 60.30,-1.00 C57.18,-1.88 39.72,-1.88 35.90,-1.00 Z" fill="none" stroke="#e41212" stroke-width="1.4" opacity="0.60"/>
<path d="M28.70,15.80 C29.53,14.00 31.08,12.92 33.00,12.20 C34.92,11.48 38.40,10.67 40.20,11.50 C42.00,12.33 43.32,14.80 43.80,17.20 C44.28,19.60 43.70,23.27 43.10,25.90 C42.50,28.53 41.40,31.57 40.20,33.00 C39.00,34.43 37.45,34.97 35.90,34.50 C34.35,34.03 32.22,32.12 30.90,30.20 C29.58,28.28 28.37,25.40 28.00,23.00 C27.63,20.60 27.87,17.60 28.70,15.80 Z" fill="none" stroke="#e41212" stroke-width="1.4" opacity="0.90"/>
<path d="M40.20,11.50 C40.57,10.18 44.08,9.30 46.00,9.30 C47.92,9.30 50.15,9.70 51.70,11.50 C53.25,13.30 54.82,16.98 55.30,20.10 C55.78,23.22 55.43,27.57 54.60,30.20 C53.77,32.83 52.22,34.95 50.30,35.90 C48.38,36.85 44.78,36.38 43.10,35.90 C41.42,35.42 40.20,34.67 40.20,33.00 C40.20,31.33 42.50,28.53 43.10,25.90 C43.70,23.27 44.28,19.60 43.80,17.20 C43.32,14.80 39.83,12.82 40.20,11.50 Z" fill="none" stroke="#e41212" stroke-width="1.4" opacity="0.90"/>
<path d="M53.90,8.60 C54.15,5.60 55.70,4.55 57.50,3.60 C59.30,2.65 62.78,2.07 64.70,2.90 C66.62,3.73 68.17,5.73 69.00,8.60 C69.83,11.47 70.18,17.10 69.70,20.10 C69.22,23.10 67.67,25.40 66.10,26.60 C64.53,27.80 61.98,28.13 60.30,27.30 C58.62,26.47 57.07,24.72 56.00,21.60 C54.93,18.48 53.65,11.60 53.90,8.60 Z" fill="none" stroke="#e41212" stroke-width="1.4" opacity="0.80"/>
<path d="M2.90,24.40 C3.62,22.00 5.28,20.57 7.20,20.10 C9.12,19.63 12.00,20.17 14.40,21.60 C16.80,23.03 19.57,26.07 21.60,28.70 C23.63,31.33 25.65,34.52 26.60,37.40 C27.55,40.28 27.90,43.85 27.30,46.00 C26.70,48.15 25.15,49.82 23.00,50.30 C20.85,50.78 17.03,50.10 14.40,48.90 C11.77,47.70 9.12,45.50 7.20,43.10 C5.28,40.70 3.62,37.62 2.90,34.50 C2.18,31.38 2.18,26.80 2.90,24.40 Z" fill="none" stroke="#e41212" stroke-width="1.4" opacity="0.80"/>
<path d="M23.00,25.90 C23.83,24.95 26.30,25.87 28.70,27.30 C31.10,28.73 34.28,32.35 37.40,34.50 C40.52,36.65 44.42,38.28 47.40,40.20 C50.38,42.12 54.10,44.08 55.30,46.00 C56.50,47.92 56.15,50.50 54.60,51.70 C53.05,52.90 48.87,53.67 46.00,53.20 C43.13,52.73 40.28,50.82 37.40,48.90 C34.52,46.98 30.98,44.35 28.70,41.70 C26.42,39.05 24.65,35.63 23.70,33.00 C22.75,30.37 22.17,26.85 23.00,25.90 Z" fill="none" stroke="#e41212" stroke-width="1.4" opacity="0.80"/>
<path d="M54.60,34.50 C55.55,32.47 58.15,30.22 60.30,29.50 C62.45,28.78 65.88,28.88 67.50,30.20 C69.12,31.52 69.75,34.53 70.00,37.40 C70.25,40.27 70.13,45.25 69.00,47.40 C67.87,49.55 65.23,50.30 63.20,50.30 C61.17,50.30 58.23,48.83 56.80,47.40 C55.37,45.97 54.97,43.85 54.60,41.70 C54.23,39.55 53.65,36.53 54.60,34.50 Z" fill="none" stroke="#e41212" stroke-width="1.4" opacity="0.70"/>
<path d="M12.90,57.50 C13.50,55.82 14.57,52.90 17.20,51.70 C19.83,50.50 24.87,50.05 28.70,50.30 C32.53,50.55 37.68,51.53 40.20,53.20 C42.72,54.87 43.80,58.15 43.80,60.30 C43.80,62.45 42.72,64.90 40.20,66.10 C37.68,67.30 32.53,67.50 28.70,67.50 C24.87,67.50 19.72,67.05 17.20,66.10 C14.68,65.15 14.32,63.23 13.60,61.80 C12.88,60.37 12.30,59.18 12.90,57.50 Z" fill="none" stroke="#e41212" stroke-width="1.4" opacity="0.90"/>
<path d="M50.30,67.50 C51.02,65.72 52.68,62.45 54.60,60.30 C56.52,58.15 59.65,55.67 61.80,54.60 C63.95,53.53 65.97,53.42 67.50,53.90 C69.03,54.38 70.42,54.65 71.00,57.50 C71.58,60.35 74.45,68.75 71.00,71.00 C67.55,73.25 53.75,71.58 50.30,71.00 C46.85,70.42 49.58,69.28 50.30,67.50 Z" fill="none" stroke="#e41212" stroke-width="1.4" opacity="0.60"/>
<path d="M-2.00,42.00 C-1.43,39.42 0.12,43.12 1.40,44.50 C2.68,45.88 4.73,47.67 5.70,50.30 C6.67,52.93 7.43,57.43 7.20,60.30 C6.97,63.17 5.50,66.05 4.30,67.50 C3.10,68.95 1.05,70.25 0.00,69.00 C-1.05,67.75 -1.67,64.50 -2.00,60.00 C-2.33,55.50 -2.57,44.58 -2.00,42.00 Z" fill="none" stroke="#e41212" stroke-width="1.4" opacity="0.50"/>
</g>
<g filter="url(#bk2)">
<rect width="69.60" height="69.00" fill="none"/>
<ellipse cx="11.5" cy="34.5" rx="3.96" ry="4.68" fill="#e41212" opacity="1.00"/>
<ellipse cx="62.5" cy="14.4" rx="2.86" ry="3.38" fill="#e41212" opacity="1.00"/>
<ellipse cx="50" cy="35" rx="1.98" ry="2.34" fill="#e41212" opacity="0.72"/>
<ellipse cx="38.8" cy="33" rx="1.43" ry="1.69" fill="#e41212" opacity="0.36"/>
</g>
<ellipse cx="11.5" cy="34.5" rx="3.06" ry="3.78" fill="#e41212" opacity="0.75" filter="url(#bl2)"/>
<ellipse cx="62.5" cy="14.4" rx="2.21" ry="2.73" fill="#e41212" opacity="0.75" filter="url(#bl2)"/>
<ellipse cx="50" cy="35" rx="1.53" ry="1.89" fill="#e41212" opacity="0.45" filter="url(#bl2)"/>
<ellipse cx="38.8" cy="33" rx="1.10" ry="1.37" fill="#e41212" opacity="0.22" filter="url(#bl2)"/>
</svg>
<line x1="337.00" y1="269.80" x2="685.00" y2="269.80" stroke="#6a6a6a" stroke-width="1" />
<line x1="337.00" y1="338.80" x2="685.00" y2="338.80" stroke="#5a5a5a" stroke-width="1" />
<line x1="337.00" y1="408.50" x2="685.00" y2="408.50" stroke="#d8d8d8" stroke-width="1" />
<line x1="406.10" y1="201.00" x2="406.10" y2="477.10" stroke="#b8b8b8" stroke-width="1.3" />
<line x1="475.50" y1="201.00" x2="475.50" y2="477.10" stroke="#b8b8b8" stroke-width="1.3" />
<line x1="545.60" y1="201.00" x2="545.60" y2="477.10" stroke="#b8b8b8" stroke-width="1.3" />
<line x1="615.50" y1="201.00" x2="615.50" y2="477.10" stroke="#b8b8b8" stroke-width="1.3" />
<rect x="341.00" y="264.80" width="16" height="2.5" fill="#fff"/>
<rect x="341.00" y="333.80" width="16" height="2.5" fill="#fff"/>
<rect x="341.00" y="403.50" width="16" height="2.5" fill="#fff"/>
<rect x="341.00" y="472.10" width="16" height="2.5" fill="#fff"/>
<rect x="410.10" y="264.80" width="16" height="2.5" fill="#fff"/>
<rect x="410.10" y="333.80" width="16" height="2.5" fill="#fff"/>
<rect x="410.10" y="403.50" width="16" height="2.5" fill="#fff"/>
<rect x="410.10" y="472.10" width="16" height="2.5" fill="#fff"/>
<rect x="479.50" y="264.80" width="16" height="2.5" fill="#fff"/>
<rect x="479.50" y="333.80" width="16" height="2.5" fill="#fff"/>
<rect x="479.50" y="403.50" width="16" height="2.5" fill="#fff"/>
<rect x="479.50" y="472.10" width="16" height="2.5" fill="#fff"/>
<rect x="549.60" y="264.80" width="16" height="2.5" fill="#fff"/>
<rect x="549.60" y="333.80" width="16" height="2.5" fill="#fff"/>
<rect x="549.60" y="403.50" width="16" height="2.5" fill="#fff"/>
<rect x="549.60" y="472.10" width="16" height="2.5" fill="#fff"/>
<rect x="619.50" y="264.80" width="16" height="2.5" fill="#fff"/>
<rect x="619.50" y="333.80" width="16" height="2.5" fill="#fff"/>
<rect x="619.50" y="403.50" width="16" height="2.5" fill="#fff"/>
<rect x="619.50" y="472.10" width="16" height="2.5" fill="#fff"/>
<text x="339.40" y="209.60" font-size="8.6" text-anchor="start" fill="#c8c8c8" font-weight="normal"  stroke="#c8c8c8" stroke-width="0.16">1</text>
<text x="408.50" y="209.60" font-size="8.6" text-anchor="start" fill="#c8c8c8" font-weight="normal"  stroke="#c8c8c8" stroke-width="0.16">2</text>
<text x="477.90" y="209.60" font-size="8.6" text-anchor="start" fill="#c8c8c8" font-weight="normal"  stroke="#c8c8c8" stroke-width="0.16">3</text>
<text x="548.00" y="209.60" font-size="8.6" text-anchor="start" fill="#c8c8c8" font-weight="normal"  stroke="#c8c8c8" stroke-width="0.16">4</text>
<text x="617.90" y="209.60" font-size="8.6" text-anchor="start" fill="#c8c8c8" font-weight="normal"  stroke="#c8c8c8" stroke-width="0.16">5</text>
<line x1="60.20" y1="303.50" x2="60.20" y2="416.00" stroke="#555" stroke-width="0.9" />
<line x1="56.00" y1="416.00" x2="231.30" y2="416.00" stroke="#555" stroke-width="0.9" />
<line x1="55.90" y1="416.00" x2="60.20" y2="416.00" stroke="#555" stroke-width="0.8" />
<text x="52.60" y="418.60" font-size="7.6" text-anchor="end" fill="#333" font-weight="normal"  stroke="#333" stroke-width="0.16">0</text>
<line x1="55.90" y1="371.10" x2="60.20" y2="371.10" stroke="#555" stroke-width="0.8" />
<text x="52.60" y="373.70" font-size="7.6" text-anchor="end" fill="#333" font-weight="normal"  stroke="#333" stroke-width="0.16">100</text>
<line x1="55.90" y1="326.20" x2="60.20" y2="326.20" stroke="#555" stroke-width="0.8" />
<text x="52.60" y="328.80" font-size="7.6" text-anchor="end" fill="#333" font-weight="normal"  stroke="#333" stroke-width="0.16">200</text>
<text x="0" y="0" font-size="7.5" text-anchor="middle" fill="#333" textLength="78" lengthAdjust="spacingAndGlyphs" transform="translate(31.1,344.6) rotate(-90)" stroke="#333" stroke-width="0.16">DyLight 405 intensity (a.u.)</text>
<line x1="78.60" y1="416.00" x2="78.60" y2="419.30" stroke="#555" stroke-width="0.8" />
<text x="78.60" y="429.00" font-size="7.2" text-anchor="middle" fill="#333" font-weight="normal"  stroke="#333" stroke-width="0.16">1</text>
<line x1="105.20" y1="416.00" x2="105.20" y2="419.30" stroke="#555" stroke-width="0.8" />
<text x="105.20" y="429.00" font-size="7.2" text-anchor="middle" fill="#333" font-weight="normal"  stroke="#333" stroke-width="0.16">2</text>
<line x1="132.30" y1="416.00" x2="132.30" y2="419.30" stroke="#555" stroke-width="0.8" />
<text x="132.30" y="429.00" font-size="7.2" text-anchor="middle" fill="#333" font-weight="normal"  stroke="#333" stroke-width="0.16">3</text>
<line x1="159.40" y1="416.00" x2="159.40" y2="419.30" stroke="#555" stroke-width="0.8" />
<text x="159.40" y="429.00" font-size="7.2" text-anchor="middle" fill="#333" font-weight="normal"  stroke="#333" stroke-width="0.16">4</text>
<line x1="186.50" y1="416.00" x2="186.50" y2="419.30" stroke="#555" stroke-width="0.8" />
<text x="186.50" y="429.00" font-size="7.2" text-anchor="middle" fill="#333" font-weight="normal"  stroke="#333" stroke-width="0.16">5</text>
<line x1="213.30" y1="416.00" x2="213.30" y2="419.30" stroke="#555" stroke-width="0.8" />
<text x="213.30" y="429.00" font-size="7.2" text-anchor="middle" fill="#333" font-weight="normal"  stroke="#333" stroke-width="0.16">6</text>
<line x1="78.20" y1="290.80" x2="78.20" y2="403.20" stroke="#888" stroke-width="0.8" />
<line x1="78.20" y1="290.80" x2="105.40" y2="290.80" stroke="#555" stroke-width="0.8" />
<line x1="105.40" y1="290.80" x2="105.40" y2="296.80" stroke="#555" stroke-width="0.8" />
<text x="92.80" y="288.90" font-size="7.6" text-anchor="middle" fill="#333" font-weight="normal"  stroke="#333" stroke-width="0.16">&lt;0.0001</text>
<line x1="104.90" y1="268.70" x2="209.80" y2="268.70" stroke="#666" stroke-width="0.8" />
<line x1="127.60" y1="268.70" x2="127.60" y2="274.80" stroke="#555" stroke-width="0.8" />
<line x1="154.80" y1="268.70" x2="154.80" y2="274.80" stroke="#555" stroke-width="0.8" />
<line x1="181.30" y1="268.70" x2="181.30" y2="274.80" stroke="#555" stroke-width="0.8" />
<line x1="209.80" y1="268.70" x2="209.80" y2="275.50" stroke="#666" stroke-width="0.8" />
<line x1="104.90" y1="268.70" x2="104.90" y2="276.00" stroke="#e83030" stroke-width="0.8" />
<circle cx="104.9" cy="276.6" r="0.9" fill="#e83030"/>
<text x="158.50" y="267.60" font-size="7.6" text-anchor="middle" fill="#333" font-weight="normal"  stroke="#333" stroke-width="0.16">&lt;0.0001</text>
<path d="M104.90,302.85 L104.60,317.22 L104.30,335.18 L104.10,348.65 L103.60,362.12 L103.00,371.10 L101.70,377.83 L99.70,385.92 L97.70,394.00 L96.60,400.29 L96.20,403.88 L96.60,407.02 L98.20,410.16 L100.70,413.31 L103.20,415.10 L104.70,416.00 L105.70,416.00 L107.20,415.10 L109.70,413.31 L112.20,410.16 L113.80,407.02 L114.20,403.88 L113.80,400.29 L112.70,394.00 L110.70,385.92 L108.70,377.83 L107.40,371.10 L106.80,362.12 L106.30,348.65 L106.10,335.18 L105.80,317.22 L105.50,302.85 Z" fill="#2c8fbf" stroke="#1d7aa8" stroke-width="0.5"/>
<circle cx="104.75" cy="384.85" r="0.55" fill="#7fc3e0" opacity="0.7"/>
<circle cx="107.30" cy="403.95" r="0.55" fill="#7fc3e0" opacity="0.7"/>
<circle cx="105.72" cy="394.17" r="0.55" fill="#7fc3e0" opacity="0.7"/>
<circle cx="108.78" cy="381.00" r="0.55" fill="#7fc3e0" opacity="0.7"/>
<circle cx="110.05" cy="397.61" r="0.55" fill="#7fc3e0" opacity="0.7"/>
<circle cx="104.64" cy="320.95" r="0.55" fill="#7fc3e0" opacity="0.7"/>
<circle cx="104.85" cy="324.87" r="0.55" fill="#7fc3e0" opacity="0.7"/>
<circle cx="101.65" cy="404.79" r="0.55" fill="#7fc3e0" opacity="0.7"/>
<circle cx="104.88" cy="325.10" r="0.55" fill="#7fc3e0" opacity="0.7"/>
<circle cx="108.38" cy="410.62" r="0.55" fill="#7fc3e0" opacity="0.7"/>
<circle cx="110.83" cy="403.87" r="0.55" fill="#7fc3e0" opacity="0.7"/>
<circle cx="103.21" cy="402.93" r="0.55" fill="#7fc3e0" opacity="0.7"/>
<circle cx="109.16" cy="396.25" r="0.55" fill="#7fc3e0" opacity="0.7"/>
<circle cx="108.67" cy="409.26" r="0.55" fill="#7fc3e0" opacity="0.7"/>
<circle cx="104.79" cy="410.84" r="0.55" fill="#7fc3e0" opacity="0.7"/>
<circle cx="101.04" cy="393.88" r="0.55" fill="#7fc3e0" opacity="0.7"/>
<circle cx="103.72" cy="395.68" r="0.55" fill="#7fc3e0" opacity="0.7"/>
<circle cx="104.96" cy="322.55" r="0.55" fill="#7fc3e0" opacity="0.7"/>
<circle cx="105.81" cy="372.15" r="0.55" fill="#7fc3e0" opacity="0.7"/>
<circle cx="103.75" cy="362.67" r="0.55" fill="#7fc3e0" opacity="0.7"/>
<circle cx="99.06" cy="398.68" r="0.55" fill="#7fc3e0" opacity="0.7"/>
<circle cx="107.11" cy="401.21" r="0.55" fill="#7fc3e0" opacity="0.7"/>
<circle cx="109.58" cy="410.61" r="0.55" fill="#7fc3e0" opacity="0.7"/>
<circle cx="104.92" cy="317.90" r="0.55" fill="#7fc3e0" opacity="0.7"/>
<circle cx="107.74" cy="409.07" r="0.55" fill="#7fc3e0" opacity="0.7"/>
<circle cx="98.81" cy="404.17" r="0.55" fill="#7fc3e0" opacity="0.7"/>
<circle cx="104.00" cy="388.60" r="0.55" fill="#7fc3e0" opacity="0.7"/>
<circle cx="104.27" cy="361.95" r="0.55" fill="#7fc3e0" opacity="0.7"/>
<circle cx="106.98" cy="389.66" r="0.55" fill="#7fc3e0" opacity="0.7"/>
<circle cx="108.92" cy="398.55" r="0.55" fill="#7fc3e0" opacity="0.7"/>
<circle cx="101.99" cy="412.05" r="0.55" fill="#7fc3e0" opacity="0.7"/>
<circle cx="101.90" cy="384.21" r="0.55" fill="#7fc3e0" opacity="0.7"/>
<circle cx="105.34" cy="336.42" r="0.55" fill="#7fc3e0" opacity="0.7"/>
<circle cx="107.22" cy="411.94" r="0.55" fill="#7fc3e0" opacity="0.7"/>
<circle cx="101.29" cy="412.66" r="0.55" fill="#7fc3e0" opacity="0.7"/>
<circle cx="105.92" cy="406.70" r="0.55" fill="#7fc3e0" opacity="0.7"/>
<circle cx="104.59" cy="335.98" r="0.55" fill="#7fc3e0" opacity="0.7"/>
<circle cx="110.88" cy="396.12" r="0.55" fill="#7fc3e0" opacity="0.7"/>
<circle cx="106.13" cy="392.22" r="0.55" fill="#7fc3e0" opacity="0.7"/>
<circle cx="104.25" cy="352.27" r="0.55" fill="#7fc3e0" opacity="0.7"/>
<circle cx="108.57" cy="407.79" r="0.55" fill="#7fc3e0" opacity="0.7"/>
<circle cx="104.99" cy="375.80" r="0.55" fill="#7fc3e0" opacity="0.7"/>
<circle cx="106.25" cy="386.97" r="0.55" fill="#7fc3e0" opacity="0.7"/>
<circle cx="109.62" cy="401.87" r="0.55" fill="#7fc3e0" opacity="0.7"/>
<circle cx="102.99" cy="388.65" r="0.55" fill="#7fc3e0" opacity="0.7"/>
<circle cx="107.77" cy="403.30" r="0.55" fill="#7fc3e0" opacity="0.7"/>
<circle cx="103.47" cy="379.26" r="0.55" fill="#7fc3e0" opacity="0.7"/>
<circle cx="110.82" cy="398.09" r="0.55" fill="#7fc3e0" opacity="0.7"/>
<circle cx="99.31" cy="404.26" r="0.55" fill="#7fc3e0" opacity="0.7"/>
<circle cx="112.36" cy="405.09" r="0.55" fill="#7fc3e0" opacity="0.7"/>
<circle cx="111.99" cy="405.02" r="0.55" fill="#7fc3e0" opacity="0.7"/>
<circle cx="104.71" cy="358.89" r="0.55" fill="#7fc3e0" opacity="0.7"/>
<circle cx="109.50" cy="393.03" r="0.55" fill="#7fc3e0" opacity="0.7"/>
<circle cx="105.79" cy="382.38" r="0.55" fill="#7fc3e0" opacity="0.7"/>
<circle cx="103.71" cy="406.12" r="0.55" fill="#7fc3e0" opacity="0.7"/>
<circle cx="109.24" cy="409.06" r="0.55" fill="#7fc3e0" opacity="0.7"/>
<circle cx="107.66" cy="402.25" r="0.55" fill="#7fc3e0" opacity="0.7"/>
<circle cx="109.55" cy="393.82" r="0.55" fill="#7fc3e0" opacity="0.7"/>
<circle cx="105.54" cy="334.09" r="0.55" fill="#7fc3e0" opacity="0.7"/>
<circle cx="107.93" cy="377.27" r="0.55" fill="#7fc3e0" opacity="0.7"/>
<circle cx="111.06" cy="396.96" r="0.55" fill="#7fc3e0" opacity="0.7"/>
<circle cx="104.68" cy="411.60" r="0.55" fill="#7fc3e0" opacity="0.7"/>
<circle cx="105.78" cy="413.05" r="0.55" fill="#7fc3e0" opacity="0.7"/>
<circle cx="104.42" cy="372.61" r="0.55" fill="#7fc3e0" opacity="0.7"/>
<circle cx="105.72" cy="322.36" r="0.55" fill="#7fc3e0" opacity="0.7"/>
<circle cx="110.84" cy="410.71" r="0.55" fill="#7fc3e0" opacity="0.7"/>
<circle cx="107.78" cy="379.95" r="0.55" fill="#7fc3e0" opacity="0.7"/>
<circle cx="104.93" cy="367.23" r="0.55" fill="#7fc3e0" opacity="0.7"/>
<circle cx="104.10" cy="406.96" r="0.55" fill="#7fc3e0" opacity="0.7"/>
<circle cx="104.94" cy="412.89" r="0.55" fill="#7fc3e0" opacity="0.7"/>
<circle cx="105.71" cy="359.08" r="0.55" fill="#7fc3e0" opacity="0.7"/>
<circle cx="108.27" cy="390.40" r="0.55" fill="#7fc3e0" opacity="0.7"/>
<circle cx="105.39" cy="326.06" r="0.55" fill="#7fc3e0" opacity="0.7"/>
<circle cx="105.86" cy="370.19" r="0.55" fill="#7fc3e0" opacity="0.7"/>
<circle cx="106.49" cy="368.83" r="0.55" fill="#7fc3e0" opacity="0.7"/>
<circle cx="104.16" cy="389.84" r="0.55" fill="#7fc3e0" opacity="0.7"/>
<circle cx="107.53" cy="373.97" r="0.55" fill="#7fc3e0" opacity="0.7"/>
<circle cx="104.66" cy="329.23" r="0.55" fill="#7fc3e0" opacity="0.7"/>
<circle cx="103.83" cy="405.14" r="0.55" fill="#7fc3e0" opacity="0.7"/>
<circle cx="105.18" cy="366.07" r="0.55" fill="#7fc3e0" opacity="0.7"/>
<circle cx="105.29" cy="367.24" r="0.55" fill="#7fc3e0" opacity="0.7"/>
<circle cx="100.51" cy="392.09" r="0.55" fill="#7fc3e0" opacity="0.7"/>
<circle cx="98.53" cy="394.51" r="0.55" fill="#7fc3e0" opacity="0.7"/>
<circle cx="102.91" cy="376.39" r="0.55" fill="#7fc3e0" opacity="0.7"/>
<circle cx="108.49" cy="407.42" r="0.55" fill="#7fc3e0" opacity="0.7"/>
<circle cx="104.25" cy="411.30" r="0.55" fill="#7fc3e0" opacity="0.7"/>
<circle cx="105.63" cy="392.20" r="0.55" fill="#7fc3e0" opacity="0.7"/>
<circle cx="106.09" cy="356.47" r="0.55" fill="#7fc3e0" opacity="0.7"/>
<circle cx="102.52" cy="408.01" r="0.55" fill="#7fc3e0" opacity="0.7"/>
<circle cx="111.29" cy="405.98" r="0.55" fill="#7fc3e0" opacity="0.7"/>
<circle cx="103.44" cy="401.40" r="0.55" fill="#7fc3e0" opacity="0.7"/>
<circle cx="104.27" cy="356.43" r="0.55" fill="#7fc3e0" opacity="0.7"/>
<circle cx="106.33" cy="403.81" r="0.55" fill="#7fc3e0" opacity="0.7"/>
<circle cx="105.23" cy="375.63" r="0.55" fill="#7fc3e0" opacity="0.7"/>
<circle cx="109.39" cy="395.03" r="0.55" fill="#7fc3e0" opacity="0.7"/>
<circle cx="105.22" cy="333.35" r="0.55" fill="#7fc3e0" opacity="0.7"/>
<circle cx="100.19" cy="399.71" r="0.55" fill="#7fc3e0" opacity="0.7"/>
<circle cx="104.40" cy="342.75" r="0.55" fill="#7fc3e0" opacity="0.7"/>
<circle cx="103.93" cy="389.90" r="0.55" fill="#7fc3e0" opacity="0.7"/>
<circle cx="98.41" cy="395.45" r="0.55" fill="#7fc3e0" opacity="0.7"/>
<circle cx="104.66" cy="370.16" r="0.55" fill="#7fc3e0" opacity="0.7"/>
<circle cx="105.40" cy="404.61" r="0.55" fill="#7fc3e0" opacity="0.7"/>
<circle cx="105.74" cy="329.16" r="0.55" fill="#7fc3e0" opacity="0.7"/>
<circle cx="105.25" cy="391.31" r="0.55" fill="#7fc3e0" opacity="0.7"/>
<circle cx="108.01" cy="389.49" r="0.55" fill="#7fc3e0" opacity="0.7"/>
<circle cx="106.78" cy="371.69" r="0.55" fill="#7fc3e0" opacity="0.7"/>
<circle cx="103.73" cy="374.14" r="0.55" fill="#7fc3e0" opacity="0.7"/>
<circle cx="98.60" cy="409.19" r="0.55" fill="#7fc3e0" opacity="0.7"/>
<circle cx="101.58" cy="404.97" r="0.55" fill="#7fc3e0" opacity="0.7"/>
<circle cx="106.23" cy="398.32" r="0.55" fill="#7fc3e0" opacity="0.7"/>
<circle cx="104.99" cy="308.25" r="0.55" fill="#7fc3e0" opacity="0.7"/>
<circle cx="106.55" cy="410.80" r="0.55" fill="#7fc3e0" opacity="0.7"/>
<circle cx="108.85" cy="395.51" r="0.55" fill="#7fc3e0" opacity="0.7"/>
<circle cx="108.55" cy="413.20" r="0.55" fill="#7fc3e0" opacity="0.7"/>
<circle cx="105.50" cy="311.71" r="0.55" fill="#7fc3e0" opacity="0.7"/>
<circle cx="105.39" cy="345.73" r="0.55" fill="#7fc3e0" opacity="0.7"/>
<circle cx="103.62" cy="395.01" r="0.55" fill="#7fc3e0" opacity="0.7"/>
<circle cx="104.09" cy="356.57" r="0.55" fill="#7fc3e0" opacity="0.7"/>
<circle cx="104.71" cy="358.17" r="0.55" fill="#7fc3e0" opacity="0.7"/>
<circle cx="107.03" cy="388.80" r="0.55" fill="#7fc3e0" opacity="0.7"/>
<circle cx="104.50" cy="332.25" r="0.55" fill="#7fc3e0" opacity="0.7"/>
<circle cx="106.50" cy="374.79" r="0.55" fill="#7fc3e0" opacity="0.7"/>
<circle cx="107.95" cy="412.52" r="0.55" fill="#7fc3e0" opacity="0.7"/>
<circle cx="98.67" cy="408.23" r="0.55" fill="#7fc3e0" opacity="0.7"/>
<circle cx="110.44" cy="411.32" r="0.55" fill="#7fc3e0" opacity="0.7"/>
<circle cx="103.90" cy="401.61" r="0.55" fill="#7fc3e0" opacity="0.7"/>
<circle cx="100.83" cy="410.84" r="0.55" fill="#7fc3e0" opacity="0.7"/>
<circle cx="106.17" cy="379.27" r="0.55" fill="#7fc3e0" opacity="0.7"/>
<circle cx="111.73" cy="396.91" r="0.55" fill="#7fc3e0" opacity="0.7"/>
<circle cx="109.67" cy="401.44" r="0.55" fill="#7fc3e0" opacity="0.7"/>
<circle cx="107.35" cy="385.11" r="0.55" fill="#7fc3e0" opacity="0.7"/>
<circle cx="100.77" cy="396.49" r="0.55" fill="#7fc3e0" opacity="0.7"/>
<circle cx="104.70" cy="317.13" r="0.55" fill="#7fc3e0" opacity="0.7"/>
<circle cx="103.49" cy="368.89" r="0.55" fill="#7fc3e0" opacity="0.7"/>
<circle cx="104.66" cy="334.01" r="0.55" fill="#7fc3e0" opacity="0.7"/>
<circle cx="104.33" cy="363.08" r="0.55" fill="#7fc3e0" opacity="0.7"/>
<circle cx="110.00" cy="405.27" r="0.55" fill="#7fc3e0" opacity="0.7"/>
<circle cx="104.31" cy="402.71" r="0.55" fill="#7fc3e0" opacity="0.7"/>
<circle cx="107.34" cy="395.30" r="0.55" fill="#7fc3e0" opacity="0.7"/>
<circle cx="106.00" cy="355.87" r="0.55" fill="#7fc3e0" opacity="0.7"/>
<circle cx="107.92" cy="380.00" r="0.55" fill="#7fc3e0" opacity="0.7"/>
<circle cx="109.37" cy="409.47" r="0.55" fill="#7fc3e0" opacity="0.7"/>
<circle cx="104.05" cy="371.23" r="0.55" fill="#7fc3e0" opacity="0.7"/>
<circle cx="107.32" cy="381.70" r="0.55" fill="#7fc3e0" opacity="0.7"/>
<circle cx="107.92" cy="390.67" r="0.55" fill="#7fc3e0" opacity="0.7"/>
<circle cx="105.36" cy="338.92" r="0.55" fill="#7fc3e0" opacity="0.7"/>
<circle cx="107.98" cy="384.29" r="0.55" fill="#7fc3e0" opacity="0.7"/>
<circle cx="106.83" cy="371.59" r="0.55" fill="#7fc3e0" opacity="0.7"/>
<circle cx="107.65" cy="395.08" r="0.55" fill="#7fc3e0" opacity="0.7"/>
<circle cx="106.54" cy="372.65" r="0.55" fill="#7fc3e0" opacity="0.7"/>
<circle cx="98.84" cy="400.41" r="0.55" fill="#7fc3e0" opacity="0.7"/>
<circle cx="105.45" cy="402.53" r="0.55" fill="#7fc3e0" opacity="0.7"/>
<circle cx="105.50" cy="311.78" r="0.55" fill="#7fc3e0" opacity="0.7"/>
<circle cx="101.90" cy="381.52" r="0.55" fill="#7fc3e0" opacity="0.7"/>
<circle cx="100.30" cy="411.74" r="0.55" fill="#7fc3e0" opacity="0.7"/>
<circle cx="101.66" cy="408.72" r="0.55" fill="#7fc3e0" opacity="0.7"/>
<circle cx="104.67" cy="374.24" r="0.55" fill="#7fc3e0" opacity="0.7"/>
<circle cx="105.16" cy="363.76" r="0.55" fill="#7fc3e0" opacity="0.7"/>
<circle cx="104.00" cy="393.88" r="0.55" fill="#7fc3e0" opacity="0.7"/>
<circle cx="107.53" cy="379.33" r="0.55" fill="#7fc3e0" opacity="0.7"/>
<line x1="97.90" y1="395.80" x2="112.50" y2="395.80" stroke="#e2263a" stroke-width="1.2" />
<line x1="99.80" y1="385.47" x2="110.60" y2="385.47" stroke="#111" stroke-width="0.6" stroke-dasharray="0.8 0.8"/>
<line x1="96.50" y1="404.77" x2="113.90" y2="404.77" stroke="#111" stroke-width="0.6" stroke-dasharray="0.8 0.8"/>
<path d="M69.30,412.18 Q69.30,410.48 73.95,410.48 L77.10,410.48 L78.60,409.48 L80.10,410.48 L83.25,410.48 Q87.90,410.48 87.90,412.18 Q87.90,413.88 83.25,413.88 L73.95,413.88 Q69.30,413.88 69.30,412.18 Z" fill="#e5246a" stroke="#e5246a" stroke-width="0.5"/>
<line x1="73.60" y1="412.18" x2="83.60" y2="412.18" stroke="#c01030" stroke-width="0.9" stroke-dasharray="1 0.6"/>
<path d="M123.50,412.41 Q123.50,410.81 127.90,410.81 L130.80,410.81 L132.30,408.31 L133.80,410.81 L136.70,410.81 Q141.10,410.81 141.10,412.41 Q141.10,414.01 136.70,414.01 L127.90,414.01 Q123.50,414.01 123.50,412.41 Z" fill="#f7b12a" stroke="#f7b12a" stroke-width="0.5"/>
<line x1="127.30" y1="412.41" x2="137.30" y2="412.41" stroke="#c01030" stroke-width="0.9" stroke-dasharray="1 0.6"/>
<path d="M150.10,412.63 Q150.10,411.03 154.75,411.03 L157.90,411.03 L159.40,410.03 L160.90,411.03 L164.05,411.03 Q168.70,411.03 168.70,412.63 Q168.70,414.23 164.05,414.23 L154.75,414.23 Q150.10,414.23 150.10,412.63 Z" fill="#2fd1ad" stroke="#2fd1ad" stroke-width="0.5"/>
<line x1="154.40" y1="412.63" x2="164.40" y2="412.63" stroke="#c01030" stroke-width="0.9" stroke-dasharray="1 0.6"/>
<path d="M177.20,412.41 Q177.20,410.81 181.85,410.81 L185.00,410.81 L186.50,409.81 L188.00,410.81 L191.15,410.81 Q195.80,410.81 195.80,412.41 Q195.80,414.01 191.15,414.01 L181.85,414.01 Q177.20,414.01 177.20,412.41 Z" fill="#f47a52" stroke="#f47a52" stroke-width="0.5"/>
<line x1="181.50" y1="412.41" x2="191.50" y2="412.41" stroke="#c01030" stroke-width="0.9" stroke-dasharray="1 0.6"/>
<path d="M203.90,412.18 Q203.90,409.08 208.60,409.08 L211.80,409.08 L213.30,409.08 L214.80,409.08 L218.00,409.08 Q222.70,409.08 222.70,412.18 Q222.70,415.28 218.00,415.28 L208.60,415.28 Q203.90,415.28 203.90,412.18 Z" fill="#163a55" stroke="#0d2233" stroke-width="0.5"/>
<line x1="208.30" y1="412.18" x2="218.30" y2="412.18" stroke="#c01030" stroke-width="0.9" stroke-dasharray="1 0.6"/>
<text x="49.20" y="439.60" font-size="7.4" text-anchor="end" fill="#333" font-weight="normal"  stroke="#333" stroke-width="0.16">H1</text>
<text x="49.20" y="453.60" font-size="7.4" text-anchor="end" fill="#333" font-weight="normal"  stroke="#333" stroke-width="0.16">H2</text>
<text x="27.30" y="465.80" font-size="7.4" text-anchor="start" fill="#333" font-weight="normal" textLength="33" lengthAdjust="spacingAndGlyphs" stroke="#333" stroke-width="0.16">mAb anti-</text>
<text x="27.30" y="479.20" font-size="7.4" text-anchor="start" fill="#333" font-weight="normal" textLength="32.3" lengthAdjust="spacingAndGlyphs" stroke="#333" stroke-width="0.16">Protein G</text>
<text x="79.40" y="439.50" font-size="7.0" text-anchor="middle" fill="#333" stroke="#333" stroke-width="0.16">H1<tspan font-size="4.8" dy="-2.8">Fl</tspan></text>
<text x="106.00" y="439.50" font-size="7.0" text-anchor="middle" fill="#333" stroke="#333" stroke-width="0.16">H1<tspan font-size="4.8" dy="-2.8">Fl</tspan></text>
<text x="133.10" y="439.50" font-size="7.0" text-anchor="middle" fill="#333" stroke="#333" stroke-width="0.16">H1<tspan font-size="4.8" dy="-2.8">Fl</tspan></text>
<text x="160.20" y="439.50" font-size="7.0" text-anchor="middle" fill="#333" stroke="#333" stroke-width="0.16">H1<tspan font-size="4.8" dy="-2.8">Fl</tspan></text>
<text x="187.30" y="439.50" font-size="7.0" text-anchor="middle" fill="#333" stroke="#333" stroke-width="0.16">H1<tspan font-size="4.8" dy="-2.8">Fl</tspan></text>
<text x="214.10" y="439.50" font-size="7.0" text-anchor="middle" fill="#333" stroke="#333" stroke-width="0.16">H1<tspan font-size="4.8" dy="-2.8">Fl</tspan></text>
<text x="78.60" y="453.50" font-size="7.0" text-anchor="middle" fill="#ee2a24" font-weight="normal"  stroke="#ee2a24" stroke-width="0.16">–</text>
<text x="106.00" y="453.50" font-size="7.0" text-anchor="middle" fill="#333" stroke="#333" stroke-width="0.16">H2<tspan font-size="4.8" dy="-2.8">Fl</tspan></text>
<text x="133.10" y="453.50" font-size="7.0" text-anchor="middle" fill="#333" stroke="#333" stroke-width="0.16">H2<tspan font-size="4.8" dy="-2.8">Fl</tspan></text>
<text x="160.20" y="453.50" font-size="7.0" text-anchor="middle" fill="#333" stroke="#333" stroke-width="0.16">H2<tspan font-size="4.8" dy="-2.8">Fl</tspan></text>
<text x="187.30" y="453.50" font-size="7.0" text-anchor="middle" fill="#333" stroke="#333" stroke-width="0.16">H2<tspan font-size="4.8" dy="-2.8">Fl</tspan></text>
<text x="214.10" y="453.50" font-size="7.0" text-anchor="middle" fill="#333" stroke="#333" stroke-width="0.16">H2<tspan font-size="4.8" dy="-2.8">Fl</tspan></text>
<text x="78.60" y="465.80" font-size="7.0" text-anchor="middle" fill="#333" font-weight="normal"  stroke="#333" stroke-width="0.16">FITC</text>
<text x="105.20" y="465.80" font-size="7.0" text-anchor="middle" fill="#333" font-weight="normal"  stroke="#333" stroke-width="0.16">FITC</text>
<text x="132.30" y="465.80" font-size="7.0" text-anchor="middle" fill="#ee2a24" font-weight="normal"  stroke="#ee2a24" stroke-width="0.16">GAL4</text>
<text x="159.40" y="465.80" font-size="7.0" text-anchor="middle" fill="#333" font-weight="normal"  stroke="#333" stroke-width="0.16">FITC</text>
<text x="186.50" y="465.80" font-size="7.0" text-anchor="middle" fill="#ee2a24" font-weight="normal"  stroke="#ee2a24" stroke-width="0.16">–</text>
<text x="213.30" y="465.80" font-size="7.0" text-anchor="middle" fill="#ee2a24" font-weight="normal"  stroke="#ee2a24" stroke-width="0.16">–</text>
<text x="78.60" y="479.00" font-size="7.0" text-anchor="middle" fill="#333" font-weight="normal"  stroke="#333" stroke-width="0.16">+</text>
<text x="105.20" y="479.00" font-size="7.0" text-anchor="middle" fill="#333" font-weight="normal"  stroke="#333" stroke-width="0.16">+</text>
<text x="132.30" y="479.00" font-size="7.0" text-anchor="middle" fill="#333" font-weight="normal"  stroke="#333" stroke-width="0.16">+</text>
<text x="159.40" y="479.00" font-size="7.0" text-anchor="middle" fill="#ee2a24" font-weight="normal"  stroke="#ee2a24" stroke-width="0.16">–</text>
<text x="186.50" y="479.00" font-size="7.0" text-anchor="middle" fill="#333" font-weight="normal"  stroke="#333" stroke-width="0.16">+</text>
<text x="213.30" y="479.00" font-size="7.0" text-anchor="middle" fill="#ee2a24" font-weight="normal"  stroke="#ee2a24" stroke-width="0.16">–</text>
</svg>
</body></html>
